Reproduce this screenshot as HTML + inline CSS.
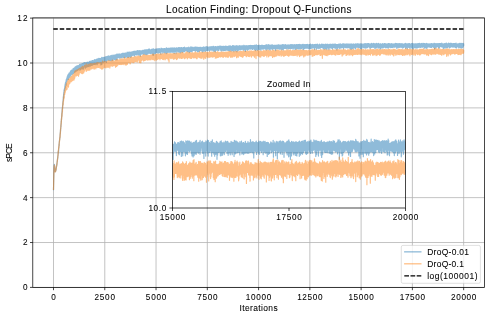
<!DOCTYPE html>
<html lang="en">
<head>
<meta charset="utf-8">
<title>Location Finding: Dropout Q-Functions</title>
<style>
html,body{margin:0;padding:0;background:#fff;}
body{width:490px;height:318px;overflow:hidden;font-family:"Liberation Sans", sans-serif;}
svg{display:block;will-change:transform;opacity:0.9999;}
svg text{stroke:#000;stroke-width:0.07px;stroke-linejoin:round;}
</style>
</head>
<body>
<svg width="490" height="318" viewBox="0 0 490 318" font-family='"Liberation Sans", sans-serif' font-size="8.45" fill="#000" stroke="none">
<rect x="0" y="0" width="490" height="318" fill="#fff"/>
<path d="M53.50 17.9V287.4M104.77 17.9V287.4M156.04 17.9V287.4M207.31 17.9V287.4M258.58 17.9V287.4M309.85 17.9V287.4M361.12 17.9V287.4M412.39 17.9V287.4M463.66 17.9V287.4M32.8 287.40H484.45M32.8 242.52H484.45M32.8 197.64H484.45M32.8 152.76H484.45M32.8 107.88H484.45M32.8 63.00H484.45M32.8 18.12H484.45" stroke="#b0b0b0" stroke-width="0.76" fill="none"/>
<clipPath id="cm"><rect x="32.8" y="17.9" width="451.65" height="269.50"/></clipPath>
<g clip-path="url(#cm)" fill="none" stroke-linejoin="round" stroke-linecap="butt">
<path d="M53.50 190.21L53.68 181.00L53.71 179.74L53.89 173.14L53.91 172.70L54.09 167.23L54.12 167.45L54.26 164.75L54.30 164.80L54.32 164.65L54.40 164.28L54.42 165.37L54.48 165.37L54.50 164.74L54.65 166.76L54.69 166.71L54.71 167.61L54.73 167.46L54.89 170.03L54.92 170.05L54.94 169.75L55.08 171.25L55.10 171.22L55.12 170.62L55.24 171.55L55.28 171.22L55.30 170.60L55.41 170.50L55.47 171.36L55.49 170.59L55.51 171.49L55.53 171.65L55.61 169.73L55.69 170.03L55.71 170.25L55.80 170.39L55.88 169.51L55.90 169.95L55.92 169.09L56.02 170.10L56.06 168.72L56.08 169.92L56.10 168.34L56.13 169.50L56.27 167.32L56.29 167.80L56.31 167.79L56.35 167.93L56.49 166.11L56.51 166.57L56.68 165.61L56.70 166.08L56.72 165.61L56.82 163.91L56.88 164.39L56.90 164.93L57.05 162.93L57.09 163.23L57.11 161.81L57.13 162.51L57.29 160.93L57.31 160.24L57.40 160.92L57.50 158.87L57.52 158.67L57.60 159.11L57.68 156.84L57.70 156.80L57.75 158.18L57.89 155.70L57.91 155.63L57.99 155.87L58.07 153.89L58.09 154.00L58.11 153.56L58.13 154.20L58.30 151.14L58.32 152.78L58.48 150.28L58.50 150.31L58.63 151.52L58.67 147.90L58.69 148.37L58.71 148.98L58.89 146.33L58.91 146.97L59.10 143.77L59.12 144.65L59.18 145.83L59.28 143.02L59.30 142.77L59.47 140.33L59.49 140.43L59.51 140.27L59.55 140.38L59.65 138.71L59.69 139.21L59.71 139.39L59.88 136.90L59.90 137.50L59.92 137.18L59.98 137.64L60.08 134.99L60.10 134.27L60.12 135.14L60.25 132.50L60.29 133.29L60.31 133.72L60.45 130.41L60.49 130.48L60.51 129.51L60.58 130.97L60.62 128.53L60.70 128.82L60.72 128.00L60.74 128.11L60.88 125.89L60.90 124.89L60.96 126.67L61.07 123.52L61.09 123.86L61.11 124.96L61.19 121.20L61.29 121.36L61.31 121.93L61.46 118.85L61.50 119.02L61.52 118.73L61.54 119.33L61.64 116.28L61.68 117.12L61.70 116.09L61.87 113.91L61.89 115.77L61.91 112.86L62.01 113.55L62.07 110.81L62.09 112.17L62.11 111.26L62.13 112.70L62.22 109.46L62.30 109.70L62.32 109.13L62.36 109.36L62.46 106.89L62.48 108.76L62.50 107.11L62.54 107.56L62.61 105.00L62.69 105.84L62.71 104.50L62.79 105.07L62.85 102.69L62.89 103.00L62.91 104.43L63.02 100.80L63.10 101.80L63.12 100.21L63.14 101.04L63.22 99.06L63.28 100.62L63.30 97.25L63.32 98.61L63.43 95.93L63.49 97.60L63.51 97.74L63.63 94.16L63.65 98.18L63.69 95.67L63.71 93.60L63.77 95.39L63.82 92.42L63.90 94.77L63.92 92.95L64.00 93.03L64.08 89.90L64.10 91.24L64.12 91.71L64.25 89.58L64.29 89.61L64.31 89.88L64.35 90.41L64.47 88.66L64.49 90.01L64.51 89.09L64.55 90.57L64.70 87.72L64.72 87.90L64.76 88.41L64.86 86.12L64.88 88.35L64.90 86.00L65.03 85.26L65.09 87.21L65.11 84.96L65.21 84.17L65.25 87.89L65.29 86.31L65.31 85.98L65.42 82.73L65.50 85.20L65.52 84.46L65.66 82.51L65.68 82.55L65.70 82.07L65.80 84.55L65.83 82.03L65.89 84.34L65.91 82.66L65.97 84.85L66.09 80.93L66.11 85.15L66.19 79.85L66.30 81.54L66.32 80.93L66.48 79.07L66.50 81.41L66.58 79.08L66.60 81.81L66.69 81.60L66.71 78.72L66.83 78.33L66.85 80.35L66.89 78.98L66.91 79.93L66.97 80.05L67.10 77.52L67.12 76.75L67.24 79.48L67.28 77.77L67.30 79.16L67.32 80.22L67.45 77.25L67.49 77.28L67.51 78.82L67.57 76.54L67.69 79.44L67.71 78.62L67.75 75.18L67.90 75.82L67.92 76.45L67.98 75.13L68.06 79.43L68.08 76.01L68.10 76.86L68.14 75.86L68.18 78.70L68.29 76.72L68.31 79.45L68.39 74.39L68.49 76.57L68.51 75.87L68.53 78.59L68.59 75.50L68.70 76.38L68.72 77.81L68.78 73.77L68.88 75.45L68.90 75.43L69.00 76.54L69.05 73.19L69.09 75.36L69.11 74.50L69.15 76.37L69.25 73.40L69.29 74.71L69.31 75.38L69.35 77.30L69.46 73.25L69.50 73.76L69.52 74.83L69.56 73.88L69.60 77.17L69.68 73.89L69.70 73.92L69.72 72.76L69.89 76.65L69.91 73.29L69.93 74.10L70.03 72.66L70.09 73.35L70.11 75.60L70.21 72.12L70.28 75.78L70.30 73.86L70.32 73.62L70.34 74.34L70.48 71.22L70.50 74.53L70.56 72.44L70.58 74.63L70.69 73.65L70.71 75.88L70.85 72.10L70.89 72.96L70.91 73.91L70.97 74.22L71.01 71.37L71.10 71.71L71.12 73.33L71.16 70.52L71.28 73.01L71.30 74.68L71.49 70.40L71.51 71.42L71.57 70.52L71.59 73.24L71.69 71.69L71.71 72.31L71.77 73.33L71.81 71.00L71.90 73.11L71.92 71.58L71.94 73.05L71.98 69.76L72.08 71.50L72.10 70.15L72.12 73.22L72.29 71.37L72.31 70.88L72.35 74.20L72.45 70.23L72.49 72.04L72.51 71.40L72.55 72.88L72.63 69.86L72.70 71.42L72.72 70.06L72.74 69.81L72.82 71.65L72.88 71.45L72.90 71.38L72.96 71.41L73.06 69.50L73.09 70.03L73.11 68.69L73.23 73.08L73.29 69.65L73.31 69.69L73.43 73.36L73.50 69.32L73.52 70.51L73.62 72.15L73.68 69.10L73.70 70.25L73.80 68.96L73.82 70.37L73.88 69.84L73.91 70.99L74.07 68.01L74.09 69.36L74.11 68.14L74.27 71.94L74.30 69.84L74.32 72.54L74.34 69.16L74.48 70.73L74.50 72.11L74.54 67.92L74.68 68.69L74.71 67.68L74.87 67.56L74.89 71.72L74.91 69.44L75.01 70.75L75.05 66.98L75.09 70.31L75.12 69.99L75.16 67.93L75.28 70.19L75.30 70.78L75.34 71.77L75.42 67.07L75.48 67.82L75.51 67.56L75.61 67.23L75.63 71.85L75.69 68.80L75.71 68.36L75.77 67.39L75.79 71.32L75.89 69.50L75.92 69.14L76.04 70.15L76.08 66.24L76.10 67.49L76.12 68.03L76.22 67.45L76.28 69.64L76.30 68.21L76.33 69.21L76.37 67.10L76.49 68.39L76.51 67.27L76.53 69.33L76.55 66.75L76.69 66.83L76.72 68.84L76.74 70.95L76.90 66.22L76.92 67.47L76.98 65.76L77.08 68.43L77.10 68.98L77.21 65.70L77.29 67.16L77.31 66.58L77.37 69.65L77.49 67.48L77.51 66.98L77.62 65.98L77.64 70.34L77.70 67.83L77.72 68.35L77.80 69.79L77.88 67.08L77.90 66.66L77.95 67.86L78.03 65.96L78.09 66.41L78.11 68.91L78.19 69.40L78.27 66.18L78.29 67.23L78.31 67.34L78.42 65.52L78.46 68.94L78.50 68.86L78.52 68.49L78.54 65.80L78.58 68.91L78.68 67.35L78.70 66.66L78.81 65.64L78.85 68.82L78.89 66.56L78.91 67.31L78.97 67.95L78.99 65.50L79.09 66.45L79.11 70.11L79.28 64.98L79.30 67.23L79.32 68.21L79.48 65.88L79.50 67.37L79.57 64.42L79.59 67.43L79.69 65.69L79.71 65.37L79.75 67.24L79.89 65.10L79.91 66.31L79.93 68.33L80.08 64.89L80.10 65.44L80.12 66.52L80.24 64.91L80.26 68.51L80.28 66.08L80.30 67.41L80.41 68.30L80.43 65.24L80.49 66.09L80.51 69.79L80.67 64.61L80.69 66.18L80.71 66.44L80.73 68.22L80.78 64.05L80.90 67.63L80.92 66.36L80.96 65.24L81.04 67.66L81.08 66.89L81.10 67.66L81.17 68.41L81.27 64.28L81.29 67.86L81.31 66.78L81.39 64.44L81.45 67.55L81.49 65.61L81.51 67.61L81.62 65.26L81.66 68.14L81.70 65.43L81.72 66.51L81.82 68.70L81.84 63.73L81.88 64.87L81.90 64.63L82.03 69.15L82.05 63.56L82.09 64.13L82.11 66.79L82.15 64.27L82.25 68.57L82.29 65.56L82.31 66.83L82.38 63.95L82.50 64.70L82.52 67.08L82.56 67.18L82.60 64.08L82.68 66.90L82.70 67.01L82.74 63.56L82.89 65.16L82.91 64.83L82.97 67.59L83.09 64.92L83.11 67.12L83.20 63.83L83.28 67.19L83.30 63.94L83.32 66.05L83.34 69.11L83.36 63.20L83.48 67.07L83.50 66.02L83.61 63.27L83.67 67.63L83.69 66.69L83.71 63.93L83.79 66.38L83.89 64.45L83.91 65.75L83.93 66.15L84.02 62.97L84.10 66.03L84.12 66.09L84.26 66.44L84.28 63.50L84.30 64.45L84.43 62.81L84.45 66.39L84.49 63.39L84.51 64.46L84.55 63.69L84.61 65.90L84.69 64.68L84.71 64.36L84.75 63.08L84.90 66.93L84.92 64.01L84.94 62.51L84.96 67.16L85.08 64.53L85.10 63.33L85.21 63.24L85.27 66.20L85.29 63.96L85.31 64.75L85.33 68.22L85.41 63.18L85.49 64.45L85.51 63.14L85.55 65.61L85.70 65.18L85.72 62.80L85.76 65.88L85.88 64.42L85.90 66.60L86.07 62.57L86.09 63.70L86.11 64.78L86.13 63.63L86.23 66.93L86.29 64.82L86.31 66.42L86.48 63.02L86.50 65.07L86.52 64.84L86.62 63.19L86.64 67.17L86.68 65.42L86.70 65.51L86.89 62.64L86.91 63.79L86.97 65.20L87.07 63.00L87.09 64.64L87.11 63.86L87.13 65.29L87.19 62.22L87.30 63.35L87.32 63.80L87.34 62.25L87.44 65.72L87.48 64.02L87.50 64.21L87.52 66.72L87.54 63.07L87.69 64.97L87.71 63.58L87.85 65.08L87.87 62.45L87.89 63.00L87.91 64.32L87.93 63.04L88.10 66.51L88.12 63.25L88.14 65.47L88.28 63.11L88.30 63.13L88.40 66.27L88.43 62.50L88.49 63.29L88.51 62.65L88.63 63.70L88.65 62.28L88.69 63.48L88.71 64.64L88.75 62.80L88.86 66.39L88.90 62.87L88.92 64.38L88.96 66.62L89.02 62.63L89.08 63.71L89.10 62.66L89.16 61.58L89.25 64.60L89.29 61.88L89.31 64.19L89.33 65.53L89.41 62.27L89.49 65.05L89.51 62.39L89.55 61.44L89.68 64.72L89.70 62.89L89.72 62.00L89.82 64.53L89.88 62.90L89.90 63.09L89.92 62.12L89.96 65.10L90.09 64.25L90.11 62.25L90.15 65.91L90.17 62.15L90.29 63.48L90.31 62.70L90.33 66.06L90.48 61.43L90.50 64.01L90.52 62.76L90.56 61.72L90.66 63.84L90.68 63.36L90.70 61.33L90.76 61.09L90.85 64.31L90.89 61.77L90.91 63.53L91.01 62.29L91.03 65.45L91.09 63.13L91.11 62.51L91.15 62.23L91.21 64.43L91.30 62.70L91.32 61.76L91.36 61.36L91.40 64.01L91.48 62.70L91.50 61.59L91.67 63.22L91.69 61.13L91.71 62.75L91.83 64.12L91.89 60.79L91.91 62.36L91.95 63.72L92.01 60.98L92.10 63.70L92.12 62.53L92.16 65.52L92.26 61.13L92.28 62.18L92.30 61.48L92.32 61.16L92.34 63.01L92.49 62.26L92.51 62.55L92.57 63.39L92.69 60.63L92.71 61.10L92.77 60.49L92.81 62.38L92.90 62.28L92.92 60.50L92.98 63.39L93.08 61.04L93.10 63.49L93.14 63.85L93.29 61.61L93.31 60.77L93.33 64.55L93.49 61.97L93.51 62.24L93.57 63.93L93.68 60.88L93.70 63.28L93.72 62.88L93.74 60.62L93.86 63.88L93.88 61.91L93.90 63.46L93.94 61.05L94.09 62.82L94.11 60.36L94.15 63.15L94.23 60.26L94.29 61.91L94.31 63.33L94.37 59.72L94.41 64.44L94.50 62.74L94.52 62.14L94.60 60.96L94.66 63.35L94.68 62.58L94.70 61.05L94.72 63.65L94.84 60.44L94.89 61.39L94.91 63.79L94.97 60.11L95.09 61.14L95.11 63.40L95.15 60.34L95.25 64.59L95.30 61.34L95.32 62.01L95.34 59.74L95.42 62.66L95.48 62.05L95.50 61.93L95.66 59.80L95.68 62.47L95.71 61.64L95.73 63.01L95.79 60.04L95.89 62.70L95.91 61.24L95.93 63.43L96.05 59.67L96.10 59.87L96.12 60.65L96.16 62.58L96.20 59.72L96.28 60.85L96.30 59.51L96.38 59.42L96.42 63.97L96.48 59.50L96.51 61.48L96.57 59.70L96.69 61.03L96.71 62.10L96.73 59.93L96.75 62.69L96.89 60.28L96.92 60.70L97.00 62.86L97.08 59.87L97.10 60.26L97.12 64.70L97.20 58.95L97.28 60.52L97.31 60.24L97.35 61.99L97.37 59.47L97.49 61.60L97.51 61.31L97.57 62.31L97.67 59.41L97.69 60.27L97.72 59.93L97.76 59.20L97.78 63.09L97.90 61.10L97.92 61.45L97.96 62.44L97.98 59.39L98.08 61.95L98.10 61.23L98.17 62.30L98.25 59.00L98.29 60.91L98.31 62.54L98.35 62.61L98.47 59.26L98.49 61.28L98.52 60.87L98.64 62.14L98.68 58.47L98.70 61.59L98.72 59.55L98.84 58.79L98.86 62.77L98.88 60.01L98.90 60.06L99.05 62.90L99.09 58.50L99.11 59.41L99.13 59.38L99.29 62.64L99.31 60.44L99.42 61.65L99.50 58.49L99.52 59.88L99.60 61.22L99.62 58.89L99.68 59.54L99.70 59.44L99.73 58.79L99.89 62.03L99.91 61.17L99.95 58.45L100.07 61.30L100.09 61.18L100.11 59.94L100.16 61.25L100.22 59.06L100.30 60.17L100.32 60.72L100.40 58.80L100.42 62.01L100.48 59.76L100.50 60.42L100.59 61.26L100.61 58.70L100.69 60.70L100.71 58.84L100.89 65.02L100.91 59.72L100.94 62.15L100.98 58.76L101.10 60.41L101.12 60.81L101.14 58.67L101.28 58.93L101.30 59.47L101.35 60.57L101.37 58.26L101.49 60.09L101.51 57.79L101.59 61.31L101.69 60.96L101.71 61.31L101.82 57.47L101.90 64.37L101.92 60.20L102.06 58.23L102.08 60.73L102.10 60.00L102.12 61.13L102.14 58.08L102.29 59.65L102.31 58.94L102.35 58.63L102.43 59.89L102.49 59.10L102.51 59.82L102.56 58.53L102.64 61.36L102.70 60.27L102.72 60.71L102.74 58.63L102.88 58.73L102.90 59.25L102.94 60.53L103.07 57.33L103.09 59.57L103.11 58.91L103.15 62.57L103.21 57.99L103.29 59.03L103.31 59.81L103.35 60.77L103.42 57.54L103.50 58.20L103.52 57.71L103.68 61.74L103.70 59.84L103.72 61.61L103.89 57.49L103.91 60.45L103.93 58.09L104.09 59.11L104.11 60.72L104.15 58.43L104.22 61.30L104.30 59.60L104.32 58.09L104.42 59.45L104.44 57.90L104.48 58.76L104.50 58.87L104.65 57.75L104.69 61.46L104.71 57.68L104.81 57.14L104.85 60.71L104.89 59.26L104.91 57.23L104.95 61.65L105.10 61.13L105.12 57.72L105.16 56.92L105.26 59.40L105.28 58.07L105.30 59.29L105.32 60.91L105.34 57.06L105.49 59.26L105.51 58.62L105.53 57.66L105.61 59.91L105.69 58.21L105.71 58.63L105.73 60.21L105.86 57.75L105.90 59.26L105.92 57.55L106.00 59.42L106.06 57.24L106.08 57.26L106.10 58.84L106.23 56.65L106.27 59.91L106.29 57.36L106.31 58.96L106.35 62.51L106.45 57.04L106.49 57.61L106.51 59.30L106.55 57.49L106.60 60.01L106.70 58.87L106.72 60.30L106.76 56.93L106.88 58.74L106.90 58.25L106.96 59.71L107.01 57.36L107.09 58.24L107.11 57.56L107.29 59.97L107.31 58.36L107.42 60.06L107.48 56.55L107.50 57.67L107.52 59.23L107.58 60.00L107.60 56.26L107.68 56.70L107.70 57.93L107.76 59.83L107.81 56.90L107.89 58.93L107.91 56.84L108.05 59.48L108.09 56.38L108.11 58.69L108.17 57.23L108.22 60.03L108.30 57.56L108.32 58.40L108.36 55.86L108.46 59.26L108.48 58.62L108.50 59.28L108.58 59.69L108.69 57.05L108.71 58.36L108.77 56.18L108.87 60.24L108.89 58.82L108.91 57.25L108.97 57.06L108.99 59.11L109.10 59.03L109.12 56.33L109.16 56.27L109.24 59.44L109.28 57.23L109.30 59.34L109.43 60.02L109.45 56.45L109.49 58.29L109.51 58.98L109.53 59.85L109.65 56.45L109.69 58.42L109.71 56.59L109.79 59.60L109.90 57.21L109.92 57.52L109.94 57.51L109.98 60.40L110.08 59.13L110.10 58.96L110.27 56.10L110.29 58.40L110.31 56.60L110.37 58.55L110.39 55.99L110.49 57.56L110.51 57.80L110.53 56.46L110.66 58.79L110.70 57.10L110.72 56.08L110.80 59.43L110.88 58.32L110.90 56.72L110.96 58.38L111.09 56.14L111.11 58.80L111.13 60.82L111.21 56.87L111.29 58.52L111.31 57.49L111.35 55.43L111.46 59.36L111.50 58.21L111.52 56.57L111.58 58.93L111.66 56.34L111.68 58.04L111.70 56.39L111.76 59.80L111.82 56.11L111.89 57.75L111.91 57.71L112.07 58.20L112.09 55.83L112.11 57.02L112.15 55.98L112.28 60.06L112.30 56.14L112.32 59.53L112.46 55.71L112.48 56.84L112.50 56.37L112.52 57.83L112.69 57.69L112.71 57.96L112.81 60.63L112.89 55.15L112.91 60.42L112.95 55.75L113.10 57.35L113.12 56.15L113.22 55.99L113.26 58.80L113.28 57.07L113.30 57.87L113.42 56.09L113.49 57.56L113.51 57.52L113.53 58.28L113.59 55.26L113.69 56.97L113.71 55.66L113.75 57.85L113.90 57.19L113.92 57.38L113.94 59.27L113.96 56.08L114.08 56.84L114.10 58.85L114.22 55.18L114.29 56.67L114.31 57.01L114.35 55.81L114.37 58.29L114.49 58.10L114.51 55.25L114.63 59.60L114.70 56.78L114.72 56.98L114.76 56.14L114.78 59.29L114.88 56.82L114.90 56.96L114.96 55.04L115.00 58.67L115.09 57.91L115.11 55.73L115.15 57.92L115.29 56.52L115.31 55.77L115.35 58.44L115.50 55.35L115.52 59.77L115.56 54.76L115.68 56.44L115.70 56.71L115.76 55.88L115.82 57.22L115.89 56.63L115.91 57.81L115.93 55.13L115.97 58.06L116.09 56.27L116.11 57.05L116.17 59.20L116.27 54.69L116.30 56.79L116.32 54.73L116.36 56.31L116.48 56.19L116.50 55.17L116.54 57.46L116.69 55.91L116.71 55.41L116.79 54.10L116.87 59.95L116.89 56.44L116.91 56.10L116.93 54.70L117.03 59.47L117.10 55.59L117.12 56.14L117.24 55.22L117.28 57.76L117.30 57.79L117.48 54.44L117.51 55.93L117.55 57.63L117.61 55.42L117.69 57.36L117.71 54.97L117.75 54.22L117.85 57.68L117.90 55.97L117.92 55.73L117.96 55.15L118.04 56.31L118.08 55.19L118.10 55.97L118.16 57.65L118.24 54.65L118.28 55.20L118.31 54.83L118.41 57.06L118.49 54.35L118.51 56.25L118.57 56.70L118.63 54.53L118.69 56.14L118.72 57.54L118.82 54.49L118.88 55.65L118.90 55.66L119.00 53.90L119.08 57.51L119.11 54.77L119.19 53.92L119.21 56.79L119.29 55.33L119.31 55.81L119.47 54.30L119.49 55.26L119.52 55.84L119.64 58.21L119.68 55.10L119.70 55.54L119.72 56.76L119.74 54.59L119.78 57.08L119.88 55.47L119.90 57.01L119.99 57.76L120.03 55.04L120.09 56.67L120.11 57.31L120.25 54.31L120.29 56.07L120.32 54.85L120.38 57.25L120.48 54.32L120.50 56.00L120.52 56.33L120.60 57.59L120.68 54.20L120.70 57.08L120.77 54.35L120.85 57.10L120.89 56.12L120.91 56.61L121.05 54.20L121.09 54.97L121.11 55.85L121.14 57.86L121.28 54.07L121.30 56.45L121.32 56.40L121.42 53.93L121.44 57.48L121.48 55.32L121.50 55.44L121.59 55.83L121.69 54.42L121.71 55.33L121.87 56.46L121.89 55.05L121.91 54.78L121.94 57.35L122.08 53.53L122.10 56.44L122.12 55.34L122.16 56.42L122.22 53.39L122.28 54.59L122.30 55.12L122.32 56.55L122.41 54.18L122.49 56.39L122.51 55.30L122.59 56.04L122.63 53.44L122.69 55.37L122.71 54.02L122.82 56.21L122.90 54.96L122.92 54.11L122.98 56.08L123.08 54.20L123.10 57.48L123.25 53.65L123.29 54.90L123.31 55.58L123.33 57.14L123.41 54.14L123.49 54.64L123.51 53.43L123.64 56.19L123.70 55.38L123.72 53.36L123.74 57.86L123.88 55.91L123.90 56.73L123.94 53.60L123.99 57.59L124.09 55.25L124.11 55.33L124.17 57.45L124.21 53.38L124.29 54.93L124.31 54.92L124.42 55.68L124.48 53.65L124.50 54.43L124.52 54.89L124.62 53.29L124.68 55.18L124.70 53.94L124.79 56.90L124.89 53.78L124.91 55.27L125.01 57.19L125.07 54.26L125.09 54.61L125.11 53.84L125.26 55.73L125.30 54.58L125.32 54.95L125.36 53.21L125.42 57.37L125.48 57.23L125.50 54.32L125.63 56.32L125.67 53.00L125.69 54.51L125.71 54.11L125.85 53.44L125.89 56.36L125.91 55.59L125.93 56.39L125.95 53.56L126.10 55.41L126.12 54.34L126.14 53.88L126.20 57.03L126.28 54.90L126.30 55.19L126.32 53.78L126.47 55.84L126.49 54.76L126.51 53.36L126.61 55.98L126.65 53.16L126.69 53.70L126.71 53.72L126.88 55.17L126.90 54.61L126.92 55.37L126.96 56.87L127.00 52.51L127.08 53.19L127.10 54.47L127.19 52.14L127.23 54.85L127.29 53.88L127.31 53.56L127.43 55.94L127.49 54.27L127.51 55.89L127.64 53.39L127.66 57.36L127.70 56.13L127.72 54.64L127.82 52.62L127.88 55.66L127.90 55.38L127.92 53.20L128.01 55.55L128.09 54.84L128.11 53.64L128.17 53.12L128.25 57.52L128.29 54.37L128.31 54.00L128.35 55.66L128.48 52.82L128.50 55.01L128.52 52.42L128.62 55.67L128.68 52.76L128.70 54.41L128.72 55.83L128.78 52.36L128.89 54.29L128.91 54.88L128.95 57.15L129.01 52.07L129.09 55.32L129.11 54.58L129.13 56.15L129.15 52.72L129.30 54.84L129.32 54.59L129.40 55.14L129.42 52.89L129.48 53.65L129.50 53.08L129.58 54.86L129.69 52.08L129.71 53.55L129.83 52.94L129.89 55.42L129.91 52.84L130.02 52.76L130.10 56.60L130.12 53.48L130.16 54.99L130.28 51.99L130.30 55.53L130.36 56.09L130.47 52.71L130.49 54.09L130.51 54.88L130.53 57.15L130.65 52.27L130.69 52.90L130.71 54.99L130.90 52.52L130.92 53.45L130.94 57.09L131.00 52.76L131.08 52.99L131.10 54.07L131.20 55.53L131.23 53.01L131.29 53.22L131.31 52.52L131.41 52.17L131.49 55.99L131.51 52.25L131.64 55.34L131.70 53.99L131.72 52.09L131.78 55.67L131.88 54.32L131.90 54.87L132.09 51.78L132.11 53.24L132.19 55.41L132.25 51.77L132.29 52.77L132.31 53.35L132.41 52.55L132.46 55.46L132.50 55.30L132.52 54.92L132.66 52.20L132.68 52.98L132.70 53.34L132.74 54.95L132.89 52.11L132.91 52.60L133.05 51.92L133.09 54.32L133.11 52.81L133.28 51.76L133.30 54.52L133.32 51.88L133.44 55.12L133.48 54.33L133.50 51.32L133.60 54.63L133.69 53.90L133.71 53.70L133.73 52.06L133.77 55.27L133.89 52.35L133.91 53.86L133.93 51.89L134.08 54.75L134.10 52.29L134.12 54.59L134.18 51.46L134.28 55.60L134.30 53.05L134.32 51.38L134.40 53.93L134.49 52.70L134.51 53.41L134.57 51.81L134.63 56.04L134.69 54.01L134.71 55.38L134.83 51.94L134.90 53.56L134.92 51.64L134.98 54.55L135.08 52.61L135.10 52.67L135.20 51.17L135.22 54.27L135.29 53.09L135.31 53.79L135.33 54.40L135.39 51.72L135.49 53.61L135.51 52.72L135.59 51.79L135.68 54.52L135.70 52.86L135.72 52.58L135.76 52.35L135.82 54.47L135.88 53.30L135.90 52.92L135.94 54.72L136.07 51.69L136.09 52.34L136.11 52.82L136.13 53.92L136.27 52.19L136.29 52.57L136.31 52.48L136.37 53.88L136.48 51.01L136.50 53.55L136.52 52.96L136.56 54.00L136.60 51.27L136.68 52.60L136.70 51.86L136.84 55.09L136.89 50.92L136.91 51.54L137.07 51.49L137.09 55.06L137.11 52.37L137.23 54.36L137.28 51.04L137.30 52.07L137.32 52.11L137.36 53.90L137.44 50.72L137.48 52.19L137.50 51.29L137.52 54.09L137.64 51.15L137.69 51.86L137.71 52.95L137.77 53.71L137.85 51.24L137.89 53.41L137.91 52.41L138.07 54.15L138.10 51.07L138.12 52.67L138.20 51.02L138.26 54.16L138.28 51.69L138.30 52.72L138.38 51.10L138.40 54.62L138.49 52.88L138.51 52.01L138.57 51.54L138.63 54.02L138.69 52.99L138.71 51.44L138.73 54.87L138.90 52.87L138.92 53.78L138.96 50.74L138.98 55.23L139.08 52.36L139.10 51.58L139.22 51.16L139.26 53.97L139.28 51.96L139.31 50.89L139.37 50.53L139.39 53.45L139.49 51.04L139.51 53.31L139.55 54.11L139.67 51.36L139.70 52.45L139.72 51.70L139.84 51.38L139.86 54.63L139.88 54.14L139.90 54.80L139.94 51.32L140.08 52.08L140.11 54.83L140.15 51.06L140.29 53.30L140.31 56.19L140.45 51.41L140.49 52.99L140.52 51.49L140.54 54.01L140.62 51.36L140.68 53.16L140.70 51.95L140.78 53.55L140.88 50.66L140.91 52.72L140.95 50.96L141.01 53.30L141.09 52.06L141.11 51.00L141.29 54.14L141.32 52.10L141.44 53.23L141.46 51.42L141.50 51.64L141.52 53.29L141.56 54.00L141.68 51.29L141.70 51.86L141.83 52.46L141.87 51.05L141.89 51.25L141.91 52.41L141.93 53.45L141.99 51.04L142.09 52.16L142.12 50.59L142.20 53.03L142.30 51.98L142.32 52.15L142.36 50.75L142.40 53.86L142.48 51.43L142.50 51.56L142.59 53.53L142.65 50.72L142.69 50.85L142.71 50.78L142.77 52.55L142.89 51.57L142.91 51.58L142.98 53.11L143.06 50.21L143.10 52.80L143.12 51.60L143.14 54.14L143.26 50.88L143.28 51.12L143.30 50.82L143.41 52.48L143.43 50.55L143.49 51.14L143.51 51.03L143.53 53.35L143.63 50.65L143.69 51.82L143.71 53.14L143.80 54.06L143.88 50.77L143.90 53.21L143.92 51.28L144.00 51.13L144.08 53.34L144.10 51.23L144.21 50.44L144.27 53.81L144.29 51.83L144.31 51.28L144.45 52.77L144.47 50.09L144.49 52.28L144.51 50.66L144.56 52.72L144.66 50.13L144.70 51.69L144.72 50.69L144.78 49.95L144.88 54.18L144.90 50.72L145.01 52.82L145.05 49.83L145.09 50.95L145.11 53.34L145.17 50.92L145.27 53.34L145.29 51.07L145.31 53.16L145.42 50.70L145.50 50.81L145.52 53.74L145.66 50.60L145.68 54.39L145.70 51.64L145.72 50.00L145.81 53.17L145.89 52.32L145.91 51.81L145.95 53.56L146.01 49.84L146.09 52.38L146.11 54.21L146.18 49.74L146.30 51.66L146.32 54.14L146.48 50.07L146.50 51.72L146.57 54.59L146.61 50.57L146.69 53.84L146.71 51.74L146.81 49.93L146.89 53.73L146.91 50.86L147.04 50.00L147.08 53.29L147.10 50.31L147.12 50.84L147.18 49.63L147.24 53.54L147.28 52.10L147.30 51.41L147.37 49.96L147.45 52.75L147.49 50.77L147.51 51.65L147.53 49.83L147.61 53.27L147.69 50.64L147.71 54.24L147.78 50.18L147.90 51.10L147.92 53.72L148.00 50.24L148.08 50.89L148.10 51.54L148.23 49.77L148.25 53.02L148.29 49.87L148.31 51.70L148.33 53.09L148.35 50.08L148.49 51.74L148.51 52.44L148.62 50.56L148.66 52.72L148.70 51.48L148.72 49.94L148.80 52.49L148.88 50.63L148.90 51.49L148.94 52.36L149.01 48.81L149.09 50.26L149.11 53.08L149.19 49.89L149.29 52.74L149.31 50.75L149.44 52.81L149.48 49.91L149.50 50.02L149.52 51.62L149.58 49.69L149.60 52.83L149.68 52.02L149.70 50.53L149.74 49.34L149.87 52.29L149.89 50.90L149.91 52.60L150.05 50.37L150.09 52.31L150.11 50.36L150.13 53.48L150.22 50.21L150.30 50.54L150.32 51.88L150.36 52.62L150.40 50.30L150.48 51.63L150.50 50.54L150.56 53.60L150.63 50.23L150.69 50.31L150.71 51.43L150.79 50.05L150.89 52.52L150.91 52.06L150.95 52.81L151.08 49.95L151.10 51.40L151.12 51.22L151.16 49.48L151.20 51.97L151.28 50.77L151.30 49.24L151.32 53.09L151.49 52.67L151.51 49.83L151.55 49.69L151.67 51.82L151.69 50.32L151.71 50.28L151.75 53.28L151.86 49.28L151.90 51.85L151.92 49.71L152.02 51.82L152.08 50.76L152.10 49.42L152.14 53.79L152.29 51.56L152.31 50.23L152.37 49.68L152.39 53.92L152.49 50.95L152.51 51.31L152.53 49.20L152.59 52.01L152.70 51.56L152.72 50.21L152.74 52.77L152.88 49.38L152.90 50.14L153.03 49.04L153.05 51.02L153.09 50.84L153.11 55.39L153.29 49.37L153.31 50.34L153.33 51.81L153.35 49.55L153.50 49.71L153.52 50.22L153.54 51.57L153.62 48.74L153.68 49.75L153.70 50.06L153.83 51.02L153.87 49.97L153.89 50.03L153.91 54.62L154.09 49.30L154.11 51.33L154.15 49.42L154.19 53.07L154.30 50.25L154.32 50.94L154.34 49.90L154.46 51.14L154.48 50.65L154.50 51.68L154.52 52.04L154.54 49.57L154.69 51.50L154.71 49.84L154.75 49.75L154.77 52.86L154.89 51.76L154.91 50.57L154.93 53.25L155.06 49.32L155.10 53.02L155.12 53.47L155.28 49.19L155.30 50.81L155.32 53.41L155.40 49.33L155.49 51.38L155.51 50.13L155.53 51.21L155.55 49.55L155.69 50.81L155.71 50.03L155.73 51.59L155.86 49.92L155.90 50.16L155.92 49.32L155.96 52.37L156.08 50.16L156.10 50.81L156.18 50.07L156.29 52.35L156.31 51.33L156.43 49.92L156.47 52.36L156.49 50.51L156.51 51.72L156.53 49.16L156.70 49.77L156.72 49.54L156.74 51.53L156.76 49.15L156.88 51.03L156.90 48.80L157.09 51.81L157.11 50.96L157.17 49.28L157.21 51.58L157.29 50.55L157.31 50.18L157.33 52.53L157.35 49.77L157.50 50.38L157.52 50.33L157.54 49.03L157.58 51.18L157.68 49.15L157.70 50.98L157.78 51.46L157.82 49.68L157.89 50.89L157.91 51.91L157.93 49.21L157.95 53.20L158.09 50.21L158.11 51.59L158.19 49.27L158.28 51.69L158.30 50.15L158.32 49.95L158.34 51.98L158.36 49.29L158.48 50.71L158.50 50.31L158.54 49.25L158.58 52.93L158.69 50.11L158.71 51.38L158.73 48.72L158.89 52.14L158.91 51.58L158.95 52.02L159.05 49.86L159.10 50.92L159.12 50.34L159.16 51.07L159.26 48.82L159.28 48.96L159.30 50.74L159.34 49.34L159.46 52.08L159.49 50.88L159.51 52.63L159.53 48.64L159.69 51.28L159.71 49.93L159.83 51.81L159.85 48.93L159.90 50.69L159.92 50.78L160.04 52.70L160.08 49.32L160.10 50.02L160.20 51.16L160.29 48.99L160.31 49.91L160.39 49.14L160.45 51.08L160.49 50.01L160.51 50.33L160.59 48.93L160.70 51.13L160.72 50.53L160.82 49.53L160.84 54.20L160.88 52.30L160.90 50.10L160.96 49.12L161.04 52.41L161.08 50.22L161.11 50.76L161.15 48.15L161.19 52.28L161.29 51.35L161.31 49.74L161.35 51.72L161.41 49.48L161.50 50.02L161.52 48.66L161.60 51.22L161.68 49.70L161.70 49.33L161.78 48.48L161.80 51.38L161.88 49.61L161.91 50.04L161.95 49.12L162.07 51.40L162.09 49.53L162.11 48.83L162.25 48.74L162.27 51.32L162.29 49.44L162.32 49.91L162.44 49.14L162.46 51.67L162.48 50.68L162.50 50.48L162.60 52.01L162.64 49.69L162.68 51.12L162.71 48.87L162.89 53.18L162.91 52.72L162.95 49.27L163.09 49.73L163.12 49.11L163.22 51.08L163.30 49.31L163.32 49.68L163.36 51.87L163.46 49.09L163.48 49.38L163.50 50.85L163.59 48.78L163.63 52.18L163.69 49.97L163.71 49.43L163.73 48.52L163.79 52.08L163.89 50.06L163.92 48.86L164.02 52.04L164.08 48.57L164.10 50.13L164.12 50.31L164.16 49.22L164.26 52.20L164.28 49.41L164.30 49.94L164.41 48.63L164.49 51.35L164.51 50.80L164.53 52.09L164.55 48.61L164.69 50.78L164.71 49.01L164.78 48.96L164.86 52.68L164.90 51.50L164.92 49.11L164.96 52.15L165.08 51.63L165.10 50.49L165.17 49.27L165.25 51.93L165.29 50.40L165.31 50.61L165.35 52.22L165.39 49.35L165.49 49.49L165.51 50.08L165.58 48.82L165.60 52.71L165.70 51.30L165.72 49.90L165.84 48.37L165.88 51.00L165.90 49.18L165.97 48.57L166.09 53.71L166.11 50.55L166.13 48.57L166.15 51.98L166.29 49.21L166.31 51.38L166.36 48.50L166.42 53.11L166.50 50.01L166.52 47.91L166.56 50.96L166.68 49.72L166.70 51.23L166.87 48.41L166.89 48.67L166.91 49.98L166.93 49.15L166.97 51.51L167.09 50.44L167.11 49.49L167.20 51.91L167.26 48.53L167.30 50.01L167.32 51.27L167.36 49.22L167.38 51.53L167.48 49.41L167.50 51.55L167.65 48.25L167.69 49.60L167.71 48.89L167.73 52.55L167.89 50.33L167.91 51.20L167.93 48.61L167.96 51.32L168.10 50.25L168.12 49.84L168.20 52.24L168.22 48.26L168.28 49.55L168.30 50.38L168.41 51.45L168.45 49.34L168.49 49.83L168.51 52.24L168.69 49.28L168.71 50.17L168.73 51.49L168.88 48.85L168.90 49.16L168.92 48.94L169.06 48.08L169.08 49.81L169.10 50.05L169.21 52.08L169.23 49.54L169.29 49.68L169.31 48.84L169.33 48.48L169.45 52.19L169.49 49.81L169.51 49.23L169.62 51.79L169.66 48.55L169.70 49.46L169.72 50.82L169.74 48.62L169.88 49.62L169.90 49.37L169.96 49.36L170.05 51.41L170.09 50.27L170.11 49.76L170.13 48.78L170.25 52.40L170.29 49.62L170.31 49.69L170.38 48.15L170.42 50.65L170.50 48.75L170.52 49.61L170.58 50.83L170.60 48.92L170.68 48.92L170.70 50.11L170.79 51.42L170.87 48.45L170.89 49.40L170.91 49.05L171.03 48.30L171.07 50.64L171.09 48.77L171.11 49.43L171.17 48.61L171.28 50.46L171.30 50.15L171.32 50.10L171.34 50.33L171.40 48.25L171.48 48.61L171.50 50.08L171.52 49.09L171.65 51.02L171.69 49.72L171.71 49.60L171.83 52.28L171.87 48.45L171.89 51.75L171.91 49.26L172.04 47.96L172.08 50.43L172.10 49.21L172.12 50.12L172.14 51.08L172.18 47.98L172.28 49.90L172.30 50.07L172.34 51.19L172.41 48.10L172.49 49.73L172.51 51.07L172.55 52.12L172.59 48.35L172.69 50.11L172.71 50.03L172.75 48.13L172.86 50.95L172.90 49.29L172.92 49.27L172.98 51.55L173.00 48.83L173.08 50.20L173.10 50.72L173.12 51.58L173.21 48.04L173.29 48.61L173.31 49.15L173.39 48.62L173.41 51.97L173.49 51.83L173.51 48.95L173.64 51.64L173.70 49.58L173.72 49.53L173.76 47.99L173.80 50.87L173.88 50.18L173.90 50.45L173.92 48.27L174.09 53.43L174.11 49.26L174.15 48.07L174.25 51.55L174.29 48.66L174.31 48.55L174.37 47.78L174.44 51.11L174.50 48.78L174.52 49.46L174.58 51.65L174.60 48.69L174.68 49.26L174.70 48.28L174.78 51.16L174.89 48.87L174.91 49.13L175.03 51.42L175.05 48.48L175.09 48.79L175.11 49.49L175.13 48.58L175.17 50.47L175.30 48.79L175.32 49.28L175.34 51.18L175.40 48.11L175.48 49.59L175.50 49.51L175.54 51.10L175.67 48.35L175.69 50.12L175.71 50.58L175.73 49.09L175.77 52.02L175.89 49.68L175.91 50.06L175.97 48.65L176.04 53.58L176.10 49.27L176.12 51.22L176.14 48.31L176.28 49.89L176.30 50.96L176.42 48.08L176.49 49.31L176.51 48.46L176.59 47.94L176.61 51.03L176.69 49.80L176.71 49.73L176.79 48.19L176.81 50.79L176.90 49.09L176.92 48.53L177.00 47.84L177.02 50.10L177.08 49.24L177.10 49.96L177.20 51.08L177.22 48.25L177.29 49.32L177.31 49.01L177.43 48.35L177.49 51.22L177.51 48.82L177.59 48.33L177.68 51.28L177.70 49.83L177.72 49.77L177.80 50.35L177.86 48.55L177.88 48.68L177.90 49.21L177.98 48.14L178.00 52.26L178.09 50.49L178.11 49.04L178.17 51.48L178.27 47.99L178.29 49.22L178.31 50.16L178.35 50.48L178.50 47.69L178.52 50.84L178.54 48.33L178.58 51.42L178.68 49.49L178.70 48.72L178.82 48.03L178.87 50.13L178.89 48.76L178.91 48.92L178.93 51.54L179.09 47.87L179.11 49.41L179.13 50.55L179.23 48.50L179.30 49.02L179.32 49.44L179.38 48.64L179.48 52.22L179.50 49.78L179.58 47.96L179.69 50.49L179.71 47.48L179.81 50.70L179.89 49.56L179.91 48.09L179.93 50.22L180.10 49.86L180.12 48.91L180.16 50.52L180.28 49.95L180.30 49.28L180.34 52.79L180.44 48.75L180.49 49.05L180.51 49.78L180.55 51.02L180.63 47.90L180.69 49.42L180.71 49.21L180.77 47.80L180.79 51.39L180.90 49.49L180.92 49.76L180.94 50.43L181.02 48.71L181.08 49.92L181.10 48.92L181.16 50.32L181.26 48.40L181.29 49.80L181.31 49.23L181.35 51.87L181.45 48.83L181.49 51.16L181.51 47.62L181.63 50.99L181.70 50.09L181.72 48.16L181.74 51.07L181.86 47.68L181.88 49.78L181.90 49.15L181.92 48.57L182.06 51.00L182.09 48.96L182.11 51.06L182.13 47.75L182.29 50.04L182.31 48.40L182.37 51.23L182.50 49.38L182.52 48.27L182.54 52.15L182.68 49.94L182.70 48.77L182.80 48.38L182.84 51.83L182.88 49.24L182.91 50.23L182.95 51.23L182.97 47.84L183.09 48.98L183.11 48.80L183.13 48.39L183.25 50.28L183.30 48.58L183.32 50.13L183.36 48.25L183.44 51.23L183.48 49.46L183.50 48.10L183.52 47.60L183.62 50.16L183.68 49.29L183.71 49.55L183.79 48.22L183.87 50.88L183.89 49.91L183.91 48.23L183.93 47.56L184.01 51.86L184.09 50.74L184.12 51.09L184.14 48.51L184.24 51.42L184.28 49.90L184.30 50.29L184.42 48.33L184.48 51.47L184.51 50.39L184.55 47.21L184.69 51.00L184.71 49.52L184.75 47.93L184.87 49.99L184.89 48.90L184.92 48.39L184.96 50.66L185.02 48.39L185.10 50.29L185.12 50.20L185.20 50.51L185.26 48.01L185.28 48.97L185.30 49.57L185.37 49.68L185.43 47.84L185.49 49.07L185.51 50.33L185.67 48.12L185.69 49.47L185.72 48.78L185.74 48.06L185.88 51.00L185.90 49.35L185.92 48.33L186.00 50.48L186.08 50.01L186.10 48.94L186.21 50.12L186.29 48.05L186.31 50.02L186.43 47.77L186.45 50.25L186.49 49.28L186.51 49.35L186.54 48.19L186.64 50.65L186.70 48.99L186.72 48.83L186.74 47.74L186.86 50.61L186.88 48.23L186.90 48.88L186.99 49.92L187.07 47.84L187.09 49.89L187.11 49.60L187.21 47.96L187.27 51.52L187.29 49.49L187.31 50.92L187.40 48.31L187.50 49.28L187.52 47.54L187.66 51.06L187.68 49.60L187.70 48.11L187.79 51.16L187.89 48.83L187.91 49.68L187.97 51.80L188.09 48.61L188.11 48.17L188.16 50.75L188.30 48.84L188.32 48.51L188.42 51.43L188.48 47.95L188.50 47.84L188.52 47.76L188.65 49.98L188.69 48.65L188.71 47.69L188.77 47.18L188.79 50.40L188.89 49.11L188.91 48.24L189.10 50.42L189.12 48.36L189.14 47.69L189.24 52.64L189.28 48.50L189.30 48.69L189.32 48.02L189.39 51.23L189.49 49.63L189.51 48.61L189.63 51.64L189.69 48.45L189.71 49.11L189.86 47.94L189.88 49.63L189.90 48.24L189.92 48.77L189.94 50.02L190.04 48.12L190.08 48.89L190.10 50.57L190.14 48.05L190.29 50.29L190.31 48.20L190.35 47.62L190.37 50.52L190.49 49.14L190.51 49.43L190.66 47.39L190.68 51.44L190.70 49.66L190.72 50.97L190.78 46.77L190.88 48.55L190.90 47.68L190.99 50.59L191.09 49.28L191.11 49.09L191.15 48.37L191.27 50.69L191.29 48.72L191.31 49.62L191.46 47.10L191.48 51.36L191.50 48.98L191.52 49.19L191.58 51.84L191.60 47.89L191.68 50.10L191.70 49.45L191.72 48.23L191.89 49.57L191.91 49.08L191.99 47.62L192.09 51.44L192.11 47.42L192.20 47.31L192.30 50.45L192.32 49.12L192.36 47.35L192.44 49.76L192.48 48.40L192.50 50.84L192.54 48.38L192.69 49.20L192.71 50.35L192.75 50.54L192.85 47.47L192.89 50.39L192.91 47.89L193.02 47.81L193.08 49.60L193.10 49.33L193.12 48.41L193.14 47.50L193.28 50.43L193.30 49.99L193.32 47.93L193.47 50.07L193.49 48.91L193.51 48.14L193.55 48.03L193.69 50.28L193.71 50.33L193.82 47.69L193.90 48.27L193.92 47.81L193.94 50.37L194.08 48.32L194.10 48.17L194.14 50.45L194.16 47.22L194.29 49.87L194.31 47.63L194.37 49.94L194.49 48.60L194.51 48.68L194.53 47.70L194.57 49.91L194.70 48.51L194.72 48.64L194.74 49.69L194.80 47.96L194.88 49.22L194.90 48.08L194.96 50.90L195.09 49.21L195.11 49.11L195.15 47.73L195.21 50.22L195.29 49.43L195.31 48.72L195.42 47.08L195.50 49.55L195.52 48.99L195.62 48.39L195.66 51.19L195.68 48.76L195.70 47.81L195.76 50.37L195.87 47.15L195.89 49.43L195.91 50.14L195.97 47.55L196.01 50.53L196.09 47.93L196.11 50.41L196.30 46.98L196.32 48.99L196.34 47.56L196.36 50.07L196.48 48.86L196.50 49.25L196.58 47.65L196.69 48.31L196.71 49.60L196.75 47.58L196.81 50.50L196.89 48.97L196.91 49.09L196.93 47.61L197.10 50.81L197.12 50.46L197.14 48.43L197.28 50.57L197.30 48.40L197.34 49.72L197.47 47.23L197.49 48.72L197.51 47.62L197.53 51.76L197.69 48.80L197.71 49.51L197.88 47.13L197.90 47.20L197.92 49.94L197.96 50.13L198.08 48.08L198.10 49.10L198.22 49.78L198.29 47.90L198.31 48.06L198.35 47.68L198.37 49.95L198.49 48.77L198.51 49.45L198.53 48.26L198.68 51.62L198.70 49.34L198.72 48.96L198.78 47.57L198.88 49.28L198.90 48.17L198.92 47.92L198.98 50.41L199.09 48.11L199.11 48.83L199.25 47.60L199.27 50.84L199.29 48.79L199.31 48.11L199.35 47.42L199.46 50.11L199.50 47.93L199.52 48.29L199.54 51.16L199.66 47.96L199.68 48.46L199.70 48.46L199.85 50.55L199.87 47.72L199.89 48.87L199.91 47.77L199.97 47.52L200.07 50.44L200.09 48.86L200.11 48.94L200.17 50.35L200.23 47.27L200.30 48.44L200.32 50.49L200.44 47.28L200.48 50.04L200.50 47.87L200.52 50.09L200.60 47.62L200.69 48.98L200.71 47.53L200.79 50.40L200.89 49.39L200.91 49.61L200.97 47.67L201.08 50.67L201.10 49.10L201.12 48.99L201.18 48.37L201.20 50.47L201.28 50.13L201.30 47.78L201.40 49.68L201.42 47.73L201.49 47.84L201.51 49.39L201.61 50.28L201.69 47.57L201.71 48.18L201.88 50.61L201.90 48.75L201.92 48.23L202.04 47.42L202.06 50.96L202.08 48.45L202.10 48.40L202.18 50.16L202.22 48.21L202.29 49.14L202.31 48.69L202.41 51.90L202.45 47.54L202.49 49.34L202.51 48.41L202.57 47.63L202.65 49.10L202.70 48.13L202.72 47.85L202.76 47.81L202.82 51.72L202.88 49.11L202.90 48.51L202.92 50.42L202.94 47.44L203.09 50.23L203.11 48.91L203.13 47.62L203.25 50.36L203.29 48.08L203.31 48.87L203.35 47.18L203.50 51.00L203.52 47.55L203.66 49.89L203.68 47.66L203.70 49.63L203.74 46.85L203.89 49.50L203.91 49.57L203.95 50.30L203.99 48.08L204.09 48.98L204.11 48.50L204.15 47.22L204.19 50.78L204.30 47.69L204.32 48.65L204.36 50.31L204.42 47.53L204.48 48.50L204.50 49.54L204.52 48.25L204.54 49.72L204.68 49.18L204.71 48.47L204.75 51.13L204.79 47.50L204.89 49.99L204.91 47.92L204.93 47.73L205.10 49.54L205.12 49.21L205.18 51.32L205.24 47.16L205.28 48.02L205.30 49.24L205.42 48.00L205.48 50.96L205.51 48.58L205.53 49.22L205.65 47.31L205.69 48.33L205.71 47.86L205.77 49.30L205.87 47.42L205.89 47.59L205.92 49.81L205.98 47.48L206.08 48.26L206.10 48.21L206.20 49.76L206.26 47.94L206.28 49.06L206.31 46.58L206.45 49.44L206.49 48.86L206.51 47.76L206.65 50.47L206.69 48.88L206.72 49.39L206.82 47.84L206.90 49.41L206.92 49.05L207.08 47.09L207.10 50.65L207.19 46.86L207.29 48.80L207.31 48.42L207.39 47.24L207.45 50.46L207.49 47.60L207.52 48.62L207.60 47.79L207.68 49.89L207.70 48.43L207.72 47.99L207.76 47.69L207.88 50.16L207.90 49.07L207.95 47.21L207.99 49.77L208.09 47.77L208.11 48.94L208.17 49.35L208.29 47.70L208.31 48.12L208.42 47.50L208.44 49.25L208.50 49.22L208.52 46.98L208.56 50.18L208.68 48.27L208.70 48.07L208.81 49.47L208.89 47.79L208.91 49.64L208.97 47.93L209.05 49.97L209.09 49.07L209.11 48.60L209.20 47.09L209.26 48.82L209.30 47.18L209.32 48.08L209.44 51.08L209.48 47.54L209.50 48.18L209.52 50.67L209.59 46.95L209.69 47.89L209.71 48.33L209.85 50.19L209.87 47.16L209.89 47.26L209.91 49.56L210.08 50.21L210.10 46.88L210.12 47.64L210.14 49.38L210.28 49.08L210.30 47.66L210.35 46.79L210.49 49.17L210.51 48.61L210.55 49.51L210.65 47.05L210.69 48.17L210.71 46.99L210.84 49.80L210.90 48.23L210.92 47.25L210.94 48.83L211.08 47.29L211.10 49.01L211.14 49.71L211.27 46.97L211.29 47.21L211.31 47.72L211.45 49.96L211.47 47.18L211.49 49.40L211.51 48.92L211.68 50.19L211.70 47.23L211.72 48.24L211.80 47.15L211.86 50.08L211.88 47.73L211.90 48.14L211.92 46.72L212.03 49.92L212.09 48.74L212.11 49.13L212.15 46.93L212.27 49.46L212.29 48.40L212.31 48.34L212.38 49.87L212.50 47.72L212.52 47.79L212.62 49.05L212.68 47.38L212.70 49.08L212.83 49.56L212.85 46.83L212.89 49.13L212.91 48.54L213.05 46.42L213.09 51.09L213.11 48.66L213.28 51.13L213.30 47.45L213.32 48.21L213.38 49.24L213.44 47.37L213.48 48.48L213.50 49.02L213.52 47.20L213.59 50.58L213.69 48.94L213.71 48.48L213.73 46.47L213.83 50.04L213.89 47.02L213.91 48.17L214.02 50.22L214.04 46.82L214.10 48.00L214.12 47.06L214.18 47.01L214.28 49.69L214.30 47.75L214.32 47.10L214.45 51.03L214.49 47.45L214.51 47.76L214.53 50.05L214.57 47.36L214.69 48.48L214.71 49.05L214.84 46.80L214.86 49.33L214.90 47.29L214.92 47.15L215.00 47.04L215.02 50.69L215.08 48.61L215.10 47.10L215.19 49.71L215.29 48.34L215.31 47.40L215.35 51.85L215.47 46.72L215.49 48.26L215.51 48.88L215.55 46.70L215.66 49.09L215.70 47.44L215.72 47.72L215.74 47.31L215.88 49.27L215.90 48.26L216.03 50.46L216.05 47.23L216.09 48.38L216.11 48.97L216.21 46.87L216.27 49.38L216.29 47.10L216.31 47.17L216.44 47.10L216.46 49.18L216.50 47.90L216.52 47.38L216.56 47.21L216.62 49.56L216.68 49.26L216.70 47.51L216.72 49.54L216.76 46.82L216.89 47.58L216.91 47.98L216.95 48.09L217.03 47.01L217.09 47.89L217.11 47.64L217.26 49.19L217.30 47.04L217.32 48.54L217.34 49.98L217.40 46.68L217.48 47.85L217.50 48.61L217.67 49.48L217.69 46.81L217.71 50.35L217.79 46.47L217.81 50.38L217.89 48.57L217.91 48.08L217.93 49.00L218.06 46.61L218.10 47.78L218.12 48.58L218.22 50.18L218.28 47.08L218.30 48.54L218.43 46.66L218.49 49.73L218.51 47.66L218.55 46.64L218.65 49.36L218.69 48.02L218.71 48.12L218.79 50.60L218.90 46.42L218.92 47.69L218.96 46.74L218.98 48.79L219.08 47.52L219.10 48.72L219.27 49.03L219.29 47.65L219.31 48.19L219.33 48.91L219.47 46.91L219.49 47.27L219.51 47.91L219.61 46.24L219.68 48.37L219.70 47.50L219.72 46.43L219.88 48.59L219.90 46.25L220.02 48.74L220.09 47.53L220.11 48.10L220.21 47.23L220.27 49.16L220.29 47.55L220.31 49.26L220.44 46.52L220.50 47.21L220.52 47.62L220.56 49.19L220.60 45.98L220.68 47.18L220.70 49.15L220.85 50.64L220.87 47.18L220.89 49.45L220.91 48.34L220.93 46.73L221.05 48.43L221.09 48.20L221.11 49.30L221.23 46.47L221.30 49.67L221.32 48.34L221.42 48.52L221.48 47.48L221.50 47.42L221.54 47.02L221.56 49.81L221.69 48.04L221.71 47.84L221.83 46.86L221.89 48.44L221.91 48.84L221.95 50.87L222.06 47.07L222.10 47.15L222.12 46.41L222.28 49.56L222.30 48.16L222.34 48.72L222.44 46.82L222.49 48.59L222.51 47.70L222.55 46.84L222.57 50.18L222.69 47.20L222.71 47.58L222.77 46.98L222.83 49.09L222.90 48.60L222.92 48.31L223.04 46.78L223.06 48.75L223.08 47.50L223.10 46.77L223.12 46.33L223.29 50.31L223.31 47.91L223.45 49.56L223.49 47.10L223.51 47.35L223.53 46.44L223.57 49.72L223.70 47.30L223.72 48.97L223.82 47.76L223.88 50.74L223.90 46.60L224.00 49.39L224.09 48.94L224.11 48.48L224.15 46.41L224.17 49.35L224.29 47.65L224.31 47.63L224.37 49.56L224.45 47.27L224.50 47.47L224.52 47.00L224.54 50.44L224.66 46.97L224.68 47.05L224.70 47.94L224.76 46.54L224.89 48.32L224.91 47.23L225.03 50.04L225.05 47.21L225.09 47.97L225.11 47.47L225.17 46.43L225.30 48.63L225.32 47.02L225.36 48.92L225.48 46.08L225.50 46.58L225.66 49.32L225.69 48.61L225.71 46.77L225.83 49.55L225.89 47.71L225.91 50.59L225.99 46.69L226.10 47.61L226.12 47.34L226.22 47.10L226.24 49.53L226.28 49.28L226.30 46.82L226.40 46.30L226.48 49.71L226.51 48.66L226.57 49.19L226.63 46.97L226.69 48.06L226.71 47.56L226.77 49.58L226.90 46.36L226.92 47.63L227.00 46.96L227.08 49.30L227.10 48.47L227.22 49.84L227.26 47.17L227.28 49.19L227.31 47.67L227.35 48.06L227.41 46.94L227.49 47.15L227.51 47.58L227.55 48.55L227.69 47.64L227.72 46.61L227.88 49.16L227.90 50.50L227.94 46.86L228.08 47.89L228.11 50.39L228.17 50.52L228.19 47.24L228.29 48.84L228.31 48.20L228.35 46.22L228.49 48.76L228.52 46.37L228.58 49.63L228.70 47.58L228.72 47.27L228.86 49.08L228.88 46.99L228.90 47.37L228.99 50.10L229.03 46.52L229.09 49.23L229.11 47.83L229.13 50.43L229.25 46.84L229.29 47.14L229.32 48.73L229.36 45.77L229.50 48.11L229.52 47.83L229.54 46.20L229.56 50.02L229.68 47.60L229.70 48.50L229.79 49.18L229.85 47.16L229.89 48.03L229.91 46.79L229.99 51.14L230.09 48.03L230.11 46.27L230.22 48.54L230.30 47.97L230.32 48.97L230.38 49.34L230.42 46.38L230.48 47.60L230.50 47.28L230.63 45.94L230.67 49.99L230.69 47.03L230.71 47.79L230.75 46.72L230.81 49.87L230.89 49.03L230.91 48.05L230.94 49.26L231.08 46.25L231.10 47.38L231.12 47.18L231.16 46.56L231.24 48.56L231.28 47.80L231.30 47.61L231.41 49.43L231.43 46.99L231.49 47.26L231.51 47.34L231.55 49.70L231.61 46.44L231.69 48.16L231.71 47.38L231.76 51.04L231.86 46.87L231.90 47.84L231.92 46.77L232.06 49.06L232.08 47.19L232.10 49.54L232.27 46.62L232.29 47.75L232.31 47.57L232.43 46.73L232.49 48.39L232.51 48.06L232.53 49.01L232.64 45.63L232.70 46.80L232.72 50.57L232.76 46.50L232.88 49.70L232.90 47.48L232.94 48.40L232.99 45.54L233.09 47.42L233.11 46.46L233.19 45.90L233.21 49.42L233.29 48.79L233.31 48.82L233.38 48.90L233.44 46.79L233.50 48.36L233.52 45.91L233.64 49.15L233.68 48.03L233.70 47.97L233.85 49.49L233.89 47.07L233.91 47.20L233.95 51.70L234.09 45.79L234.11 47.02L234.22 48.02L234.26 46.77L234.30 47.35L234.32 46.55L234.38 49.53L234.48 48.18L234.50 48.43L234.61 46.51L234.67 49.94L234.69 46.55L234.71 47.05L234.77 48.91L234.87 46.46L234.89 47.58L234.91 46.64L234.98 46.61L235.02 49.17L235.10 49.14L235.12 47.39L235.20 49.61L235.24 46.42L235.28 47.60L235.30 47.37L235.34 46.69L235.45 50.84L235.49 47.81L235.51 46.97L235.61 46.39L235.63 48.41L235.69 47.90L235.71 46.89L235.75 48.68L235.90 46.92L235.92 47.21L236.04 48.15L236.06 45.68L236.08 47.78L236.10 47.08L236.12 46.48L236.14 49.00L236.29 46.94L236.31 47.53L236.35 49.35L236.37 46.96L236.49 48.56L236.51 48.22L236.66 46.05L236.68 49.59L236.70 46.58L236.72 47.23L236.86 49.32L236.88 46.83L236.90 46.63L236.92 51.80L237.09 46.18L237.11 47.51L237.15 49.27L237.23 45.88L237.29 47.63L237.31 47.50L237.40 50.61L237.48 46.40L237.50 47.77L237.52 48.96L237.66 46.26L237.68 47.96L237.70 46.37L237.83 48.18L237.89 47.24L237.91 47.43L237.99 46.18L238.03 48.08L238.09 47.69L238.11 47.64L238.26 50.55L238.30 46.59L238.32 46.46L238.42 49.13L238.48 46.73L238.50 46.22L238.61 49.35L238.69 47.62L238.71 47.66L238.79 46.74L238.81 49.28L238.89 49.18L238.91 46.93L239.04 46.66L239.08 48.42L239.10 47.33L239.12 47.00L239.24 48.98L239.26 46.56L239.28 48.10L239.30 47.28L239.38 45.55L239.49 49.80L239.51 47.24L239.67 48.91L239.69 45.87L239.71 47.90L239.73 48.20L239.79 46.40L239.90 47.65L239.92 47.56L239.94 46.18L240.08 48.84L240.10 47.22L240.18 49.60L240.29 46.25L240.31 47.82L240.39 48.36L240.43 46.41L240.49 46.62L240.51 47.56L240.61 46.41L240.64 49.41L240.70 47.46L240.72 47.62L240.76 49.86L240.86 46.62L240.88 48.13L240.90 47.20L240.92 48.60L240.98 45.72L241.09 46.55L241.11 47.95L241.19 46.37L241.29 49.47L241.31 46.64L241.37 48.80L241.41 46.32L241.50 47.40L241.52 47.20L241.58 46.68L241.60 48.61L241.68 47.43L241.70 48.01L241.78 48.65L241.82 46.60L241.89 48.20L241.91 47.57L242.01 49.08L242.09 45.93L242.11 47.05L242.15 48.49L242.28 46.24L242.30 48.00L242.32 46.83L242.34 46.50L242.38 48.51L242.48 48.09L242.50 47.07L242.62 45.94L242.65 48.73L242.69 46.62L242.71 47.87L242.85 46.64L242.89 48.50L242.91 46.23L243.03 45.95L243.06 50.09L243.10 46.74L243.12 47.55L243.26 46.01L243.28 49.45L243.30 47.10L243.34 49.13L243.42 46.11L243.49 46.81L243.51 47.01L243.55 48.46L243.67 46.15L243.69 47.87L243.71 48.08L243.86 45.44L243.90 46.63L243.92 46.48L243.94 45.43L243.98 47.97L244.08 47.07L244.10 47.33L244.24 49.88L244.27 46.04L244.29 49.07L244.31 48.11L244.39 49.69L244.45 46.71L244.49 47.08L244.51 46.90L244.57 45.87L244.59 48.09L244.70 46.83L244.72 46.98L244.84 46.64L244.88 48.67L244.90 47.60L244.96 46.23L245.09 48.71L245.11 46.94L245.25 48.53L245.27 46.18L245.29 47.92L245.31 49.52L245.37 51.47L245.45 45.98L245.50 46.74L245.52 48.23L245.56 46.09L245.62 49.35L245.68 46.60L245.70 47.94L245.78 48.40L245.82 45.50L245.89 46.72L245.91 46.44L245.99 49.53L246.01 45.86L246.09 46.81L246.11 48.41L246.13 46.01L246.17 49.07L246.30 46.46L246.32 45.87L246.46 48.91L246.48 47.91L246.50 47.14L246.54 47.42L246.62 46.72L246.69 46.98L246.71 47.63L246.77 45.98L246.83 47.94L246.89 47.19L246.91 47.79L247.01 46.22L247.05 49.35L247.10 49.16L247.12 48.50L247.14 46.37L247.24 49.05L247.28 47.52L247.30 45.84L247.32 48.24L247.49 47.32L247.51 46.78L247.55 45.99L247.59 50.18L247.69 48.54L247.71 48.37L247.83 45.88L247.90 48.16L247.92 46.95L247.96 46.11L248.04 48.60L248.08 46.11L248.10 49.81L248.14 46.08L248.28 46.48L248.31 47.11L248.35 45.82L248.41 47.94L248.49 47.73L248.51 46.60L248.61 48.35L248.63 45.95L248.70 46.63L248.72 46.28L248.80 48.86L248.88 45.50L248.90 49.12L249.08 45.86L249.11 46.93L249.15 46.75L249.29 48.57L249.31 48.66L249.43 45.66L249.45 48.74L249.49 47.91L249.52 46.75L249.64 47.99L249.66 45.64L249.68 46.02L249.70 46.98L249.80 48.05L249.88 45.78L249.91 47.18L249.99 48.01L250.07 45.98L250.09 46.88L250.11 48.97L250.17 45.72L250.29 46.98L250.32 47.39L250.36 45.46L250.38 48.20L250.50 46.21L250.52 48.40L250.56 49.04L250.60 46.05L250.68 46.20L250.70 46.26L250.81 45.69L250.89 48.67L250.91 47.05L250.99 45.59L251.09 48.36L251.12 48.32L251.22 45.70L251.30 45.77L251.32 47.37L251.38 47.93L251.42 45.70L251.48 46.87L251.50 46.88L251.63 47.99L251.69 46.42L251.71 46.32L251.73 46.07L251.83 47.93L251.89 47.09L251.91 46.66L251.96 45.99L252.10 49.07L252.12 47.32L252.18 45.93L252.20 49.49L252.28 46.77L252.30 46.75L252.37 45.80L252.41 48.29L252.49 47.27L252.51 47.53L252.59 48.12L252.65 45.54L252.69 45.89L252.71 46.60L252.74 49.38L252.84 45.71L252.90 46.10L252.92 46.46L252.94 48.83L253.08 45.90L253.10 48.99L253.29 46.19L253.31 46.97L253.41 46.15L253.47 48.41L253.49 46.29L253.51 45.52L253.56 48.51L253.70 46.80L253.72 47.67L253.82 47.88L253.88 46.02L253.90 47.75L253.92 46.04L253.95 48.52L254.09 48.29L254.11 46.51L254.17 45.40L254.23 48.42L254.29 47.09L254.31 45.95L254.42 45.71L254.50 49.43L254.52 48.48L254.58 46.22L254.64 49.44L254.68 47.48L254.70 46.05L254.75 45.43L254.85 48.25L254.89 48.20L254.91 47.19L255.03 47.99L255.05 45.90L255.09 46.16L255.11 45.47L255.13 49.76L255.30 48.23L255.32 46.28L255.34 50.55L255.44 45.43L255.48 46.07L255.50 47.38L255.57 48.75L255.65 45.94L255.69 47.56L255.71 46.80L255.83 46.04L255.89 48.88L255.91 46.29L256.04 50.00L256.10 45.60L256.12 46.58L256.20 47.72L256.26 45.27L256.28 46.90L256.30 49.15L256.39 44.92L256.49 48.25L256.51 48.05L256.53 49.38L256.55 46.03L256.69 47.44L256.71 46.91L256.78 48.32L256.86 45.81L256.90 46.17L256.92 46.85L257.04 45.54L257.06 48.21L257.08 46.95L257.10 47.54L257.14 45.59L257.19 50.28L257.29 47.02L257.31 49.63L257.49 45.79L257.51 46.61L257.55 45.66L257.68 49.84L257.70 48.01L257.72 45.86L257.88 48.07L257.90 46.27L257.92 49.37L257.94 45.79L258.09 46.47L258.11 46.53L258.17 49.64L258.29 47.17L258.31 47.99L258.35 49.09L258.48 45.69L258.50 47.55L258.52 46.78L258.56 48.88L258.64 45.39L258.68 46.76L258.70 47.94L258.81 48.54L258.87 46.10L258.89 46.43L258.91 46.23L258.97 45.95L259.01 47.75L259.09 46.84L259.11 47.45L259.15 45.62L259.24 48.25L259.30 46.12L259.32 46.84L259.36 45.29L259.40 47.79L259.48 47.54L259.50 46.44L259.54 49.43L259.61 45.96L259.69 47.54L259.71 46.83L259.79 48.10L259.87 45.43L259.89 46.18L259.91 48.04L260.00 49.09L260.02 46.23L260.10 46.73L260.12 46.36L260.24 48.31L260.28 45.57L260.30 47.93L260.36 45.90L260.43 48.16L260.49 46.33L260.51 48.34L260.53 45.69L260.69 47.41L260.71 48.81L260.86 45.86L260.90 47.95L260.92 46.60L260.94 50.19L261.02 45.89L261.08 47.31L261.10 46.00L261.21 45.40L261.25 49.02L261.29 45.88L261.31 47.07L261.35 45.55L261.41 48.24L261.49 48.21L261.51 47.68L261.55 48.67L261.66 46.36L261.70 47.58L261.72 46.92L261.86 48.07L261.88 46.03L261.90 48.61L261.96 45.71L262.09 46.53L262.11 45.14L262.13 48.36L262.29 46.91L262.31 46.76L262.35 48.48L262.48 45.33L262.50 45.80L262.52 48.14L262.60 45.86L262.68 49.10L262.70 49.12L262.76 45.86L262.89 48.02L262.91 45.99L263.03 49.14L263.09 46.38L263.11 45.73L263.15 45.52L263.21 48.22L263.30 46.36L263.32 48.98L263.48 46.39L263.50 47.54L263.54 48.40L263.56 45.77L263.69 46.28L263.71 46.86L263.79 45.58L263.87 48.45L263.89 46.44L263.91 47.06L263.93 45.56L264.01 48.99L264.10 45.57L264.12 46.87L264.14 48.58L264.20 46.24L264.28 47.80L264.30 45.50L264.38 48.16L264.49 45.84L264.51 46.47L264.53 48.27L264.57 46.21L264.69 46.98L264.71 47.72L264.75 47.79L264.77 45.52L264.90 46.89L264.92 47.57L264.94 47.78L265.08 45.37L265.10 47.78L265.20 48.18L265.29 45.59L265.31 46.11L265.43 45.75L265.45 48.95L265.49 46.95L265.51 46.00L265.70 48.46L265.72 45.18L265.80 49.27L265.88 45.77L265.90 47.34L265.94 45.83L266.04 48.04L266.09 45.99L266.11 48.25L266.17 50.04L266.25 45.42L266.29 47.90L266.31 45.21L266.46 47.13L266.50 46.54L266.52 45.76L266.56 45.43L266.68 47.70L266.70 47.52L266.78 48.36L266.84 46.10L266.89 47.16L266.91 48.62L266.95 44.70L267.05 48.86L267.09 47.06L267.11 45.63L267.19 48.98L267.28 45.63L267.30 46.80L267.32 46.54L267.38 45.86L267.48 48.57L267.50 46.74L267.60 45.75L267.62 47.80L267.69 46.73L267.71 46.70L267.85 45.83L267.89 48.84L267.91 46.95L267.97 45.65L268.05 49.35L268.10 47.02L268.12 48.40L268.20 45.57L268.28 46.25L268.30 47.85L268.40 44.61L268.49 45.95L268.51 46.58L268.65 48.44L268.67 45.33L268.69 47.96L268.71 45.90L268.77 47.41L268.79 45.04L268.90 46.61L268.92 46.98L269.00 48.20L269.04 46.22L269.08 46.43L269.10 46.88L269.22 45.82L269.26 49.03L269.29 46.15L269.31 47.18L269.35 44.99L269.49 47.44L269.51 47.18L269.53 45.50L269.57 47.32L269.70 46.83L269.72 46.99L269.82 45.42L269.88 49.31L269.90 50.06L269.94 45.63L270.08 45.63L270.11 45.44L270.21 48.62L270.23 45.34L270.29 46.52L270.31 45.22L270.41 48.83L270.50 46.49L270.52 46.61L270.56 47.36L270.68 45.72L270.70 47.40L270.72 48.22L270.76 45.73L270.88 46.41L270.91 48.56L271.07 45.41L271.09 46.64L271.11 49.00L271.29 45.56L271.32 46.65L271.40 45.80L271.44 47.74L271.48 46.62L271.50 46.70L271.52 45.16L271.58 48.62L271.68 45.97L271.71 46.01L271.75 44.97L271.83 48.73L271.89 47.05L271.91 46.14L271.95 45.24L272.01 48.95L272.09 46.30L272.12 47.09L272.24 48.04L272.28 44.95L272.30 46.81L272.32 47.73L272.46 46.19L272.48 48.55L272.50 48.26L272.69 45.66L272.71 45.13L272.81 49.64L272.89 47.40L272.92 45.95L273.06 45.48L273.10 47.59L273.12 47.44L273.14 45.83L273.26 47.71L273.28 47.25L273.30 46.53L273.39 45.56L273.49 48.26L273.51 47.16L273.55 45.92L273.69 48.43L273.71 47.03L273.74 47.61L273.82 45.34L273.90 46.88L273.92 45.63L274.06 48.39L274.08 46.31L274.10 45.95L274.23 45.28L274.25 47.48L274.29 46.04L274.31 46.55L274.35 47.66L274.41 45.49L274.49 45.80L274.51 46.40L274.56 45.88L274.64 48.78L274.70 46.18L274.72 45.81L274.88 47.39L274.90 47.12L274.97 45.49L275.03 47.83L275.09 46.19L275.11 46.76L275.13 45.15L275.27 48.34L275.29 46.29L275.31 47.05L275.36 45.86L275.48 47.67L275.50 47.26L275.52 47.91L275.64 50.57L275.66 45.65L275.68 45.67L275.70 48.14L275.87 46.42L275.89 46.82L275.91 47.34L275.97 45.49L275.99 48.45L276.09 45.61L276.11 47.73L276.22 45.59L276.30 46.80L276.32 46.46L276.44 47.42L276.46 45.36L276.48 47.02L276.50 46.04L276.57 48.71L276.69 45.21L276.71 45.34L276.89 48.10L276.91 45.86L276.96 47.91L277.10 45.25L277.12 47.67L277.26 45.10L277.28 46.73L277.30 46.75L277.32 45.70L277.41 47.61L277.49 46.75L277.51 46.59L277.53 48.39L277.59 45.87L277.69 46.46L277.71 45.63L277.84 48.99L277.90 46.18L277.92 46.65L278.06 45.44L278.08 48.03L278.10 47.70L278.19 48.89L278.25 44.88L278.29 46.47L278.31 47.65L278.35 47.73L278.49 45.41L278.51 46.08L278.68 47.68L278.70 45.12L278.72 45.65L278.76 45.53L278.78 48.09L278.88 46.86L278.90 45.41L278.96 45.20L278.99 47.90L279.09 47.37L279.11 46.38L279.27 45.59L279.29 48.78L279.31 46.45L279.35 48.00L279.46 45.29L279.50 47.39L279.52 49.09L279.64 45.14L279.68 46.72L279.70 45.89L279.76 48.39L279.87 45.77L279.89 47.60L279.91 45.83L280.03 48.37L280.09 45.87L280.11 46.30L280.17 49.31L280.24 45.40L280.30 46.05L280.32 46.13L280.34 48.36L280.38 45.61L280.48 47.06L280.50 47.45L280.52 48.59L280.61 45.27L280.69 48.08L280.71 45.70L280.83 47.51L280.85 45.04L280.89 45.40L280.91 47.18L281.04 45.36L281.08 48.72L281.10 46.75L281.12 47.43L281.24 48.51L281.28 45.81L281.30 47.92L281.49 45.47L281.51 47.18L281.55 48.85L281.61 45.25L281.69 46.43L281.71 46.05L281.75 49.64L281.82 45.49L281.90 45.78L281.92 47.32L282.04 44.68L282.08 46.22L282.10 47.24L282.21 46.27L282.25 49.52L282.29 46.81L282.31 46.58L282.35 47.78L282.45 45.71L282.49 45.78L282.51 47.18L282.55 47.69L282.68 45.88L282.70 46.40L282.72 45.64L282.86 48.01L282.88 45.08L282.90 46.17L282.98 44.65L283.09 47.80L283.11 47.19L283.23 45.37L283.29 49.96L283.31 45.80L283.37 45.49L283.44 47.54L283.50 46.98L283.52 45.63L283.56 48.05L283.68 46.73L283.70 46.38L283.78 47.18L283.85 44.85L283.89 46.66L283.91 47.57L284.05 44.93L284.09 46.11L284.11 46.52L284.26 45.52L284.30 47.81L284.32 45.19L284.42 48.29L284.48 46.30L284.50 46.58L284.52 45.57L284.63 47.92L284.69 47.04L284.71 46.29L284.83 47.95L284.87 45.14L284.89 47.27L284.91 45.53L284.99 48.12L285.04 44.96L285.10 46.78L285.12 46.59L285.18 44.91L285.28 48.16L285.30 45.91L285.32 48.46L285.34 45.37L285.49 47.18L285.51 46.82L285.59 48.28L285.69 44.85L285.71 45.17L285.81 44.85L285.84 47.52L285.90 45.33L285.92 47.02L285.94 45.80L285.98 47.69L286.08 47.22L286.10 45.66L286.25 47.81L286.29 46.26L286.31 46.36L286.35 48.23L286.49 45.54L286.51 47.87L286.68 48.44L286.70 45.46L286.72 45.75L286.74 45.36L286.78 49.01L286.88 46.51L286.90 46.30L286.92 48.05L286.94 45.10L287.09 46.69L287.11 45.58L287.29 47.63L287.31 46.41L287.41 47.00L287.46 45.32L287.50 45.40L287.52 46.69L287.54 45.46L287.60 47.48L287.68 47.13L287.70 46.83L287.72 47.95L287.80 45.34L287.89 46.90L287.91 46.67L288.01 45.28L288.07 47.43L288.09 46.97L288.11 46.32L288.21 48.96L288.28 45.27L288.30 46.39L288.32 47.14L288.40 47.32L288.48 45.08L288.50 46.94L288.56 48.47L288.58 44.91L288.69 46.04L288.71 46.33L288.79 47.54L288.83 46.07L288.89 46.80L288.91 46.38L288.93 45.64L288.99 47.88L289.10 47.35L289.12 45.35L289.16 47.10L289.28 46.51L289.30 46.81L289.42 45.88L289.47 47.79L289.49 47.16L289.51 47.51L289.53 48.44L289.67 45.58L289.69 46.47L289.71 46.80L289.83 47.58L289.90 45.25L289.92 45.29L289.98 46.18L290.00 44.58L290.08 46.03L290.10 45.53L290.26 48.27L290.29 45.95L290.31 45.45L290.43 45.07L290.49 48.31L290.51 46.06L290.53 44.94L290.70 48.68L290.72 48.36L290.82 44.93L290.88 46.52L290.90 47.71L291.04 45.92L291.09 46.04L291.11 46.62L291.23 48.27L291.25 44.61L291.29 46.29L291.31 46.83L291.41 47.80L291.47 45.04L291.50 47.74L291.52 47.45L291.56 45.27L291.68 48.30L291.70 47.33L291.72 45.75L291.88 47.28L291.91 46.95L292.05 47.11L292.09 44.67L292.11 47.18L292.13 47.99L292.27 45.23L292.30 45.74L292.32 46.83L292.40 47.56L292.42 45.39L292.48 46.66L292.50 46.34L292.64 48.29L292.66 45.04L292.68 45.28L292.71 45.77L292.75 44.91L292.83 49.01L292.89 46.38L292.91 46.03L293.03 49.08L293.07 45.71L293.09 46.14L293.12 47.92L293.28 44.79L293.30 46.67L293.40 48.88L293.48 45.30L293.51 46.59L293.57 48.08L293.65 45.64L293.69 48.06L293.71 46.74L293.73 47.43L293.85 45.07L293.89 45.75L293.92 46.58L293.94 47.42L294.08 45.03L294.10 45.61L294.12 46.13L294.22 46.66L294.28 44.68L294.30 46.69L294.47 47.09L294.49 45.39L294.51 45.82L294.55 47.75L294.63 45.34L294.69 45.44L294.72 45.52L294.74 44.98L294.88 48.83L294.90 47.24L294.92 46.59L294.94 44.96L295.00 48.50L295.08 47.85L295.10 47.09L295.19 49.52L295.21 45.41L295.29 47.38L295.31 45.47L295.39 48.32L295.43 44.89L295.49 46.53L295.51 46.94L295.54 49.29L295.56 45.35L295.70 46.71L295.72 47.62L295.84 45.23L295.88 46.47L295.90 45.05L295.95 47.96L296.01 44.99L296.09 45.29L296.11 47.07L296.19 48.99L296.27 44.69L296.29 46.25L296.31 47.34L296.42 45.28L296.48 47.59L296.50 47.10L296.52 46.13L296.54 46.95L296.66 45.46L296.68 46.12L296.70 46.83L296.81 45.04L296.83 48.30L296.89 46.52L296.91 44.55L297.01 47.80L297.09 46.00L297.11 47.90L297.16 44.71L297.30 47.31L297.32 45.40L297.36 48.72L297.48 44.84L297.50 45.62L297.55 45.33L297.65 48.02L297.69 45.56L297.71 46.77L297.83 45.43L297.89 48.46L297.91 48.32L297.93 45.69L298.10 45.86L298.12 47.50L298.16 48.79L298.18 44.56L298.28 45.64L298.30 46.38L298.32 48.19L298.37 45.34L298.49 45.37L298.51 45.79L298.55 48.49L298.57 44.68L298.69 45.05L298.71 45.09L298.76 44.80L298.82 46.71L298.90 44.95L298.92 48.58L298.94 44.70L299.04 48.88L299.08 46.42L299.10 44.88L299.19 44.75L299.25 47.88L299.29 46.51L299.31 46.27L299.33 47.51L299.47 44.90L299.49 46.06L299.51 46.35L299.60 47.66L299.68 44.36L299.70 46.24L299.72 46.44L299.74 45.18L299.82 47.54L299.88 46.89L299.90 48.42L300.01 48.80L300.03 45.00L300.09 45.13L300.11 45.31L300.23 46.66L300.29 45.63L300.31 46.04L300.33 45.14L300.44 47.19L300.50 45.20L300.52 46.31L300.58 45.19L300.66 47.61L300.68 46.11L300.70 46.26L300.81 47.61L300.87 44.61L300.89 46.62L300.91 47.18L300.95 44.74L301.05 48.66L301.09 45.55L301.11 47.68L301.30 44.92L301.32 45.67L301.34 47.90L301.38 45.08L301.48 47.15L301.50 45.54L301.54 45.17L301.59 48.59L301.69 46.23L301.71 47.10L301.79 44.74L301.89 47.45L301.91 46.76L301.93 45.32L302.06 47.04L302.10 46.15L302.12 45.04L302.14 47.95L302.18 44.95L302.28 45.93L302.30 46.02L302.43 47.60L302.49 44.46L302.51 45.72L302.55 45.07L302.69 47.48L302.71 46.33L302.82 47.92L302.84 45.38L302.90 47.64L302.92 46.80L302.94 45.27L303.08 48.46L303.10 47.06L303.12 49.30L303.23 45.24L303.29 45.54L303.31 45.42L303.37 47.31L303.47 45.28L303.49 46.27L303.51 44.82L303.60 49.61L303.70 44.45L303.72 46.41L303.76 45.25L303.84 47.20L303.88 46.05L303.90 45.25L303.92 47.42L303.98 44.72L304.09 46.89L304.11 45.68L304.17 47.36L304.21 45.02L304.29 46.06L304.31 45.96L304.35 45.18L304.42 47.62L304.50 45.31L304.52 47.28L304.58 45.22L304.68 48.56L304.70 48.28L304.87 44.58L304.89 46.93L304.91 46.03L305.07 47.05L305.09 44.73L305.11 47.36L305.15 44.60L305.26 48.17L305.30 46.07L305.32 46.68L305.34 45.13L305.44 47.25L305.48 47.07L305.50 46.85L305.58 45.12L305.63 48.18L305.69 45.30L305.71 45.29L305.79 47.67L305.81 45.11L305.89 46.09L305.91 46.80L305.95 47.53L306.02 44.66L306.10 46.10L306.12 46.24L306.22 47.36L306.28 45.50L306.30 46.31L306.34 45.33L306.43 48.17L306.49 47.24L306.51 45.06L306.53 45.00L306.59 47.62L306.69 46.99L306.71 44.68L306.86 47.88L306.90 47.05L306.92 47.91L306.98 44.66L307.08 45.63L307.10 46.84L307.20 45.11L307.27 47.92L307.29 45.53L307.31 45.38L307.41 48.22L307.49 44.80L307.51 46.03L307.59 44.47L307.66 46.48L307.70 44.55L307.72 45.92L307.78 47.43L307.80 45.06L307.88 46.77L307.90 46.70L307.92 47.74L307.94 45.14L308.09 45.42L308.11 45.79L308.25 44.84L308.29 48.33L308.31 47.21L308.33 47.50L308.48 45.02L308.50 45.82L308.52 45.49L308.58 47.29L308.68 46.27L308.70 47.15L308.78 45.00L308.82 47.50L308.89 46.73L308.91 45.56L309.01 47.85L309.07 44.99L309.09 47.40L309.11 46.93L309.17 48.99L309.21 44.60L309.30 45.38L309.32 45.61L309.36 46.87L309.48 44.96L309.50 46.56L309.60 46.73L309.67 44.71L309.69 44.97L309.71 46.24L309.77 44.74L309.79 47.37L309.89 45.33L309.91 46.34L310.01 48.57L310.10 45.88L310.12 46.88L310.14 47.66L310.20 45.34L310.28 45.84L310.30 45.99L310.34 47.00L310.44 44.18L310.49 45.47L310.51 45.97L310.61 44.42L310.65 47.87L310.69 46.00L310.71 48.51L310.85 45.42L310.90 46.37L310.92 46.06L311.00 44.62L311.06 46.61L311.08 46.21L311.10 47.10L311.18 44.91L311.29 46.57L311.31 45.74L311.39 46.69L311.43 45.08L311.49 46.64L311.51 45.90L311.53 44.76L311.65 47.45L311.70 46.12L311.72 47.66L311.74 45.14L311.76 48.24L311.88 45.29L311.90 45.53L311.92 48.25L312.09 44.75L312.11 45.53L312.21 44.62L312.23 47.09L312.29 46.24L312.31 45.76L312.35 45.32L312.45 47.96L312.50 46.25L312.52 44.35L312.68 46.88L312.70 47.02L312.74 44.93L312.89 45.48L312.91 45.28L312.93 47.74L312.97 44.96L313.09 46.22L313.11 45.59L313.17 44.66L313.21 47.06L313.30 45.49L313.32 45.71L313.34 44.74L313.40 46.75L313.48 45.49L313.50 45.79L313.54 44.74L313.58 47.62L313.68 47.40L313.71 45.32L313.75 45.06L313.85 46.48L313.89 45.82L313.91 47.26L314.10 45.31L314.12 46.73L314.14 47.19L314.28 44.56L314.30 46.04L314.34 48.63L314.48 44.62L314.51 49.41L314.57 49.50L314.63 44.89L314.69 46.03L314.71 45.66L314.79 47.35L314.87 45.08L314.89 45.88L314.92 45.48L314.94 45.32L315.00 46.89L315.08 46.13L315.10 45.26L315.14 47.34L315.28 46.37L315.31 46.01L315.45 44.26L315.49 46.01L315.51 44.93L315.61 47.34L315.69 45.77L315.72 46.09L315.86 44.94L315.90 45.79L315.92 44.50L316.02 47.30L316.08 46.56L316.10 47.68L316.13 44.98L316.29 48.74L316.31 45.29L316.37 44.72L316.41 49.16L316.49 46.26L316.52 45.38L316.54 47.08L316.58 44.43L316.70 46.18L316.72 46.84L316.74 47.22L316.76 44.52L316.88 46.45L316.90 45.71L317.05 47.16L317.09 45.14L317.11 45.32L317.15 44.53L317.27 47.60L317.29 46.66L317.31 44.59L317.40 47.50L317.50 45.44L317.52 45.08L317.56 44.16L317.64 46.66L317.68 45.53L317.70 46.72L317.75 44.93L317.79 48.34L317.89 45.62L317.91 45.00L317.99 48.60L318.09 46.44L318.11 47.51L318.20 47.98L318.30 45.29L318.32 44.98L318.36 46.86L318.48 45.57L318.50 46.37L318.52 45.06L318.69 47.98L318.71 47.30L318.79 44.88L318.89 46.61L318.91 45.44L319.02 48.24L319.10 45.82L319.12 45.77L319.14 44.50L319.20 46.40L319.28 46.05L319.30 45.42L319.37 48.29L319.47 44.15L319.49 46.38L319.51 47.17L319.55 45.52L319.69 46.99L319.71 45.88L319.82 47.86L319.88 44.80L319.90 46.05L319.92 45.50L319.94 47.78L320.02 45.03L320.08 45.68L320.10 46.08L320.15 46.58L320.19 45.00L320.29 45.38L320.31 46.16L320.33 47.69L320.43 44.75L320.49 45.39L320.51 46.95L320.58 48.03L320.62 44.88L320.70 46.96L320.72 46.05L320.78 47.69L320.88 45.33L320.90 46.02L320.97 45.79L321.03 47.34L321.09 45.88L321.11 45.03L321.27 46.74L321.29 45.98L321.31 46.00L321.48 44.10L321.50 46.99L321.52 46.00L321.66 45.16L321.68 47.02L321.70 47.49L321.72 45.03L321.89 45.97L321.91 45.13L321.95 46.43L322.07 44.85L322.09 45.67L322.11 46.23L322.13 44.95L322.28 47.34L322.30 46.27L322.32 45.71L322.38 44.34L322.42 46.04L322.48 45.55L322.50 46.18L322.61 47.01L322.69 44.35L322.71 45.34L322.83 47.29L322.89 46.27L322.91 46.23L322.98 45.17L323.02 48.19L323.10 45.68L323.12 45.82L323.16 48.61L323.28 44.88L323.30 47.05L323.45 47.25L323.49 45.20L323.51 45.13L323.53 44.43L323.65 46.99L323.69 45.38L323.71 46.71L323.73 45.41L323.88 48.15L323.90 46.26L323.92 46.41L324.06 44.38L324.08 48.90L324.10 45.84L324.12 48.49L324.19 44.72L324.29 45.87L324.31 49.16L324.49 44.52L324.51 45.69L324.55 47.32L324.70 45.88L324.72 47.41L324.78 45.20L324.88 45.25L324.90 44.93L324.92 47.32L325.07 44.74L325.09 46.97L325.11 45.83L325.27 44.74L325.29 46.57L325.31 47.23L325.35 44.81L325.48 47.77L325.50 46.37L325.52 46.09L325.62 48.61L325.64 43.98L325.68 45.16L325.70 46.46L325.74 44.43L325.89 47.09L325.91 46.01L325.97 45.03L326.01 47.04L326.09 46.38L326.11 45.20L326.26 46.58L326.30 46.21L326.32 45.53L326.36 46.62L326.46 44.47L326.48 45.82L326.50 45.25L326.54 46.78L326.69 46.10L326.71 45.45L326.75 49.57L326.81 44.88L326.89 45.91L326.91 45.40L327.04 47.30L327.10 46.34L327.12 46.72L327.16 48.18L327.28 44.79L327.30 44.58L327.40 46.76L327.47 44.26L327.49 45.98L327.51 44.67L327.53 44.48L327.55 47.03L327.69 46.40L327.71 44.17L327.75 47.64L327.90 46.78L327.92 46.77L327.94 47.27L328.04 44.30L328.08 46.76L328.10 45.39L328.12 47.01L328.23 44.58L328.29 45.61L328.31 46.10L328.35 44.64L328.45 47.16L328.49 46.20L328.51 44.84L328.70 48.69L328.72 45.66L328.74 44.78L328.80 46.18L328.88 45.89L328.90 49.67L328.92 45.07L329.09 45.76L329.11 46.41L329.17 44.69L329.19 47.75L329.29 45.83L329.31 47.11L329.39 44.39L329.50 44.46L329.52 45.96L329.54 47.98L329.64 45.00L329.68 46.44L329.70 45.01L329.76 44.73L329.85 47.50L329.89 45.45L329.91 47.53L329.95 44.38L330.09 47.29L330.11 46.62L330.23 47.01L330.28 44.03L330.30 45.45L330.32 45.94L330.34 44.85L330.40 47.17L330.48 46.36L330.50 47.27L330.58 44.80L330.69 45.14L330.71 47.88L330.73 45.16L330.89 45.63L330.91 45.01L331.03 47.67L331.08 44.98L331.10 46.10L331.12 46.60L331.28 44.50L331.30 45.70L331.38 47.13L331.44 44.36L331.49 45.84L331.51 44.80L331.53 44.78L331.67 47.94L331.69 45.26L331.71 48.06L331.90 45.10L331.92 45.13L331.96 44.81L332.08 48.55L332.10 45.22L332.14 44.36L332.16 47.75L332.29 45.76L332.31 45.05L332.37 44.77L332.49 46.01L332.51 46.33L332.53 49.02L332.61 44.45L332.70 45.35L332.72 46.86L332.86 44.23L332.88 45.81L332.90 45.77L332.98 46.23L333.02 44.40L333.09 45.49L333.11 45.91L333.13 44.92L333.21 46.27L333.29 45.76L333.31 45.65L333.35 46.30L333.50 44.37L333.52 44.99L333.62 47.36L333.68 46.23L333.70 44.60L333.80 47.59L333.89 45.10L333.91 45.74L334.01 44.40L334.05 46.33L334.09 46.08L334.11 47.08L334.13 44.37L334.21 47.31L334.30 44.75L334.32 45.68L334.36 44.98L334.38 45.96L334.48 45.06L334.50 46.63L334.52 44.37L334.69 45.34L334.71 47.23L334.79 47.58L334.89 44.16L334.91 45.15L335.03 44.91L335.10 48.65L335.12 45.30L335.24 44.76L335.26 46.06L335.28 45.26L335.30 45.09L335.40 44.07L335.48 47.78L335.51 45.46L335.61 46.83L335.69 44.50L335.71 45.37L335.81 44.41L335.85 47.25L335.90 44.76L335.92 47.31L335.98 44.59L336.08 45.55L336.10 46.27L336.22 47.87L336.28 44.73L336.31 45.89L336.37 44.79L336.49 47.23L336.51 46.21L336.55 44.58L336.65 46.81L336.69 45.10L336.72 44.51L336.86 46.60L336.88 45.95L336.90 45.95L336.92 49.90L336.94 44.98L337.08 45.55L337.11 45.56L337.15 47.14L337.23 44.66L337.29 46.15L337.31 46.18L337.39 48.37L337.47 44.72L337.49 46.99L337.52 46.96L337.68 44.54L337.70 46.61L337.72 45.90L337.74 44.91L337.78 46.61L337.88 45.33L337.90 46.25L337.97 44.86L338.01 47.13L338.09 46.45L338.11 44.93L338.15 46.77L338.17 44.68L338.29 45.86L338.32 45.40L338.42 46.43L338.50 44.77L338.52 44.43L338.56 47.09L338.68 44.44L338.70 45.40L338.79 44.72L338.87 47.89L338.89 47.08L338.91 44.82L338.99 46.84L339.03 43.83L339.09 45.83L339.11 45.84L339.18 45.01L339.20 46.37L339.30 46.35L339.32 45.50L339.38 44.72L339.40 47.48L339.48 44.77L339.50 44.90L339.67 47.68L339.69 45.28L339.71 46.31L339.81 44.50L339.83 48.77L339.89 45.98L339.91 46.47L340.00 46.89L340.04 44.72L340.10 45.33L340.12 47.69L340.18 44.09L340.28 46.96L340.30 44.97L340.35 45.97L340.49 44.17L340.51 47.78L340.63 44.21L340.69 45.81L340.71 44.83L340.88 46.59L340.90 44.73L340.92 45.34L340.98 47.63L341.08 44.65L341.10 44.45L341.23 46.35L341.29 44.90L341.31 46.26L341.45 44.53L341.47 47.00L341.49 45.07L341.51 45.81L341.68 47.41L341.70 44.25L341.72 46.55L341.74 47.17L341.76 44.71L341.88 46.97L341.90 46.78L342.03 47.84L342.09 44.92L342.11 44.13L342.27 46.68L342.29 45.11L342.31 45.19L342.36 47.44L342.48 43.92L342.50 45.47L342.52 46.24L342.58 46.38L342.66 45.17L342.68 45.55L342.70 46.76L342.89 44.74L342.91 45.86L342.95 46.65L343.01 44.88L343.09 45.38L343.11 46.63L343.30 44.41L343.32 45.41L343.34 44.93L343.48 47.74L343.50 46.38L343.61 43.89L343.67 48.63L343.69 46.44L343.71 45.13L343.83 47.41L343.85 43.91L343.89 46.17L343.91 44.44L344.04 46.67L344.10 45.82L344.12 46.22L344.20 44.67L344.26 47.01L344.28 45.49L344.30 45.84L344.34 44.01L344.41 46.95L344.49 45.46L344.51 45.93L344.55 44.59L344.61 46.87L344.69 45.42L344.71 44.63L344.78 46.87L344.90 44.81L344.92 45.80L345.06 47.50L345.08 45.52L345.10 45.00L345.12 46.58L345.21 44.17L345.29 45.21L345.31 45.72L345.43 44.32L345.49 47.02L345.51 46.23L345.64 45.20L345.66 47.63L345.70 46.50L345.72 46.56L345.88 44.21L345.90 45.22L345.99 46.03L346.01 44.24L346.09 45.49L346.11 45.96L346.27 47.02L346.29 43.87L346.31 46.16L346.35 44.34L346.40 46.96L346.50 44.66L346.52 44.43L346.64 47.40L346.68 45.57L346.70 44.75L346.72 47.16L346.89 44.54L346.91 45.83L346.95 44.97L347.07 47.94L347.09 47.13L347.11 46.76L347.15 44.58L347.30 46.87L347.32 45.26L347.40 46.81L347.44 44.05L347.48 44.35L347.50 46.89L347.54 44.12L347.69 45.52L347.71 46.07L347.77 44.65L347.89 44.91L347.91 45.41L348.02 47.51L348.10 44.14L348.12 46.69L348.20 44.62L348.28 46.74L348.30 45.35L348.43 44.25L348.45 46.25L348.49 45.28L348.51 46.25L348.53 46.52L348.67 44.31L348.69 45.75L348.71 46.27L348.82 44.25L348.90 46.50L348.92 45.19L348.96 46.06L349.00 44.34L349.08 44.52L349.10 45.20L349.20 47.98L349.29 45.13L349.31 45.13L349.35 47.02L349.43 44.11L349.49 45.89L349.51 47.47L349.57 44.61L349.70 45.10L349.72 45.44L349.74 46.62L349.84 44.24L349.88 46.11L349.90 46.22L349.96 47.72L350.00 44.19L350.09 45.09L350.11 45.56L350.25 44.85L350.29 47.11L350.31 46.51L350.35 49.06L350.50 44.43L350.52 44.31L350.64 47.25L350.68 45.49L350.70 44.27L350.89 47.65L350.91 45.21L350.95 46.70L351.01 43.83L351.09 44.68L351.11 46.52L351.15 47.60L351.21 44.87L351.30 45.26L351.32 45.31L351.40 44.64L351.44 46.70L351.48 44.66L351.50 45.79L351.52 44.10L351.54 49.11L351.69 44.80L351.71 44.31L351.73 48.37L351.89 46.66L351.91 45.24L352.01 44.86L352.08 46.90L352.10 45.09L352.12 45.23L352.18 48.70L352.26 45.05L352.28 46.09L352.30 45.24L352.42 44.80L352.45 47.98L352.49 46.05L352.51 46.59L352.53 44.46L352.67 47.60L352.69 45.61L352.71 44.58L352.77 44.19L352.88 47.22L352.90 46.28L352.92 47.21L353.04 48.70L353.06 43.92L353.08 45.55L353.10 45.42L353.12 46.92L353.27 44.75L353.29 45.00L353.31 45.15L353.45 47.15L353.49 44.83L353.51 44.71L353.61 46.22L353.70 44.59L353.72 45.21L353.78 44.07L353.88 46.75L353.90 45.09L353.92 44.84L353.98 47.00L354.09 46.13L354.11 44.78L354.13 44.27L354.15 47.79L354.29 44.54L354.31 45.74L354.45 44.68L354.50 47.45L354.52 45.64L354.60 44.72L354.68 47.54L354.70 45.66L354.72 44.31L354.80 45.93L354.89 44.35L354.91 46.56L354.95 46.86L355.05 44.48L355.09 44.77L355.11 45.12L355.15 46.66L355.21 44.81L355.30 45.06L355.32 44.88L355.40 48.89L355.46 44.02L355.48 46.32L355.50 44.61L355.54 46.58L355.62 43.82L355.69 46.45L355.71 46.40L355.77 45.06L355.79 47.78L355.89 45.65L355.91 45.87L355.99 44.42L356.10 45.00L356.12 45.96L356.14 47.00L356.28 44.84L356.30 44.37L356.49 47.22L356.51 46.29L356.65 44.94L356.69 45.31L356.71 45.48L356.83 44.16L356.87 46.77L356.90 45.21L356.92 44.60L356.98 46.90L357.02 44.22L357.08 45.38L357.10 45.19L357.14 46.62L357.18 44.01L357.29 44.86L357.31 45.63L357.33 44.00L357.45 46.37L357.49 44.25L357.51 47.25L357.67 43.81L357.70 46.55L357.72 46.58L357.76 45.25L357.82 46.75L357.88 45.88L357.90 46.50L357.96 44.09L358.08 45.58L358.11 47.53L358.29 44.14L358.31 44.42L358.35 46.00L358.49 45.66L358.52 45.64L358.54 46.95L358.56 44.15L358.68 44.76L358.70 47.35L358.80 44.17L358.88 45.49L358.91 46.11L359.05 44.61L359.09 44.66L359.11 45.30L359.17 47.14L359.19 44.52L359.29 45.54L359.32 45.15L359.38 44.24L359.46 47.34L359.50 45.36L359.52 45.55L359.58 47.83L359.60 44.06L359.68 45.17L359.70 45.03L359.75 44.24L359.83 45.81L359.89 44.96L359.91 44.02L359.97 44.00L360.07 46.48L360.09 45.30L360.12 45.70L360.22 47.26L360.26 44.13L360.30 44.56L360.32 45.43L360.42 46.85L360.48 44.17L360.50 46.07L360.59 48.43L360.69 43.76L360.71 44.95L360.73 46.64L360.79 44.21L360.89 45.33L360.91 47.54L360.96 47.78L361.08 43.90L361.10 44.94L361.12 44.58L361.18 46.42L361.28 45.51L361.30 45.91L361.39 44.86L361.41 48.96L361.49 45.60L361.51 45.84L361.55 47.34L361.59 44.64L361.69 46.25L361.71 44.83L361.80 46.55L361.90 44.49L361.92 45.91L361.98 46.15L362.02 43.87L362.08 44.78L362.10 45.71L362.15 46.55L362.17 44.30L362.29 45.38L362.31 45.25L362.35 46.62L362.43 44.19L362.49 44.98L362.51 45.41L362.54 44.52L362.66 45.97L362.70 44.61L362.72 45.96L362.80 44.69L362.84 47.87L362.88 46.44L362.90 44.72L362.95 46.57L363.09 44.53L363.11 44.64L363.17 46.08L363.23 44.58L363.29 45.16L363.31 44.42L363.44 46.30L363.46 44.10L363.50 44.64L363.52 45.56L363.56 46.13L363.66 44.67L363.68 44.80L363.70 45.24L363.75 44.12L363.85 47.40L363.89 44.68L363.91 45.20L364.01 47.02L364.09 44.56L364.11 44.36L364.18 47.62L364.30 44.33L364.32 45.44L364.36 46.18L364.48 43.79L364.50 46.71L364.59 43.97L364.69 45.41L364.71 45.16L364.75 44.23L364.83 46.44L364.89 45.54L364.91 44.72L364.95 43.70L365.02 48.10L365.10 46.32L365.12 46.82L365.14 47.32L365.16 43.69L365.28 44.79L365.30 46.20L365.47 47.23L365.49 43.94L365.51 45.42L365.63 47.92L365.67 44.11L365.69 46.39L365.71 44.26L365.80 46.78L365.86 43.77L365.90 46.60L365.92 44.49L366.02 44.10L366.04 46.05L366.08 45.92L366.10 45.44L366.14 46.67L366.29 44.15L366.31 44.52L366.33 44.18L366.45 46.72L366.49 45.52L366.51 45.06L366.62 46.55L366.70 46.18L366.72 47.25L366.82 47.93L366.84 44.64L366.88 44.77L366.90 45.93L366.96 47.27L366.99 43.59L367.09 44.31L367.11 47.35L367.29 44.76L367.31 45.30L367.42 47.19L367.50 43.76L367.52 46.61L367.64 43.94L367.66 47.52L367.68 46.38L367.70 44.24L367.81 43.63L367.85 46.38L367.89 45.96L367.91 44.23L367.99 43.91L368.05 46.37L368.09 45.03L368.11 45.83L368.13 43.69L368.17 46.10L368.30 44.29L368.32 45.28L368.34 44.50L368.38 46.82L368.48 44.93L368.50 46.61L368.58 43.66L368.69 44.64L368.71 44.24L368.81 46.62L368.89 45.06L368.91 44.03L368.93 46.33L369.10 45.77L369.12 46.05L369.24 44.45L369.28 46.10L369.30 43.91L369.49 47.31L369.51 44.69L369.67 46.92L369.69 45.71L369.71 47.97L369.88 44.62L369.90 45.17L369.92 45.71L369.94 44.22L369.96 45.72L370.08 45.36L370.10 45.46L370.21 48.27L370.27 44.40L370.29 44.97L370.31 44.45L370.33 44.07L370.37 46.17L370.49 44.48L370.51 46.72L370.64 47.89L370.66 44.15L370.70 45.47L370.72 44.10L370.74 47.24L370.88 45.04L370.90 44.89L370.98 44.53L371.05 46.43L371.09 44.90L371.11 45.38L371.15 47.38L371.17 43.67L371.29 45.54L371.31 45.39L371.44 47.05L371.46 44.29L371.50 46.36L371.52 44.34L371.56 47.51L371.68 43.47L371.70 45.38L371.78 46.85L371.80 44.48L371.89 46.12L371.91 44.09L372.09 46.57L372.11 45.64L372.17 44.48L372.30 46.26L372.32 46.93L372.40 44.21L372.48 45.78L372.50 46.08L372.52 47.15L372.65 44.42L372.69 44.99L372.71 44.89L372.83 45.49L372.85 43.93L372.89 45.31L372.91 45.43L373.04 44.84L373.08 46.96L373.10 45.80L373.12 46.20L373.22 47.48L373.26 43.45L373.28 45.88L373.30 45.09L373.36 44.22L373.47 46.60L373.49 45.16L373.51 45.90L373.65 46.50L373.69 44.97L373.71 45.44L373.77 45.61L373.90 43.93L373.92 45.38L373.94 45.67L373.98 44.09L374.08 45.25L374.10 44.77L374.18 45.66L374.25 43.83L374.29 45.48L374.31 46.97L374.35 43.67L374.45 47.24L374.49 45.02L374.51 46.87L374.57 44.41L374.63 46.98L374.70 45.43L374.72 45.87L374.78 46.20L374.88 44.14L374.90 45.64L374.94 48.71L375.07 44.27L375.09 45.80L375.11 46.32L375.19 46.72L375.27 44.27L375.29 45.89L375.31 45.64L375.39 44.02L375.50 46.64L375.52 44.76L375.60 45.62L375.68 44.52L375.70 45.21L375.74 48.00L375.82 43.63L375.89 44.11L375.91 45.84L376.03 44.43L376.05 46.20L376.09 45.91L376.11 44.73L376.17 44.19L376.21 46.49L376.30 45.45L376.32 43.82L376.34 46.34L376.48 44.43L376.50 46.46L376.56 43.38L376.58 47.16L376.69 45.13L376.71 46.78L376.83 48.00L376.87 44.32L376.89 44.88L376.91 45.64L376.97 43.55L377.03 46.02L377.10 45.90L377.12 46.10L377.26 44.35L377.28 45.24L377.30 45.61L377.36 46.94L377.40 44.09L377.49 46.85L377.51 45.99L377.53 44.27L377.55 46.30L377.69 45.60L377.71 45.10L377.83 46.46L377.90 44.55L377.92 44.49L378.02 46.21L378.04 43.72L378.08 44.82L378.10 46.55L378.16 46.94L378.26 43.80L378.29 46.37L378.31 44.48L378.35 44.26L378.37 48.04L378.49 44.41L378.51 44.82L378.65 43.33L378.67 46.95L378.70 45.52L378.72 44.86L378.80 46.84L378.88 44.35L378.90 46.43L378.94 44.38L379.02 46.75L379.09 45.80L379.11 46.29L379.21 47.08L379.23 44.11L379.29 46.77L379.31 45.44L379.37 44.09L379.39 47.50L379.50 44.85L379.52 46.02L379.64 45.64L379.68 48.03L379.70 45.97L379.72 44.39L379.88 47.13L379.91 45.08L379.99 47.09L380.05 44.45L380.09 45.65L380.11 45.66L380.15 47.49L380.29 44.11L380.32 46.02L380.34 47.44L380.44 43.78L380.48 47.31L380.50 44.55L380.52 46.03L380.68 43.89L380.71 48.94L380.81 44.69L380.89 45.45L380.91 45.78L380.95 44.14L380.97 47.72L381.09 44.43L381.12 46.19L381.16 46.30L381.28 44.53L381.30 45.88L381.32 46.09L381.40 44.73L381.46 46.96L381.48 46.75L381.50 45.65L381.53 46.39L381.61 44.25L381.69 45.90L381.71 44.93L381.75 44.33L381.81 46.80L381.89 46.09L381.92 45.92L381.98 46.69L382.08 43.84L382.10 46.22L382.12 45.08L382.18 47.94L382.26 44.12L382.28 45.65L382.30 45.98L382.35 44.52L382.49 47.59L382.51 46.25L382.55 43.59L382.59 47.86L382.69 45.61L382.71 46.35L382.80 47.29L382.86 44.29L382.90 45.56L382.92 45.09L382.98 44.13L383.04 46.28L383.08 44.59L383.10 46.61L383.15 47.76L383.21 44.65L383.29 45.22L383.31 47.03L383.35 44.32L383.49 44.80L383.51 45.31L383.58 44.65L383.66 47.12L383.70 44.81L383.72 43.95L383.84 46.23L383.88 44.82L383.90 47.57L383.92 44.30L384.09 45.62L384.11 46.51L384.21 44.20L384.29 45.72L384.31 45.65L384.40 43.68L384.44 46.65L384.50 45.17L384.52 44.66L384.54 43.72L384.66 46.04L384.68 44.57L384.70 44.80L384.72 46.19L384.85 43.95L384.89 45.96L384.91 45.94L385.03 44.54L385.09 46.77L385.11 47.22L385.22 43.86L385.30 46.21L385.32 44.26L385.38 46.44L385.42 43.74L385.48 45.43L385.50 44.84L385.61 47.80L385.67 44.67L385.69 45.90L385.71 46.46L385.81 44.46L385.85 47.19L385.89 44.66L385.91 45.27L385.93 44.18L386.08 46.62L386.10 45.10L386.12 44.93L386.24 44.39L386.26 47.04L386.28 45.05L386.30 44.74L386.32 44.34L386.39 46.75L386.49 45.07L386.51 45.27L386.53 44.36L386.55 47.64L386.69 45.10L386.71 46.77L386.88 43.76L386.90 45.82L386.92 46.31L387.00 44.17L387.08 45.29L387.10 45.80L387.14 43.95L387.23 47.04L387.29 45.30L387.31 46.26L387.37 44.01L387.39 47.59L387.49 45.25L387.51 45.49L387.53 45.88L387.55 44.05L387.70 44.14L387.72 44.29L387.78 44.09L387.82 46.18L387.88 45.15L387.90 45.23L387.96 44.21L388.01 46.75L388.09 45.89L388.11 44.99L388.17 44.00L388.21 48.13L388.29 45.21L388.31 44.81L388.33 43.48L388.42 47.15L388.50 46.02L388.52 44.79L388.66 43.64L388.68 47.39L388.70 44.02L388.83 46.78L388.85 43.78L388.89 44.64L388.91 44.89L388.93 47.20L388.99 44.29L389.09 45.92L389.11 44.88L389.15 47.13L389.20 43.69L389.30 43.91L389.32 45.00L389.44 43.89L389.48 45.69L389.50 45.50L389.52 46.07L389.65 43.87L389.69 44.00L389.71 45.82L389.75 47.04L389.81 44.15L389.89 45.70L389.91 44.99L389.95 46.41L390.10 44.26L390.12 45.36L390.14 44.22L390.20 46.23L390.28 44.64L390.30 46.06L390.32 46.94L390.43 44.49L390.49 45.98L390.51 44.78L390.53 44.25L390.67 46.72L390.69 45.16L390.71 46.42L390.75 47.66L390.80 43.83L390.90 44.62L390.92 45.80L390.94 44.24L391.04 45.82L391.08 45.77L391.10 44.26L391.21 46.57L391.23 44.20L391.29 46.08L391.31 45.79L391.37 45.97L391.45 43.68L391.49 44.88L391.51 45.07L391.57 44.14L391.66 47.44L391.70 45.33L391.72 44.90L391.74 46.68L391.88 44.28L391.90 45.17L391.92 47.30L391.98 44.83L392.09 46.36L392.11 45.99L392.13 46.07L392.27 44.08L392.29 44.43L392.31 46.41L392.37 44.14L392.44 47.57L392.50 44.38L392.52 46.47L392.64 44.66L392.68 44.78L392.70 46.44L392.80 44.30L392.83 47.12L392.89 44.32L392.91 46.09L392.97 46.71L393.07 44.24L393.09 46.25L393.11 44.09L393.15 47.13L393.17 43.74L393.30 45.11L393.32 44.75L393.38 46.16L393.46 44.37L393.48 44.65L393.50 44.95L393.52 44.36L393.58 47.11L393.69 45.87L393.71 45.35L393.81 46.89L393.83 44.36L393.89 46.35L393.91 44.55L393.95 44.31L394.06 46.44L394.10 45.33L394.12 47.17L394.26 44.44L394.28 45.75L394.30 44.70L394.32 43.86L394.40 46.77L394.49 45.43L394.51 44.32L394.69 47.21L394.71 44.59L394.86 46.02L394.90 44.30L394.92 44.38L394.98 45.59L395.08 44.15L395.10 44.10L395.18 46.90L395.25 44.02L395.29 45.41L395.31 45.27L395.39 46.91L395.43 43.27L395.49 44.70L395.51 46.18L395.57 46.88L395.70 44.44L395.72 44.95L395.76 44.42L395.78 45.79L395.88 45.41L395.90 44.00L395.94 46.81L396.09 45.41L396.11 45.90L396.21 43.93L396.23 46.97L396.29 46.61L396.31 43.86L396.50 47.10L396.52 45.00L396.56 46.26L396.66 43.91L396.68 44.81L396.70 44.40L396.78 43.96L396.89 48.54L396.91 45.59L396.95 44.30L396.97 47.20L397.09 46.69L397.11 44.20L397.19 46.06L397.28 44.10L397.30 44.36L397.32 44.95L397.34 44.67L397.44 46.28L397.48 45.96L397.50 45.73L397.52 44.25L397.64 46.64L397.69 45.55L397.71 45.97L397.79 43.89L397.87 46.67L397.89 45.16L397.91 44.25L397.95 46.03L397.97 43.71L398.10 44.50L398.12 47.53L398.22 44.30L398.28 46.84L398.30 44.25L398.42 46.63L398.49 45.03L398.51 45.71L398.55 44.14L398.61 46.70L398.69 45.05L398.71 45.41L398.73 44.39L398.88 45.94L398.90 44.66L398.92 45.13L399.06 47.21L399.08 44.01L399.10 44.85L399.12 43.65L399.14 45.69L399.29 45.05L399.31 47.50L399.47 44.01L399.49 45.36L399.51 46.55L399.68 43.99L399.70 44.94L399.72 43.76L399.74 46.51L399.88 46.10L399.90 45.75L399.98 46.03L400.04 43.83L400.09 44.59L400.11 43.95L400.27 46.94L400.29 45.28L400.31 44.42L400.37 45.87L400.45 44.01L400.50 44.72L400.52 45.08L400.58 46.31L400.68 43.91L400.70 45.84L400.82 44.64L400.86 46.75L400.89 45.43L400.91 44.98L401.01 44.00L401.03 47.60L401.09 44.79L401.11 45.00L401.13 46.13L401.25 43.74L401.30 43.77L401.32 45.87L401.38 46.43L401.46 44.18L401.48 44.73L401.50 44.38L401.56 44.13L401.62 46.90L401.68 44.89L401.71 44.11L401.85 43.73L401.87 46.42L401.89 45.69L401.91 46.52L401.93 44.26L402.09 44.49L402.12 44.21L402.18 47.18L402.28 45.16L402.30 46.00L402.42 44.14L402.48 46.95L402.51 45.42L402.53 45.75L402.59 44.13L402.69 45.55L402.71 45.23L402.81 48.13L402.89 44.25L402.92 45.79L402.94 46.44L403.00 44.03L403.10 44.66L403.12 45.20L403.14 44.65L403.22 45.67L403.28 45.02L403.30 44.14L403.37 47.50L403.49 45.14L403.51 45.81L403.63 45.01L403.67 47.33L403.69 46.13L403.72 44.83L403.76 44.52L403.90 47.22L403.92 44.67L403.94 46.91L404.08 45.99L404.10 44.47L404.17 46.08L404.29 44.16L404.31 44.87L404.33 46.22L404.39 43.91L404.49 44.69L404.51 44.42L404.68 47.02L404.70 44.96L404.72 44.96L404.76 46.65L404.82 44.18L404.88 45.34L404.90 44.81L404.97 46.10L404.99 44.41L405.09 45.31L405.11 46.67L405.17 44.23L405.29 45.01L405.31 45.78L405.42 43.45L405.50 46.15L405.52 44.61L405.54 48.34L405.68 44.30L405.70 45.74L405.87 46.36L405.89 44.27L405.91 45.74L405.93 46.06L406.03 44.29L406.09 45.49L406.11 46.34L406.16 43.87L406.30 46.23L406.32 44.27L406.40 47.07L406.48 45.51L406.50 47.54L406.55 47.91L406.65 44.51L406.69 45.79L406.71 44.66L406.81 45.67L406.89 43.88L406.91 46.20L407.00 46.29L407.02 43.77L407.10 45.25L407.12 46.38L407.18 44.05L407.26 48.81L407.28 44.22L407.30 45.08L407.35 44.04L407.47 47.00L407.49 44.05L407.51 45.22L407.57 43.92L407.63 46.16L407.69 45.43L407.71 45.98L407.82 44.77L407.90 46.85L407.92 45.49L408.00 44.50L408.08 45.96L408.10 46.11L408.17 43.75L408.21 46.16L408.29 44.22L408.31 43.89L408.41 46.58L408.49 45.73L408.51 45.25L408.58 43.59L408.60 47.37L408.70 45.64L408.72 45.16L408.84 44.58L408.88 45.62L408.90 45.58L408.99 46.69L409.01 43.87L409.09 44.42L409.11 45.00L409.23 46.14L409.27 44.04L409.29 44.17L409.31 46.17L409.40 47.55L409.46 43.71L409.50 45.28L409.52 44.68L409.62 45.93L409.66 44.33L409.68 44.36L409.70 44.29L409.85 43.83L409.89 46.60L409.91 43.72L410.03 46.08L410.09 44.91L410.11 46.24L410.20 48.36L410.24 44.03L410.30 44.94L410.32 46.12L410.48 44.59L410.50 46.21L410.52 44.50L410.56 46.32L410.69 44.54L410.71 44.78L410.75 46.69L410.87 44.53L410.89 46.48L410.91 45.16L410.97 46.11L411.06 44.15L411.10 44.71L411.12 45.70L411.20 44.25L411.26 46.17L411.28 45.56L411.30 46.13L411.39 43.91L411.41 47.10L411.49 46.13L411.51 43.76L411.61 47.67L411.69 46.04L411.71 46.64L411.88 43.98L411.90 45.17L411.92 45.92L411.98 43.63L412.08 46.10L412.10 46.90L412.12 44.17L412.23 48.22L412.29 44.62L412.31 45.22L412.33 43.28L412.39 48.07L412.49 45.09L412.51 44.37L412.60 46.61L412.62 43.90L412.70 45.48L412.72 43.97L412.80 46.03L412.88 45.50L412.90 46.72L412.92 44.26L413.01 49.01L413.09 45.71L413.11 44.97L413.17 46.43L413.25 44.12L413.29 45.21L413.31 46.76L413.35 44.39L413.50 47.95L413.52 43.77L413.60 46.50L413.68 45.50L413.70 45.05L413.81 45.74L413.83 43.91L413.89 45.48L413.91 46.38L413.95 46.74L414.09 44.38L414.11 46.71L414.24 44.04L414.28 47.40L414.30 45.07L414.32 46.01L414.36 46.81L414.38 43.90L414.48 44.82L414.50 45.54L414.56 47.67L414.58 44.37L414.69 46.39L414.71 47.08L414.81 44.16L414.87 47.17L414.89 45.02L414.91 44.07L415.10 46.13L415.12 44.59L415.22 43.93L415.24 45.96L415.28 44.37L415.30 45.49L415.32 43.96L415.34 47.81L415.49 44.27L415.51 45.28L415.53 46.19L415.55 44.70L415.69 45.35L415.71 45.13L415.75 43.90L415.84 47.97L415.90 44.75L415.92 46.37L416.00 44.02L416.04 46.57L416.08 45.00L416.10 45.39L416.16 47.16L416.27 44.20L416.29 44.97L416.31 45.36L416.43 44.04L416.47 46.83L416.49 44.30L416.51 46.28L416.57 46.52L416.64 43.92L416.70 45.05L416.72 45.05L416.78 44.07L416.84 46.93L416.88 45.04L416.90 44.12L416.92 48.09L417.02 43.68L417.09 44.13L417.11 44.79L417.19 46.20L417.29 44.05L417.31 46.96L417.46 44.09L417.50 47.72L417.52 44.34L417.58 46.32L417.60 44.22L417.68 44.79L417.70 44.48L417.72 43.89L417.85 46.83L417.89 45.87L417.91 45.87L417.97 47.22L417.99 43.76L418.09 47.00L418.11 45.58L418.17 44.78L418.19 46.40L418.30 45.81L418.32 45.50L418.34 47.45L418.36 43.66L418.48 45.81L418.50 46.89L418.62 44.16L418.67 46.97L418.69 44.67L418.71 44.41L418.73 46.88L418.87 44.25L418.89 45.17L418.91 45.17L418.93 43.52L419.06 46.50L419.10 46.35L419.12 43.44L419.22 45.88L419.28 45.08L419.30 44.51L419.36 46.49L419.42 44.44L419.49 44.78L419.51 44.14L419.63 43.48L419.69 47.17L419.71 44.74L419.77 45.98L419.83 43.96L419.90 45.32L419.92 46.81L420.00 47.55L420.04 44.93L420.08 46.77L420.10 44.36L420.20 46.92L420.22 44.00L420.29 45.89L420.31 44.84L420.35 46.56L420.49 44.40L420.51 45.79L420.57 43.87L420.59 47.29L420.70 44.85L420.72 46.08L420.84 44.33L420.88 45.51L420.90 45.15L420.96 44.26L421.00 45.82L421.09 44.77L421.11 45.96L421.17 43.66L421.23 46.48L421.29 45.29L421.31 44.88L421.33 46.78L421.45 44.50L421.50 44.66L421.52 43.92L421.68 46.66L421.70 44.36L421.82 47.25L421.89 43.60L421.91 44.48L422.03 43.42L422.05 46.51L422.09 45.39L422.11 46.10L422.30 44.21L422.32 45.46L422.34 45.95L422.46 44.41L422.48 45.95L422.50 46.37L422.52 43.95L422.58 47.16L422.69 46.20L422.71 44.35L422.77 46.43L422.85 44.31L422.89 44.57L422.91 44.76L422.95 44.11L423.03 46.23L423.10 44.63L423.12 44.80L423.14 44.19L423.18 46.27L423.28 45.16L423.30 44.32L423.32 43.33L423.42 45.64L423.48 44.76L423.51 44.77L423.55 43.88L423.69 46.19L423.71 45.55L423.75 43.58L423.81 46.74L423.89 46.33L423.92 44.39L424.02 46.39L424.06 43.63L424.08 45.06L424.10 44.70L424.18 48.12L424.28 43.49L424.31 44.62L424.37 44.00L424.47 47.15L424.49 44.77L424.51 46.78L424.57 47.61L424.67 43.71L424.69 44.72L424.72 46.22L424.74 46.61L424.80 44.25L424.90 45.11L424.92 45.95L424.98 46.31L425.00 43.91L425.08 46.18L425.10 44.30L425.15 43.78L425.23 46.39L425.29 44.87L425.31 45.75L425.35 47.99L425.45 43.85L425.49 44.78L425.52 45.38L425.58 44.58L425.64 46.57L425.70 45.86L425.72 44.60L425.84 46.25L425.88 45.46L425.90 45.36L425.97 46.19L426.01 43.80L426.09 45.75L426.11 45.95L426.21 46.26L426.29 44.39L426.31 44.51L426.34 44.03L426.50 47.75L426.52 44.69L426.54 47.28L426.62 43.47L426.68 43.74L426.70 45.55L426.75 44.16L426.77 48.40L426.89 44.32L426.91 45.19L427.03 44.32L427.07 47.43L427.09 46.05L427.11 44.08L427.16 44.04L427.18 47.58L427.30 44.68L427.32 45.64L427.38 46.20L427.46 44.12L427.48 45.21L427.50 44.25L427.59 45.76L427.65 44.05L427.69 44.83L427.71 43.88L427.89 46.63L427.91 45.31L427.98 43.91L428.04 46.62L428.10 45.84L428.12 44.38L428.20 46.95L428.24 44.15L428.28 45.02L428.30 46.23L428.37 44.14L428.47 46.97L428.49 46.10L428.51 45.10L428.53 44.18L428.57 45.88L428.69 45.65L428.71 46.29L428.73 46.77L428.86 44.14L428.90 44.41L428.92 45.66L429.02 46.94L429.06 44.14L429.08 45.10L429.10 44.92L429.21 43.89L429.27 46.74L429.29 44.67L429.31 46.30L429.33 46.43L429.39 44.07L429.49 45.63L429.51 44.91L429.58 47.06L429.64 44.00L429.70 45.17L429.72 44.56L429.74 45.89L429.88 44.00L429.90 44.38L430.05 46.02L430.07 44.13L430.09 45.25L430.11 43.77L430.25 47.16L430.29 45.00L430.31 46.23L430.33 46.65L430.48 44.56L430.50 45.21L430.52 45.36L430.56 47.21L430.58 44.14L430.68 44.64L430.70 46.96L430.77 43.81L430.89 44.78L430.91 47.40L431.09 43.85L431.11 47.47L431.28 43.90L431.30 44.88L431.32 45.51L431.36 45.88L431.46 44.05L431.48 45.01L431.50 44.68L431.56 47.39L431.63 44.13L431.69 45.02L431.71 44.20L431.79 46.32L431.85 43.54L431.89 45.31L431.91 44.85L431.95 45.51L432.04 43.93L432.10 44.63L432.12 45.78L432.14 46.17L432.24 44.42L432.28 45.23L432.30 46.46L432.43 43.77L432.49 45.48L432.51 46.03L432.53 46.35L432.65 44.55L432.69 45.57L432.71 44.36L432.82 46.79L432.90 44.40L432.92 45.93L433.00 46.80L433.08 44.44L433.10 46.67L433.19 44.20L433.29 44.72L433.31 45.40L433.43 44.18L433.45 45.81L433.49 44.62L433.51 45.38L433.60 46.67L433.68 43.90L433.70 45.91L433.72 45.12L433.76 47.37L433.82 44.05L433.88 45.74L433.90 45.26L433.96 43.31L434.01 46.20L434.09 45.39L434.11 45.71L434.15 46.25L434.23 43.89L434.29 45.12L434.31 43.99L434.33 46.83L434.48 43.32L434.50 45.72L434.52 45.33L434.58 48.92L434.68 44.48L434.70 44.52L434.72 46.83L434.74 43.96L434.89 44.35L434.91 45.62L435.03 43.71L435.09 45.48L435.11 44.57L435.15 44.31L435.24 46.00L435.30 45.83L435.32 44.52L435.34 47.25L435.48 45.30L435.50 44.48L435.54 46.74L435.65 44.14L435.69 45.27L435.71 45.88L435.79 47.96L435.81 44.14L435.89 44.96L435.91 44.61L435.93 44.38L436.04 47.70L436.10 44.97L436.12 45.07L436.24 45.41L436.28 43.76L436.30 45.41L436.32 44.25L436.43 46.92L436.49 44.91L436.51 44.82L436.59 46.61L436.67 43.89L436.69 44.83L436.71 45.38L436.75 46.68L436.82 43.83L436.90 46.21L436.92 45.12L436.96 44.28L437.04 45.53L437.08 45.24L437.10 46.28L437.12 46.56L437.25 43.89L437.29 44.64L437.31 43.81L437.49 46.02L437.51 43.93L437.61 45.92L437.70 45.87L437.72 46.02L437.78 46.34L437.84 44.33L437.88 44.39L437.90 46.03L438.07 46.82L438.09 43.97L438.11 45.23L438.17 46.79L438.25 43.85L438.29 45.14L438.31 44.98L438.33 46.18L438.48 44.09L438.50 45.61L438.52 45.53L438.62 47.73L438.64 43.64L438.68 44.80L438.70 45.89L438.72 44.88L438.82 47.02L438.89 45.62L438.91 45.35L439.01 43.94L439.03 46.46L439.09 45.75L439.11 44.04L439.17 45.32L439.30 44.58L439.32 45.25L439.46 48.09L439.48 43.65L439.50 45.37L439.52 46.69L439.60 43.55L439.69 45.70L439.71 44.81L439.73 44.09L439.83 46.70L439.89 44.11L439.91 45.17L439.93 43.67L439.95 46.28L440.10 45.10L440.12 46.73L440.18 44.63L440.28 46.23L440.30 44.94L440.34 46.57L440.42 43.60L440.49 45.64L440.51 45.74L440.53 43.73L440.69 44.08L440.71 45.24L440.81 43.65L440.83 45.28L440.90 44.92L440.92 45.01L440.94 44.39L441.06 46.02L441.08 45.37L441.10 45.24L441.16 45.96L441.22 43.82L441.29 44.01L441.31 46.04L441.41 46.30L441.49 44.61L441.51 45.83L441.53 46.79L441.55 45.03L441.70 45.83L441.72 45.80L441.76 43.14L441.80 46.67L441.88 45.37L441.90 45.02L441.98 44.20L442.07 46.41L442.09 44.52L442.11 45.25L442.13 43.70L442.21 46.78L442.29 45.90L442.31 44.30L442.39 43.85L442.45 46.58L442.50 44.83L442.52 43.86L442.58 45.94L442.68 45.04L442.70 45.94L442.76 46.52L442.86 43.88L442.89 45.75L442.91 44.88L442.93 44.65L443.03 46.65L443.09 46.39L443.11 44.70L443.15 47.97L443.30 44.35L443.32 45.12L443.34 46.56L443.44 44.62L443.48 46.01L443.50 45.18L443.54 44.16L443.66 48.60L443.69 44.32L443.71 45.70L443.75 46.60L443.87 44.78L443.89 45.87L443.91 44.58L444.05 45.46L444.07 43.80L444.10 43.85L444.12 46.63L444.14 47.49L444.26 44.31L444.28 44.49L444.30 45.48L444.40 45.86L444.42 43.97L444.49 45.41L444.51 45.09L444.67 43.79L444.69 45.38L444.71 43.83L444.77 47.44L444.90 46.62L444.92 45.00L445.02 44.57L445.04 46.46L445.08 44.60L445.10 48.17L445.14 43.81L445.28 46.80L445.31 43.46L445.43 47.16L445.49 46.89L445.51 44.75L445.63 46.07L445.65 44.15L445.69 45.05L445.72 46.13L445.78 43.78L445.88 45.15L445.90 44.98L445.92 43.95L446.06 47.13L446.08 45.28L446.11 44.25L446.15 46.69L446.21 43.71L446.29 44.79L446.31 45.91L446.43 43.67L446.49 47.70L446.52 44.02L446.62 43.18L446.64 45.71L446.70 44.82L446.72 47.34L446.88 43.54L446.90 43.76L447.01 46.37L447.09 44.21L447.11 45.06L447.13 44.22L447.21 47.05L447.29 44.91L447.32 44.89L447.40 44.13L447.46 47.73L447.50 44.17L447.52 45.87L447.66 47.23L447.68 44.02L447.70 46.95L447.75 44.40L447.89 44.81L447.91 46.00L448.05 44.37L448.09 44.77L448.11 45.94L448.14 46.84L448.18 44.27L448.30 45.34L448.32 46.22L448.46 43.82L448.48 46.02L448.50 45.88L448.55 43.13L448.65 46.71L448.69 44.00L448.71 46.79L448.79 44.10L448.89 45.26L448.91 45.20L449.02 44.16L449.10 45.48L449.12 46.36L449.18 43.81L449.26 47.02L449.28 45.65L449.30 45.26L449.35 46.17L449.47 44.14L449.49 45.62L449.51 47.04L449.65 47.87L449.67 44.22L449.69 44.24L449.71 45.20L449.86 46.47L449.90 44.12L449.92 45.32L449.94 43.23L450.06 45.87L450.08 45.09L450.10 46.21L450.12 47.41L450.27 43.76L450.29 44.88L450.31 44.65L450.33 46.23L450.49 43.39L450.51 45.65L450.60 46.96L450.66 43.75L450.70 46.30L450.72 44.49L450.74 46.04L450.88 43.41L450.90 44.39L451.03 43.96L451.07 46.10L451.09 44.56L451.11 45.02L451.15 45.66L451.17 43.53L451.29 43.78L451.31 45.19L451.36 46.09L451.48 43.80L451.50 46.01L451.52 44.21L451.54 43.43L451.56 45.61L451.68 43.81L451.70 44.28L451.74 46.80L451.89 45.37L451.91 44.83L452.03 46.24L452.09 43.57L452.11 43.85L452.26 46.73L452.30 44.04L452.32 46.59L452.34 47.00L452.44 44.40L452.48 44.89L452.50 44.46L452.59 46.51L452.61 43.93L452.69 44.65L452.71 44.58L452.73 46.51L452.83 44.00L452.89 44.14L452.91 44.71L453.02 45.84L453.06 43.81L453.10 44.88L453.12 45.22L453.16 47.21L453.18 43.81L453.28 44.68L453.30 44.44L453.43 45.58L453.47 43.56L453.49 45.28L453.51 44.61L453.61 43.60L453.65 45.57L453.69 44.93L453.71 43.84L453.73 46.64L453.90 44.72L453.92 46.38L453.96 43.72L454.08 44.64L454.10 44.08L454.14 46.73L454.29 43.53L454.31 44.06L454.33 44.04L454.35 46.63L454.49 45.18L454.51 45.50L454.53 44.45L454.66 47.04L454.70 44.86L454.72 43.71L454.80 46.23L454.88 44.75L454.90 44.17L454.94 46.11L455.05 43.76L455.09 45.07L455.11 45.23L455.21 43.52L455.27 45.47L455.29 45.06L455.31 44.84L455.33 46.72L455.35 43.73L455.50 45.79L455.52 45.58L455.62 47.71L455.68 43.69L455.70 44.41L455.76 43.64L455.89 47.51L455.91 46.26L456.03 43.13L456.09 44.19L456.11 44.97L456.20 46.26L456.28 43.52L456.30 44.48L456.32 45.30L456.40 46.26L456.44 44.89L456.48 44.96L456.50 45.23L456.56 44.73L456.61 47.88L456.69 44.83L456.71 45.62L456.81 46.42L456.85 44.41L456.89 44.86L456.91 46.07L456.97 44.73L457.08 46.10L457.10 46.04L457.12 45.74L457.14 46.48L457.20 44.27L457.28 45.40L457.30 45.26L457.34 46.60L457.36 44.01L457.49 44.69L457.51 44.68L457.55 46.38L457.69 45.04L457.71 44.62L457.82 43.89L457.90 46.78L457.92 44.25L458.00 44.10L458.04 45.46L458.08 44.40L458.10 46.30L458.20 44.02L458.29 45.37L458.31 45.63L458.35 44.27L458.45 47.10L458.49 45.30L458.51 43.81L458.68 46.36L458.70 44.70L458.72 44.07L458.74 47.86L458.88 44.89L458.90 44.90L458.92 43.83L459.09 46.29L459.11 43.52L459.19 47.08L459.29 43.56L459.31 44.53L459.39 43.29L459.44 46.64L459.50 44.07L459.52 45.44L459.56 46.43L459.68 43.76L459.70 43.89L459.76 43.76L459.83 45.77L459.89 44.97L459.91 45.35L459.95 44.23L460.01 46.66L460.09 46.47L460.11 45.54L460.15 47.81L460.17 44.51L460.30 44.95L460.32 44.97L460.34 44.46L460.36 46.31L460.48 45.63L460.50 44.97L460.52 46.65L460.60 43.36L460.69 43.82L460.71 44.69L460.79 47.28L460.83 43.94L460.89 45.20L460.91 45.14L460.99 45.91L461.01 43.98L461.10 45.86L461.12 45.11L461.14 46.83L461.24 44.06L461.28 45.18L461.30 45.43L461.40 45.87L461.42 43.35L461.49 44.29L461.51 45.54L461.57 46.14L461.63 43.70L461.69 44.14L461.71 46.46L461.79 48.22L461.88 44.02L461.90 48.00L461.92 45.12L461.94 43.98L461.98 46.27L462.08 44.04L462.10 44.42L462.22 44.10L462.27 46.24L462.29 44.62L462.31 44.67L462.35 46.55L462.49 43.61L462.51 44.71L462.53 46.61L462.59 44.01L462.70 45.09L462.72 43.97L462.78 47.46L462.88 44.06L462.90 44.38L462.92 46.74L463.04 43.33L463.09 45.66L463.11 45.43L463.15 43.60L463.27 46.16L463.29 44.37L463.31 44.57L463.35 45.78L463.50 44.00L463.52 45.95L463.56 46.02L463.62 43.94L463.64 45.43" stroke="#1f77b4" stroke-opacity="0.5" stroke-width="1.2"/>
<path d="M53.50 189.89L53.68 181.39L53.71 181.03L53.87 173.64L53.89 173.68L53.91 173.06L54.09 168.40L54.12 168.04L54.28 165.74L54.30 166.41L54.32 165.85L54.40 165.02L54.48 165.87L54.50 165.45L54.67 167.85L54.69 167.46L54.71 168.29L54.73 167.57L54.87 170.00L54.89 169.41L54.92 170.13L55.08 171.94L55.10 171.10L55.12 171.93L55.26 170.37L55.28 171.66L55.30 171.44L55.39 170.64L55.41 171.76L55.49 171.64L55.51 171.12L55.53 171.34L55.69 170.21L55.71 170.46L55.84 170.91L55.90 169.43L55.92 169.94L56.04 168.57L56.08 168.98L56.10 168.20L56.19 169.32L56.27 167.32L56.29 168.22L56.31 167.78L56.41 166.35L56.49 166.81L56.51 166.87L56.70 165.31L56.72 165.40L56.86 163.66L56.88 164.38L56.90 164.46L56.95 164.49L57.09 162.30L57.11 162.26L57.13 162.61L57.29 160.45L57.31 162.07L57.46 158.92L57.50 159.74L57.52 159.64L57.64 157.96L57.68 158.33L57.70 157.69L57.83 157.74L57.89 155.33L57.91 155.78L57.93 156.47L58.09 153.69L58.11 155.32L58.24 150.94L58.30 153.30L58.32 151.34L58.40 152.38L58.48 149.85L58.50 149.26L58.52 149.90L58.67 147.26L58.69 147.63L58.71 148.08L58.79 148.11L58.85 146.12L58.89 146.17L58.91 146.32L58.96 147.74L59.06 143.89L59.10 145.62L59.12 144.50L59.14 145.00L59.26 141.79L59.28 142.74L59.30 142.49L59.45 140.95L59.49 141.43L59.51 141.00L59.57 141.11L59.69 137.96L59.71 138.71L59.73 139.55L59.90 136.76L59.92 137.50L60.00 137.75L60.06 134.70L60.08 136.35L60.10 134.42L60.19 136.48L60.25 133.10L60.29 134.24L60.31 132.54L60.45 133.23L60.49 130.48L60.51 130.01L60.53 130.59L60.55 129.01L60.70 129.04L60.72 128.24L60.76 128.86L60.82 126.91L60.88 127.43L60.90 125.58L60.92 126.61L61.05 123.35L61.09 124.53L61.11 124.05L61.27 121.28L61.29 122.66L61.31 120.80L61.33 123.27L61.40 118.68L61.50 119.12L61.52 119.85L61.56 120.02L61.68 116.64L61.70 116.78L61.74 118.02L61.85 113.47L61.89 115.48L61.91 114.23L62.01 116.55L62.07 112.33L62.09 114.10L62.11 113.31L62.13 114.47L62.30 109.17L62.32 109.43L62.34 111.55L62.40 108.50L62.48 111.42L62.50 110.10L62.65 106.40L62.69 107.97L62.71 107.39L62.85 102.92L62.89 104.96L62.91 105.31L63.02 101.87L63.10 104.62L63.12 102.35L63.14 104.45L63.28 100.84L63.30 101.13L63.32 101.92L63.49 99.21L63.51 101.33L63.53 97.18L63.69 100.02L63.71 98.81L63.88 95.87L63.90 97.15L63.92 95.79L64.02 97.14L64.08 94.08L64.10 95.92L64.12 98.02L64.29 94.04L64.31 93.81L64.33 94.89L64.47 91.80L64.49 92.01L64.51 93.96L64.66 94.40L64.70 91.55L64.72 92.97L64.78 94.25L64.80 90.01L64.88 91.41L64.90 90.28L65.03 89.83L65.09 92.66L65.11 91.42L65.17 91.55L65.23 88.14L65.29 89.70L65.31 89.74L65.37 92.07L65.44 88.58L65.50 89.09L65.52 90.28L65.58 86.72L65.68 87.95L65.70 88.74L65.76 86.74L65.78 89.85L65.89 86.91L65.91 89.47L65.93 86.70L66.01 90.03L66.09 87.58L66.11 89.32L66.13 89.59L66.24 83.98L66.30 86.29L66.32 86.55L66.40 84.59L66.44 87.84L66.48 87.32L66.50 86.10L66.69 83.24L66.71 85.80L66.79 89.58L66.85 83.55L66.89 86.09L66.91 85.33L67.04 83.08L67.08 89.05L67.10 86.03L67.12 84.88L67.14 82.18L67.18 86.70L67.28 84.92L67.30 84.52L67.40 82.18L67.42 86.07L67.49 84.40L67.51 83.70L67.57 85.28L67.65 81.46L67.69 84.74L67.71 82.55L67.90 86.07L67.92 83.14L67.94 80.91L68.06 85.16L68.08 84.14L68.10 83.58L68.18 81.18L68.25 85.19L68.29 82.50L68.31 81.34L68.35 79.38L68.43 83.77L68.49 81.43L68.51 87.05L68.55 80.40L68.70 81.15L68.72 81.33L68.76 79.78L68.88 84.10L68.90 83.54L69.00 84.33L69.09 79.32L69.11 81.52L69.17 79.12L69.25 82.97L69.29 81.96L69.31 80.34L69.39 79.15L69.41 83.43L69.50 80.60L69.52 80.91L69.58 83.22L69.60 79.58L69.68 79.68L69.70 78.42L69.76 82.89L69.89 80.33L69.91 80.28L70.05 82.88L70.07 80.09L70.09 80.20L70.11 79.60L70.17 79.05L70.28 81.96L70.30 80.72L70.32 80.50L70.34 81.54L70.42 77.95L70.48 81.07L70.50 79.89L70.54 81.54L70.69 77.85L70.71 80.35L70.73 77.15L70.85 81.48L70.89 77.94L70.91 79.13L70.93 80.62L71.01 77.42L71.10 79.79L71.12 79.15L71.22 77.30L71.24 80.10L71.28 78.38L71.30 78.31L71.32 81.64L71.44 77.03L71.49 79.48L71.51 76.66L71.59 76.44L71.67 80.27L71.69 78.42L71.71 77.42L71.79 79.76L71.88 76.36L71.90 78.26L71.92 78.06L72.06 79.89L72.08 76.17L72.10 78.40L72.18 78.45L72.22 76.38L72.29 76.55L72.31 76.22L72.47 80.70L72.49 79.82L72.51 76.83L72.67 75.33L72.70 78.99L72.72 77.85L72.76 79.71L72.86 75.34L72.88 78.21L72.90 74.64L73.06 79.61L73.09 76.65L73.11 75.45L73.17 78.72L73.27 74.99L73.29 77.48L73.31 76.61L73.43 75.17L73.50 79.50L73.52 75.18L73.62 74.57L73.68 77.30L73.70 76.22L73.82 80.22L73.84 74.24L73.88 76.63L73.91 75.32L73.97 73.94L74.07 76.73L74.09 75.65L74.11 76.50L74.25 73.33L74.27 77.93L74.30 73.55L74.32 78.87L74.48 74.25L74.50 73.62L74.58 75.44L74.60 71.84L74.68 73.47L74.71 77.46L74.77 78.00L74.89 72.65L74.91 74.11L74.95 76.65L74.97 73.35L75.09 76.33L75.12 73.89L75.14 75.47L75.22 70.86L75.28 73.03L75.30 73.73L75.34 75.39L75.46 71.68L75.48 73.65L75.51 75.30L75.63 70.50L75.69 75.28L75.71 72.47L75.73 74.23L75.75 71.44L75.89 73.90L75.92 74.14L76.06 70.82L76.10 71.77L76.12 71.04L76.26 75.16L76.28 74.35L76.30 72.33L76.33 75.91L76.41 71.85L76.49 72.37L76.51 72.14L76.59 74.70L76.63 71.82L76.69 71.85L76.72 70.04L76.84 75.09L76.90 72.16L76.92 74.73L76.94 75.37L76.98 70.57L77.08 73.72L77.10 73.24L77.27 70.27L77.29 71.95L77.31 71.55L77.41 73.21L77.45 69.81L77.49 72.22L77.51 73.02L77.54 74.07L77.66 70.28L77.70 71.38L77.72 69.92L77.74 75.06L77.88 72.64L77.90 69.76L78.09 73.82L78.11 71.83L78.21 70.38L78.29 70.42L78.31 72.05L78.48 69.42L78.50 73.12L78.52 73.30L78.54 76.27L78.58 69.49L78.68 70.44L78.70 69.64L78.81 72.37L78.83 69.02L78.89 71.21L78.91 70.81L78.95 70.44L79.03 74.59L79.09 73.30L79.11 68.47L79.24 73.47L79.30 69.39L79.32 69.86L79.36 72.89L79.40 69.66L79.48 71.81L79.50 70.47L79.63 72.32L79.65 69.45L79.69 71.35L79.71 71.34L79.85 72.03L79.87 69.04L79.89 70.93L79.91 69.13L80.00 68.62L80.10 71.71L80.12 70.31L80.14 72.13L80.26 68.09L80.28 70.53L80.30 71.37L80.41 72.14L80.43 69.41L80.49 70.76L80.51 68.53L80.69 72.75L80.71 69.75L80.82 69.04L80.84 71.27L80.90 69.73L80.92 71.31L80.94 72.79L81.00 68.05L81.08 70.11L81.10 70.84L81.14 72.45L81.27 67.68L81.29 69.94L81.31 68.23L81.39 72.29L81.47 67.77L81.49 69.20L81.51 67.85L81.53 73.09L81.70 67.60L81.72 73.40L81.76 67.77L81.88 69.67L81.90 71.31L81.92 71.57L82.01 66.90L82.09 68.55L82.11 70.47L82.23 67.69L82.27 73.64L82.29 71.66L82.31 70.59L82.44 68.38L82.48 72.72L82.50 70.61L82.52 69.91L82.54 70.97L82.68 66.57L82.70 71.10L82.72 66.34L82.89 67.73L82.91 67.32L83.07 73.12L83.09 69.70L83.11 68.50L83.13 71.35L83.18 67.05L83.30 68.34L83.32 66.97L83.46 70.19L83.48 68.04L83.50 71.46L83.65 68.02L83.69 69.02L83.71 69.86L83.75 72.79L83.89 67.05L83.91 69.00L83.93 69.65L84.02 67.98L84.10 68.07L84.12 68.55L84.24 67.12L84.28 67.45L84.30 68.71L84.43 66.67L84.47 70.82L84.49 68.61L84.51 69.26L84.57 65.37L84.65 70.30L84.69 66.76L84.71 68.35L84.75 66.93L84.77 70.58L84.90 68.32L84.92 67.29L84.98 71.10L85.02 67.19L85.08 68.11L85.10 67.74L85.12 66.67L85.27 68.72L85.29 68.44L85.31 69.03L85.41 69.53L85.47 66.98L85.49 67.55L85.51 66.44L85.55 69.23L85.70 67.57L85.72 65.11L85.82 68.16L85.88 66.87L85.90 67.22L85.92 68.87L86.05 66.95L86.09 68.34L86.11 67.71L86.21 63.86L86.29 69.58L86.31 68.21L86.33 65.33L86.50 69.42L86.52 67.78L86.54 71.25L86.62 65.37L86.68 67.83L86.70 66.17L86.78 67.94L86.85 66.08L86.89 67.05L86.91 68.78L86.99 70.17L87.01 65.73L87.09 68.85L87.11 67.20L87.22 67.78L87.24 65.77L87.30 66.65L87.32 66.84L87.38 69.22L87.48 65.96L87.50 67.28L87.60 65.88L87.63 68.76L87.69 67.37L87.71 67.60L87.85 67.89L87.89 64.66L87.91 70.15L87.99 65.92L88.10 68.03L88.12 66.20L88.24 68.12L88.26 65.25L88.28 67.16L88.30 65.50L88.32 64.50L88.47 69.17L88.49 66.39L88.51 66.71L88.55 64.75L88.69 69.15L88.71 64.24L88.79 67.82L88.90 65.88L88.92 65.52L89.02 70.32L89.08 67.44L89.10 67.67L89.12 65.57L89.27 68.95L89.29 67.66L89.31 65.86L89.37 68.01L89.47 64.50L89.49 64.83L89.51 67.57L89.59 65.06L89.70 68.54L89.72 66.78L89.76 67.70L89.80 65.23L89.88 65.62L89.90 66.83L89.94 64.03L89.96 69.90L90.09 66.73L90.11 66.19L90.17 63.66L90.25 69.15L90.29 66.42L90.31 68.94L90.39 65.07L90.50 66.13L90.52 68.40L90.64 64.55L90.68 66.38L90.70 64.17L90.87 67.26L90.89 66.35L90.91 65.73L90.93 63.92L90.95 68.72L91.09 66.70L91.11 66.44L91.23 67.94L91.26 64.89L91.30 67.26L91.32 65.22L91.44 69.00L91.46 64.46L91.48 64.95L91.50 67.99L91.64 63.89L91.69 66.81L91.71 67.70L91.75 68.29L91.83 64.51L91.89 65.00L91.91 66.53L91.95 63.80L92.03 68.59L92.10 68.09L92.12 66.00L92.24 64.56L92.26 66.14L92.28 65.94L92.30 64.31L92.40 66.74L92.49 63.79L92.51 67.84L92.53 64.92L92.69 66.78L92.71 65.87L92.75 64.10L92.77 68.12L92.90 65.38L92.92 65.89L92.94 64.12L93.02 67.29L93.08 66.07L93.10 68.15L93.14 64.46L93.29 65.19L93.31 65.18L93.33 67.84L93.45 63.76L93.49 64.72L93.51 67.78L93.59 64.26L93.70 67.11L93.72 66.39L93.76 64.35L93.82 67.98L93.88 64.48L93.90 63.63L94.06 67.23L94.09 65.79L94.11 66.06L94.13 69.15L94.17 63.39L94.29 65.38L94.31 66.35L94.39 64.88L94.41 66.73L94.50 66.09L94.52 66.69L94.56 68.25L94.62 63.59L94.68 67.37L94.70 65.46L94.78 63.49L94.84 66.93L94.89 64.07L94.91 63.25L94.95 67.68L95.09 65.32L95.11 64.75L95.21 63.50L95.27 66.67L95.30 65.98L95.32 65.49L95.36 67.20L95.46 65.07L95.48 66.69L95.50 64.93L95.62 63.96L95.66 67.12L95.68 67.12L95.71 65.72L95.81 64.21L95.87 68.83L95.89 66.41L95.91 65.58L95.99 63.65L96.10 66.28L96.12 64.92L96.16 66.59L96.22 63.34L96.28 65.58L96.30 67.29L96.38 63.27L96.48 63.52L96.51 65.55L96.61 63.23L96.67 66.40L96.69 65.56L96.71 64.72L96.81 64.26L96.89 67.35L96.92 65.25L96.94 63.58L97.08 67.14L97.10 66.82L97.28 63.15L97.31 62.49L97.47 66.75L97.49 66.24L97.51 64.37L97.53 66.99L97.55 63.40L97.69 64.57L97.72 64.36L97.86 63.61L97.90 67.53L97.92 66.01L97.96 63.67L98.08 66.41L98.10 67.45L98.19 62.69L98.29 64.64L98.31 63.95L98.39 63.78L98.49 67.41L98.52 65.73L98.56 66.86L98.64 63.87L98.70 65.36L98.72 63.80L98.82 63.25L98.84 66.99L98.88 66.39L98.90 63.90L98.93 63.49L99.05 67.14L99.09 63.86L99.11 66.88L99.23 63.43L99.29 65.70L99.31 64.66L99.36 63.11L99.50 66.59L99.52 65.28L99.64 65.82L99.68 63.22L99.70 64.80L99.73 63.34L99.89 67.97L99.91 65.64L99.95 66.36L100.05 64.33L100.09 65.82L100.11 63.17L100.22 62.72L100.30 65.90L100.32 65.83L100.36 63.31L100.48 66.75L100.50 63.21L100.57 62.71L100.63 65.24L100.69 64.79L100.71 63.09L100.81 62.73L100.83 66.80L100.89 64.52L100.91 65.18L100.98 68.44L101.00 62.41L101.10 62.95L101.12 64.21L101.22 63.43L101.28 68.15L101.30 63.39L101.45 67.31L101.49 65.92L101.51 66.12L101.53 63.41L101.63 66.45L101.69 65.34L101.71 64.27L101.78 63.47L101.90 69.33L101.92 65.31L101.94 63.03L102.06 66.92L102.08 64.21L102.10 63.37L102.21 63.31L102.25 67.08L102.29 63.56L102.31 65.63L102.37 68.51L102.49 61.10L102.51 65.01L102.62 65.82L102.70 63.54L102.72 64.80L102.74 62.93L102.86 68.67L102.88 66.98L102.90 67.59L103.09 62.11L103.11 65.15L103.23 62.93L103.29 64.61L103.31 64.12L103.35 63.27L103.48 65.94L103.50 65.49L103.52 63.34L103.56 66.37L103.66 62.04L103.68 65.31L103.70 63.86L103.74 61.91L103.87 67.56L103.89 64.92L103.91 65.67L103.95 62.77L104.01 65.78L104.09 65.73L104.11 64.00L104.22 66.18L104.30 63.19L104.32 65.96L104.34 62.46L104.48 64.25L104.50 63.83L104.59 65.94L104.61 62.00L104.69 64.26L104.71 63.16L104.73 61.38L104.85 65.80L104.89 64.56L104.91 63.00L104.93 62.85L105.04 67.33L105.10 63.60L105.12 64.05L105.14 65.57L105.26 62.72L105.28 64.48L105.30 62.94L105.47 67.08L105.49 63.30L105.51 64.08L105.55 61.87L105.61 65.82L105.69 63.17L105.71 63.50L105.73 62.94L105.84 67.95L105.90 64.67L105.92 64.59L105.94 66.38L106.02 63.52L106.08 63.63L106.10 65.22L106.14 61.79L106.27 65.81L106.29 63.64L106.31 64.96L106.47 62.04L106.49 66.08L106.51 63.29L106.57 65.35L106.70 64.54L106.72 63.45L106.82 64.68L106.86 62.67L106.88 64.36L106.90 66.41L106.94 62.78L107.03 67.21L107.09 62.98L107.11 62.23L107.17 61.44L107.19 67.02L107.29 63.54L107.31 63.71L107.40 62.73L107.48 67.04L107.50 65.29L107.52 63.70L107.54 63.24L107.60 66.55L107.68 64.64L107.70 61.47L107.85 66.66L107.89 63.05L107.91 63.09L108.07 66.94L108.09 62.50L108.11 65.17L108.17 61.91L108.24 67.36L108.30 66.93L108.32 63.74L108.36 65.97L108.42 63.21L108.48 65.05L108.50 63.63L108.56 62.17L108.67 66.26L108.69 63.50L108.71 62.93L108.83 60.36L108.87 65.49L108.89 63.34L108.91 63.15L108.93 66.14L108.99 61.80L109.10 63.40L109.12 62.65L109.14 65.03L109.24 61.58L109.28 61.95L109.30 65.89L109.34 61.00L109.49 63.02L109.51 63.82L109.65 65.51L109.67 62.25L109.69 65.11L109.71 62.75L109.77 62.32L109.81 67.92L109.90 63.18L109.92 61.30L110.06 66.15L110.08 62.35L110.10 61.49L110.25 64.29L110.29 62.45L110.31 62.35L110.41 65.50L110.47 61.47L110.49 63.39L110.51 65.02L110.55 61.87L110.57 65.86L110.70 63.30L110.72 64.90L110.76 61.70L110.88 64.55L110.90 62.91L111.00 61.75L111.02 65.35L111.09 62.25L111.11 63.60L111.15 62.74L111.25 63.88L111.29 63.59L111.31 64.20L111.37 65.18L111.39 61.36L111.50 62.58L111.52 61.33L111.60 60.98L111.68 65.78L111.70 62.64L111.76 62.07L111.82 66.10L111.89 63.80L111.91 62.74L111.93 65.33L112.07 61.86L112.09 63.91L112.11 62.84L112.19 65.55L112.28 61.63L112.30 63.72L112.32 62.55L112.36 64.12L112.46 60.18L112.48 63.13L112.50 62.30L112.54 60.13L112.56 66.13L112.69 61.28L112.71 62.27L112.81 65.33L112.89 62.63L112.91 64.39L112.93 61.48L113.10 63.99L113.12 62.38L113.20 63.39L113.22 61.03L113.28 61.53L113.30 60.87L113.47 65.10L113.49 63.57L113.51 62.49L113.53 65.63L113.63 61.58L113.69 63.12L113.71 62.14L113.77 61.86L113.83 65.58L113.90 61.97L113.92 63.60L113.96 65.29L114.00 62.73L114.08 64.01L114.10 62.52L114.12 64.90L114.16 61.48L114.29 64.49L114.31 63.11L114.35 64.29L114.39 61.67L114.49 63.13L114.51 62.04L114.57 64.80L114.59 61.04L114.70 62.83L114.72 64.16L114.86 61.65L114.88 64.81L114.90 61.43L115.07 61.08L115.09 65.80L115.11 64.96L115.13 61.62L115.29 62.42L115.31 64.11L115.35 64.88L115.39 60.54L115.50 62.66L115.52 61.45L115.58 67.23L115.68 62.48L115.70 61.74L115.74 65.71L115.78 60.74L115.89 61.35L115.91 62.97L115.95 64.30L116.09 60.02L116.11 60.39L116.17 63.75L116.30 63.72L116.32 61.13L116.36 64.03L116.48 59.95L116.50 62.54L116.54 66.00L116.56 60.32L116.69 63.15L116.71 63.10L116.73 66.43L116.81 60.95L116.89 62.15L116.91 62.70L117.01 60.26L117.10 65.04L117.12 61.56L117.24 59.26L117.28 65.52L117.30 61.29L117.34 63.58L117.40 60.31L117.48 63.04L117.51 63.58L117.61 60.57L117.65 64.33L117.69 63.38L117.71 62.46L117.83 65.15L117.87 60.73L117.90 61.92L117.92 62.67L117.98 63.84L118.02 61.23L118.08 62.75L118.10 61.45L118.12 60.49L118.22 63.60L118.28 61.64L118.31 60.00L118.39 62.82L118.49 62.61L118.51 63.48L118.67 60.17L118.69 63.20L118.72 60.53L118.88 63.16L118.90 60.95L119.00 64.32L119.08 62.62L119.11 61.63L119.13 59.99L119.15 62.58L119.29 62.36L119.31 63.88L119.39 59.90L119.49 62.26L119.52 61.43L119.56 62.23L119.66 59.76L119.70 61.67L119.72 63.18L119.74 60.48L119.88 63.48L119.90 59.56L119.95 64.52L120.09 61.92L120.11 61.24L120.17 60.14L120.29 64.26L120.32 60.36L120.34 63.14L120.48 59.41L120.50 62.36L120.52 62.43L120.56 63.15L120.62 60.78L120.68 61.72L120.70 62.57L120.73 58.79L120.87 64.43L120.89 62.20L120.91 62.29L121.01 64.54L121.07 60.20L121.09 62.97L121.11 61.74L121.24 63.87L121.26 60.48L121.30 61.03L121.32 61.76L121.44 59.08L121.46 64.50L121.48 60.44L121.50 62.01L121.63 59.82L121.67 63.28L121.69 61.64L121.71 61.43L121.77 59.32L121.83 63.49L121.89 60.17L121.91 59.55L121.96 62.27L122.10 61.36L122.12 64.14L122.16 60.45L122.28 61.87L122.30 60.83L122.41 60.54L122.43 62.95L122.49 61.25L122.51 58.80L122.65 62.45L122.69 59.61L122.71 58.97L122.76 58.73L122.90 62.29L122.92 59.89L122.94 61.88L123.08 60.12L123.10 61.73L123.15 64.55L123.29 60.08L123.31 62.23L123.37 60.20L123.47 63.53L123.49 61.01L123.51 61.42L123.60 63.98L123.64 59.59L123.70 60.69L123.72 59.52L123.76 62.95L123.88 62.33L123.90 60.04L123.92 59.84L124.07 63.24L124.09 62.84L124.11 61.96L124.23 62.86L124.27 59.84L124.29 61.17L124.31 58.95L124.40 63.72L124.46 57.43L124.50 60.57L124.52 62.28L124.54 63.27L124.64 59.83L124.68 61.24L124.70 62.74L124.79 63.52L124.85 59.70L124.89 62.48L124.91 62.02L125.03 58.69L125.05 64.70L125.09 60.03L125.11 60.60L125.22 59.31L125.28 63.28L125.30 60.45L125.32 58.88L125.40 61.77L125.44 58.73L125.48 60.18L125.50 60.96L125.61 62.75L125.69 59.11L125.71 59.64L125.73 59.28L125.87 61.72L125.89 59.61L125.91 59.07L126.08 65.27L126.10 61.38L126.12 62.11L126.24 58.98L126.28 62.96L126.30 59.06L126.47 61.42L126.49 59.97L126.51 61.64L126.63 59.46L126.69 63.21L126.71 59.92L126.75 63.23L126.90 60.52L126.92 60.81L127.00 62.62L127.08 58.25L127.10 61.23L127.19 64.50L127.25 59.08L127.29 61.15L127.31 57.82L127.45 64.06L127.49 59.76L127.51 59.42L127.62 58.14L127.64 61.99L127.70 61.73L127.72 59.65L127.78 62.37L127.88 62.36L127.90 59.73L127.96 58.90L128.01 62.35L128.09 60.87L128.11 58.73L128.21 57.38L128.29 60.66L128.31 58.90L128.40 62.71L128.50 60.27L128.52 61.04L128.56 58.69L128.68 60.77L128.70 60.48L128.78 58.78L128.85 61.28L128.89 60.13L128.91 60.46L128.93 61.00L129.03 57.95L129.09 60.22L129.11 61.11L129.17 62.08L129.20 58.30L129.30 58.79L129.32 59.28L129.34 58.25L129.44 61.90L129.48 58.87L129.50 60.30L129.54 58.93L129.56 62.83L129.69 59.74L129.71 58.00L129.87 61.92L129.89 60.96L129.91 59.57L129.97 62.46L130.10 58.64L130.12 59.03L130.16 57.58L130.24 63.91L130.28 63.66L130.30 60.18L130.32 58.56L130.34 62.11L130.49 59.90L130.51 58.82L130.53 57.74L130.65 60.66L130.69 60.36L130.71 59.15L130.73 61.14L130.86 58.60L130.90 58.72L130.92 60.74L130.98 61.34L131.06 57.80L131.08 58.95L131.10 59.23L131.14 61.45L131.20 57.81L131.29 59.52L131.31 61.95L131.39 56.95L131.49 57.28L131.51 57.80L131.59 61.80L131.70 60.08L131.72 60.55L131.78 58.18L131.88 60.39L131.90 58.44L132.00 57.05L132.05 62.60L132.09 61.07L132.11 60.32L132.13 62.10L132.25 57.65L132.29 58.72L132.31 58.95L132.39 58.73L132.41 61.25L132.50 59.13L132.52 57.70L132.68 61.73L132.70 58.77L132.82 58.43L132.89 62.11L132.91 60.46L132.99 57.90L133.09 59.28L133.11 58.92L133.13 58.13L133.21 61.94L133.30 60.70L133.32 59.24L133.34 60.78L133.48 58.56L133.50 57.68L133.60 57.08L133.62 60.17L133.69 57.57L133.71 62.71L133.77 57.77L133.89 59.84L133.91 62.07L134.10 57.63L134.12 60.97L134.22 57.67L134.28 60.02L134.30 57.96L134.47 57.12L134.49 60.68L134.51 59.05L134.61 58.89L134.67 61.90L134.69 61.67L134.71 57.80L134.77 57.55L134.88 61.69L134.90 59.67L134.92 59.25L134.96 61.04L135.00 58.12L135.08 58.85L135.10 59.60L135.14 60.32L135.22 56.68L135.29 58.88L135.31 58.11L135.33 57.53L135.47 61.31L135.49 59.78L135.51 61.12L135.59 57.28L135.70 58.18L135.72 60.06L135.74 61.25L135.82 57.90L135.88 59.58L135.90 56.90L135.98 60.44L136.09 59.88L136.11 61.33L136.27 57.93L136.29 58.65L136.31 58.04L136.37 57.59L136.39 60.27L136.50 59.57L136.52 60.22L136.64 60.94L136.68 57.79L136.70 60.35L136.78 57.63L136.82 60.74L136.89 58.50L136.91 59.93L136.95 56.63L137.01 60.28L137.09 58.83L137.11 59.63L137.17 62.22L137.25 56.77L137.30 60.70L137.32 60.05L137.44 61.30L137.46 58.27L137.48 59.67L137.50 57.33L137.52 56.92L137.62 58.96L137.69 58.95L137.71 59.35L137.75 57.65L137.89 59.94L137.91 59.71L137.99 56.36L138.10 57.87L138.12 57.42L138.18 55.73L138.20 59.76L138.28 59.65L138.30 59.22L138.38 56.87L138.49 59.94L138.51 59.35L138.53 59.97L138.61 57.19L138.69 58.35L138.71 56.75L138.81 60.24L138.85 56.68L138.90 57.32L138.92 58.67L138.94 57.33L138.98 59.88L139.08 59.36L139.10 57.90L139.14 57.24L139.28 62.44L139.31 58.29L139.35 57.45L139.37 60.35L139.49 57.50L139.51 57.53L139.53 57.06L139.67 61.13L139.70 57.55L139.72 58.28L139.74 56.30L139.76 59.04L139.88 57.80L139.90 58.97L140.06 60.67L140.08 57.89L140.11 57.93L140.13 62.63L140.23 57.23L140.29 58.47L140.31 57.36L140.39 60.47L140.45 57.15L140.49 60.28L140.52 60.91L140.62 56.13L140.68 58.70L140.70 57.04L140.78 56.84L140.86 62.73L140.88 57.06L140.91 57.92L141.05 59.44L141.09 56.24L141.11 57.87L141.27 60.78L141.29 58.20L141.32 56.84L141.42 60.46L141.50 56.65L141.52 58.05L141.58 56.43L141.62 60.48L141.68 58.88L141.70 56.89L141.75 59.21L141.89 56.52L141.91 58.94L141.97 57.13L142.05 60.00L142.09 58.23L142.12 58.88L142.14 57.19L142.16 58.90L142.30 57.68L142.32 59.30L142.36 55.90L142.48 58.16L142.50 58.75L142.55 59.70L142.57 56.63L142.69 57.29L142.71 59.55L142.77 55.97L142.89 59.23L142.91 56.43L143.00 55.42L143.08 59.52L143.10 57.59L143.12 58.16L143.16 59.14L143.24 57.26L143.28 57.90L143.30 57.23L143.43 56.49L143.47 60.87L143.49 58.97L143.51 57.55L143.63 59.74L143.69 56.41L143.71 56.98L143.76 59.74L143.78 54.66L143.90 59.42L143.92 59.28L144.04 57.58L144.06 59.64L144.08 58.70L144.10 57.46L144.19 56.18L144.27 59.42L144.29 58.88L144.31 58.90L144.41 56.54L144.45 60.35L144.49 57.97L144.51 58.23L144.54 55.50L144.68 58.82L144.70 57.51L144.72 60.32L144.76 54.89L144.80 60.54L144.88 58.08L144.90 56.43L145.01 55.55L145.03 59.63L145.09 57.77L145.11 60.40L145.29 57.68L145.31 57.33L145.33 59.97L145.48 56.32L145.50 57.38L145.52 58.30L145.54 59.73L145.64 55.62L145.68 57.52L145.70 57.82L145.79 58.58L145.87 55.69L145.89 56.87L145.91 57.40L145.97 58.18L146.09 55.63L146.11 59.33L146.16 55.34L146.22 59.67L146.30 59.62L146.32 57.65L146.46 55.69L146.48 58.99L146.50 56.99L146.63 56.12L146.67 59.56L146.69 57.59L146.71 57.74L146.75 55.32L146.85 59.09L146.89 56.95L146.91 57.24L147.04 55.37L147.06 59.47L147.10 56.88L147.12 58.22L147.18 59.12L147.28 55.85L147.30 57.13L147.37 59.58L147.49 55.48L147.51 56.55L147.53 55.73L147.55 58.80L147.69 57.05L147.71 58.16L147.84 56.25L147.88 60.23L147.90 57.50L147.92 55.68L147.94 60.15L148.08 56.83L148.10 56.94L148.12 59.53L148.21 56.07L148.29 58.38L148.31 56.85L148.43 55.59L148.47 58.89L148.49 57.89L148.51 56.73L148.64 56.11L148.66 58.40L148.70 58.15L148.72 56.72L148.78 56.17L148.80 58.35L148.88 57.50L148.90 57.17L148.99 55.35L149.09 58.26L149.11 56.88L149.17 59.72L149.29 55.78L149.31 57.88L149.35 55.90L149.37 59.79L149.50 58.10L149.52 58.14L149.58 55.60L149.68 56.61L149.70 56.14L149.79 55.44L149.81 58.58L149.89 57.75L149.91 56.36L150.01 58.00L150.03 55.69L150.09 56.22L150.11 58.22L150.20 56.03L150.26 58.60L150.30 57.58L150.32 55.84L150.38 59.36L150.44 55.33L150.48 56.85L150.50 57.75L150.52 55.32L150.65 57.77L150.69 57.37L150.71 59.87L150.79 55.38L150.89 57.69L150.91 54.97L150.97 59.28L151.10 56.44L151.12 58.45L151.24 58.69L151.28 55.60L151.30 59.00L151.38 56.12L151.49 56.33L151.51 55.50L151.63 55.23L151.67 59.24L151.69 58.22L151.71 57.89L151.88 55.47L151.90 56.80L151.92 55.33L151.96 59.07L152.08 57.33L152.10 58.28L152.12 58.42L152.18 55.11L152.29 57.65L152.31 58.08L152.37 54.30L152.39 58.59L152.49 56.06L152.51 57.09L152.55 58.62L152.64 55.63L152.70 57.93L152.72 59.37L152.78 56.19L152.88 57.74L152.90 57.24L153.05 59.75L153.09 55.68L153.11 58.11L153.17 56.51L153.25 59.00L153.29 57.11L153.31 56.34L153.39 54.17L153.50 58.01L153.52 55.38L153.62 57.65L153.68 55.57L153.70 59.55L153.72 54.57L153.89 59.15L153.91 56.37L154.03 59.26L154.09 55.13L154.11 57.08L154.19 58.33L154.30 55.93L154.32 56.73L154.42 58.66L154.46 55.81L154.48 56.05L154.50 57.75L154.52 55.56L154.69 56.79L154.71 57.42L154.81 60.70L154.89 54.73L154.91 56.72L154.99 55.43L155.10 59.93L155.12 57.30L155.18 58.08L155.26 54.64L155.28 55.85L155.30 57.50L155.34 58.75L155.45 55.99L155.49 57.69L155.51 57.43L155.59 58.58L155.61 55.26L155.69 56.68L155.71 57.39L155.77 55.32L155.79 58.73L155.90 58.10L155.92 54.69L155.98 57.62L156.08 54.53L156.10 55.06L156.27 57.94L156.29 56.60L156.31 57.74L156.47 55.24L156.49 59.24L156.51 56.33L156.55 60.04L156.70 54.32L156.72 57.87L156.78 55.46L156.80 59.34L156.88 56.37L156.90 57.20L156.92 59.18L157.07 54.32L157.09 56.07L157.11 58.55L157.15 54.46L157.29 57.35L157.31 57.20L157.35 57.43L157.50 54.89L157.52 56.41L157.56 58.04L157.58 54.75L157.68 55.16L157.70 56.25L157.76 54.41L157.80 59.43L157.89 57.91L157.91 55.34L157.99 58.81L158.09 55.70L158.11 57.14L158.21 58.64L158.25 54.00L158.30 54.72L158.32 56.00L158.36 56.98L158.46 55.02L158.48 56.74L158.50 55.13L158.69 58.49L158.71 57.02L158.79 55.18L158.89 58.32L158.91 56.93L158.99 54.56L159.05 58.27L159.10 57.41L159.12 57.98L159.14 55.94L159.24 58.03L159.28 56.27L159.30 56.62L159.34 54.82L159.42 57.58L159.49 56.16L159.51 58.35L159.59 54.85L159.69 56.87L159.71 56.36L159.79 57.53L159.85 53.99L159.90 56.51L159.92 57.08L159.98 59.73L160.04 54.84L160.08 55.46L160.10 56.83L160.20 53.89L160.22 57.37L160.29 57.11L160.31 56.53L160.37 58.52L160.45 55.32L160.49 56.56L160.51 56.18L160.65 55.62L160.70 57.83L160.72 55.56L160.80 57.14L160.82 54.80L160.88 56.95L160.90 56.25L160.94 57.62L161.04 54.29L161.08 54.98L161.11 56.83L161.17 54.14L161.21 58.29L161.29 56.34L161.31 56.49L161.39 58.36L161.50 54.85L161.52 56.91L161.64 57.29L161.68 54.60L161.70 56.64L161.78 54.08L161.82 57.04L161.88 56.77L161.91 56.59L161.97 57.89L161.99 55.09L162.09 56.24L162.11 54.44L162.15 56.73L162.23 54.08L162.29 55.55L162.32 55.64L162.38 54.01L162.42 59.20L162.48 56.04L162.50 57.63L162.54 55.04L162.68 57.75L162.71 55.20L162.73 57.50L162.87 53.99L162.89 57.37L162.91 54.93L162.99 58.55L163.09 56.84L163.12 56.77L163.18 59.53L163.22 54.06L163.30 55.89L163.32 55.88L163.34 57.26L163.38 55.38L163.48 56.26L163.50 56.11L163.59 55.07L163.61 58.93L163.69 55.69L163.71 57.87L163.87 54.79L163.89 59.03L163.92 56.87L164.06 54.19L164.10 58.64L164.12 55.03L164.14 56.73L164.20 54.84L164.28 56.17L164.30 55.02L164.37 53.23L164.39 58.65L164.49 56.41L164.51 53.85L164.55 57.45L164.69 57.42L164.71 55.47L164.78 58.08L164.90 53.39L164.92 54.78L165.06 59.81L165.08 57.76L165.10 55.45L165.25 58.28L165.27 55.10L165.29 57.44L165.31 55.16L165.37 55.01L165.39 57.34L165.49 56.71L165.51 56.07L165.58 54.93L165.68 57.87L165.70 55.78L165.72 56.55L165.82 59.00L165.88 55.30L165.90 54.77L165.95 54.69L166.07 58.27L166.09 57.36L166.11 54.83L166.15 58.23L166.29 56.69L166.31 55.77L166.36 53.49L166.48 58.15L166.50 56.15L166.52 56.84L166.54 56.02L166.56 57.98L166.68 56.71L166.70 56.73L166.81 54.10L166.87 57.74L166.89 54.82L166.91 56.07L166.97 58.45L167.03 54.56L167.09 56.09L167.11 56.09L167.18 56.89L167.30 54.71L167.32 55.41L167.44 54.76L167.46 57.08L167.48 55.65L167.50 56.00L167.57 57.28L167.63 53.37L167.69 56.55L167.71 55.60L167.77 54.49L167.81 58.17L167.89 55.81L167.91 55.44L168.04 53.76L168.06 59.79L168.10 54.54L168.12 55.61L168.16 54.46L168.20 57.97L168.28 57.40L168.30 55.37L168.41 54.34L168.43 57.80L168.49 56.56L168.51 55.68L168.53 54.35L168.57 57.10L168.69 55.68L168.71 55.22L168.73 58.29L168.86 53.89L168.90 57.95L168.92 55.44L169.04 61.93L169.08 55.08L169.10 57.00L169.12 58.62L169.21 53.62L169.29 54.40L169.31 57.54L169.41 57.73L169.45 54.10L169.49 55.90L169.51 56.31L169.55 56.79L169.58 54.69L169.70 54.81L169.72 56.00L169.76 54.20L169.84 57.43L169.88 54.82L169.90 56.22L169.92 56.40L170.05 54.06L170.09 54.11L170.11 55.71L170.13 54.04L170.29 57.00L170.31 54.29L170.46 57.91L170.50 56.73L170.52 56.78L170.58 57.84L170.62 53.97L170.68 55.90L170.70 54.66L170.83 53.95L170.85 58.61L170.89 57.48L170.91 57.34L170.97 54.02L171.09 56.38L171.11 55.07L171.28 57.32L171.30 54.09L171.32 54.05L171.44 57.98L171.48 57.96L171.50 55.71L171.65 54.06L171.67 56.89L171.69 56.55L171.71 56.39L171.81 54.16L171.83 58.14L171.89 57.49L171.91 57.57L171.95 54.60L172.10 54.69L172.12 55.24L172.18 54.73L172.20 58.10L172.28 57.37L172.30 57.10L172.43 54.69L172.49 56.35L172.51 55.55L172.63 54.13L172.65 58.20L172.69 56.03L172.71 57.36L172.77 53.71L172.88 57.88L172.90 56.19L172.92 54.61L173.04 57.34L173.08 55.89L173.10 56.76L173.14 54.53L173.16 57.83L173.29 54.65L173.31 55.94L173.35 54.66L173.41 59.20L173.49 55.64L173.51 56.73L173.57 57.07L173.59 54.95L173.70 56.74L173.72 55.92L173.74 56.91L173.86 53.66L173.88 56.79L173.90 54.07L174.07 58.49L174.09 57.51L174.11 57.31L174.23 57.46L174.29 53.72L174.31 55.81L174.44 54.11L174.50 56.40L174.52 56.44L174.56 57.19L174.62 55.41L174.68 56.16L174.70 58.88L174.85 53.60L174.89 54.42L174.91 56.10L174.95 56.83L175.07 54.45L175.09 56.78L175.11 56.38L175.17 57.22L175.21 54.61L175.30 56.10L175.32 54.96L175.36 57.76L175.44 53.83L175.48 57.00L175.50 56.93L175.54 57.51L175.58 55.18L175.69 55.32L175.71 55.01L175.87 58.22L175.89 54.61L175.91 55.20L175.95 55.06L176.04 58.41L176.10 56.07L176.12 56.35L176.14 56.63L176.28 54.07L176.30 56.25L176.32 56.67L176.38 54.92L176.49 55.94L176.51 55.46L176.53 59.59L176.61 54.21L176.69 54.84L176.71 55.53L176.75 58.57L176.84 54.31L176.90 55.29L176.92 52.93L177.00 57.04L177.08 54.56L177.10 55.03L177.27 58.98L177.29 54.96L177.31 56.45L177.47 57.81L177.49 54.33L177.51 54.56L177.61 53.93L177.70 58.32L177.72 56.09L177.76 58.55L177.84 53.91L177.88 57.25L177.90 54.77L177.96 56.99L177.98 53.71L178.09 56.96L178.11 54.65L178.13 57.71L178.23 53.22L178.29 55.19L178.31 55.45L178.41 57.24L178.43 54.39L178.50 54.87L178.52 54.85L178.56 57.43L178.62 53.31L178.68 54.94L178.70 56.61L178.80 57.03L178.89 53.96L178.91 55.24L178.99 54.36L179.09 56.76L179.11 56.93L179.26 53.73L179.30 54.04L179.32 56.51L179.40 57.31L179.42 54.17L179.48 55.76L179.50 55.62L179.58 57.65L179.60 54.01L179.69 56.37L179.71 53.36L179.81 58.32L179.89 54.27L179.91 54.83L179.99 54.32L180.01 58.11L180.10 55.07L180.12 58.11L180.24 53.78L180.28 56.83L180.30 54.65L180.38 54.40L180.44 57.37L180.49 57.01L180.51 57.03L180.61 53.82L180.69 55.25L180.71 53.12L180.75 56.17L180.90 55.52L180.92 54.64L181.02 53.76L181.08 57.21L181.10 56.99L181.14 57.60L181.16 52.73L181.29 56.48L181.31 54.53L181.45 52.95L181.49 58.52L181.51 56.26L181.59 57.00L181.70 53.89L181.72 55.23L181.74 52.85L181.80 58.13L181.88 56.35L181.90 56.07L182.00 56.71L182.09 53.59L182.11 55.18L182.21 56.94L182.25 53.11L182.29 55.39L182.31 54.85L182.33 53.62L182.41 58.14L182.50 55.51L182.52 56.89L182.68 52.63L182.70 54.79L182.72 52.72L182.76 56.82L182.88 56.26L182.91 55.35L183.05 53.99L183.09 57.09L183.11 55.16L183.17 52.97L183.23 56.07L183.30 53.88L183.32 54.92L183.34 54.19L183.42 56.26L183.48 55.70L183.50 56.11L183.54 57.31L183.68 53.86L183.71 55.73L183.75 58.02L183.85 54.24L183.89 55.95L183.91 55.06L183.99 57.82L184.07 54.49L184.09 55.89L184.12 56.57L184.14 54.63L184.28 55.54L184.30 56.55L184.40 54.01L184.42 57.51L184.48 54.49L184.51 56.13L184.55 54.08L184.65 58.70L184.69 56.11L184.71 55.26L184.77 54.34L184.81 57.12L184.89 55.39L184.92 53.55L185.00 53.41L185.10 58.08L185.12 57.04L185.16 58.12L185.22 53.59L185.28 55.51L185.30 55.09L185.37 57.78L185.43 53.32L185.49 55.97L185.51 55.97L185.69 53.51L185.72 54.42L185.88 57.76L185.90 52.43L185.92 54.34L185.98 53.96L186.00 57.01L186.08 54.42L186.10 55.15L186.15 56.03L186.25 53.97L186.29 54.59L186.31 56.68L186.33 57.32L186.43 53.83L186.49 54.76L186.51 54.64L186.56 57.52L186.62 53.11L186.70 55.02L186.72 52.73L186.88 56.41L186.90 54.76L187.01 51.94L187.07 57.59L187.09 54.46L187.11 55.05L187.17 53.57L187.23 58.73L187.29 54.25L187.31 58.81L187.38 53.53L187.50 57.40L187.52 53.82L187.62 58.15L187.68 56.10L187.70 54.70L187.77 56.64L187.85 52.81L187.89 56.14L187.91 56.16L188.01 53.96L188.09 56.83L188.11 55.49L188.24 53.24L188.26 56.63L188.30 55.20L188.32 54.90L188.38 54.51L188.46 57.54L188.48 55.14L188.50 55.90L188.52 53.20L188.55 57.44L188.69 54.39L188.71 54.78L188.75 53.92L188.89 56.42L188.91 55.40L189.00 55.77L189.06 52.59L189.10 55.25L189.12 56.57L189.16 53.15L189.20 57.15L189.28 56.23L189.30 55.46L189.37 53.23L189.45 57.37L189.49 57.13L189.51 54.40L189.57 53.65L189.59 57.37L189.69 56.58L189.71 54.51L189.73 53.89L189.76 57.76L189.90 53.89L189.92 56.36L190.06 52.66L190.08 57.17L190.10 58.35L190.27 52.55L190.29 55.03L190.31 54.89L190.33 54.59L190.45 56.85L190.49 56.74L190.51 57.30L190.58 54.16L190.70 54.66L190.72 55.41L190.74 54.03L190.86 56.52L190.88 54.21L190.90 55.79L190.94 56.42L191.03 54.41L191.09 54.96L191.11 54.57L191.21 53.20L191.29 58.52L191.31 55.79L191.33 56.49L191.50 54.35L191.52 55.13L191.54 53.97L191.66 58.20L191.68 56.11L191.70 55.97L191.83 53.62L191.89 55.68L191.91 54.62L191.97 55.80L192.07 53.77L192.09 55.58L192.11 53.67L192.13 57.26L192.30 52.86L192.32 54.13L192.34 53.95L192.42 56.50L192.48 55.55L192.50 54.63L192.52 56.14L192.54 52.72L192.69 55.58L192.71 53.53L192.85 57.23L192.89 53.81L192.91 55.29L192.93 53.09L192.97 56.28L193.10 54.89L193.12 54.74L193.22 53.70L193.26 56.36L193.28 54.79L193.30 55.49L193.36 57.66L193.39 53.95L193.49 55.71L193.51 54.46L193.55 56.72L193.65 53.88L193.69 54.40L193.71 55.13L193.77 58.02L193.82 53.48L193.90 55.88L193.92 56.47L194.02 57.78L194.04 52.80L194.08 55.01L194.10 54.14L194.16 58.00L194.27 54.08L194.29 56.59L194.31 53.85L194.37 56.74L194.49 55.37L194.51 55.10L194.57 52.97L194.64 55.22L194.70 54.90L194.72 55.20L194.76 53.90L194.82 57.28L194.88 56.97L194.90 56.88L194.94 57.50L194.98 52.89L195.09 55.25L195.11 54.59L195.15 53.49L195.21 56.28L195.29 53.58L195.31 56.77L195.33 52.93L195.50 55.92L195.52 55.20L195.62 56.51L195.66 52.06L195.68 55.12L195.70 55.55L195.74 54.17L195.78 57.49L195.89 55.24L195.91 56.31L195.95 52.73L196.03 56.45L196.09 54.30L196.11 54.63L196.15 58.14L196.19 53.12L196.30 57.23L196.32 55.37L196.38 56.12L196.46 52.94L196.48 54.23L196.50 54.21L196.54 53.26L196.56 57.07L196.69 55.48L196.71 53.49L196.73 58.76L196.89 57.66L196.91 55.45L197.01 54.31L197.06 57.40L197.10 55.99L197.12 58.55L197.14 54.26L197.28 55.18L197.30 55.74L197.34 56.86L197.49 52.87L197.51 54.39L197.61 55.30L197.63 53.64L197.69 54.08L197.71 55.78L197.73 56.83L197.84 53.60L197.90 55.06L197.92 54.18L197.98 53.43L198.04 55.76L198.08 53.46L198.10 54.10L198.16 55.98L198.27 53.52L198.29 55.35L198.31 55.43L198.33 53.36L198.47 56.87L198.49 55.70L198.51 52.98L198.59 56.51L198.70 55.10L198.72 54.46L198.82 57.20L198.86 52.96L198.88 53.94L198.90 54.57L198.96 52.83L199.00 55.63L199.09 54.98L199.11 54.13L199.19 53.17L199.29 57.40L199.31 55.07L199.33 57.24L199.50 51.84L199.52 55.34L199.64 56.56L199.68 52.30L199.70 56.12L199.78 57.69L199.85 53.59L199.89 54.68L199.91 53.61L199.97 53.21L199.99 55.11L200.09 53.60L200.11 56.23L200.17 52.77L200.23 56.74L200.30 55.16L200.32 54.58L200.34 55.31L200.46 53.29L200.48 54.97L200.50 55.28L200.56 53.88L200.67 57.53L200.69 55.45L200.71 55.06L200.73 58.07L200.83 53.19L200.89 53.78L200.91 54.70L200.95 55.81L201.06 53.74L201.10 55.07L201.12 55.25L201.14 52.07L201.20 56.61L201.28 53.94L201.30 52.96L201.49 55.31L201.51 54.22L201.57 56.47L201.65 52.59L201.69 55.35L201.71 55.19L201.83 58.32L201.85 53.56L201.90 54.07L201.92 54.94L201.96 55.80L202.02 53.38L202.08 55.34L202.10 54.68L202.14 57.93L202.24 52.94L202.29 54.65L202.31 55.33L202.41 56.55L202.49 52.94L202.51 55.28L202.65 56.00L202.68 53.14L202.70 54.68L202.72 54.65L202.76 53.41L202.86 56.50L202.88 55.66L202.90 54.07L203.06 52.99L203.09 56.84L203.11 56.41L203.15 52.34L203.21 56.65L203.29 54.59L203.31 54.05L203.43 53.66L203.45 55.82L203.50 53.74L203.52 54.93L203.60 52.39L203.66 55.52L203.68 55.03L203.70 53.75L203.72 59.27L203.76 53.40L203.89 55.01L203.91 54.16L203.95 52.68L204.03 55.65L204.09 54.67L204.11 57.41L204.15 52.68L204.30 53.98L204.32 54.06L204.44 52.51L204.46 55.27L204.48 54.24L204.50 54.80L204.60 53.88L204.68 56.33L204.71 54.27L204.77 56.31L204.85 53.66L204.89 54.33L204.91 56.73L204.95 53.53L205.05 56.93L205.10 54.39L205.12 55.89L205.16 58.16L205.22 53.08L205.28 54.73L205.30 54.55L205.36 53.03L205.40 56.65L205.48 54.70L205.51 56.23L205.55 51.87L205.61 56.61L205.69 54.99L205.71 54.73L205.75 58.36L205.77 53.43L205.89 55.26L205.92 53.13L205.94 56.11L206.04 52.65L206.08 55.65L206.10 54.36L206.16 56.40L206.18 53.77L206.28 55.68L206.31 54.58L206.33 53.99L206.41 56.10L206.49 54.79L206.51 53.90L206.65 56.09L206.69 52.65L206.72 55.00L206.84 53.72L206.90 56.72L206.92 52.97L206.94 56.17L207.02 52.86L207.08 53.83L207.10 53.29L207.19 55.85L207.23 53.28L207.29 53.78L207.31 52.87L207.37 52.55L207.49 56.60L207.52 55.22L207.54 56.31L207.58 52.69L207.70 55.55L207.72 55.54L207.78 57.71L207.80 53.36L207.88 53.81L207.90 55.65L207.99 57.74L208.03 53.12L208.09 56.10L208.11 57.60L208.23 52.89L208.29 53.64L208.31 54.96L208.34 56.96L208.38 53.61L208.50 54.63L208.52 55.36L208.60 56.35L208.64 52.60L208.68 53.36L208.70 53.85L208.85 52.62L208.87 56.59L208.89 54.11L208.91 52.63L208.95 52.40L209.03 55.44L209.09 55.36L209.11 54.05L209.16 55.98L209.26 53.24L209.30 54.28L209.32 55.30L209.44 53.27L209.48 55.27L209.50 53.93L209.59 51.90L209.65 57.30L209.69 53.81L209.71 53.60L209.77 53.31L209.89 55.49L209.91 56.05L210.02 56.16L210.08 52.30L210.10 54.60L210.12 53.37L210.24 56.20L210.28 54.73L210.30 56.46L210.41 53.19L210.49 54.10L210.51 55.56L210.61 56.21L210.63 52.40L210.69 53.32L210.71 54.61L210.82 56.95L210.88 52.79L210.90 55.13L210.92 53.45L211.06 56.70L211.08 52.74L211.10 54.97L211.12 51.85L211.17 56.75L211.29 55.45L211.31 55.41L211.37 55.61L211.41 53.22L211.49 53.88L211.51 54.63L211.64 52.91L211.70 54.84L211.72 53.50L211.76 55.90L211.82 53.18L211.88 55.71L211.90 53.40L211.92 53.14L211.94 55.55L212.09 53.16L212.11 56.62L212.13 53.77L212.29 55.79L212.31 54.64L212.38 52.46L212.44 56.78L212.50 55.92L212.52 56.46L212.58 52.76L212.64 57.16L212.68 52.84L212.70 55.83L212.77 52.96L212.83 56.47L212.89 55.66L212.91 53.23L212.95 55.49L213.05 53.04L213.09 54.10L213.11 52.58L213.22 56.83L213.30 56.15L213.32 54.59L213.40 52.78L213.44 56.16L213.48 53.98L213.50 54.96L213.65 52.36L213.67 55.91L213.69 55.67L213.71 53.31L213.81 56.45L213.87 52.48L213.89 53.87L213.91 53.57L214.06 52.36L214.08 55.93L214.10 55.11L214.12 55.19L214.14 52.98L214.26 55.79L214.28 55.79L214.30 56.17L214.43 56.45L214.47 52.37L214.49 54.85L214.51 53.83L214.55 51.80L214.59 56.35L214.69 53.66L214.71 54.06L214.75 54.88L214.86 51.64L214.90 53.66L214.92 56.18L214.96 56.37L214.98 53.10L215.08 54.85L215.10 56.53L215.21 52.74L215.29 58.20L215.31 56.12L215.41 53.25L215.49 53.81L215.51 54.46L215.64 57.03L215.66 53.29L215.70 54.47L215.72 53.11L215.82 52.48L215.86 55.11L215.88 53.21L215.90 53.38L215.94 56.12L216.09 54.36L216.11 54.67L216.13 52.56L216.29 55.75L216.31 53.38L216.42 56.08L216.50 53.54L216.52 53.82L216.60 52.99L216.66 57.99L216.68 54.72L216.70 52.35L216.78 56.55L216.89 55.37L216.91 54.95L217.01 55.79L217.07 53.38L217.09 54.29L217.11 52.76L217.22 57.20L217.30 55.31L217.32 52.99L217.42 51.85L217.48 56.06L217.50 55.02L217.58 57.35L217.61 53.04L217.69 53.64L217.71 55.13L217.73 51.50L217.77 55.76L217.89 53.77L217.91 53.93L217.99 56.21L218.02 53.32L218.10 53.46L218.12 54.60L218.22 52.96L218.24 56.35L218.28 53.89L218.30 54.40L218.36 57.30L218.38 52.88L218.49 53.58L218.51 53.76L218.55 55.04L218.57 52.63L218.69 53.14L218.71 53.08L218.77 55.65L218.90 55.09L218.92 56.34L218.98 53.91L219.04 56.54L219.08 54.95L219.10 53.62L219.14 52.87L219.27 56.55L219.29 54.93L219.31 53.78L219.37 55.31L219.45 52.97L219.49 53.76L219.51 52.73L219.59 56.75L219.70 55.66L219.72 53.64L219.74 55.31L219.88 52.97L219.90 52.51L219.96 56.16L220.07 52.28L220.09 53.66L220.11 53.03L220.27 52.54L220.29 55.17L220.31 55.65L220.48 57.01L220.50 53.32L220.52 53.21L220.62 52.94L220.64 55.58L220.68 54.72L220.70 53.43L220.74 56.34L220.82 53.27L220.89 55.36L220.91 54.75L220.95 52.91L221.09 54.00L221.11 53.74L221.13 52.48L221.30 56.52L221.32 54.50L221.34 51.96L221.44 55.71L221.48 53.29L221.50 53.85L221.56 53.36L221.60 56.54L221.69 54.99L221.71 53.94L221.81 53.34L221.89 54.94L221.91 54.85L221.93 55.39L222.06 52.60L222.10 54.50L222.12 53.40L222.14 56.09L222.28 55.83L222.30 55.69L222.40 52.45L222.44 56.32L222.49 52.60L222.51 53.97L222.57 55.76L222.67 52.41L222.69 54.35L222.71 55.64L222.77 57.13L222.81 53.73L222.90 54.67L222.92 54.61L223.00 53.61L223.04 55.11L223.08 54.92L223.10 52.05L223.29 55.21L223.31 55.25L223.45 52.28L223.49 57.13L223.51 56.58L223.53 53.46L223.70 54.23L223.72 55.20L223.74 53.09L223.88 54.35L223.90 53.37L224.02 52.80L224.04 56.45L224.09 54.04L224.11 54.12L224.15 52.26L224.17 54.42L224.29 52.80L224.31 54.82L224.37 52.87L224.43 55.84L224.50 54.39L224.52 54.65L224.64 54.07L224.68 55.83L224.70 53.42L224.78 56.04L224.84 52.90L224.89 54.00L224.91 54.70L224.97 53.10L225.05 56.10L225.09 53.87L225.11 52.63L225.15 52.40L225.30 56.10L225.32 52.79L225.42 56.13L225.44 52.41L225.48 53.30L225.50 54.87L225.52 56.97L225.60 53.59L225.69 54.86L225.71 53.38L225.79 53.12L225.87 56.01L225.89 54.38L225.91 52.58L226.05 56.62L226.07 52.23L226.10 54.02L226.12 54.18L226.22 56.65L226.28 53.06L226.30 53.15L226.38 52.19L226.46 55.28L226.48 52.99L226.51 54.07L226.61 52.81L226.63 56.31L226.69 53.63L226.71 53.61L226.77 52.81L226.81 56.96L226.90 54.12L226.92 55.05L226.96 56.71L227.08 53.16L227.10 53.49L227.14 55.61L227.20 53.27L227.28 54.81L227.31 53.59L227.33 55.81L227.35 52.80L227.49 54.89L227.51 54.52L227.57 55.10L227.61 52.20L227.69 54.48L227.72 55.44L227.82 52.00L227.88 53.28L227.90 56.29L228.00 57.46L228.08 52.10L228.11 54.85L228.13 52.63L228.23 55.93L228.29 53.74L228.31 51.50L228.33 55.65L228.49 54.41L228.52 54.70L228.58 52.36L228.60 56.71L228.70 55.00L228.72 54.99L228.74 52.44L228.88 54.30L228.90 54.97L229.01 52.77L229.09 53.93L229.11 52.85L229.15 52.57L229.21 55.45L229.29 54.30L229.32 54.73L229.36 55.56L229.40 52.13L229.50 53.16L229.52 53.71L229.58 51.72L229.62 55.06L229.68 54.17L229.70 54.56L229.79 55.24L229.85 52.55L229.89 53.06L229.91 52.61L229.99 55.95L230.09 55.41L230.11 54.16L230.14 55.52L230.22 52.46L230.30 53.59L230.32 54.39L230.34 55.61L230.38 52.05L230.48 52.87L230.50 57.20L230.65 51.22L230.69 53.44L230.71 55.05L230.83 56.10L230.89 53.40L230.91 53.25L230.94 52.16L231.10 55.27L231.12 54.15L231.14 51.92L231.24 55.24L231.28 54.20L231.30 56.27L231.41 56.82L231.49 53.36L231.51 54.20L231.55 56.07L231.69 51.95L231.71 54.39L231.80 52.52L231.82 56.96L231.90 54.86L231.92 54.53L232.02 52.24L232.04 57.15L232.08 54.82L232.10 52.27L232.12 55.17L232.29 53.84L232.31 53.32L232.33 55.31L232.37 52.67L232.49 53.55L232.51 54.84L232.56 52.86L232.70 56.63L232.72 56.92L232.82 51.87L232.88 53.01L232.90 54.00L232.97 56.08L233.09 52.87L233.11 53.71L233.27 55.37L233.29 52.22L233.31 54.80L233.46 52.17L233.50 56.24L233.52 53.25L233.66 52.81L233.68 55.27L233.70 53.56L233.81 52.58L233.89 54.65L233.91 54.05L233.95 55.06L234.01 51.90L234.09 53.22L234.11 54.05L234.13 52.73L234.26 56.23L234.30 53.90L234.32 53.77L234.36 55.07L234.42 52.23L234.48 52.71L234.50 54.18L234.67 52.21L234.69 55.84L234.71 53.98L234.77 52.40L234.79 56.53L234.89 53.49L234.91 54.26L234.93 51.97L234.95 55.77L235.10 54.19L235.12 54.46L235.14 54.98L235.28 52.54L235.30 55.25L235.47 52.07L235.49 55.20L235.51 53.25L235.59 54.78L235.69 51.97L235.71 52.76L235.73 51.72L235.86 55.54L235.90 52.98L235.92 54.16L235.98 52.95L236.02 54.70L236.08 53.99L236.10 53.15L236.12 52.73L236.27 55.31L236.29 53.62L236.31 54.27L236.33 52.98L236.41 55.69L236.49 55.60L236.51 53.76L236.60 57.65L236.64 51.61L236.70 53.96L236.72 52.90L236.74 51.46L236.78 57.69L236.88 56.50L236.90 53.51L237.01 56.03L237.09 52.27L237.11 53.30L237.15 56.67L237.29 52.36L237.31 55.39L237.42 55.53L237.46 51.73L237.50 54.36L237.52 52.92L237.56 52.42L237.68 55.02L237.70 54.72L237.72 54.73L237.85 52.05L237.89 52.24L237.91 53.30L237.93 56.57L238.03 52.22L238.09 54.95L238.11 52.70L238.13 54.83L238.24 51.88L238.30 54.46L238.32 57.14L238.38 53.22L238.48 54.82L238.50 55.41L238.69 52.07L238.71 54.11L238.77 55.51L238.89 52.61L238.91 54.39L238.97 52.74L239.06 55.26L239.10 54.27L239.12 54.88L239.24 51.86L239.26 54.89L239.28 54.38L239.30 55.10L239.32 52.60L239.49 55.84L239.51 53.55L239.55 52.40L239.61 54.53L239.69 52.80L239.71 53.91L239.73 55.36L239.84 51.71L239.90 54.84L239.92 53.00L239.96 51.57L240.08 54.26L240.10 54.41L240.20 55.54L240.23 52.56L240.29 52.70L240.31 55.36L240.49 52.58L240.51 52.39L240.68 51.37L240.70 55.01L240.72 53.05L240.78 56.46L240.88 52.79L240.90 53.64L240.96 55.42L241.09 52.55L241.11 51.71L241.23 56.35L241.29 55.88L241.31 53.93L241.39 51.49L241.44 53.97L241.50 51.84L241.52 53.25L241.56 52.08L241.58 55.77L241.68 53.44L241.70 52.66L241.80 54.72L241.85 51.75L241.89 53.03L241.91 54.14L242.01 52.50L242.09 55.99L242.11 52.48L242.15 55.00L242.30 53.31L242.32 57.15L242.38 52.06L242.48 53.19L242.50 53.04L242.54 55.79L242.56 52.27L242.69 53.03L242.71 54.19L242.73 57.27L242.79 51.61L242.89 54.18L242.91 51.50L242.95 55.97L243.10 53.49L243.12 55.48L243.26 52.10L243.28 53.59L243.30 54.46L243.36 56.24L243.47 52.02L243.49 53.14L243.51 54.37L243.59 50.97L243.61 54.70L243.69 53.39L243.71 55.54L243.73 55.56L243.86 52.34L243.90 54.50L243.92 52.38L244.06 55.16L244.08 52.88L244.10 52.32L244.14 55.33L244.29 53.98L244.31 53.68L244.37 55.02L244.49 52.38L244.51 52.26L244.55 51.61L244.63 54.11L244.70 53.28L244.72 54.03L244.86 51.88L244.88 53.52L244.90 54.44L244.96 55.36L244.98 51.89L245.09 54.67L245.11 54.76L245.13 55.04L245.21 51.63L245.29 51.89L245.31 54.41L245.35 52.51L245.50 52.76L245.52 55.44L245.64 53.72L245.66 55.62L245.68 53.92L245.70 54.34L245.72 52.52L245.76 55.58L245.89 53.87L245.91 53.79L245.95 55.31L246.01 52.24L246.09 53.56L246.11 53.65L246.15 54.49L246.23 51.39L246.30 52.11L246.32 53.36L246.34 56.71L246.48 51.43L246.50 52.38L246.56 55.09L246.58 51.70L246.69 51.83L246.71 53.97L246.77 54.42L246.87 52.66L246.89 53.87L246.91 53.24L246.97 50.90L247.10 53.57L247.12 53.75L247.18 55.33L247.24 52.08L247.28 52.46L247.30 53.79L247.36 55.87L247.49 52.71L247.51 52.96L247.53 52.41L247.65 54.63L247.69 53.56L247.71 55.65L247.79 51.80L247.90 55.09L247.92 52.54L247.96 52.45L248.04 54.79L248.08 53.71L248.10 52.67L248.12 51.64L248.26 54.81L248.28 54.46L248.31 53.24L248.43 51.77L248.49 54.90L248.51 52.19L248.55 52.10L248.65 56.50L248.70 54.98L248.72 52.06L248.76 55.87L248.88 52.55L248.90 55.87L249.00 51.26L249.08 54.33L249.11 53.28L249.13 51.41L249.21 56.57L249.29 54.79L249.31 52.70L249.47 55.50L249.49 53.60L249.52 52.89L249.62 51.01L249.68 56.16L249.70 55.77L249.86 52.28L249.88 53.24L249.91 55.15L249.97 51.88L250.09 54.53L250.11 52.86L250.19 51.91L250.25 55.15L250.29 53.70L250.32 54.42L250.40 55.12L250.44 51.87L250.50 52.26L250.52 52.67L250.60 53.89L250.64 51.08L250.68 53.45L250.70 51.12L250.85 55.13L250.89 51.85L250.91 53.63L250.95 51.42L251.05 55.91L251.09 53.96L251.12 54.27L251.20 56.18L251.30 52.51L251.32 53.05L251.34 51.19L251.42 57.06L251.48 53.54L251.50 53.40L251.65 50.82L251.67 55.00L251.69 54.44L251.71 54.21L251.81 51.48L251.83 55.83L251.89 52.94L251.91 54.61L251.94 51.73L252.02 54.96L252.10 53.95L252.12 52.90L252.22 52.10L252.26 54.46L252.28 52.46L252.30 54.90L252.35 55.24L252.43 51.70L252.49 54.18L252.51 53.44L252.55 52.23L252.57 55.74L252.69 52.75L252.71 54.82L252.74 52.23L252.84 55.47L252.90 53.80L252.92 54.21L253.00 55.09L253.08 51.94L253.10 54.07L253.12 51.12L253.27 54.21L253.29 53.77L253.31 55.26L253.49 52.35L253.51 52.32L253.60 51.40L253.62 56.02L253.70 53.17L253.72 52.75L253.80 54.51L253.86 51.69L253.88 52.46L253.90 52.73L253.92 55.89L254.01 52.37L254.09 53.54L254.11 53.43L254.17 51.83L254.23 55.86L254.29 52.71L254.31 52.15L254.48 56.50L254.50 53.87L254.52 57.20L254.56 50.78L254.68 52.80L254.70 54.18L254.75 52.63L254.87 54.22L254.89 52.95L254.91 53.51L255.01 55.11L255.03 51.78L255.09 52.44L255.11 51.91L255.28 54.61L255.30 52.53L255.32 52.93L255.34 54.56L255.36 50.57L255.48 53.28L255.50 53.33L255.57 50.92L255.61 55.50L255.69 55.05L255.71 52.12L255.75 55.31L255.79 52.07L255.89 53.00L255.91 57.31L256.02 58.55L256.08 51.23L256.10 53.98L256.12 52.33L256.28 54.20L256.30 53.80L256.45 55.35L256.49 51.35L256.51 52.90L256.59 51.82L256.63 55.01L256.69 52.35L256.71 51.59L256.84 55.31L256.90 52.89L256.92 52.78L256.98 51.92L257.08 54.43L257.10 52.89L257.16 50.93L257.25 54.19L257.29 53.81L257.31 53.36L257.33 50.99L257.35 55.65L257.49 54.58L257.51 52.53L257.58 50.53L257.66 55.11L257.70 52.20L257.72 52.23L257.82 51.99L257.86 54.51L257.88 53.91L257.90 51.49L257.92 55.18L258.09 54.11L258.11 53.02L258.21 53.33L258.27 51.49L258.29 53.08L258.31 53.74L258.37 55.31L258.44 51.16L258.50 51.90L258.52 52.80L258.54 53.78L258.56 51.79L258.68 53.51L258.70 53.86L258.89 51.68L258.91 52.95L258.93 56.48L259.05 51.58L259.09 52.33L259.11 52.15L259.15 50.96L259.17 54.16L259.30 53.56L259.32 51.51L259.40 51.29L259.46 55.02L259.48 53.50L259.50 52.77L259.61 55.71L259.69 51.62L259.71 52.95L259.83 55.14L259.87 51.07L259.89 51.87L259.91 53.37L259.93 57.12L260.02 52.27L260.10 53.34L260.12 52.73L260.18 54.64L260.28 52.44L260.30 55.80L260.32 56.31L260.38 51.65L260.49 52.82L260.51 52.81L260.53 51.04L260.61 55.32L260.69 54.68L260.71 51.76L260.86 54.72L260.90 51.46L260.92 56.80L261.00 51.05L261.08 54.69L261.10 52.41L261.21 51.59L261.25 54.49L261.29 53.03L261.31 53.70L261.35 52.06L261.49 55.39L261.51 53.26L261.59 55.36L261.68 51.91L261.70 52.66L261.72 53.40L261.80 51.59L261.82 54.08L261.88 53.01L261.90 52.60L261.92 54.79L262.09 54.78L262.11 54.82L262.15 51.79L262.19 55.09L262.29 52.70L262.31 53.03L262.41 55.48L262.44 51.83L262.50 54.18L262.52 54.35L262.54 55.03L262.68 52.42L262.70 55.32L262.89 52.80L262.91 54.90L262.95 54.98L263.09 51.62L263.11 55.45L263.19 50.64L263.24 56.29L263.30 53.29L263.32 52.49L263.40 55.48L263.48 53.23L263.50 53.38L263.60 52.34L263.65 55.86L263.69 52.50L263.71 52.83L263.77 54.61L263.89 51.36L263.91 52.21L263.97 55.24L264.08 51.87L264.10 53.65L264.12 55.15L264.18 50.68L264.28 53.68L264.30 53.47L264.38 56.21L264.40 52.12L264.49 52.64L264.51 51.91L264.67 51.28L264.69 54.06L264.71 52.43L264.73 53.95L264.90 51.35L264.92 51.62L264.94 51.48L265.00 54.64L265.08 53.16L265.10 54.46L265.14 54.64L265.29 50.93L265.31 52.60L265.33 51.56L265.41 55.14L265.49 53.26L265.51 51.98L265.63 54.47L265.70 53.22L265.72 54.04L265.82 51.53L265.86 55.16L265.88 52.97L265.90 52.60L265.96 55.44L265.98 50.90L266.09 52.11L266.11 54.13L266.21 50.72L266.29 51.73L266.31 53.98L266.39 51.42L266.50 54.84L266.52 54.66L266.56 52.63L266.68 54.21L266.70 52.31L266.89 56.94L266.91 54.73L266.93 50.66L266.95 55.34L267.09 54.01L267.11 54.57L267.23 50.08L267.30 54.88L267.32 52.85L267.40 51.73L267.44 53.56L267.48 53.01L267.50 52.44L267.52 54.57L267.67 51.83L267.69 53.27L267.71 52.38L267.77 54.21L267.87 51.48L267.89 53.76L267.91 53.10L267.93 51.57L267.97 54.10L268.10 52.30L268.12 54.37L268.24 52.72L268.26 55.59L268.28 54.08L268.30 53.06L268.46 50.53L268.49 55.13L268.51 52.13L268.59 56.85L268.69 52.60L268.71 53.83L268.88 54.90L268.90 51.10L268.92 53.59L268.96 50.45L269.04 56.09L269.08 54.11L269.10 51.58L269.16 54.66L269.29 53.01L269.31 54.01L269.39 54.30L269.41 51.43L269.49 53.16L269.51 55.34L269.55 52.67L269.70 53.19L269.72 52.69L269.74 53.87L269.88 51.66L269.90 53.91L269.96 51.35L270.00 54.52L270.08 53.38L270.11 54.49L270.13 52.19L270.29 55.36L270.31 52.56L270.35 55.74L270.50 51.13L270.52 51.75L270.56 54.44L270.68 51.16L270.70 51.82L270.74 50.59L270.80 55.25L270.88 52.43L270.91 52.56L270.93 51.91L270.97 53.98L271.09 52.60L271.11 53.51L271.13 50.87L271.21 54.55L271.29 51.90L271.32 54.52L271.34 51.30L271.48 52.29L271.50 53.54L271.64 51.44L271.66 55.74L271.68 52.86L271.71 52.84L271.73 55.10L271.87 51.87L271.89 54.65L271.91 52.99L272.01 54.89L272.07 51.32L272.09 51.57L272.12 54.35L272.16 55.08L272.22 51.07L272.30 53.51L272.32 52.28L272.38 51.03L272.40 56.75L272.48 53.95L272.50 52.84L272.55 51.84L272.61 57.37L272.69 54.68L272.71 53.02L272.79 51.12L272.81 54.47L272.89 51.45L272.92 53.00L272.98 50.11L273.00 53.82L273.10 51.66L273.12 53.83L273.18 56.60L273.20 50.84L273.28 53.31L273.30 52.61L273.33 51.70L273.45 55.42L273.49 52.99L273.51 51.32L273.59 56.23L273.61 50.73L273.69 55.15L273.71 52.35L273.74 54.19L273.86 51.79L273.90 53.67L273.92 52.51L274.02 51.94L274.04 55.32L274.08 53.61L274.10 52.23L274.25 50.57L274.27 55.43L274.29 53.27L274.31 51.07L274.39 56.62L274.49 54.24L274.51 55.45L274.62 51.17L274.70 53.51L274.72 53.90L274.76 52.27L274.84 54.06L274.88 52.78L274.90 52.73L274.92 53.94L274.97 52.00L275.09 53.34L275.11 55.19L275.13 51.29L275.29 52.26L275.31 53.40L275.36 56.04L275.44 52.21L275.50 54.25L275.52 53.24L275.54 54.87L275.68 51.91L275.70 52.28L275.77 51.18L275.87 54.61L275.89 52.30L275.91 51.98L276.09 54.24L276.11 54.82L276.16 56.10L276.26 50.06L276.30 53.41L276.32 53.16L276.34 54.71L276.36 51.93L276.48 52.21L276.50 52.16L276.63 54.96L276.69 51.78L276.71 53.10L276.77 51.33L276.87 55.66L276.89 54.18L276.91 54.18L277.02 51.22L277.10 52.27L277.12 52.46L277.20 53.77L277.22 51.95L277.28 52.19L277.30 53.54L277.34 50.43L277.47 54.04L277.49 52.23L277.51 54.92L277.63 50.92L277.69 51.53L277.71 54.66L277.82 51.94L277.90 54.78L277.92 54.01L277.98 50.20L278.06 54.49L278.08 53.60L278.10 52.28L278.12 53.76L278.21 51.41L278.29 52.12L278.31 53.39L278.37 51.71L278.43 54.25L278.49 52.61L278.51 52.00L278.66 55.22L278.70 51.36L278.72 52.12L278.78 55.48L278.88 50.85L278.90 50.53L279.09 53.85L279.11 52.47L279.21 51.46L279.23 55.76L279.29 52.31L279.31 50.98L279.40 55.05L279.50 52.93L279.52 53.65L279.54 55.24L279.66 52.72L279.68 52.88L279.70 52.70L279.74 53.76L279.81 51.88L279.89 52.94L279.91 52.02L279.93 50.75L280.03 54.90L280.09 53.48L280.11 53.91L280.26 51.60L280.30 52.88L280.32 53.12L280.38 54.44L280.46 51.21L280.48 52.15L280.50 52.92L280.61 51.49L280.65 53.62L280.69 52.06L280.71 52.97L280.81 51.06L280.85 55.05L280.89 52.78L280.91 54.35L281.04 51.80L281.10 53.57L281.12 54.44L281.14 51.61L281.20 56.18L281.28 54.43L281.30 52.32L281.32 51.72L281.47 55.27L281.49 53.37L281.51 53.21L281.53 54.22L281.59 50.03L281.69 51.72L281.71 51.31L281.88 53.59L281.90 52.85L281.92 52.43L281.94 55.07L282.00 51.78L282.08 52.37L282.10 53.19L282.12 51.82L282.29 55.11L282.31 54.29L282.41 54.95L282.47 51.30L282.49 53.30L282.51 53.42L282.68 51.07L282.70 52.87L282.72 51.74L282.78 54.80L282.86 51.49L282.88 52.05L282.90 50.97L283.09 54.46L283.11 53.87L283.23 55.73L283.27 52.61L283.29 54.75L283.31 52.90L283.42 51.36L283.50 54.29L283.52 52.21L283.54 56.20L283.68 50.76L283.70 51.54L283.80 53.75L283.89 51.03L283.91 53.23L284.01 51.63L284.03 53.44L284.09 53.25L284.11 51.29L284.13 54.94L284.28 50.85L284.30 51.80L284.32 54.50L284.34 51.07L284.48 53.40L284.50 55.97L284.63 51.44L284.69 51.97L284.71 53.25L284.81 55.36L284.87 52.10L284.89 52.14L284.91 53.49L284.95 54.34L284.99 50.96L285.10 52.84L285.12 52.25L285.16 52.07L285.20 53.73L285.28 52.12L285.30 52.90L285.36 54.74L285.45 51.63L285.49 53.11L285.51 53.38L285.61 51.21L285.65 55.33L285.69 53.36L285.71 52.71L285.77 50.75L285.84 53.67L285.90 52.13L285.92 51.59L285.94 54.65L286.08 52.89L286.10 53.62L286.16 54.31L286.20 51.35L286.29 53.05L286.31 53.25L286.41 54.58L286.49 51.58L286.51 52.61L286.59 51.08L286.61 54.91L286.70 54.19L286.72 50.21L286.84 54.13L286.88 53.61L286.90 51.69L286.92 55.01L287.09 54.08L287.11 53.30L287.17 51.33L287.19 55.30L287.29 53.87L287.31 53.27L287.33 55.33L287.43 51.61L287.50 53.53L287.52 51.00L287.56 54.03L287.66 50.64L287.68 53.99L287.70 53.64L287.80 54.18L287.87 49.90L287.89 51.93L287.91 53.37L288.01 54.57L288.03 51.22L288.09 52.93L288.11 55.12L288.13 52.17L288.30 53.53L288.32 53.58L288.34 56.03L288.40 51.27L288.48 54.75L288.50 52.35L288.62 50.81L288.64 56.19L288.69 52.53L288.71 52.50L288.81 51.55L288.83 53.81L288.89 53.42L288.91 51.45L288.95 54.82L289.10 52.09L289.12 53.96L289.20 51.87L289.22 55.66L289.28 51.99L289.30 53.66L289.34 54.26L289.38 50.47L289.49 52.67L289.51 52.58L289.53 51.64L289.65 54.88L289.69 52.22L289.71 52.95L289.75 50.49L289.77 54.33L289.90 53.74L289.92 53.66L289.96 50.25L290.02 54.82L290.08 52.29L290.10 52.99L290.14 49.88L290.18 53.99L290.29 51.56L290.31 52.29L290.43 55.08L290.49 50.85L290.51 52.32L290.55 50.41L290.63 54.90L290.70 52.44L290.72 52.95L290.78 51.13L290.84 54.31L290.88 54.19L290.90 51.97L290.92 54.73L291.02 51.10L291.09 53.27L291.11 52.73L291.17 50.93L291.25 54.08L291.29 52.11L291.31 52.00L291.35 54.39L291.41 51.47L291.50 53.35L291.52 52.02L291.58 51.68L291.66 53.43L291.68 51.85L291.70 54.53L291.84 55.29L291.86 51.48L291.88 51.56L291.91 53.73L291.93 51.34L292.03 54.59L292.09 53.15L292.11 52.05L292.27 54.15L292.30 50.95L292.32 53.76L292.44 51.08L292.46 53.81L292.48 53.74L292.50 53.28L292.60 51.73L292.62 54.10L292.68 51.94L292.71 51.95L292.73 54.39L292.87 50.50L292.89 50.80L292.91 51.66L292.95 50.62L293.05 55.59L293.09 53.15L293.12 53.21L293.20 54.06L293.24 51.03L293.28 52.95L293.30 52.17L293.32 52.03L293.40 54.87L293.48 53.33L293.51 53.81L293.55 52.17L293.69 55.10L293.71 50.85L293.87 53.68L293.89 52.02L293.92 52.61L293.94 50.71L294.06 55.11L294.10 52.51L294.12 52.53L294.14 51.56L294.22 55.41L294.28 51.96L294.30 51.33L294.33 51.24L294.39 54.29L294.49 54.29L294.51 53.22L294.57 53.68L294.61 51.52L294.69 52.81L294.72 52.05L294.80 50.37L294.82 55.24L294.90 52.22L294.92 53.33L294.96 52.43L295.02 54.03L295.08 53.48L295.10 53.94L295.19 55.28L295.29 50.37L295.31 53.54L295.33 54.64L295.43 50.58L295.49 52.17L295.51 52.45L295.64 54.13L295.70 52.85L295.72 54.36L295.80 51.16L295.88 54.09L295.90 53.48L295.99 50.87L296.01 55.04L296.09 52.29L296.11 52.66L296.25 52.45L296.29 54.06L296.31 50.53L296.46 52.68L296.50 51.70L296.52 54.47L296.62 51.42L296.68 53.21L296.70 52.41L296.72 49.50L296.79 54.58L296.89 51.26L296.91 53.47L297.01 51.45L297.07 54.13L297.09 51.91L297.11 51.46L297.14 56.10L297.30 52.69L297.32 51.46L297.40 54.75L297.48 53.75L297.50 53.09L297.63 50.40L297.67 54.60L297.69 53.32L297.71 52.34L297.77 53.23L297.87 50.84L297.89 51.25L297.91 53.56L298.06 51.25L298.10 54.17L298.12 53.30L298.24 54.02L298.28 50.85L298.30 52.68L298.39 53.98L298.43 51.92L298.49 53.43L298.51 53.77L298.61 50.84L298.69 55.06L298.71 51.65L298.86 54.36L298.88 50.38L298.90 52.68L298.92 53.38L298.98 54.47L299.04 51.68L299.08 52.12L299.10 53.02L299.12 50.35L299.25 53.44L299.29 51.07L299.31 51.39L299.41 54.67L299.49 51.95L299.51 56.61L299.53 51.34L299.70 53.82L299.72 52.65L299.82 53.18L299.84 50.41L299.88 51.91L299.90 52.85L299.92 50.96L300.07 55.17L300.09 51.72L300.11 52.45L300.25 54.83L300.29 50.47L300.31 53.54L300.35 50.48L300.42 55.74L300.50 52.07L300.52 53.15L300.56 54.24L300.62 49.89L300.68 52.30L300.70 52.26L300.79 50.59L300.83 53.66L300.89 52.74L300.91 51.23L301.03 53.91L301.09 53.09L301.11 55.57L301.20 51.46L301.30 53.80L301.32 51.98L301.36 54.32L301.42 50.39L301.48 52.34L301.50 52.48L301.54 53.56L301.63 50.82L301.69 52.49L301.71 51.05L301.77 53.08L301.89 52.65L301.91 55.02L302.10 50.88L302.12 50.86L302.20 50.52L302.22 52.49L302.28 52.24L302.30 53.43L302.34 50.57L302.49 51.64L302.51 52.83L302.57 54.35L302.65 49.97L302.69 52.93L302.71 52.11L302.82 51.63L302.86 54.21L302.90 53.95L302.92 51.47L302.94 50.88L303.08 54.19L303.10 51.64L303.12 50.26L303.21 55.67L303.29 50.83L303.31 52.38L303.47 53.81L303.49 50.80L303.51 53.54L303.64 51.23L303.70 53.68L303.72 53.28L303.74 56.92L303.88 51.09L303.90 50.66L304.01 54.30L304.09 53.26L304.11 52.01L304.13 50.49L304.21 55.44L304.29 51.60L304.31 51.36L304.46 51.10L304.50 53.68L304.52 52.59L304.58 54.41L304.60 51.45L304.68 52.50L304.70 52.66L304.81 50.63L304.85 56.01L304.89 51.87L304.91 52.13L304.97 50.66L304.99 53.06L305.09 50.90L305.11 54.30L305.28 51.17L305.30 54.00L305.32 55.84L305.48 50.97L305.50 53.45L305.52 50.69L305.65 53.97L305.69 51.75L305.71 51.72L305.79 53.93L305.89 50.79L305.91 52.00L306.02 54.16L306.10 52.86L306.12 53.46L306.18 50.57L306.28 54.20L306.30 53.24L306.34 53.74L306.47 50.71L306.49 52.81L306.51 52.18L306.67 51.55L306.69 54.00L306.71 50.94L306.84 54.93L306.90 51.88L306.92 53.57L306.96 51.49L307.02 54.54L307.08 52.42L307.10 52.02L307.14 55.49L307.22 51.02L307.29 52.38L307.31 52.12L307.35 51.31L307.37 54.40L307.49 53.76L307.51 53.88L307.64 50.74L307.70 53.43L307.72 53.20L307.82 50.76L307.84 54.65L307.88 52.24L307.90 51.92L307.92 53.83L307.98 51.76L308.09 52.35L308.11 52.56L308.21 50.37L308.29 53.65L308.31 51.63L308.37 54.30L308.50 53.38L308.52 53.74L308.62 51.07L308.64 55.04L308.68 51.12L308.70 52.61L308.76 51.75L308.78 53.30L308.89 53.25L308.91 52.58L309.03 50.42L309.09 54.06L309.11 50.46L309.21 54.85L309.30 52.09L309.32 53.18L309.34 53.60L309.46 50.83L309.48 52.74L309.50 53.19L309.58 54.45L309.62 51.85L309.69 51.96L309.71 51.69L309.75 51.30L309.87 53.94L309.89 53.36L309.91 51.14L309.97 54.17L310.03 50.82L310.10 51.58L310.12 54.15L310.16 51.06L310.28 51.91L310.30 50.89L310.32 53.52L310.49 51.07L310.51 51.23L310.65 54.69L310.69 51.25L310.71 50.95L310.77 54.10L310.90 52.92L310.92 50.98L311.04 50.65L311.08 53.54L311.10 50.69L311.12 53.92L311.29 52.37L311.31 52.15L311.37 53.87L311.47 50.64L311.49 50.95L311.51 51.47L311.65 51.32L311.68 53.98L311.70 53.62L311.72 50.85L311.78 53.61L311.88 51.76L311.90 52.27L311.94 54.37L311.98 49.52L312.09 53.87L312.11 51.73L312.19 56.28L312.21 51.52L312.29 53.94L312.31 53.73L312.43 50.36L312.48 55.70L312.50 51.69L312.52 49.82L312.66 54.82L312.68 52.48L312.70 54.41L312.86 50.82L312.89 53.38L312.91 51.64L313.05 51.13L313.07 53.99L313.09 51.88L313.11 53.97L313.13 55.89L313.17 51.48L313.30 52.52L313.32 52.18L313.44 53.35L313.48 51.21L313.50 53.99L313.62 50.71L313.68 52.54L313.71 52.36L313.77 49.78L313.83 54.92L313.89 52.00L313.91 52.67L313.93 51.47L313.97 53.21L314.10 52.42L314.12 51.69L314.26 53.62L314.28 51.00L314.30 52.65L314.34 50.83L314.36 53.96L314.48 51.30L314.51 52.04L314.55 55.46L314.61 50.86L314.69 51.87L314.71 50.99L314.79 50.60L314.83 53.78L314.89 52.34L314.92 52.50L314.94 50.80L315.06 54.42L315.08 52.73L315.10 49.72L315.12 54.26L315.28 51.16L315.31 51.68L315.41 53.63L315.47 50.65L315.49 51.33L315.51 52.18L315.57 51.00L315.65 54.56L315.69 53.28L315.72 54.50L315.90 51.30L315.92 52.25L316.02 53.59L316.08 50.96L316.10 52.70L316.15 50.70L316.25 54.35L316.29 54.12L316.31 51.38L316.41 53.44L316.49 50.96L316.52 54.06L316.60 54.60L316.64 50.13L316.70 52.73L316.72 54.39L316.74 50.94L316.78 54.59L316.88 53.46L316.90 52.42L316.99 53.58L317.03 50.83L317.09 51.49L317.11 53.82L317.15 51.11L317.29 53.66L317.31 50.73L317.48 54.66L317.50 51.47L317.52 51.88L317.54 51.12L317.64 54.72L317.68 52.76L317.70 52.47L317.75 50.63L317.79 54.58L317.89 51.83L317.91 53.19L317.97 51.25L318.03 53.40L318.09 51.82L318.11 52.90L318.20 54.47L318.28 50.85L318.30 54.25L318.32 51.69L318.38 51.02L318.40 53.80L318.48 53.18L318.50 51.40L318.57 51.00L318.61 53.77L318.69 51.92L318.71 51.95L318.73 53.26L318.89 50.32L318.91 52.05L318.96 50.96L319.00 53.20L319.10 52.56L319.12 51.17L319.14 53.73L319.18 51.11L319.28 52.02L319.30 52.56L319.32 52.96L319.41 50.59L319.49 52.64L319.51 51.38L319.55 51.17L319.67 53.47L319.69 52.05L319.71 50.90L319.90 54.76L319.92 52.82L320.00 50.96L320.02 54.02L320.08 52.15L320.10 53.97L320.15 55.43L320.29 49.79L320.31 51.47L320.35 54.35L320.49 51.77L320.51 54.13L320.56 51.30L320.70 52.75L320.72 52.65L320.80 55.50L320.84 50.56L320.88 51.59L320.90 51.87L320.92 49.62L321.07 53.01L321.09 52.12L321.11 53.31L321.23 49.84L321.29 51.30L321.31 50.90L321.35 52.81L321.42 50.67L321.50 51.61L321.52 52.65L321.56 54.41L321.62 50.51L321.68 51.93L321.70 52.40L321.72 50.61L321.81 52.95L321.89 50.90L321.91 52.61L321.93 51.52L322.03 52.96L322.09 52.01L322.11 50.99L322.28 56.02L322.30 52.43L322.32 51.08L322.36 58.34L322.38 50.80L322.48 53.03L322.50 53.03L322.54 51.35L322.69 54.53L322.71 52.78L322.75 54.77L322.77 50.82L322.89 51.87L322.91 52.44L322.98 49.60L323.06 53.63L323.10 51.36L323.12 52.45L323.26 53.64L323.28 52.01L323.30 52.31L323.34 53.83L323.39 51.13L323.49 51.89L323.51 51.71L323.55 54.23L323.65 51.09L323.69 51.70L323.71 53.21L323.77 50.36L323.90 53.46L323.92 53.43L323.94 54.02L324.00 50.80L324.08 53.64L324.10 54.73L324.14 50.62L324.29 53.29L324.31 50.01L324.43 53.60L324.49 52.42L324.51 52.46L324.55 53.40L324.57 51.14L324.70 52.63L324.72 51.28L324.82 55.02L324.88 52.79L324.90 50.90L324.92 53.39L324.96 49.68L325.09 51.48L325.11 49.83L325.13 53.01L325.29 52.14L325.31 52.60L325.42 54.04L325.46 49.55L325.50 53.42L325.52 50.84L325.66 53.53L325.68 51.77L325.70 51.66L325.74 51.41L325.76 53.67L325.89 51.42L325.91 51.53L325.97 55.49L325.99 51.32L326.09 51.85L326.11 52.03L326.22 51.00L326.28 54.88L326.30 52.71L326.32 52.67L326.38 54.17L326.44 51.14L326.48 52.51L326.50 51.12L326.61 53.54L326.69 50.32L326.71 53.87L326.81 54.52L326.87 51.09L326.89 52.23L326.91 51.81L326.93 50.27L326.95 54.19L327.10 52.44L327.12 53.90L327.16 55.72L327.26 51.20L327.28 51.38L327.30 51.34L327.40 51.06L327.49 54.43L327.51 50.90L327.63 54.57L327.69 50.37L327.71 53.27L327.82 49.92L327.90 51.41L327.92 51.23L327.94 53.73L328.02 50.51L328.08 52.04L328.10 52.07L328.27 54.14L328.29 50.96L328.31 50.71L328.45 54.16L328.49 52.65L328.51 52.39L328.61 54.82L328.66 50.69L328.70 51.40L328.72 51.24L328.74 50.30L328.84 54.16L328.88 52.79L328.90 52.70L328.92 51.39L329.05 54.46L329.09 53.10L329.11 52.19L329.15 50.54L329.25 53.77L329.29 51.61L329.31 52.56L329.44 50.46L329.50 54.14L329.52 52.45L329.56 50.02L329.64 52.55L329.68 52.08L329.70 50.86L329.74 53.19L329.89 52.96L329.91 52.01L330.01 54.28L330.05 51.22L330.09 51.50L330.11 49.85L330.15 53.25L330.30 52.38L330.32 50.34L330.46 53.46L330.48 50.90L330.50 53.51L330.54 53.93L330.62 51.03L330.69 52.74L330.71 50.79L330.89 53.16L330.91 52.27L330.93 52.49L330.99 50.85L331.10 51.73L331.12 52.77L331.18 51.01L331.24 53.76L331.28 52.83L331.30 54.58L331.38 51.03L331.49 52.27L331.51 51.67L331.65 51.22L331.67 54.08L331.69 52.20L331.71 52.65L331.79 50.37L331.81 54.76L331.90 53.26L331.92 53.73L331.96 50.52L331.98 54.29L332.08 52.43L332.10 52.56L332.22 51.43L332.24 53.77L332.29 53.58L332.31 54.47L332.37 50.88L332.49 52.75L332.51 53.25L332.61 49.84L332.70 53.56L332.72 52.52L332.82 53.92L332.84 49.93L332.88 53.58L332.90 50.58L332.98 53.49L333.09 52.80L333.11 51.73L333.15 50.16L333.29 54.10L333.31 52.22L333.48 53.71L333.50 51.61L333.52 51.39L333.56 53.08L333.58 50.12L333.68 51.90L333.70 50.55L333.72 49.98L333.86 52.88L333.89 50.50L333.91 52.53L333.97 53.52L334.05 50.64L334.09 51.98L334.11 52.88L334.19 50.46L334.30 54.47L334.32 50.51L334.40 50.39L334.42 53.55L334.48 52.40L334.50 50.66L334.60 53.56L334.69 52.09L334.71 52.65L334.83 50.37L334.85 53.53L334.89 52.44L334.91 51.21L334.93 51.18L335.01 53.87L335.10 51.42L335.12 50.95L335.18 50.18L335.28 55.16L335.30 51.59L335.42 51.04L335.48 53.25L335.51 52.16L335.55 50.17L335.69 53.31L335.71 50.38L335.90 53.70L335.92 52.64L336.04 50.55L336.06 53.91L336.08 52.20L336.10 51.07L336.16 54.71L336.26 50.51L336.28 53.01L336.31 50.43L336.33 50.37L336.35 53.79L336.49 51.28L336.51 52.92L336.57 52.99L336.59 49.80L336.69 52.76L336.72 52.67L336.78 53.46L336.82 49.75L336.88 52.34L336.90 53.25L337.00 49.93L337.08 51.68L337.11 53.22L337.13 50.41L337.17 53.56L337.29 51.68L337.31 52.73L337.39 53.51L337.49 50.55L337.52 53.90L337.62 54.44L337.66 50.98L337.70 51.84L337.72 52.25L337.82 53.27L337.86 51.03L337.88 51.64L337.90 52.84L337.99 54.59L338.07 49.65L338.09 52.00L338.11 51.25L338.13 53.60L338.29 53.57L338.32 51.89L338.38 50.85L338.50 52.01L338.52 51.31L338.58 53.45L338.60 50.69L338.68 51.50L338.70 54.36L338.83 50.18L338.89 53.48L338.91 52.77L338.95 49.97L338.97 53.61L339.09 52.48L339.11 52.29L339.24 51.37L339.30 54.42L339.32 52.14L339.42 54.44L339.46 51.13L339.48 52.30L339.50 53.07L339.55 54.49L339.57 50.60L339.69 52.38L339.71 52.69L339.85 50.31L339.87 53.80L339.89 51.39L339.91 50.58L339.98 52.99L340.02 49.85L340.10 52.27L340.12 51.10L340.16 50.36L340.24 53.77L340.28 50.59L340.30 50.22L340.43 53.99L340.49 52.77L340.51 51.53L340.65 51.33L340.69 53.36L340.71 51.98L340.80 53.59L340.86 50.84L340.90 52.00L340.92 51.64L340.98 50.11L341.00 52.57L341.08 52.54L341.10 51.23L341.25 53.64L341.29 51.92L341.31 51.85L341.45 51.45L341.49 53.41L341.51 53.34L341.56 50.19L341.70 51.82L341.72 51.99L341.80 54.04L341.86 49.87L341.88 53.25L341.90 50.82L341.95 50.72L342.09 54.14L342.11 56.07L342.23 51.32L342.29 53.39L342.31 54.28L342.44 50.41L342.50 51.27L342.52 53.76L342.64 50.66L342.66 53.88L342.68 51.02L342.70 51.15L342.72 53.21L342.89 52.68L342.91 52.01L342.93 54.94L343.01 50.63L343.09 54.46L343.11 52.58L343.13 50.89L343.18 54.24L343.30 51.84L343.32 51.72L343.36 54.15L343.38 49.37L343.48 51.36L343.50 51.47L343.61 50.25L343.65 54.16L343.69 50.28L343.71 53.25L343.79 50.84L343.87 54.22L343.89 51.64L343.91 51.60L344.06 50.19L344.08 52.90L344.10 52.41L344.12 52.58L344.22 53.66L344.26 50.10L344.28 51.26L344.30 51.37L344.36 53.81L344.45 50.23L344.49 52.43L344.51 52.97L344.53 53.37L344.65 50.62L344.69 53.01L344.71 52.74L344.75 50.76L344.84 53.36L344.90 53.16L344.92 51.33L344.98 53.28L345.04 49.92L345.08 51.06L345.10 51.39L345.19 49.83L345.23 53.22L345.29 52.74L345.31 51.26L345.43 52.35L345.47 50.83L345.49 51.95L345.51 52.73L345.60 53.48L345.70 50.38L345.72 50.36L345.88 53.91L345.90 50.72L346.05 55.43L346.09 51.91L346.11 51.18L346.13 54.87L346.21 50.92L346.29 54.45L346.31 52.05L346.40 50.68L346.50 52.64L346.52 53.34L346.54 54.23L346.66 50.99L346.68 52.21L346.70 52.07L346.74 50.81L346.78 55.20L346.89 51.44L346.91 52.57L346.95 53.24L347.03 51.03L347.09 51.73L347.11 51.44L347.13 51.32L347.28 53.45L347.30 52.22L347.32 50.91L347.36 54.17L347.46 50.40L347.48 51.47L347.50 53.00L347.58 54.35L347.69 50.90L347.71 51.55L347.73 50.15L347.87 53.09L347.89 50.92L347.91 52.68L348.02 53.78L348.06 49.41L348.10 50.79L348.12 51.32L348.14 50.34L348.22 53.53L348.28 52.68L348.30 52.73L348.32 50.62L348.49 52.94L348.51 52.12L348.53 53.50L348.57 50.26L348.69 52.77L348.71 52.87L348.84 53.97L348.88 50.93L348.90 51.92L348.92 51.09L349.04 55.19L349.08 50.88L349.10 52.33L349.16 53.49L349.23 50.56L349.29 52.10L349.31 52.09L349.41 54.13L349.49 50.39L349.51 52.10L349.55 49.95L349.70 50.58L349.72 50.88L349.82 53.55L349.86 50.66L349.88 52.18L349.90 51.09L349.98 54.73L350.05 49.84L350.09 51.73L350.11 53.12L350.19 49.66L350.23 54.86L350.29 52.49L350.31 52.85L350.35 53.93L350.46 50.31L350.50 52.50L350.52 50.28L350.68 53.55L350.70 51.80L350.78 52.79L350.89 50.54L350.91 52.19L351.03 50.34L351.09 51.07L351.11 51.84L351.17 49.97L351.19 52.77L351.30 50.41L351.32 53.21L351.48 50.67L351.50 51.57L351.54 54.56L351.62 50.28L351.69 50.53L351.71 53.15L351.73 49.73L351.79 54.06L351.89 52.61L351.91 52.43L352.06 50.51L352.10 53.81L352.12 51.88L352.20 52.87L352.22 49.85L352.28 51.46L352.30 50.72L352.45 55.65L352.49 53.36L352.51 53.19L352.61 54.28L352.65 50.45L352.69 52.39L352.71 51.38L352.77 54.31L352.86 50.83L352.90 52.50L352.92 51.82L353.04 50.50L353.06 52.99L353.08 51.94L353.10 53.57L353.27 50.49L353.29 52.21L353.31 51.92L353.37 49.96L353.41 54.66L353.49 51.28L353.51 51.10L353.63 49.45L353.68 53.72L353.70 50.39L353.72 51.74L353.76 50.16L353.88 54.59L353.90 53.37L353.92 50.32L353.96 54.11L354.09 53.36L354.11 50.57L354.29 54.35L354.31 51.90L354.35 50.30L354.39 53.54L354.50 52.27L354.52 51.16L354.60 53.98L354.68 50.75L354.70 51.50L354.76 53.66L354.84 50.72L354.89 51.27L354.91 52.09L354.95 53.91L355.07 50.45L355.09 52.18L355.11 50.74L355.17 50.66L355.28 53.60L355.30 52.53L355.32 54.45L355.34 50.95L355.48 51.44L355.50 52.36L355.56 53.27L355.64 50.70L355.69 51.63L355.71 51.99L355.75 53.14L355.81 50.66L355.89 52.70L355.91 50.23L355.93 53.56L356.10 51.97L356.12 51.44L356.14 51.15L356.24 52.84L356.28 52.73L356.30 50.03L356.46 53.16L356.49 52.86L356.51 50.55L356.65 54.20L356.69 49.92L356.71 51.65L356.79 54.28L356.90 51.79L356.92 51.41L356.98 52.95L357.04 48.82L357.08 51.57L357.10 51.18L357.14 54.35L357.29 50.08L357.31 50.92L357.39 53.01L357.43 50.76L357.49 52.91L357.51 52.47L357.63 50.22L357.70 54.18L357.72 51.31L357.74 49.54L357.86 53.24L357.88 52.39L357.90 50.45L358.06 54.50L358.08 53.25L358.11 53.20L358.17 54.11L358.27 48.52L358.29 51.92L358.31 52.33L358.45 53.26L358.47 50.08L358.49 52.64L358.52 53.53L358.56 50.22L358.68 50.96L358.70 51.72L358.72 52.45L358.82 49.66L358.88 51.08L358.91 51.26L359.01 51.10L359.03 53.39L359.09 52.78L359.11 51.11L359.27 50.48L359.29 53.33L359.32 52.04L359.36 50.16L359.46 54.03L359.50 51.03L359.52 52.53L359.54 53.00L359.62 51.08L359.68 52.69L359.70 51.07L359.77 53.35L359.87 49.83L359.89 52.54L359.91 52.30L359.93 53.47L359.97 49.72L360.09 53.27L360.12 52.57L360.14 50.38L360.26 53.12L360.30 50.90L360.32 52.30L360.42 54.31L360.44 49.78L360.48 49.82L360.50 51.31L360.53 53.15L360.59 49.85L360.69 53.12L360.71 52.30L360.75 53.04L360.79 50.53L360.89 51.01L360.91 51.21L361.02 53.19L361.10 51.35L361.12 50.82L361.14 53.44L361.26 50.64L361.28 52.58L361.30 51.94L361.37 50.20L361.41 54.11L361.49 50.33L361.51 50.96L361.53 50.19L361.69 53.73L361.71 50.82L361.76 54.74L361.82 49.38L361.90 51.75L361.92 53.27L361.96 54.03L362.04 50.33L362.08 51.71L362.10 50.85L362.21 50.59L362.25 52.94L362.29 51.81L362.31 52.17L362.33 50.33L362.47 53.03L362.49 51.56L362.51 52.95L362.64 51.07L362.70 51.92L362.72 50.99L362.76 52.85L362.78 49.91L362.88 50.94L362.90 52.46L362.97 53.06L363.07 50.92L363.09 51.57L363.11 52.33L363.23 54.21L363.25 49.95L363.29 50.40L363.31 52.08L363.38 53.85L363.42 51.30L363.50 53.42L363.52 53.18L363.56 53.93L363.64 50.50L363.68 52.58L363.70 53.00L363.79 53.06L363.81 49.66L363.89 52.08L363.91 50.87L363.95 50.35L364.07 54.23L364.09 51.85L364.11 50.30L364.18 54.02L364.30 52.09L364.32 52.07L364.44 51.32L364.46 53.31L364.48 51.45L364.50 50.89L364.54 53.49L364.69 50.41L364.71 50.35L364.77 54.32L364.89 53.01L364.91 50.79L364.98 50.20L365.04 52.96L365.10 52.10L365.12 52.70L365.22 50.30L365.24 53.46L365.28 53.37L365.30 52.95L365.39 50.33L365.49 51.87L365.51 51.42L365.55 55.00L365.57 49.68L365.69 51.83L365.71 50.91L365.80 52.67L365.82 50.79L365.90 50.87L365.92 53.18L365.94 50.02L366.06 53.62L366.08 50.83L366.10 52.01L366.16 51.31L366.25 55.03L366.29 54.60L366.31 53.53L366.37 50.38L366.49 52.85L366.51 50.72L366.62 53.96L366.70 52.24L366.72 50.22L366.78 54.80L366.80 50.20L366.88 51.12L366.90 53.83L367.03 50.27L367.09 50.92L367.11 54.88L367.21 49.62L367.29 52.29L367.31 50.84L367.40 50.64L367.46 53.66L367.50 52.29L367.52 51.56L367.62 53.95L367.68 51.15L367.70 51.83L367.72 50.70L367.79 52.62L367.89 52.00L367.91 52.66L368.07 50.56L368.09 51.18L368.11 53.29L368.13 53.77L368.15 50.23L368.30 50.92L368.32 52.62L368.34 53.16L368.46 50.18L368.48 51.54L368.50 50.74L368.56 54.82L368.69 51.36L368.71 53.52L368.75 49.74L368.89 51.65L368.91 54.43L369.02 50.55L369.10 51.08L369.12 52.30L369.20 50.04L369.22 53.93L369.28 51.53L369.30 51.76L369.47 50.59L369.49 53.40L369.51 52.13L369.59 50.33L369.67 52.65L369.69 51.86L369.71 52.14L369.73 50.02L369.84 54.40L369.90 52.05L369.92 51.32L369.96 53.75L370.06 50.86L370.08 52.42L370.10 52.99L370.18 49.29L370.29 53.54L370.31 51.87L370.45 54.00L370.47 51.07L370.49 52.18L370.51 55.11L370.57 49.05L370.70 52.05L370.72 53.12L370.78 50.30L370.88 52.38L370.90 50.71L370.98 53.51L371.03 50.44L371.09 50.86L371.11 51.19L371.19 53.18L371.25 50.14L371.29 52.91L371.31 52.38L371.44 53.39L371.50 49.84L371.52 49.85L371.64 53.13L371.68 53.01L371.70 50.62L371.76 53.37L371.89 53.37L371.91 52.50L371.99 53.54L372.05 51.20L372.09 53.11L372.11 51.96L372.15 50.41L372.26 54.10L372.30 53.06L372.32 52.55L372.36 50.42L372.48 53.71L372.50 53.87L372.62 49.51L372.65 55.27L372.69 50.61L372.71 51.47L372.79 49.79L372.81 54.21L372.89 52.47L372.91 53.52L372.97 54.09L373.06 50.44L373.10 51.26L373.12 51.54L373.16 49.62L373.28 54.47L373.30 51.79L373.40 49.63L373.47 53.88L373.49 52.44L373.51 54.70L373.57 54.97L373.67 50.26L373.69 53.47L373.71 51.33L373.86 50.13L373.88 53.54L373.90 51.84L373.92 51.93L373.98 50.03L374.04 53.42L374.08 52.32L374.10 51.67L374.18 54.82L374.20 50.57L374.29 50.84L374.31 52.20L374.37 50.14L374.41 53.23L374.49 52.37L374.51 51.66L374.57 50.54L374.61 54.20L374.70 51.02L374.72 51.18L374.74 54.17L374.88 52.54L374.90 53.53L375.09 49.82L375.11 53.82L375.23 50.86L375.29 51.13L375.31 53.11L375.39 53.68L375.43 50.08L375.50 51.70L375.52 51.91L375.60 52.58L375.66 50.10L375.68 50.61L375.70 54.10L375.78 50.52L375.89 51.51L375.91 53.12L375.99 51.16L376.07 55.56L376.09 52.09L376.11 51.21L376.19 51.02L376.28 53.82L376.30 52.76L376.32 49.70L376.48 52.76L376.50 51.37L376.60 52.78L376.64 50.00L376.69 52.53L376.71 52.28L376.85 49.67L376.89 53.29L376.91 50.76L377.01 50.03L377.05 55.20L377.10 52.34L377.12 53.39L377.14 49.38L377.18 54.01L377.28 52.24L377.30 52.09L377.32 53.19L377.42 50.05L377.49 52.00L377.51 51.01L377.55 50.69L377.63 52.86L377.69 52.72L377.71 49.37L377.90 54.52L377.92 51.67L377.94 50.10L377.96 53.99L378.08 53.97L378.10 52.29L378.16 50.15L378.24 52.97L378.29 51.94L378.31 52.26L378.41 52.74L378.45 50.40L378.49 50.77L378.51 50.11L378.55 52.02L378.70 51.11L378.72 51.48L378.74 52.54L378.84 50.60L378.88 51.96L378.90 52.08L379.02 50.44L379.06 54.27L379.09 50.97L379.11 50.99L379.13 52.60L379.29 49.62L379.31 51.62L379.39 54.79L379.43 50.51L379.50 50.60L379.52 51.92L379.56 52.65L379.64 49.75L379.68 50.53L379.70 51.71L379.72 53.22L379.78 50.57L379.88 51.07L379.91 52.72L379.93 55.39L380.07 49.42L380.09 53.15L380.11 52.85L380.19 50.86L380.29 51.85L380.32 51.32L380.34 50.46L380.44 54.39L380.48 51.44L380.50 50.41L380.52 54.28L380.68 53.07L380.71 51.40L380.77 53.85L380.87 50.69L380.89 51.34L380.91 50.93L380.95 52.25L381.07 50.38L381.09 51.71L381.12 51.82L381.20 50.51L381.22 53.67L381.30 52.59L381.32 52.80L381.48 50.82L381.50 51.72L381.59 52.38L381.65 50.19L381.69 51.57L381.71 52.92L381.75 51.06L381.77 53.32L381.89 52.25L381.92 51.82L381.98 49.53L382.04 51.89L382.10 51.36L382.12 50.87L382.28 53.16L382.30 49.78L382.45 53.04L382.49 50.36L382.51 50.21L382.61 50.16L382.69 52.30L382.71 51.44L382.84 52.20L382.88 49.65L382.90 51.80L382.92 50.77L383.00 53.63L383.04 50.32L383.08 51.73L383.10 50.63L383.13 50.36L383.17 53.05L383.29 50.96L383.31 53.74L383.39 53.89L383.47 50.01L383.49 50.44L383.51 53.20L383.56 50.22L383.70 51.19L383.72 50.59L383.76 50.51L383.88 52.21L383.90 52.60L384.01 49.61L384.03 53.94L384.09 51.52L384.11 51.67L384.21 49.71L384.29 52.83L384.31 52.01L384.44 49.59L384.46 52.47L384.50 50.81L384.52 52.90L384.54 53.95L384.68 51.53L384.70 50.70L384.77 52.98L384.83 50.01L384.89 51.10L384.91 52.89L385.01 50.80L385.09 53.95L385.11 50.96L385.16 49.90L385.22 54.17L385.30 49.92L385.32 51.55L385.34 52.50L385.40 50.56L385.48 52.05L385.50 51.57L385.52 50.74L385.61 53.34L385.69 52.16L385.71 52.58L385.87 49.99L385.89 51.29L385.91 50.69L386.06 53.63L386.10 53.55L386.12 52.36L386.14 50.39L386.20 55.02L386.28 53.25L386.30 52.85L386.34 54.08L386.37 50.97L386.49 52.71L386.51 51.87L386.55 53.64L386.67 50.16L386.69 50.40L386.71 50.24L386.80 52.89L386.82 49.59L386.90 52.44L386.92 49.85L386.94 54.09L387.06 49.60L387.08 54.00L387.10 53.10L387.17 50.95L387.29 53.50L387.31 51.94L387.41 49.75L387.45 54.20L387.49 51.45L387.51 51.23L387.62 50.18L387.70 53.32L387.72 51.80L387.76 51.43L387.84 53.20L387.88 52.60L387.90 50.37L387.94 53.99L388.09 51.29L388.11 52.38L388.13 55.26L388.15 50.71L388.29 53.19L388.31 52.00L388.38 49.91L388.48 54.16L388.50 52.98L388.52 54.03L388.64 49.27L388.68 50.96L388.70 49.91L388.74 53.13L388.89 51.00L388.91 50.91L388.97 49.93L388.99 54.16L389.09 50.96L389.11 51.10L389.13 50.94L389.30 53.72L389.32 51.35L389.44 49.61L389.46 52.35L389.48 51.16L389.50 51.87L389.56 52.54L389.59 49.47L389.69 52.17L389.71 50.27L389.87 53.81L389.89 52.37L389.91 52.28L389.95 49.91L390.08 53.41L390.10 51.39L390.12 51.29L390.20 55.15L390.28 53.17L390.30 54.46L390.34 54.61L390.41 50.93L390.49 52.28L390.51 51.66L390.61 53.48L390.63 50.19L390.69 51.36L390.71 52.22L390.75 49.77L390.88 52.39L390.90 51.98L390.92 51.01L391.08 52.31L391.10 53.08L391.23 53.50L391.27 50.70L391.29 52.55L391.31 52.26L391.37 53.99L391.39 50.94L391.49 52.61L391.51 50.37L391.59 53.79L391.70 52.19L391.72 50.33L391.86 54.22L391.88 51.99L391.90 51.39L391.92 49.69L391.98 52.96L392.09 50.82L392.11 51.91L392.25 52.83L392.27 49.82L392.29 52.23L392.31 51.86L392.44 50.14L392.50 53.22L392.52 52.18L392.60 50.23L392.66 54.62L392.68 53.08L392.70 52.27L392.74 53.82L392.80 50.32L392.89 52.63L392.91 52.33L392.99 50.12L393.03 52.47L393.09 50.34L393.11 52.43L393.22 49.76L393.24 53.01L393.30 52.00L393.32 51.87L393.34 49.45L393.38 53.95L393.48 49.83L393.50 52.58L393.65 50.88L393.67 55.91L393.69 51.31L393.71 54.77L393.73 49.40L393.89 52.02L393.91 51.18L394.08 50.56L394.10 52.72L394.12 50.87L394.16 50.23L394.20 52.70L394.28 51.18L394.30 51.75L394.40 49.47L394.47 52.81L394.49 50.67L394.51 52.37L394.55 49.48L394.63 53.47L394.69 51.86L394.71 52.12L394.88 50.54L394.90 53.44L394.92 51.12L394.94 50.96L395.02 53.52L395.08 51.24L395.10 52.90L395.25 55.26L395.29 49.96L395.31 51.26L395.33 53.34L395.43 50.78L395.49 51.14L395.51 51.40L395.57 52.00L395.70 49.87L395.72 51.54L395.78 53.53L395.80 50.11L395.88 52.91L395.90 51.49L395.94 53.36L396.09 52.80L396.11 51.22L396.15 50.48L396.29 53.26L396.31 51.31L396.33 53.54L396.50 50.36L396.52 50.95L396.62 50.79L396.68 53.37L396.70 54.01L396.74 54.92L396.87 50.62L396.89 51.42L396.91 51.97L396.99 50.84L397.05 53.86L397.09 52.10L397.11 50.87L397.17 50.53L397.23 54.15L397.30 51.15L397.32 53.15L397.42 54.24L397.46 49.89L397.48 51.64L397.50 50.67L397.64 53.06L397.67 50.20L397.69 52.05L397.71 51.33L397.85 50.08L397.89 52.97L397.91 51.80L397.93 50.37L398.08 54.01L398.10 52.01L398.12 50.56L398.22 50.05L398.28 54.35L398.30 50.64L398.32 50.50L398.36 53.72L398.49 52.92L398.51 51.31L398.53 50.39L398.57 53.06L398.69 51.73L398.71 51.68L398.73 53.13L398.83 49.04L398.90 52.59L398.92 52.70L398.94 53.46L399.02 51.48L399.08 52.54L399.10 52.80L399.18 54.72L399.29 50.26L399.31 52.55L399.49 50.13L399.51 51.33L399.65 53.27L399.70 49.56L399.72 51.29L399.78 49.73L399.88 54.30L399.90 52.57L399.94 51.18L400.02 53.13L400.09 51.37L400.11 49.98L400.19 54.56L400.29 49.93L400.31 51.64L400.45 49.89L400.50 53.89L400.52 50.08L400.62 53.58L400.68 51.30L400.70 52.96L400.78 50.55L400.86 53.24L400.89 50.61L400.91 50.20L401.01 52.97L401.09 51.42L401.11 52.80L401.19 50.14L401.30 54.06L401.32 49.80L401.42 52.83L401.48 50.10L401.50 54.41L401.56 50.28L401.68 51.27L401.71 52.11L401.81 52.99L401.83 49.66L401.89 52.12L401.91 51.99L402.01 49.79L402.03 53.01L402.09 52.40L402.12 50.66L402.14 53.38L402.24 50.05L402.28 51.62L402.30 51.78L402.36 49.93L402.42 55.48L402.48 53.06L402.51 51.42L402.57 50.15L402.63 53.46L402.69 51.82L402.71 49.91L402.83 53.36L402.89 52.88L402.92 50.03L403.06 52.29L403.10 50.31L403.12 52.89L403.26 53.68L403.28 50.19L403.30 53.34L403.39 50.76L403.49 51.15L403.51 50.39L403.55 49.80L403.61 55.04L403.69 51.93L403.72 50.80L403.74 50.51L403.82 54.17L403.90 53.38L403.92 54.07L404.08 50.73L404.10 51.15L404.23 53.33L404.29 49.81L404.31 52.78L404.37 50.94L404.47 53.74L404.49 52.97L404.51 51.12L404.62 50.10L404.64 55.18L404.70 51.69L404.72 50.52L404.74 49.79L404.88 53.23L404.90 50.46L404.99 54.16L405.03 49.79L405.09 51.41L405.11 50.37L405.15 54.37L405.27 50.18L405.29 52.35L405.31 49.17L405.44 52.76L405.50 48.81L405.52 51.13L405.62 53.27L405.68 52.05L405.70 50.06L405.83 53.69L405.89 50.55L405.91 54.86L406.09 50.03L406.11 52.90L406.14 49.92L406.22 53.03L406.30 52.67L406.32 52.69L406.40 49.38L406.46 53.32L406.48 51.97L406.50 50.63L406.57 49.37L406.59 52.73L406.69 50.39L406.71 52.32L406.75 53.20L406.79 50.46L406.89 52.30L406.91 49.99L406.93 49.25L407.08 54.26L407.10 52.14L407.12 52.29L407.16 53.07L407.22 51.06L407.28 53.02L407.30 53.53L407.49 50.57L407.51 50.53L407.53 49.16L407.59 53.71L407.69 52.65L407.71 51.59L407.73 54.69L407.82 49.83L407.90 52.78L407.92 50.62L408.00 52.04L408.08 52.01L408.10 51.10L408.14 53.31L408.17 49.69L408.29 50.82L408.31 50.09L408.43 53.27L408.49 51.67L408.51 52.28L408.68 51.11L408.70 53.44L408.72 51.63L408.74 53.52L408.76 49.99L408.88 51.96L408.90 53.43L408.97 50.93L409.09 54.09L409.11 53.05L409.17 49.36L409.29 52.71L409.31 52.41L409.35 49.23L409.42 53.67L409.50 51.29L409.52 53.61L409.58 51.16L409.68 54.53L409.70 50.71L409.72 52.83L409.83 49.34L409.89 51.11L409.91 55.69L409.97 50.29L410.09 51.83L410.11 52.31L410.26 53.69L410.28 50.55L410.30 50.74L410.32 51.53L410.36 50.30L410.38 52.66L410.48 52.03L410.50 49.70L410.67 53.83L410.69 53.79L410.71 51.97L410.79 53.92L410.83 50.23L410.89 50.98L410.91 50.33L411.00 53.13L411.10 51.46L411.12 50.91L411.18 49.65L411.28 52.39L411.30 51.43L411.39 50.26L411.43 54.45L411.49 51.45L411.51 51.04L411.57 49.92L411.59 53.09L411.69 51.58L411.71 51.11L411.75 50.31L411.90 53.17L411.92 51.28L412.04 50.61L412.08 53.28L412.10 50.58L412.12 49.73L412.18 52.49L412.29 50.53L412.31 49.75L412.45 52.77L412.49 52.22L412.51 52.33L412.55 50.65L412.60 54.27L412.70 51.55L412.72 50.65L412.78 54.02L412.88 52.48L412.90 52.62L412.92 52.81L413.01 50.45L413.09 51.41L413.11 50.48L413.21 52.45L413.29 51.74L413.31 51.13L413.35 49.81L413.44 53.42L413.50 51.16L413.52 52.14L413.58 52.91L413.66 49.01L413.68 52.08L413.70 50.72L413.78 50.03L413.85 55.08L413.89 51.46L413.91 50.44L414.07 53.63L414.09 50.17L414.11 51.28L414.28 52.12L414.30 50.29L414.32 50.86L414.44 53.66L414.48 50.50L414.50 51.07L414.54 50.77L414.63 52.82L414.69 51.16L414.71 50.68L414.81 53.23L414.83 50.61L414.89 52.07L414.91 52.86L414.93 53.98L414.99 50.05L415.10 52.15L415.12 52.50L415.20 49.84L415.28 52.09L415.30 50.30L415.38 55.13L415.49 51.94L415.51 52.04L415.61 49.51L415.63 52.29L415.69 52.21L415.71 51.20L415.75 50.20L415.81 53.30L415.90 51.46L415.92 51.64L416.00 51.05L416.04 53.07L416.08 52.34L416.10 51.36L416.14 53.58L416.29 50.37L416.31 52.68L416.33 49.94L416.49 51.26L416.51 51.97L416.59 50.79L416.70 53.18L416.72 51.27L416.76 53.03L416.80 50.09L416.88 51.93L416.90 52.26L417.00 49.77L417.07 53.14L417.09 52.25L417.11 52.25L417.15 49.81L417.27 54.54L417.29 52.39L417.31 51.81L417.39 52.82L417.46 50.75L417.50 52.64L417.52 51.67L417.54 50.41L417.68 51.51L417.70 53.47L417.76 50.41L417.89 52.16L417.91 51.62L417.95 54.36L417.97 50.49L418.09 52.03L418.11 52.86L418.17 49.85L418.23 53.11L418.30 51.03L418.32 50.10L418.36 53.59L418.48 52.85L418.50 53.61L418.54 50.34L418.69 51.98L418.71 51.11L418.73 50.87L418.79 53.45L418.89 52.38L418.91 51.96L418.97 53.17L419.10 50.11L419.12 53.25L419.24 50.33L419.28 54.53L419.30 51.86L419.34 50.33L419.42 54.80L419.49 52.93L419.51 52.29L419.63 49.26L419.65 53.20L419.69 52.43L419.71 50.07L419.85 53.48L419.90 50.52L419.92 54.97L420.06 50.26L420.08 52.88L420.10 50.04L420.20 49.84L420.27 54.06L420.29 51.39L420.31 49.44L420.37 54.53L420.49 50.99L420.51 52.32L420.55 50.45L420.70 52.50L420.72 51.82L420.78 50.33L420.82 53.87L420.88 53.07L420.90 52.99L420.92 53.99L421.00 49.77L421.09 51.46L421.11 51.13L421.13 53.62L421.29 50.05L421.31 50.83L421.33 49.33L421.39 53.24L421.50 53.15L421.52 49.98L421.66 53.46L421.68 52.52L421.70 51.96L421.82 50.49L421.86 53.47L421.89 51.71L421.91 53.00L421.93 49.26L422.09 53.27L422.11 51.03L422.23 53.54L422.25 49.80L422.30 51.44L422.32 50.50L422.36 52.48L422.46 49.37L422.48 50.73L422.50 52.20L422.58 52.29L422.66 50.45L422.69 50.79L422.71 51.10L422.73 50.03L422.85 53.34L422.89 52.64L422.91 51.77L422.95 50.81L422.99 53.20L423.10 52.92L423.12 49.79L423.22 53.40L423.28 52.55L423.30 51.34L423.32 52.85L423.46 49.66L423.48 50.16L423.51 52.08L423.61 48.78L423.67 52.69L423.69 51.04L423.71 50.59L423.73 53.63L423.85 50.53L423.89 52.73L423.92 50.00L423.98 49.74L424.08 53.35L424.10 50.52L424.20 54.03L424.26 50.17L424.28 51.62L424.31 52.48L424.35 53.34L424.37 50.12L424.49 52.96L424.51 50.01L424.57 51.69L424.69 51.45L424.72 51.59L424.76 50.09L424.80 53.68L424.90 50.82L424.92 51.18L424.96 50.71L425.06 52.80L425.08 52.03L425.10 52.80L425.15 53.68L425.19 50.27L425.29 52.03L425.31 51.31L425.39 50.66L425.47 52.84L425.49 51.58L425.52 50.93L425.58 50.33L425.66 52.65L425.70 51.29L425.72 51.69L425.76 53.87L425.86 49.64L425.88 50.73L425.90 51.77L425.97 50.76L426.05 54.00L426.09 52.19L426.11 50.33L426.21 53.65L426.29 49.97L426.31 50.35L426.46 52.89L426.50 50.00L426.52 52.69L426.60 55.01L426.62 50.96L426.68 53.38L426.70 52.48L426.73 50.58L426.75 54.10L426.89 51.58L426.91 51.56L426.93 49.89L427.03 55.22L427.09 51.68L427.11 50.31L427.14 53.55L427.16 49.30L427.30 52.63L427.32 51.16L427.38 52.58L427.44 50.41L427.48 51.28L427.50 49.83L427.55 52.43L427.63 49.71L427.69 51.51L427.71 50.38L427.75 54.46L427.89 50.65L427.91 51.55L427.96 49.70L428.00 53.85L428.10 52.74L428.12 50.99L428.14 50.08L428.24 52.70L428.28 52.49L428.30 49.89L428.37 53.98L428.49 51.49L428.51 52.59L428.57 55.57L428.65 50.19L428.69 50.98L428.71 51.00L428.76 50.16L428.82 53.21L428.90 51.27L428.92 51.93L428.96 49.78L429.04 52.80L429.08 50.97L429.10 50.08L429.23 53.85L429.29 50.89L429.31 51.34L429.39 53.07L429.41 49.53L429.49 52.62L429.51 52.79L429.70 50.70L429.72 50.28L429.88 52.26L429.90 50.91L429.94 53.28L430.05 50.53L430.09 51.76L430.11 53.11L430.21 50.05L430.29 51.54L430.31 52.19L430.42 53.92L430.48 50.77L430.50 51.27L430.52 52.79L430.58 54.22L430.60 49.55L430.68 51.42L430.70 50.73L430.72 49.93L430.81 53.16L430.89 51.02L430.91 51.80L431.05 49.90L431.07 53.18L431.09 51.58L431.11 51.45L431.20 53.67L431.30 49.23L431.32 52.05L431.42 50.34L431.46 54.68L431.48 50.65L431.50 51.68L431.56 54.16L431.69 50.88L431.71 50.69L431.79 49.67L431.85 51.83L431.89 51.76L431.91 51.24L432.00 49.43L432.10 53.63L432.12 50.09L432.20 53.82L432.22 49.58L432.28 52.77L432.30 51.27L432.36 49.40L432.45 51.68L432.49 51.45L432.51 51.93L432.61 52.95L432.67 51.37L432.69 51.40L432.71 51.24L432.73 53.04L432.86 49.29L432.90 51.29L432.92 50.22L433.02 54.03L433.08 53.37L433.10 51.65L433.19 52.67L433.23 49.58L433.29 50.25L433.31 53.64L433.41 49.31L433.49 52.11L433.51 52.02L433.53 49.81L433.64 53.04L433.70 51.56L433.72 49.89L433.80 49.56L433.86 52.81L433.88 52.38L433.90 51.91L433.98 53.88L434.03 50.42L434.09 51.91L434.11 51.86L434.21 49.98L434.29 52.80L434.31 51.97L434.33 53.12L434.50 48.33L434.52 51.16L434.54 50.29L434.56 52.53L434.68 52.00L434.70 52.30L434.76 53.33L434.78 49.81L434.89 52.66L434.91 52.44L435.01 50.00L435.03 53.02L435.09 51.27L435.11 49.50L435.19 54.18L435.24 49.14L435.30 50.64L435.32 50.86L435.34 54.06L435.38 49.77L435.48 50.59L435.50 52.21L435.63 52.25L435.69 49.92L435.71 51.17L435.77 50.43L435.89 53.54L435.91 53.68L436.02 54.04L436.04 48.53L436.10 53.37L436.12 50.34L436.24 49.30L436.26 52.08L436.28 51.46L436.30 50.79L436.43 53.31L436.49 49.60L436.51 52.23L436.57 53.03L436.67 49.71L436.69 51.99L436.71 50.75L436.79 50.11L436.88 51.99L436.90 50.46L436.92 51.13L437.04 53.13L437.08 49.89L437.10 51.02L437.12 52.62L437.23 49.17L437.29 51.04L437.31 51.81L437.45 49.51L437.49 53.14L437.51 51.35L437.61 52.64L437.64 49.89L437.70 50.48L437.72 51.57L437.74 53.61L437.76 49.67L437.88 51.23L437.90 51.13L437.94 53.52L438.05 49.89L438.09 52.80L438.11 51.34L438.19 52.17L438.29 49.96L438.31 50.87L438.35 54.11L438.46 48.34L438.50 51.97L438.52 49.88L438.64 52.49L438.68 50.40L438.70 52.33L438.76 52.67L438.89 50.74L438.91 52.28L438.97 52.89L439.05 50.64L439.09 51.43L439.11 51.36L439.15 50.25L439.19 53.66L439.30 52.68L439.32 52.73L439.36 53.37L439.40 49.86L439.48 51.76L439.50 51.59L439.52 50.15L439.65 54.25L439.69 52.40L439.71 51.62L439.75 54.10L439.79 49.79L439.89 51.03L439.91 52.46L440.03 49.88L440.06 53.67L440.10 52.02L440.12 51.07L440.14 49.03L440.22 52.53L440.28 49.99L440.30 49.78L440.44 52.07L440.49 50.66L440.51 52.94L440.61 54.08L440.69 50.12L440.71 50.26L440.77 54.49L440.90 52.08L440.92 52.08L440.96 52.09L440.98 49.95L441.08 50.42L441.10 50.56L441.14 52.83L441.29 51.59L441.31 52.43L441.39 52.99L441.41 49.64L441.49 50.92L441.51 51.85L441.53 50.38L441.59 53.91L441.70 50.56L441.72 49.99L441.76 55.36L441.88 49.87L441.90 51.55L441.94 52.70L442.07 49.84L442.09 50.88L442.11 51.47L442.15 49.65L442.21 52.66L442.29 52.59L442.31 50.38L442.39 49.91L442.48 53.94L442.50 51.46L442.52 51.17L442.54 53.38L442.68 49.42L442.70 51.59L442.78 53.12L442.80 49.60L442.89 52.48L442.91 51.86L442.97 53.37L443.09 50.58L443.11 51.32L443.13 50.31L443.28 54.27L443.30 53.82L443.32 51.49L443.36 49.49L443.46 53.73L443.48 50.93L443.50 52.45L443.52 52.83L443.64 50.85L443.69 52.15L443.71 51.40L443.77 50.04L443.79 54.67L443.89 51.33L443.91 50.02L443.93 49.93L444.03 53.97L444.10 51.87L444.12 51.88L444.24 49.86L444.28 52.05L444.30 52.62L444.36 49.70L444.46 52.90L444.49 51.00L444.51 50.81L444.53 53.72L444.65 50.79L444.69 50.83L444.71 51.75L444.75 52.93L444.87 50.39L444.90 51.97L444.92 51.15L444.96 53.13L444.98 49.84L445.08 50.53L445.10 50.62L445.14 49.86L445.26 52.42L445.28 52.08L445.31 51.34L445.39 53.17L445.47 50.42L445.49 50.63L445.51 51.67L445.59 52.88L445.69 50.17L445.72 49.86L445.76 49.71L445.82 53.52L445.88 51.55L445.90 50.37L445.96 49.46L446.04 53.85L446.08 51.03L446.11 50.57L446.25 54.19L446.27 50.40L446.29 52.06L446.31 53.20L446.37 49.66L446.49 50.95L446.52 53.44L446.58 50.15L446.68 56.28L446.70 51.43L446.72 51.60L446.82 52.91L446.88 48.73L446.90 52.39L446.99 52.75L447.09 49.55L447.11 54.06L447.15 54.18L447.27 50.83L447.29 51.76L447.32 51.72L447.36 50.30L447.48 52.83L447.50 52.10L447.52 53.66L447.56 49.35L447.68 50.85L447.70 50.50L447.81 53.05L447.83 49.67L447.89 51.96L447.91 50.44L447.97 50.10L447.99 52.43L448.09 50.69L448.11 50.62L448.18 55.84L448.30 49.01L448.32 51.59L448.38 53.70L448.40 49.65L448.48 52.29L448.50 52.94L448.55 49.92L448.69 50.65L448.71 52.73L448.79 49.76L448.87 53.90L448.89 51.13L448.91 49.88L449.00 53.46L449.10 51.79L449.12 51.54L449.16 49.37L449.24 52.76L449.28 52.20L449.30 50.25L449.45 50.13L449.49 52.79L449.51 50.81L449.59 49.97L449.63 53.34L449.69 52.11L449.71 51.75L449.76 53.33L449.84 50.77L449.90 52.15L449.92 52.14L450.06 53.40L450.08 50.66L450.10 51.33L450.12 52.69L450.15 50.79L450.29 51.83L450.31 51.78L450.37 54.96L450.43 51.27L450.49 52.07L450.51 52.62L450.53 53.61L450.64 49.97L450.70 52.08L450.72 51.50L450.74 52.71L450.86 50.56L450.88 51.82L450.90 51.23L451.05 52.60L451.07 49.77L451.09 52.09L451.11 49.86L451.17 53.16L451.29 50.59L451.31 51.62L451.44 53.88L451.46 49.89L451.50 52.88L451.52 51.03L451.60 51.65L451.66 49.97L451.68 50.97L451.70 51.43L451.77 50.75L451.81 53.91L451.89 51.71L451.91 51.59L451.97 52.49L452.09 50.54L452.11 50.86L452.16 53.08L452.22 50.07L452.30 51.61L452.32 51.30L452.40 50.12L452.46 52.50L452.48 50.55L452.50 51.60L452.65 49.83L452.69 53.44L452.71 51.50L452.75 53.39L452.89 49.93L452.91 51.80L452.95 49.91L453.08 53.53L453.10 53.50L453.12 50.94L453.22 50.01L453.26 52.51L453.28 52.08L453.30 51.73L453.39 52.97L453.43 49.72L453.49 51.09L453.51 50.42L453.55 50.35L453.57 53.24L453.69 51.04L453.71 52.83L453.84 50.51L453.90 50.94L453.92 51.25L453.94 50.18L453.98 52.55L454.08 51.54L454.10 49.89L454.23 52.41L454.29 51.94L454.31 53.50L454.45 53.52L454.47 49.74L454.49 51.80L454.51 50.19L454.55 49.93L454.68 53.03L454.70 49.93L454.72 50.08L454.78 54.19L454.82 49.49L454.88 50.26L454.90 51.14L454.92 49.89L454.96 54.20L455.09 52.91L455.11 51.25L455.13 52.15L455.17 50.23L455.29 50.51L455.31 51.36L455.40 49.97L455.44 53.55L455.50 53.25L455.52 51.79L455.54 49.64L455.60 52.47L455.68 52.45L455.70 51.97L455.81 49.88L455.89 52.45L455.91 50.55L455.99 52.86L456.05 49.82L456.09 50.63L456.11 50.61L456.15 49.49L456.26 52.53L456.30 51.12L456.32 52.34L456.34 49.76L456.48 53.52L456.50 51.53L456.61 53.01L456.65 49.84L456.69 51.46L456.71 51.32L456.73 52.91L456.87 49.40L456.89 49.98L456.91 50.47L456.95 49.80L457.06 53.23L457.10 49.97L457.12 52.49L457.22 49.94L457.28 52.39L457.30 51.88L457.32 50.05L457.49 53.27L457.51 53.53L457.53 50.18L457.69 51.81L457.71 52.21L457.79 52.49L457.90 50.79L457.92 51.60L458.00 54.53L458.06 49.58L458.08 53.11L458.10 50.12L458.20 52.85L458.29 50.66L458.31 51.26L458.39 49.66L458.47 53.31L458.49 51.35L458.51 51.74L458.57 49.37L458.62 54.20L458.70 53.39L458.72 51.53L458.78 50.43L458.82 54.03L458.88 51.82L458.90 51.04L458.92 54.38L459.03 50.21L459.09 52.32L459.11 52.45L459.15 52.92L459.25 49.88L459.29 50.71L459.31 50.79L459.46 54.16L459.48 49.82L459.50 53.10L459.52 50.73L459.54 52.85L459.68 51.56L459.70 51.81L459.72 50.15L459.80 52.34L459.89 51.60L459.91 51.95L459.97 53.08L460.05 50.63L460.09 51.99L460.11 52.58L460.28 54.25L460.30 49.00L460.32 50.03L460.34 49.55L460.48 52.45L460.50 50.16L460.58 49.28L460.67 54.22L460.69 50.13L460.71 52.12L460.79 53.02L460.87 50.67L460.89 50.77L460.91 52.53L460.97 54.73L461.03 50.20L461.10 51.01L461.12 50.82L461.20 53.95L461.24 49.33L461.28 49.88L461.30 52.15L461.45 50.31L461.47 53.13L461.49 51.70L461.51 51.16L461.55 52.31L461.65 49.82L461.69 52.26L461.71 51.14L461.73 50.20L461.79 53.39L461.90 50.83L461.92 51.01L461.94 49.28L461.98 53.20L462.08 53.02L462.10 51.90L462.18 51.21L462.27 52.96L462.29 51.63L462.31 50.13L462.47 52.59L462.49 51.43L462.51 51.96L462.53 52.67L462.63 49.58L462.70 50.42L462.72 49.89L462.74 52.90L462.88 49.69L462.90 51.28L462.94 50.51L463.02 53.25L463.09 50.99L463.11 50.48L463.19 49.95L463.25 53.09L463.29 50.65L463.31 52.20L463.37 50.05L463.41 53.21L463.50 50.83L463.52 50.60L463.54 52.81L463.58 49.99L463.64 51.90" stroke="#ff7f0e" stroke-opacity="0.5" stroke-width="1.2"/>
<path d="M53.30 29.00H463.64" stroke="#000" stroke-width="1.32" stroke-dasharray="4.5 1.94"/>
</g>
<rect x="32.8" y="17.9" width="451.65" height="269.50" fill="none" stroke="#000" stroke-width="0.72"/>
<path d="M53.50 287.4v2.8M104.77 287.4v2.8M156.04 287.4v2.8M207.31 287.4v2.8M258.58 287.4v2.8M309.85 287.4v2.8M361.12 287.4v2.8M412.39 287.4v2.8M463.66 287.4v2.8M32.8 287.40h-2.8M32.8 242.52h-2.8M32.8 197.64h-2.8M32.8 152.76h-2.8M32.8 107.88h-2.8M32.8 63.00h-2.8M32.8 18.12h-2.8" stroke="#000" stroke-width="0.72" fill="none"/>
<text x="53.50" y="299.85" font-size="8.2" text-anchor="middle" textLength="5.09" lengthAdjust="spacing">0</text>
<text x="104.77" y="299.85" font-size="8.2" text-anchor="middle" textLength="20.36" lengthAdjust="spacing">2500</text>
<text x="156.04" y="299.85" font-size="8.2" text-anchor="middle" textLength="20.36" lengthAdjust="spacing">5000</text>
<text x="207.31" y="299.85" font-size="8.2" text-anchor="middle" textLength="20.36" lengthAdjust="spacing">7500</text>
<text x="258.58" y="299.85" font-size="8.2" text-anchor="middle" textLength="25.45" lengthAdjust="spacing">10000</text>
<text x="309.85" y="299.85" font-size="8.2" text-anchor="middle" textLength="25.45" lengthAdjust="spacing">12500</text>
<text x="361.12" y="299.85" font-size="8.2" text-anchor="middle" textLength="25.45" lengthAdjust="spacing">15000</text>
<text x="412.39" y="299.85" font-size="8.2" text-anchor="middle" textLength="25.45" lengthAdjust="spacing">17500</text>
<text x="463.66" y="299.85" font-size="8.2" text-anchor="middle" textLength="25.45" lengthAdjust="spacing">20000</text>
<text x="27.50" y="290.30" font-size="8.2" text-anchor="end" textLength="5.09" lengthAdjust="spacing">0</text>
<text x="27.50" y="245.42" font-size="8.2" text-anchor="end" textLength="5.09" lengthAdjust="spacing">2</text>
<text x="27.50" y="200.54" font-size="8.2" text-anchor="end" textLength="5.09" lengthAdjust="spacing">4</text>
<text x="27.50" y="155.66" font-size="8.2" text-anchor="end" textLength="5.09" lengthAdjust="spacing">6</text>
<text x="27.50" y="110.78" font-size="8.2" text-anchor="end" textLength="5.09" lengthAdjust="spacing">8</text>
<text x="27.50" y="65.90" font-size="8.2" text-anchor="end" textLength="10.18" lengthAdjust="spacing">10</text>
<text x="27.50" y="21.02" font-size="8.2" text-anchor="end" textLength="10.18" lengthAdjust="spacing">12</text>
<text x="258.6" y="311.0" text-anchor="middle" textLength="38.0" lengthAdjust="spacing">Iterations</text>
<text transform="translate(12.45 152.65) rotate(-90)" text-anchor="middle" textLength="18.7" lengthAdjust="spacing">sPCE</text>
<text x="258.75" y="12.7" font-size="10.0" text-anchor="middle" textLength="185.4" lengthAdjust="spacing">Location Finding: Dropout Q-Functions</text>
<clipPath id="ci"><rect x="172.5" y="91.45" width="233.00" height="116.55"/></clipPath>
<g clip-path="url(#ci)" fill="none" stroke-linejoin="round" stroke-linecap="butt">
<path d="M172.50 144.21L172.64 150.59L172.69 147.61L172.73 149.35L172.78 144.34L172.83 145.22L172.92 148.82L172.97 158.45L173.06 146.16L173.11 145.17L173.15 159.38L173.20 156.16L173.25 146.58L173.29 150.54L173.34 147.74L173.39 148.58L173.43 145.37L173.48 153.79L173.53 148.90L173.57 144.44L173.62 146.44L173.66 149.80L173.71 145.73L173.76 146.21L173.80 150.01L173.85 145.09L173.90 145.13L173.94 147.46L173.99 144.44L174.04 151.05L174.08 144.89L174.18 150.19L174.22 148.98L174.27 143.89L174.32 148.84L174.36 148.15L174.46 149.66L174.50 144.38L174.55 141.76L174.60 143.49L174.64 145.57L174.69 144.91L174.74 148.14L174.78 148.64L174.83 151.05L174.88 143.27L174.92 148.11L174.97 149.39L175.02 149.11L175.06 146.47L175.11 148.81L175.16 146.98L175.20 146.54L175.25 143.49L175.30 151.30L175.34 146.16L175.39 149.31L175.44 148.40L175.48 142.87L175.58 148.26L175.62 145.60L175.67 147.09L175.72 144.01L175.76 148.59L175.81 145.61L175.86 147.67L175.90 146.99L176.00 149.04L176.04 146.70L176.09 144.32L176.13 148.99L176.18 148.25L176.23 145.94L176.27 149.49L176.32 144.59L176.41 155.62L176.46 149.15L176.51 150.67L176.55 144.70L176.60 144.42L176.65 151.11L176.69 149.25L176.74 147.26L176.79 148.18L176.83 144.97L176.88 144.31L176.93 145.31L176.97 144.04L177.02 144.42L177.11 148.39L177.16 149.42L177.25 144.53L177.30 144.22L177.39 148.24L177.44 146.21L177.49 143.65L177.53 145.95L177.58 146.33L177.63 149.72L177.67 145.71L177.72 145.44L177.77 150.16L177.81 142.57L177.86 150.05L177.91 144.42L177.95 147.63L178.00 146.51L178.05 149.57L178.09 148.80L178.14 145.00L178.23 148.06L178.28 144.52L178.37 146.49L178.42 146.29L178.46 142.63L178.51 147.50L178.56 145.84L178.60 145.74L178.65 151.83L178.70 153.99L178.79 144.57L178.84 146.38L178.93 149.10L178.98 144.70L179.07 152.65L179.12 145.04L179.16 146.27L179.21 145.86L179.26 144.13L179.30 143.47L179.35 145.36L179.40 147.51L179.44 154.75L179.49 146.10L179.54 147.43L179.58 143.48L179.63 143.58L179.68 145.59L179.72 143.37L179.77 147.20L179.82 147.10L179.86 149.76L179.91 147.94L179.96 146.34L180.00 144.09L180.05 149.37L180.10 144.73L180.14 141.50L180.19 151.60L180.24 147.77L180.33 144.21L180.38 142.11L180.47 147.08L180.52 149.77L180.61 147.08L180.66 146.24L180.70 149.92L180.75 143.02L180.79 149.32L180.84 145.03L180.89 146.33L180.93 150.66L180.98 146.76L181.03 146.90L181.07 147.55L181.12 144.70L181.17 148.48L181.21 141.16L181.31 150.01L181.35 156.42L181.40 143.61L181.45 146.22L181.49 146.72L181.59 151.98L181.63 153.70L181.68 141.12L181.73 142.85L181.77 148.74L181.82 142.30L181.87 153.66L181.91 144.98L181.96 144.96L182.01 149.82L182.05 148.42L182.10 150.48L182.15 146.84L182.19 143.47L182.29 145.75L182.33 143.93L182.38 153.40L182.43 142.02L182.47 147.13L182.52 151.53L182.57 148.19L182.61 149.09L182.71 146.04L182.75 155.79L182.85 142.58L182.89 150.48L182.94 143.10L182.99 143.59L183.03 144.17L183.08 142.77L183.12 151.83L183.17 144.90L183.22 150.39L183.26 141.40L183.31 150.25L183.36 151.20L183.40 143.90L183.45 145.18L183.50 146.88L183.54 146.55L183.59 145.20L183.64 142.56L183.68 149.32L183.73 148.79L183.78 148.85L183.82 147.20L183.87 146.93L183.92 151.44L183.96 146.06L184.01 151.36L184.10 147.76L184.15 147.74L184.24 142.74L184.29 144.00L184.34 142.85L184.38 147.88L184.43 143.23L184.48 147.13L184.52 146.28L184.57 146.15L184.62 151.65L184.66 148.97L184.71 147.46L184.76 145.88L184.80 147.36L184.85 149.82L184.90 150.96L184.94 146.93L184.99 151.05L185.08 147.29L185.13 146.42L185.22 153.45L185.27 146.10L185.31 144.64L185.36 148.28L185.41 148.17L185.45 155.82L185.50 144.42L185.55 150.72L185.59 144.89L185.64 148.89L185.69 147.41L185.78 153.53L185.83 140.78L185.87 152.56L185.92 146.62L185.97 149.68L186.06 143.28L186.11 153.80L186.20 145.51L186.25 146.59L186.29 145.78L186.34 149.45L186.39 152.87L186.48 148.27L186.53 144.83L186.57 146.71L186.62 142.78L186.67 146.64L186.76 146.34L186.81 153.24L186.85 145.27L186.90 150.77L186.95 148.17L186.99 141.39L187.04 151.25L187.09 146.59L187.13 146.07L187.18 146.55L187.23 146.94L187.27 148.77L187.32 142.01L187.37 154.41L187.46 143.03L187.51 145.34L187.60 149.98L187.65 147.74L187.69 140.93L187.74 145.49L187.78 150.47L187.83 146.22L187.88 149.00L187.92 143.00L187.97 146.06L188.02 143.53L188.06 146.45L188.11 141.91L188.16 145.72L188.20 146.10L188.25 150.42L188.30 148.30L188.34 145.78L188.39 148.55L188.44 141.15L188.48 146.97L188.53 149.48L188.58 144.18L188.62 148.66L188.67 145.73L188.72 147.23L188.76 149.33L188.81 143.23L188.86 146.65L188.90 143.93L189.00 151.98L189.04 151.26L189.14 147.51L189.18 146.76L189.23 145.42L189.28 151.26L189.32 146.24L189.37 151.16L189.42 149.19L189.46 141.02L189.56 148.09L189.60 142.37L189.70 144.42L189.74 143.05L189.79 147.71L189.84 147.32L189.88 149.82L189.93 145.22L189.97 151.30L190.02 148.56L190.07 145.57L190.11 148.57L190.16 145.89L190.21 142.30L190.25 150.27L190.30 143.19L190.39 150.09L190.44 146.24L190.49 144.06L190.53 149.29L190.58 149.34L190.63 148.34L190.67 149.31L190.72 146.35L190.77 149.28L190.81 147.73L190.86 145.86L190.91 148.26L190.95 143.76L191.00 149.15L191.05 149.49L191.09 141.89L191.14 142.95L191.19 146.70L191.23 144.56L191.28 145.90L191.33 148.58L191.37 144.96L191.42 146.00L191.47 143.45L191.51 153.67L191.56 144.62L191.65 149.19L191.70 148.30L191.75 148.22L191.79 151.55L191.84 148.79L191.89 144.68L191.93 152.32L191.98 148.12L192.03 155.97L192.07 148.79L192.12 145.74L192.17 147.06L192.21 146.77L192.26 150.76L192.31 145.24L192.35 149.96L192.40 144.35L192.49 148.14L192.54 142.99L192.58 148.18L192.63 144.06L192.68 146.58L192.72 146.90L192.77 144.11L192.82 145.60L192.91 147.27L192.96 146.26L193.05 147.94L193.10 150.44L193.14 157.00L193.19 147.25L193.24 147.67L193.28 143.60L193.33 145.57L193.38 143.77L193.42 142.45L193.47 147.23L193.52 149.72L193.56 144.57L193.61 148.85L193.66 147.70L193.70 143.08L193.75 145.28L193.80 143.87L193.84 151.63L193.89 146.78L193.94 143.81L193.98 151.36L194.03 146.29L194.08 145.69L194.12 155.67L194.17 142.73L194.22 149.25L194.31 142.56L194.36 153.41L194.40 145.51L194.45 148.33L194.50 146.75L194.54 149.62L194.59 143.23L194.63 150.74L194.73 145.29L194.77 147.17L194.82 147.75L194.87 147.72L194.91 144.03L195.01 147.13L195.05 150.62L195.15 145.31L195.19 146.97L195.24 143.06L195.29 153.91L195.33 141.08L195.43 150.80L195.47 153.21L195.52 144.42L195.57 145.20L195.61 147.56L195.71 146.35L195.75 148.23L195.80 143.71L195.85 145.05L195.89 147.24L195.94 152.77L195.99 143.20L196.03 148.41L196.08 150.40L196.13 143.39L196.17 145.40L196.22 154.35L196.27 152.86L196.31 148.14L196.36 151.24L196.41 147.34L196.45 140.88L196.50 140.39L196.55 146.98L196.59 144.57L196.64 144.34L196.69 147.22L196.73 152.09L196.78 143.88L196.83 147.41L196.87 145.51L196.92 144.81L196.97 149.55L197.01 142.51L197.06 146.61L197.10 146.16L197.15 148.24L197.24 144.03L197.29 148.66L197.34 145.14L197.38 148.24L197.43 151.12L197.52 145.07L197.57 145.22L197.62 143.86L197.66 149.06L197.71 147.80L197.80 145.03L197.85 147.20L197.94 152.37L197.99 143.61L198.08 149.02L198.13 142.93L198.18 147.02L198.22 145.48L198.27 143.41L198.36 149.41L198.41 153.13L198.50 145.49L198.55 144.38L198.64 146.49L198.69 143.67L198.74 150.32L198.78 145.65L198.83 145.30L198.88 147.19L198.92 142.39L198.97 145.51L199.02 143.20L199.06 144.28L199.11 147.37L199.16 141.98L199.20 143.75L199.25 146.75L199.34 150.34L199.39 147.28L199.43 147.55L199.48 146.17L199.53 148.17L199.57 145.13L199.62 147.06L199.67 152.48L199.71 148.45L199.76 149.83L199.81 151.25L199.90 144.23L199.95 150.65L199.99 154.26L200.04 147.30L200.09 140.32L200.13 148.73L200.18 145.97L200.23 148.12L200.32 142.97L200.37 147.29L200.41 143.56L200.46 150.51L200.51 146.15L200.55 151.22L200.60 146.21L200.65 148.80L200.69 146.06L200.74 150.64L200.79 146.08L200.88 148.64L200.93 149.46L200.97 150.88L201.02 148.05L201.07 145.58L201.11 147.19L201.16 146.30L201.21 143.35L201.25 147.80L201.30 145.89L201.35 144.42L201.44 145.62L201.49 146.52L201.53 141.96L201.58 147.00L201.62 148.00L201.72 142.54L201.76 143.01L201.81 146.66L201.86 144.40L201.90 145.29L201.95 146.53L202.00 144.87L202.04 144.96L202.09 146.32L202.14 142.35L202.18 147.96L202.28 141.64L202.32 141.61L202.42 147.33L202.46 152.48L202.56 141.06L202.60 152.36L202.70 144.38L202.74 144.96L202.79 153.42L202.84 146.93L202.88 145.73L202.93 152.15L202.98 144.06L203.02 151.39L203.07 143.65L203.12 146.13L203.16 149.05L203.21 152.52L203.26 147.84L203.30 147.04L203.40 148.69L203.44 147.41L203.49 144.29L203.54 149.82L203.58 147.41L203.63 145.39L203.68 146.81L203.72 144.31L203.77 142.69L203.82 147.88L203.86 146.09L203.91 158.51L203.95 147.86L204.00 144.81L204.05 150.60L204.09 143.19L204.14 153.68L204.19 143.14L204.23 148.43L204.28 150.23L204.37 147.60L204.42 150.21L204.47 151.62L204.51 148.46L204.56 144.10L204.61 145.55L204.65 143.16L204.70 148.76L204.79 147.82L204.84 146.32L204.93 142.28L204.98 144.73L205.03 146.26L205.07 143.13L205.12 149.37L205.17 151.36L205.21 144.83L205.26 146.25L205.31 146.39L205.35 144.14L205.40 147.83L205.45 147.11L205.54 144.88L205.59 144.01L205.63 146.40L205.68 145.96L205.73 156.08L205.77 143.44L205.82 152.39L205.87 146.90L205.91 140.91L205.96 147.81L206.01 152.45L206.05 142.58L206.10 148.58L206.15 147.28L206.19 147.29L206.24 144.66L206.28 144.55L206.33 147.15L206.38 143.71L206.42 149.81L206.47 144.82L206.52 148.82L206.56 144.76L206.61 148.98L206.66 148.19L206.70 142.88L206.80 150.83L206.84 145.10L206.94 148.16L206.98 147.22L207.03 141.60L207.08 150.31L207.12 147.63L207.17 146.27L207.22 149.96L207.26 146.88L207.31 145.35L207.36 149.85L207.40 143.70L207.45 150.72L207.50 147.23L207.54 145.77L207.59 140.07L207.64 153.14L207.68 145.93L207.73 140.94L207.78 148.73L207.82 143.77L207.92 151.84L207.96 145.61L208.01 149.78L208.06 146.51L208.10 152.12L208.15 144.68L208.20 156.06L208.24 147.31L208.29 143.31L208.34 145.26L208.38 147.90L208.43 147.52L208.48 148.15L208.52 140.66L208.57 146.94L208.62 146.82L208.66 149.22L208.75 145.01L208.80 148.78L208.85 149.48L208.89 148.58L208.94 147.91L208.99 146.25L209.03 148.36L209.08 147.38L209.13 149.28L209.17 143.43L209.22 146.50L209.27 147.78L209.31 145.91L209.36 146.92L209.41 152.39L209.45 147.35L209.50 142.51L209.55 145.30L209.59 143.56L209.64 148.99L209.69 152.06L209.73 149.09L209.78 143.16L209.83 150.18L209.87 149.43L209.92 143.73L209.97 147.57L210.01 147.40L210.06 145.64L210.15 147.74L210.20 146.01L210.25 149.14L210.29 146.91L210.34 144.88L210.39 150.41L210.43 147.45L210.48 150.72L210.53 144.64L210.57 144.99L210.62 144.13L210.67 143.91L210.71 143.93L210.76 144.71L210.81 149.37L210.85 144.15L210.90 149.85L210.94 141.24L210.99 145.90L211.04 145.04L211.08 151.06L211.13 143.81L211.18 143.56L211.22 152.39L211.27 148.59L211.32 148.29L211.36 148.91L211.41 143.08L211.46 141.52L211.50 150.42L211.55 143.86L211.60 147.60L211.64 143.11L211.69 156.21L211.74 148.17L211.78 143.46L211.83 149.30L211.88 143.52L211.92 148.43L211.97 143.64L212.02 145.07L212.11 149.31L212.16 147.30L212.20 143.59L212.25 146.79L212.30 148.96L212.34 139.90L212.39 152.43L212.44 147.49L212.48 145.18L212.53 150.35L212.58 146.81L212.67 152.04L212.72 145.42L212.76 150.70L212.81 149.28L212.86 143.42L212.90 150.63L212.95 145.01L213.00 143.54L213.09 145.38L213.14 147.51L213.18 151.73L213.23 146.33L213.28 145.45L213.37 150.13L213.41 144.31L213.46 150.39L213.51 145.47L213.55 148.34L213.60 152.89L213.65 142.58L213.69 145.00L213.79 151.80L213.83 147.19L213.88 145.94L213.93 149.28L213.97 142.51L214.02 154.34L214.07 144.76L214.11 153.79L214.21 151.31L214.25 145.14L214.30 149.20L214.35 149.06L214.39 149.91L214.44 152.13L214.49 149.89L214.53 150.22L214.58 147.89L214.63 148.09L214.67 156.16L214.77 143.55L214.81 148.44L214.86 147.13L214.91 149.33L214.95 149.22L215.00 147.17L215.05 151.74L215.09 147.48L215.14 153.05L215.19 145.95L215.23 152.69L215.33 144.11L215.37 152.92L215.42 145.01L215.47 148.34L215.51 143.76L215.56 148.77L215.60 147.93L215.65 147.97L215.70 143.55L215.74 154.30L215.79 144.80L215.88 148.66L215.93 147.81L215.98 144.36L216.02 144.65L216.07 142.58L216.16 154.13L216.21 148.89L216.26 147.68L216.30 148.50L216.35 143.66L216.40 141.46L216.44 145.90L216.49 153.68L216.54 144.11L216.58 149.22L216.63 146.92L216.68 144.62L216.72 145.94L216.77 147.28L216.86 144.84L216.91 145.20L216.96 141.84L217.00 159.30L217.05 149.73L217.14 144.67L217.19 146.38L217.24 144.60L217.28 152.20L217.33 147.77L217.38 145.15L217.42 147.23L217.47 148.38L217.56 142.69L217.61 155.10L217.66 142.82L217.70 146.21L217.75 150.00L217.80 145.12L217.84 146.94L217.89 143.69L217.94 149.81L217.98 144.29L218.03 150.18L218.12 145.01L218.17 147.32L218.21 145.16L218.26 149.05L218.31 144.05L218.40 149.44L218.45 147.43L218.49 147.22L218.54 149.92L218.59 144.73L218.63 147.45L218.68 145.26L218.73 152.46L218.82 147.92L218.87 150.49L218.96 145.38L219.01 143.91L219.05 143.08L219.10 144.76L219.15 149.44L219.19 145.41L219.24 148.79L219.29 145.43L219.33 150.72L219.38 143.36L219.43 145.79L219.52 151.91L219.57 146.18L219.61 148.79L219.66 146.27L219.71 149.45L219.80 145.20L219.85 143.05L219.89 151.53L219.94 147.66L219.99 145.85L220.08 148.48L220.13 141.65L220.17 149.90L220.22 145.93L220.26 148.65L220.31 147.34L220.36 155.86L220.40 144.47L220.50 150.37L220.54 142.63L220.64 149.08L220.68 149.92L220.73 144.01L220.78 146.93L220.82 148.03L220.87 151.75L220.92 150.13L220.96 145.97L221.06 154.63L221.10 150.02L221.20 140.78L221.24 149.57L221.29 155.57L221.34 144.78L221.38 148.60L221.43 151.73L221.48 145.34L221.52 147.77L221.62 151.69L221.66 147.41L221.71 146.75L221.76 153.61L221.80 144.21L221.85 151.52L221.90 143.20L221.94 146.00L221.99 147.62L222.04 145.99L222.08 149.00L222.18 142.66L222.22 148.92L222.27 144.64L222.32 150.10L222.36 147.07L222.41 144.26L222.46 151.25L222.50 145.99L222.55 155.23L222.59 151.04L222.64 148.39L222.69 144.47L222.73 144.91L222.78 150.15L222.87 146.43L222.92 152.70L223.01 143.31L223.06 143.56L223.11 148.98L223.15 148.35L223.20 150.23L223.29 147.81L223.34 145.00L223.43 150.20L223.48 144.63L223.53 144.47L223.57 149.05L223.62 147.80L223.67 147.33L223.71 153.03L223.76 146.58L223.85 142.03L223.90 146.41L223.95 147.92L223.99 147.47L224.04 145.18L224.09 144.68L224.13 149.93L224.18 146.40L224.23 145.06L224.27 154.57L224.32 143.25L224.37 147.68L224.41 144.48L224.46 147.13L224.51 147.78L224.55 147.23L224.60 146.10L224.65 144.48L224.69 147.84L224.74 150.90L224.79 149.33L224.83 150.35L224.88 144.76L224.93 150.28L224.97 142.90L225.02 146.57L225.06 147.25L225.11 143.38L225.16 148.17L225.25 144.70L225.30 144.80L225.34 150.41L225.39 141.09L225.44 145.27L225.48 151.39L225.53 147.51L225.58 144.30L225.62 146.27L225.67 144.48L225.72 141.23L225.76 144.28L225.81 141.87L225.86 144.94L225.90 149.16L225.95 142.89L226.00 149.28L226.04 144.20L226.09 145.00L226.14 149.80L226.23 147.47L226.28 145.69L226.32 143.26L226.37 146.65L226.42 142.04L226.51 149.00L226.56 148.91L226.60 146.59L226.65 148.56L226.70 147.12L226.74 144.60L226.79 146.04L226.84 144.07L226.93 149.74L226.98 151.79L227.02 153.35L227.07 148.26L227.12 146.59L227.16 147.43L227.21 146.77L227.25 141.71L227.30 150.55L227.35 147.65L227.39 148.38L227.44 149.86L227.49 143.13L227.53 146.87L227.58 143.35L227.63 150.67L227.67 142.01L227.72 141.30L227.77 149.71L227.81 146.79L227.86 147.16L227.91 145.11L227.95 151.32L228.05 144.65L228.09 148.72L228.14 155.37L228.19 149.00L228.23 148.02L228.28 144.54L228.33 148.78L228.37 150.72L228.42 144.93L228.47 145.62L228.51 144.62L228.56 146.59L228.61 143.79L228.65 145.22L228.70 153.26L228.75 146.12L228.79 144.51L228.84 146.61L228.89 142.84L228.93 148.20L228.98 144.70L229.03 151.00L229.07 146.72L229.17 150.13L229.21 151.30L229.31 145.44L229.35 148.81L229.40 151.03L229.45 149.67L229.49 144.53L229.54 150.89L229.59 143.58L229.63 152.75L229.72 144.77L229.77 143.38L229.86 149.26L229.91 151.74L229.96 144.13L230.00 147.10L230.05 148.19L230.14 145.93L230.19 146.60L230.24 143.47L230.28 154.80L230.33 144.29L230.38 148.43L230.42 146.94L230.47 147.69L230.56 144.52L230.61 146.01L230.66 151.80L230.70 146.89L230.75 146.99L230.80 145.57L230.84 146.55L230.89 146.93L230.94 143.82L230.98 150.42L231.03 141.39L231.12 150.21L231.17 144.43L231.26 143.28L231.31 142.81L231.40 146.46L231.45 145.54L231.54 148.43L231.59 142.49L231.64 142.05L231.68 146.63L231.73 147.38L231.82 152.74L231.87 148.89L231.96 146.71L232.01 150.05L232.05 153.65L232.10 144.75L232.15 142.23L232.19 154.63L232.24 147.07L232.29 144.22L232.38 151.72L232.43 146.53L232.52 148.73L232.57 142.38L232.66 144.73L232.71 146.83L232.75 147.66L232.80 144.12L232.85 147.35L232.89 142.69L232.94 143.23L232.99 148.57L233.08 142.51L233.13 144.69L233.17 149.76L233.22 147.42L233.27 147.65L233.31 146.19L233.36 146.46L233.41 147.67L233.50 142.94L233.55 148.36L233.59 151.73L233.64 145.42L233.69 146.49L233.73 145.27L233.78 148.74L233.83 145.63L233.87 149.54L233.92 143.51L233.97 142.20L234.06 156.51L234.11 148.03L234.15 148.15L234.20 145.87L234.25 146.39L234.34 140.42L234.38 148.23L234.48 145.16L234.52 153.13L234.57 144.21L234.62 148.44L234.66 151.44L234.76 144.95L234.80 144.06L234.85 143.08L234.90 145.12L234.94 148.76L234.99 144.79L235.04 146.63L235.08 140.95L235.13 153.96L235.18 142.27L235.22 144.21L235.32 146.65L235.36 148.17L235.46 151.84L235.50 141.44L235.60 144.44L235.64 145.28L235.69 153.29L235.74 147.20L235.78 145.96L235.83 143.23L235.88 149.68L235.92 145.52L235.97 147.06L236.02 146.23L236.06 148.87L236.11 145.26L236.16 146.06L236.20 153.05L236.30 141.14L236.34 149.19L236.39 143.22L236.44 149.55L236.48 147.98L236.53 141.92L236.57 145.69L236.62 142.40L236.67 145.41L236.71 143.53L236.76 146.78L236.85 141.85L236.90 144.35L236.95 148.06L236.99 147.40L237.04 149.37L237.09 144.53L237.13 144.75L237.18 148.49L237.23 143.72L237.27 148.07L237.32 141.76L237.37 143.95L237.41 142.21L237.46 148.52L237.55 152.74L237.60 144.39L237.65 149.98L237.69 142.72L237.74 145.77L237.79 144.08L237.83 150.56L237.88 148.08L237.93 145.65L237.97 144.14L238.02 150.57L238.07 145.19L238.11 148.88L238.16 143.95L238.21 146.88L238.25 147.10L238.30 144.93L238.35 143.12L238.39 146.92L238.44 142.96L238.49 149.48L238.53 145.35L238.58 149.92L238.63 145.55L238.67 149.17L238.72 146.07L238.77 144.43L238.86 152.38L238.91 146.71L238.95 144.70L239.00 145.50L239.04 149.16L239.09 143.89L239.14 147.08L239.18 144.07L239.23 149.07L239.28 144.92L239.32 143.08L239.37 148.31L239.42 147.09L239.46 144.45L239.56 145.16L239.60 146.57L239.65 151.63L239.70 146.21L239.74 150.58L239.79 145.95L239.84 154.89L239.88 142.53L239.93 141.61L239.98 144.93L240.02 148.97L240.12 143.79L240.16 144.37L240.21 148.45L240.26 143.06L240.30 144.20L240.40 147.31L240.44 146.22L240.49 148.50L240.54 145.66L240.58 148.33L240.63 143.13L240.68 146.10L240.72 145.60L240.77 145.26L240.82 145.29L240.86 151.10L240.91 142.89L240.96 145.93L241.00 147.96L241.05 149.41L241.10 148.41L241.14 148.17L241.19 146.19L241.24 149.03L241.28 145.90L241.33 145.80L241.37 148.44L241.42 141.10L241.47 146.59L241.51 145.26L241.56 145.91L241.61 146.72L241.65 144.36L241.70 142.69L241.79 149.04L241.84 144.70L241.89 154.11L241.93 145.79L241.98 146.83L242.03 145.32L242.07 151.48L242.12 147.64L242.17 149.67L242.21 147.98L242.26 144.62L242.35 148.20L242.40 143.17L242.49 153.64L242.54 149.78L242.63 145.07L242.68 145.68L242.73 145.58L242.77 149.30L242.82 146.64L242.87 150.37L242.91 149.10L242.96 149.37L243.05 147.46L243.10 147.10L243.15 149.02L243.19 143.50L243.24 147.86L243.29 142.49L243.33 143.70L243.38 150.54L243.43 144.00L243.47 151.27L243.52 142.71L243.61 149.77L243.66 154.56L243.70 147.75L243.75 151.15L243.80 143.54L243.84 150.75L243.89 147.23L243.94 145.10L243.98 146.49L244.03 145.76L244.08 147.31L244.12 144.50L244.17 149.64L244.22 144.91L244.26 150.65L244.31 146.02L244.36 150.41L244.45 144.88L244.50 143.26L244.54 153.03L244.59 149.09L244.64 149.83L244.68 143.32L244.73 149.44L244.78 144.58L244.87 151.61L244.92 146.25L244.96 150.45L245.01 144.52L245.06 144.27L245.10 143.06L245.15 150.00L245.20 142.53L245.29 153.04L245.34 141.30L245.43 150.09L245.48 145.62L245.52 151.24L245.57 147.01L245.62 146.04L245.66 144.82L245.71 149.32L245.76 146.68L245.80 149.71L245.85 145.47L245.89 144.70L245.94 146.38L245.99 143.48L246.03 144.46L246.08 145.50L246.13 143.45L246.17 150.87L246.22 146.71L246.27 152.97L246.31 146.65L246.36 148.10L246.41 144.27L246.45 148.01L246.50 148.68L246.55 146.89L246.59 147.01L246.64 145.10L246.69 149.50L246.73 151.87L246.78 152.23L246.83 143.47L246.87 150.94L246.92 148.08L246.97 150.35L247.01 144.13L247.06 148.42L247.11 143.28L247.15 148.90L247.25 144.44L247.29 143.91L247.34 150.67L247.39 147.75L247.43 146.83L247.48 153.20L247.53 144.55L247.57 145.43L247.62 145.10L247.67 151.44L247.71 146.02L247.81 143.74L247.85 148.26L247.95 141.72L247.99 147.96L248.09 147.59L248.13 151.81L248.22 142.39L248.27 149.67L248.36 143.33L248.41 144.93L248.50 147.62L248.55 146.92L248.64 144.60L248.69 146.32L248.74 143.95L248.78 153.31L248.83 144.25L248.88 148.25L248.92 146.51L248.97 147.90L249.02 144.71L249.06 146.91L249.11 144.75L249.16 149.20L249.20 145.98L249.25 143.25L249.34 147.67L249.39 146.11L249.44 147.71L249.48 146.91L249.53 146.49L249.58 143.28L249.62 144.86L249.67 142.73L249.72 142.56L249.76 150.88L249.81 145.62L249.90 152.25L249.95 150.18L250.04 142.27L250.09 146.27L250.14 147.11L250.18 146.62L250.23 148.98L250.28 146.01L250.32 146.81L250.37 152.29L250.46 139.69L250.51 144.72L250.56 146.82L250.60 144.63L250.65 149.76L250.74 144.08L250.79 152.17L250.88 147.78L250.93 147.40L250.97 148.15L251.02 145.71L251.07 143.73L251.11 145.50L251.16 143.72L251.21 143.67L251.25 148.43L251.30 145.71L251.35 147.69L251.39 144.65L251.44 147.60L251.49 147.08L251.53 142.23L251.58 147.05L251.63 151.95L251.72 145.63L251.77 148.11L251.86 143.73L251.91 148.15L251.95 147.08L252.00 148.79L252.05 145.53L252.14 149.54L252.19 146.97L252.23 141.96L252.28 152.50L252.33 151.23L252.37 145.51L252.42 151.24L252.47 141.73L252.51 151.64L252.56 150.92L252.61 148.11L252.65 143.58L252.70 144.26L252.75 144.86L252.79 145.61L252.84 143.06L252.88 152.94L252.98 142.78L253.02 150.03L253.12 143.24L253.16 143.17L253.21 146.89L253.26 141.90L253.30 145.03L253.35 143.59L253.40 150.04L253.44 148.92L253.49 148.93L253.54 142.08L253.58 155.09L253.68 144.26L253.72 146.04L253.77 157.95L253.82 147.71L253.86 147.42L253.91 143.27L253.96 153.30L254.00 148.15L254.05 143.60L254.10 144.35L254.14 149.48L254.19 147.35L254.24 151.54L254.28 142.92L254.33 147.81L254.38 143.12L254.42 144.25L254.47 149.35L254.52 146.90L254.56 144.64L254.61 145.19L254.66 142.57L254.70 143.47L254.75 145.51L254.80 144.52L254.84 148.72L254.94 144.75L254.98 145.47L255.03 150.11L255.08 146.68L255.12 149.01L255.22 143.06L255.26 149.52L255.35 144.84L255.40 146.21L255.45 145.94L255.49 151.34L255.54 146.51L255.63 149.03L255.68 148.19L255.77 144.12L255.82 141.84L255.87 146.09L255.91 142.64L255.96 146.08L256.01 151.46L256.05 146.23L256.10 143.07L256.15 142.81L256.19 149.25L256.24 141.20L256.29 148.75L256.33 148.73L256.38 148.03L256.43 142.70L256.47 145.25L256.52 143.93L256.57 154.42L256.61 146.55L256.66 146.73L256.71 144.46L256.75 147.84L256.80 143.25L256.89 151.08L256.94 152.03L256.99 143.09L257.03 144.29L257.08 148.87L257.13 143.45L257.17 146.89L257.22 146.73L257.27 151.32L257.31 148.08L257.36 146.05L257.41 145.77L257.45 148.12L257.50 143.70L257.55 142.69L257.59 148.95L257.64 145.22L257.68 151.55L257.73 145.18L257.78 149.48L257.87 145.85L257.92 147.09L257.96 143.57L258.01 148.82L258.06 147.79L258.10 145.41L258.15 146.45L258.20 145.61L258.29 148.91L258.34 144.51L258.38 146.11L258.43 143.91L258.48 142.91L258.57 148.68L258.62 147.73L258.71 153.34L258.76 142.26L258.80 145.17L258.85 141.01L258.90 148.07L258.94 144.68L258.99 145.54L259.04 146.53L259.08 143.71L259.13 146.31L259.18 146.55L259.22 145.85L259.27 154.34L259.32 148.58L259.36 148.64L259.41 142.24L259.46 144.69L259.50 144.18L259.55 144.58L259.60 146.89L259.64 142.23L259.69 146.93L259.74 151.05L259.83 143.24L259.88 146.00L259.97 143.75L260.01 142.47L260.06 144.68L260.11 142.17L260.15 145.47L260.20 141.39L260.25 150.89L260.29 143.77L260.39 145.95L260.43 150.53L260.48 143.47L260.53 146.88L260.57 149.49L260.67 146.99L260.71 145.99L260.81 149.24L260.85 145.12L260.90 146.50L260.95 141.62L260.99 147.58L261.09 142.04L261.13 146.89L261.18 143.67L261.23 145.42L261.27 146.13L261.32 142.31L261.37 149.48L261.41 148.16L261.46 152.38L261.51 146.64L261.55 143.67L261.60 147.05L261.65 144.07L261.69 148.68L261.74 143.30L261.79 146.62L261.83 147.75L261.88 142.24L261.93 146.32L261.97 144.70L262.02 145.94L262.07 144.36L262.11 145.93L262.16 150.22L262.20 145.48L262.25 144.95L262.34 146.97L262.39 141.90L262.44 148.57L262.48 145.93L262.53 145.68L262.62 150.18L262.67 144.46L262.72 144.43L262.76 145.88L262.81 151.72L262.90 145.60L262.95 144.57L263.00 143.20L263.04 145.01L263.09 143.72L263.14 142.20L263.18 154.68L263.23 143.66L263.28 147.62L263.32 144.94L263.37 145.68L263.42 149.58L263.46 149.16L263.51 145.06L263.56 146.82L263.60 144.29L263.65 147.46L263.70 141.31L263.74 147.05L263.79 141.43L263.84 148.68L263.88 144.74L263.93 143.35L263.98 150.62L264.02 149.39L264.07 145.15L264.16 142.82L264.21 144.75L264.26 143.53L264.30 150.08L264.35 147.58L264.40 142.65L264.44 148.00L264.49 147.01L264.53 152.24L264.58 146.86L264.63 151.67L264.72 142.60L264.77 145.40L264.86 147.51L264.91 144.77L264.95 149.90L265.00 147.71L265.05 141.29L265.09 150.61L265.14 148.05L265.19 150.95L265.23 143.12L265.28 147.01L265.33 150.50L265.42 143.41L265.47 144.46L265.51 144.15L265.56 146.50L265.61 143.91L265.65 142.95L265.70 144.49L265.75 151.75L265.79 153.21L265.84 151.23L265.89 145.56L265.93 151.37L265.98 149.85L266.03 146.24L266.12 150.58L266.17 143.79L266.21 144.97L266.26 144.21L266.31 143.89L266.35 142.71L266.40 146.49L266.45 146.94L266.49 152.44L266.54 147.12L266.59 148.26L266.63 143.61L266.68 144.54L266.73 142.66L266.77 143.51L266.82 143.29L266.87 144.92L266.96 147.58L267.00 146.46L267.05 149.49L267.10 145.30L267.14 146.67L267.24 156.51L267.28 148.74L267.38 147.35L267.42 143.07L267.52 150.66L267.56 145.35L267.66 142.33L267.70 149.74L267.75 147.21L267.80 147.76L267.84 142.62L267.94 146.38L267.98 144.45L268.03 147.54L268.08 147.06L268.12 146.55L268.17 148.01L268.22 147.22L268.26 145.44L268.31 145.76L268.36 142.68L268.40 144.11L268.50 154.32L268.54 151.48L268.64 147.65L268.68 150.84L268.78 146.14L268.82 148.47L268.92 146.76L268.96 148.71L269.01 149.26L269.06 146.88L269.10 145.72L269.19 153.73L269.24 149.59L269.29 145.07L269.33 152.03L269.38 144.00L269.43 148.34L269.47 146.14L269.52 148.97L269.57 144.88L269.61 146.37L269.66 145.46L269.71 153.35L269.75 144.52L269.80 152.30L269.89 145.06L269.94 147.10L269.99 145.11L270.03 146.03L270.08 146.26L270.13 149.11L270.17 143.83L270.22 143.55L270.31 149.40L270.36 145.93L270.41 148.92L270.50 144.30L270.55 144.69L270.59 142.77L270.64 145.22L270.69 149.91L270.78 145.03L270.83 141.91L270.92 149.46L270.97 142.95L271.01 146.90L271.06 144.61L271.11 143.67L271.15 149.70L271.20 147.62L271.25 148.25L271.34 144.72L271.39 148.06L271.43 144.97L271.48 152.67L271.52 145.53L271.62 146.52L271.66 151.38L271.71 146.83L271.76 150.00L271.80 142.85L271.85 147.40L271.90 147.15L271.94 146.86L271.99 145.03L272.04 146.31L272.08 145.04L272.13 149.49L272.18 143.63L272.22 148.04L272.27 144.47L272.32 145.85L272.36 143.70L272.46 151.44L272.50 150.26L272.60 143.00L272.64 147.81L272.74 143.29L272.78 148.26L272.83 145.66L272.88 145.72L272.92 148.38L273.02 143.76L273.06 143.76L273.11 147.54L273.16 140.32L273.20 145.54L273.30 148.78L273.34 149.67L273.39 144.31L273.44 157.22L273.48 146.98L273.53 151.06L273.58 147.03L273.62 146.62L273.67 150.81L273.72 149.67L273.76 143.25L273.81 148.22L273.86 146.54L273.90 147.47L273.99 143.36L274.04 144.07L274.09 144.99L274.13 144.96L274.18 150.37L274.23 143.16L274.27 148.24L274.32 149.33L274.37 147.66L274.41 149.01L274.46 145.36L274.55 143.22L274.60 146.80L274.65 148.35L274.69 147.35L274.74 150.32L274.83 141.76L274.88 148.93L274.97 144.78L275.02 145.79L275.07 144.43L275.11 149.26L275.16 149.94L275.21 143.13L275.25 148.62L275.30 146.80L275.35 145.90L275.39 152.84L275.44 147.08L275.49 148.53L275.53 145.06L275.58 147.45L275.63 154.47L275.67 144.38L275.72 155.76L275.77 147.76L275.81 148.67L275.86 148.40L275.95 143.98L276.00 149.27L276.09 144.49L276.14 145.10L276.19 144.56L276.23 145.57L276.28 147.24L276.32 148.01L276.37 147.96L276.42 144.08L276.51 141.78L276.56 149.84L276.65 146.49L276.70 146.99L276.74 150.15L276.79 141.42L276.84 142.71L276.93 147.89L276.98 146.53L277.02 150.44L277.07 147.52L277.12 144.40L277.16 142.40L277.21 144.11L277.26 143.16L277.35 158.87L277.40 142.98L277.49 146.74L277.54 142.36L277.58 149.57L277.63 149.55L277.68 148.83L277.72 142.46L277.77 143.96L277.82 152.61L277.86 142.38L277.91 146.45L277.96 145.29L278.00 148.93L278.05 141.94L278.10 145.25L278.14 143.09L278.19 149.70L278.24 144.57L278.33 147.17L278.38 149.07L278.42 148.69L278.47 150.32L278.51 148.57L278.61 144.86L278.65 151.77L278.75 148.40L278.79 152.07L278.89 147.29L278.93 147.06L279.03 143.95L279.07 144.30L279.12 145.68L279.17 144.84L279.21 149.02L279.26 149.52L279.31 144.69L279.35 144.90L279.40 141.34L279.45 147.17L279.49 149.68L279.54 145.65L279.59 147.87L279.63 149.34L279.73 141.82L279.77 145.42L279.82 148.54L279.87 145.74L279.91 146.64L279.96 151.13L280.01 144.20L280.05 145.49L280.10 143.20L280.15 148.21L280.19 146.52L280.29 152.41L280.33 140.80L280.38 153.89L280.43 150.23L280.47 147.56L280.52 151.78L280.57 145.27L280.61 147.90L280.71 145.78L280.75 146.23L280.80 146.16L280.85 146.90L280.89 145.23L280.94 144.23L280.98 147.22L281.03 147.82L281.12 145.55L281.17 147.56L281.26 151.54L281.31 141.76L281.36 150.51L281.40 142.24L281.45 144.23L281.50 143.67L281.54 145.66L281.59 145.02L281.64 145.57L281.68 144.75L281.73 144.11L281.78 142.53L281.82 149.61L281.87 145.01L281.92 142.33L281.96 142.80L282.01 149.72L282.06 145.48L282.10 145.57L282.15 145.65L282.20 154.50L282.24 144.01L282.29 151.88L282.34 141.22L282.38 144.52L282.43 146.64L282.48 144.58L282.52 145.92L282.57 148.00L282.66 145.34L282.71 148.91L282.80 143.37L282.85 143.46L282.94 142.94L282.99 144.36L283.04 142.91L283.08 146.13L283.13 145.14L283.22 141.62L283.27 147.38L283.31 151.23L283.36 141.24L283.41 143.24L283.45 141.82L283.50 143.83L283.55 145.59L283.64 149.42L283.69 142.57L283.78 145.36L283.83 149.96L283.87 147.92L283.92 148.24L283.97 147.21L284.01 157.30L284.06 145.62L284.11 142.32L284.15 147.99L284.20 146.20L284.25 145.48L284.29 149.55L284.34 145.04L284.39 148.90L284.48 145.54L284.53 146.44L284.57 145.99L284.62 149.27L284.67 144.25L284.71 149.86L284.76 143.95L284.81 147.78L284.85 150.24L284.90 146.54L284.95 149.76L285.04 146.73L285.09 144.10L285.13 144.07L285.18 144.90L285.23 147.14L285.27 151.52L285.32 146.95L285.37 147.26L285.41 146.66L285.46 147.93L285.50 147.92L285.55 144.04L285.60 150.79L285.64 146.24L285.69 142.95L285.74 148.75L285.78 149.51L285.83 146.95L285.88 147.33L285.92 145.50L285.97 142.74L286.02 146.65L286.06 144.68L286.11 148.10L286.16 147.80L286.20 145.41L286.25 148.41L286.30 143.08L286.34 147.53L286.39 146.76L286.44 149.71L286.48 147.63L286.53 149.57L286.58 147.80L286.62 152.53L286.72 141.91L286.76 152.95L286.81 141.93L286.86 146.63L286.90 143.83L286.95 149.60L287.00 141.37L287.04 149.86L287.14 142.29L287.18 150.60L287.23 154.93L287.28 146.49L287.32 148.76L287.37 149.49L287.42 149.28L287.46 151.34L287.51 142.62L287.56 143.02L287.60 150.96L287.65 146.60L287.70 147.73L287.74 143.29L287.79 149.02L287.83 142.14L287.88 146.26L287.93 148.85L287.97 146.55L288.02 148.15L288.07 140.95L288.11 145.83L288.16 147.81L288.25 142.44L288.30 149.48L288.35 152.26L288.39 142.80L288.44 144.52L288.49 147.71L288.53 146.52L288.58 143.27L288.63 156.83L288.67 142.88L288.72 146.83L288.77 144.35L288.81 146.44L288.86 139.73L288.91 148.29L288.95 143.28L289.00 156.32L289.09 144.06L289.14 151.75L289.19 153.76L289.23 145.99L289.28 143.49L289.33 143.08L289.37 148.53L289.42 145.26L289.47 151.23L289.51 141.86L289.56 148.15L289.61 142.87L289.65 147.14L289.70 147.33L289.75 142.11L289.79 149.20L289.84 142.82L289.93 149.23L289.98 149.08L290.03 143.21L290.07 146.54L290.12 147.42L290.17 151.63L290.21 143.10L290.26 143.40L290.30 145.33L290.35 144.08L290.40 159.56L290.49 145.80L290.54 145.97L290.58 148.15L290.63 145.58L290.68 148.71L290.72 148.45L290.77 150.62L290.82 145.88L290.86 148.68L290.91 147.93L290.96 142.61L291.00 146.43L291.05 146.41L291.10 151.76L291.19 143.56L291.24 144.68L291.33 146.85L291.38 146.09L291.42 145.11L291.47 147.33L291.52 155.88L291.56 141.41L291.61 143.18L291.66 146.78L291.70 142.55L291.75 150.85L291.80 142.82L291.84 145.71L291.89 143.79L291.94 147.39L292.03 144.59L292.08 143.39L292.17 144.98L292.22 148.23L292.26 141.89L292.31 145.66L292.36 147.00L292.45 150.45L292.50 148.74L292.54 151.71L292.59 145.67L292.63 146.54L292.68 145.62L292.73 150.63L292.77 147.64L292.82 148.39L292.87 143.53L292.91 151.58L292.96 151.69L293.01 142.83L293.05 145.21L293.10 151.89L293.15 142.68L293.19 142.36L293.29 153.97L293.33 145.92L293.38 149.19L293.43 147.13L293.47 151.94L293.52 141.85L293.57 148.57L293.61 145.45L293.66 144.00L293.71 144.50L293.75 145.06L293.80 147.54L293.85 145.61L293.89 146.98L293.94 154.90L293.99 143.50L294.03 148.34L294.13 147.61L294.17 151.17L294.22 150.48L294.27 152.86L294.31 144.90L294.36 143.06L294.41 146.05L294.45 150.23L294.50 142.77L294.55 147.30L294.59 151.99L294.64 153.20L294.69 145.73L294.73 142.46L294.82 148.37L294.87 147.15L294.92 149.13L294.96 148.07L295.01 145.52L295.06 148.68L295.10 143.67L295.15 149.60L295.20 144.25L295.24 145.25L295.29 147.52L295.34 147.23L295.38 147.32L295.43 141.96L295.48 148.99L295.52 143.04L295.57 143.48L295.62 147.36L295.66 142.09L295.71 155.39L295.76 145.54L295.80 145.89L295.85 146.22L295.90 143.91L295.94 147.57L295.99 146.87L296.04 143.13L296.08 146.64L296.13 149.81L296.18 144.62L296.22 146.54L296.27 148.12L296.32 144.67L296.36 148.85L296.41 149.61L296.50 146.88L296.55 146.12L296.60 150.45L296.64 141.87L296.69 144.33L296.74 145.84L296.78 145.58L296.83 155.95L296.88 143.68L296.92 149.76L296.97 144.80L297.02 150.41L297.06 143.53L297.11 148.02L297.20 142.27L297.25 143.52L297.29 151.11L297.34 148.58L297.39 145.69L297.43 147.01L297.48 143.98L297.53 148.53L297.57 153.16L297.62 149.35L297.67 146.85L297.76 144.14L297.81 142.90L297.90 146.91L297.95 144.17L298.04 147.79L298.09 147.78L298.18 142.36L298.23 142.73L298.27 152.00L298.32 143.26L298.37 150.12L298.46 144.56L298.51 150.94L298.60 148.76L298.65 141.92L298.74 149.29L298.79 145.84L298.83 145.85L298.88 145.33L298.93 148.62L298.97 142.45L299.02 147.48L299.07 143.93L299.11 152.34L299.16 145.10L299.21 145.82L299.25 142.63L299.30 156.37L299.35 144.64L299.39 143.95L299.44 147.10L299.49 142.72L299.53 141.12L299.58 143.77L299.62 143.95L299.67 142.64L299.72 144.95L299.76 142.92L299.86 148.51L299.90 149.84L299.95 143.04L300.00 144.51L300.04 148.46L300.14 142.38L300.18 152.46L300.28 144.24L300.32 143.91L300.37 150.29L300.42 149.63L300.46 145.74L300.51 142.51L300.56 146.21L300.60 155.09L300.65 143.39L300.70 146.31L300.74 147.73L300.79 150.25L300.84 142.99L300.88 145.44L300.93 145.04L300.98 145.19L301.02 144.95L301.12 141.85L301.16 149.88L301.21 146.47L301.26 147.70L301.30 141.91L301.40 152.03L301.44 146.32L301.54 148.70L301.58 147.68L301.68 153.38L301.72 141.38L301.81 149.40L301.86 144.43L301.91 142.66L301.95 152.59L302.00 147.68L302.05 145.39L302.09 149.07L302.14 144.90L302.19 150.54L302.23 148.43L302.28 146.62L302.33 144.97L302.37 146.11L302.42 148.49L302.47 147.42L302.51 154.17L302.56 141.04L302.61 147.55L302.65 147.17L302.70 145.44L302.75 144.57L302.79 145.21L302.84 148.48L302.89 152.22L302.93 146.78L302.98 148.90L303.12 145.51L303.17 142.75L303.26 152.51L303.31 144.53L303.35 143.63L303.40 152.17L303.45 144.47L303.54 148.01L303.59 145.72L303.68 144.51L303.73 143.09L303.77 146.28L303.82 146.26L303.87 140.56L303.91 149.90L303.96 147.11L304.01 147.37L304.10 143.18L304.14 150.87L304.19 142.89L304.24 150.35L304.28 140.26L304.33 148.45L304.38 143.19L304.42 147.08L304.47 144.19L304.52 148.72L304.56 145.82L304.61 146.16L304.66 145.94L304.70 143.96L304.75 147.65L304.80 147.26L304.84 150.84L304.89 146.66L304.94 147.82L304.98 143.73L305.08 148.63L305.12 144.91L305.17 142.69L305.22 146.89L305.26 150.28L305.31 140.47L305.36 144.60L305.40 144.19L305.45 140.41L305.50 148.89L305.54 145.30L305.59 153.20L305.64 144.77L305.68 145.04L305.78 149.08L305.82 146.77L305.87 146.95L305.92 142.09L305.96 146.99L306.01 146.71L306.06 146.77L306.10 151.96L306.15 147.80L306.20 150.97L306.24 145.83L306.29 154.50L306.34 150.09L306.38 145.45L306.43 154.09L306.48 151.79L306.52 143.44L306.57 150.89L306.61 146.24L306.66 145.29L306.75 152.33L306.80 142.21L306.85 148.04L306.89 144.70L306.94 148.75L306.99 145.13L307.03 150.82L307.08 151.06L307.17 148.28L307.22 148.28L307.31 144.93L307.36 147.96L307.41 143.59L307.45 148.40L307.50 144.30L307.59 141.76L307.64 153.59L307.69 141.79L307.73 152.64L307.78 142.44L307.83 146.25L307.87 145.16L307.92 149.41L307.97 143.58L308.01 144.23L308.06 148.01L308.11 148.23L308.15 143.78L308.20 143.34L308.29 147.43L308.34 146.19L308.39 143.57L308.43 143.82L308.48 143.10L308.57 148.53L308.62 145.33L308.67 144.86L308.71 147.93L308.76 144.87L308.81 149.00L308.85 145.42L308.90 148.18L308.94 141.03L308.99 142.95L309.04 145.40L309.08 150.79L309.13 150.46L309.18 144.18L309.22 146.67L309.27 145.27L309.32 151.83L309.41 145.84L309.46 146.85L309.50 150.86L309.55 148.86L309.60 143.95L309.64 147.59L309.69 144.51L309.74 141.92L309.83 145.80L309.88 148.14L309.92 142.88L309.97 151.30L310.02 149.96L310.06 146.24L310.11 151.42L310.16 143.45L310.20 148.24L310.25 144.64L310.30 147.17L310.39 146.14L310.44 153.45L310.53 147.72L310.58 140.84L310.67 144.11L310.72 149.73L310.81 142.81L310.86 144.03L310.90 140.19L310.95 150.91L311.00 149.87L311.04 147.02L311.09 149.49L311.13 146.02L311.18 144.66L311.23 146.22L311.27 145.87L311.37 143.97L311.41 148.36L311.46 148.39L311.51 142.93L311.55 147.27L311.60 148.97L311.65 145.33L311.69 147.31L311.74 145.82L311.79 146.38L311.83 144.35L311.88 143.61L311.93 148.96L311.97 150.40L312.02 142.03L312.07 148.45L312.11 151.73L312.16 153.17L312.21 146.30L312.25 148.31L312.30 152.89L312.35 149.40L312.39 149.81L312.44 143.41L312.49 145.48L312.53 146.23L312.58 150.63L312.63 146.76L312.67 144.28L312.72 145.71L312.77 143.27L312.81 145.96L312.86 144.20L312.91 144.84L312.95 148.05L313.00 142.61L313.05 145.11L313.09 143.85L313.19 149.92L313.23 146.76L313.28 148.89L313.33 144.39L313.37 144.98L313.42 142.86L313.47 144.48L313.51 150.09L313.56 143.53L313.60 148.34L313.65 148.63L313.70 146.00L313.74 146.22L313.79 143.31L313.84 139.90L313.88 144.93L313.93 142.34L313.98 146.86L314.02 145.18L314.07 147.87L314.16 142.59L314.21 144.85L314.30 148.86L314.35 141.80L314.44 148.33L314.49 146.25L314.58 144.04L314.63 142.30L314.68 149.81L314.72 147.57L314.77 142.11L314.82 140.74L314.86 148.25L314.91 146.48L314.96 151.69L315.00 148.93L315.05 149.15L315.10 146.50L315.14 150.29L315.19 143.57L315.28 146.98L315.33 143.59L315.42 150.48L315.47 146.09L315.52 140.91L315.56 145.87L315.61 144.64L315.70 146.86L315.75 144.69L315.79 156.49L315.84 150.47L315.89 148.11L315.98 142.33L316.03 140.44L316.12 144.99L316.17 144.20L316.21 142.21L316.26 149.50L316.31 147.76L316.40 145.27L316.45 153.13L316.49 144.89L316.54 151.85L316.59 143.98L316.63 143.77L316.68 154.72L316.73 144.69L316.82 148.19L316.87 143.50L316.91 141.21L316.96 144.71L317.01 149.91L317.05 151.25L317.10 150.19L317.15 149.62L317.19 143.08L317.24 145.30L317.29 146.25L317.33 143.70L317.38 146.11L317.43 146.06L317.47 148.98L317.52 148.21L317.57 146.07L317.61 150.19L317.66 141.88L317.71 145.79L317.75 147.95L317.80 143.44L317.85 149.77L317.89 143.24L317.94 145.90L317.99 141.44L318.03 147.95L318.08 147.44L318.12 148.99L318.17 150.49L318.22 145.41L318.26 149.77L318.31 145.21L318.36 148.26L318.40 143.25L318.45 156.04L318.50 144.93L318.54 146.02L318.64 148.24L318.68 141.70L318.73 147.48L318.78 144.91L318.82 147.00L318.87 147.32L318.92 145.90L318.96 144.22L319.01 149.99L319.06 147.69L319.10 151.12L319.15 144.98L319.20 149.02L319.24 148.64L319.29 144.29L319.34 146.20L319.38 144.97L319.43 146.61L319.48 144.95L319.52 145.90L319.57 149.99L319.62 145.52L319.66 147.27L319.76 145.33L319.80 147.96L319.85 149.79L319.90 142.94L319.94 141.52L319.99 147.27L320.04 143.02L320.08 145.02L320.18 148.96L320.22 147.05L320.27 147.55L320.32 147.22L320.36 146.55L320.41 150.05L320.46 143.72L320.50 150.05L320.59 143.57L320.64 143.99L320.69 142.31L320.73 145.74L320.78 148.28L320.83 143.02L320.87 146.46L320.92 146.55L320.97 149.00L321.01 144.96L321.06 155.19L321.11 144.62L321.15 153.58L321.20 143.69L321.25 151.72L321.29 144.19L321.34 140.39L321.43 150.18L321.48 141.30L321.57 149.98L321.62 142.75L321.67 157.45L321.71 151.42L321.76 150.76L321.81 148.45L321.85 153.68L321.90 143.81L321.95 143.31L321.99 146.33L322.04 147.49L322.09 151.75L322.13 144.77L322.18 148.47L322.27 143.31L322.32 146.01L322.37 154.08L322.41 149.32L322.46 142.49L322.51 145.32L322.55 142.37L322.60 154.61L322.65 146.50L322.69 146.70L322.74 151.99L322.83 143.41L322.88 144.55L322.92 147.89L322.97 145.16L323.02 142.88L323.06 149.84L323.11 145.26L323.16 143.24L323.20 148.42L323.25 142.62L323.30 146.42L323.34 143.08L323.39 143.54L323.44 145.33L323.53 148.29L323.58 145.61L323.67 142.39L323.72 146.40L323.81 141.78L323.86 145.15L323.95 141.94L324.00 145.84L324.09 143.96L324.14 146.49L324.23 151.31L324.28 146.76L324.32 143.03L324.37 143.34L324.42 141.89L324.51 148.26L324.56 151.28L324.65 146.96L324.70 148.59L324.74 143.52L324.79 148.76L324.84 144.42L324.88 143.88L324.93 152.44L324.98 147.48L325.02 142.71L325.07 143.72L325.12 145.74L325.16 149.92L325.21 148.44L325.25 145.85L325.30 142.70L325.35 144.66L325.39 146.39L325.49 143.89L325.53 152.49L325.63 146.02L325.67 142.82L325.77 148.72L325.81 146.04L325.86 148.58L325.91 147.37L325.95 145.67L326.05 147.94L326.09 150.14L326.14 151.80L326.19 146.72L326.23 145.53L326.28 144.32L326.33 148.85L326.37 148.52L326.42 142.70L326.47 144.88L326.51 143.62L326.61 148.49L326.65 150.09L326.70 143.35L326.75 150.03L326.79 152.39L326.89 142.69L326.93 146.03L326.98 145.41L327.03 145.76L327.07 146.26L327.17 151.06L327.21 141.82L327.26 146.59L327.31 142.82L327.35 151.70L327.40 144.53L327.44 150.19L327.49 150.62L327.58 143.25L327.63 142.46L327.72 146.97L327.77 143.87L327.82 148.07L327.86 147.87L327.91 145.38L327.96 146.48L328.00 143.71L328.05 152.80L328.10 142.99L328.14 148.01L328.19 142.21L328.28 150.07L328.33 146.26L328.38 144.15L328.42 148.74L328.47 148.56L328.56 143.97L328.61 143.55L328.66 147.46L328.70 143.75L328.75 142.21L328.84 148.52L328.89 148.91L328.98 143.76L329.03 144.82L329.12 149.21L329.17 142.67L329.22 146.55L329.26 141.40L329.31 150.02L329.36 147.13L329.40 148.18L329.45 141.44L329.54 147.67L329.59 153.14L329.64 142.93L329.68 145.67L329.73 149.93L329.77 151.38L329.82 144.88L329.87 146.71L329.96 144.90L330.01 147.24L330.10 144.17L330.15 146.40L330.19 146.93L330.24 144.22L330.29 153.32L330.33 142.71L330.38 144.75L330.43 148.58L330.52 142.74L330.57 144.44L330.61 152.47L330.66 149.48L330.71 145.49L330.75 141.54L330.80 143.88L330.85 146.66L330.89 144.37L330.94 145.99L330.99 146.99L331.03 144.91L331.08 153.98L331.13 143.25L331.22 147.44L331.27 148.87L331.31 150.17L331.36 145.22L331.41 145.58L331.50 141.67L331.55 154.24L331.59 148.39L331.64 148.58L331.69 143.40L331.78 149.18L331.83 145.40L331.92 141.88L331.97 145.26L332.06 147.64L332.11 148.71L332.20 143.72L332.24 146.73L332.34 142.37L332.38 145.71L332.43 144.57L332.48 149.70L332.52 147.98L332.57 153.94L332.62 150.77L332.66 144.93L332.71 142.67L332.76 146.85L332.80 150.10L332.90 142.91L332.94 146.52L332.99 143.46L333.04 146.21L333.08 150.24L333.18 146.81L333.22 140.61L333.32 146.76L333.36 145.15L333.46 147.42L333.50 146.33L333.55 146.81L333.60 143.90L333.64 141.97L333.74 147.01L333.78 144.40L333.88 149.71L333.92 145.77L333.97 144.25L334.02 146.20L334.06 143.68L334.11 143.68L334.16 143.86L334.20 146.48L334.25 150.72L334.30 141.47L334.34 147.52L334.39 143.92L334.44 144.58L334.48 147.09L334.53 141.42L334.57 144.07L334.62 146.04L334.71 149.24L334.76 150.35L334.81 144.35L334.85 147.40L334.90 147.44L334.95 144.53L334.99 147.09L335.04 144.13L335.09 148.07L335.13 147.66L335.18 143.44L335.23 148.21L335.27 144.24L335.32 144.52L335.41 151.87L335.46 150.51L335.51 149.69L335.55 150.42L335.60 143.58L335.69 150.24L335.74 147.62L335.79 146.29L335.83 151.92L335.88 144.26L335.93 143.95L335.97 147.92L336.02 143.73L336.07 151.46L336.16 146.50L336.21 145.78L336.25 142.89L336.30 147.03L336.35 149.38L336.39 145.35L336.44 145.53L336.49 144.69L336.53 147.04L336.58 145.48L336.63 147.83L336.67 144.37L336.72 148.14L336.76 147.99L336.81 142.85L336.86 148.48L336.90 145.98L336.95 144.36L337.00 146.99L337.04 143.49L337.09 147.86L337.14 143.20L337.18 151.45L337.28 145.79L337.32 142.26L337.37 141.87L337.42 148.82L337.46 146.08L337.56 153.87L337.60 143.95L337.65 147.17L337.70 142.39L337.74 145.17L337.84 148.23L337.88 146.57L337.93 144.67L337.98 147.55L338.02 139.82L338.12 149.82L338.16 145.74L338.21 142.90L338.26 144.74L338.30 147.02L338.40 148.57L338.44 150.00L338.54 145.21L338.58 147.80L338.63 141.83L338.68 144.88L338.72 147.39L338.82 142.17L338.86 152.02L338.96 139.99L339.00 143.24L339.05 148.97L339.10 145.61L339.14 146.71L339.19 139.84L339.23 148.16L339.28 146.83L339.37 150.91L339.42 159.25L339.51 144.49L339.56 147.35L339.65 143.86L339.70 144.00L339.75 152.00L339.79 142.07L339.84 143.59L339.93 145.95L339.98 145.98L340.03 147.71L340.07 144.75L340.12 143.42L340.17 147.81L340.21 143.69L340.26 147.45L340.31 144.28L340.35 146.42L340.40 143.58L340.45 141.22L340.49 145.30L340.54 147.54L340.63 144.19L340.68 147.55L340.73 143.28L340.77 145.09L340.82 143.46L340.91 149.15L340.96 148.39L341.01 144.80L341.05 148.53L341.10 143.99L341.15 153.48L341.19 148.12L341.24 146.47L341.29 152.51L341.33 147.93L341.38 151.18L341.43 146.17L341.47 146.71L341.52 143.86L341.61 151.70L341.66 147.70L341.70 145.56L341.75 145.67L341.80 145.45L341.84 142.69L341.89 147.07L341.94 146.60L341.98 148.73L342.03 147.85L342.08 143.10L342.17 155.94L342.22 142.71L342.26 153.18L342.31 147.24L342.36 143.27L342.40 145.55L342.45 144.33L342.50 143.52L342.59 150.23L342.64 144.85L342.73 155.03L342.78 146.84L342.82 144.36L342.87 145.57L342.92 145.90L342.96 141.56L343.01 145.12L343.06 143.40L343.10 144.96L343.15 141.74L343.20 147.08L343.29 141.39L343.34 147.09L343.38 143.07L343.43 150.58L343.48 144.98L343.52 143.84L343.57 148.64L343.62 152.32L343.66 145.76L343.71 146.93L343.75 145.35L343.85 143.58L343.89 141.89L343.99 151.23L344.03 143.99L344.13 145.45L344.17 141.84L344.27 147.00L344.31 144.53L344.36 151.49L344.41 143.25L344.45 145.69L344.50 141.61L344.55 143.93L344.59 144.77L344.69 149.85L344.73 146.10L344.83 143.16L344.87 144.60L344.92 143.89L344.97 143.91L345.01 147.52L345.06 144.95L345.11 146.51L345.15 150.09L345.20 151.08L345.25 143.54L345.29 142.12L345.39 148.61L345.43 141.97L345.48 141.85L345.53 148.29L345.57 144.42L345.62 141.54L345.67 145.54L345.71 142.66L345.76 147.80L345.81 146.87L345.85 143.39L345.90 146.32L345.95 145.43L345.99 145.53L346.04 149.21L346.09 141.98L346.13 146.22L346.22 147.21L346.27 145.61L346.32 148.87L346.36 143.42L346.41 146.87L346.46 143.61L346.50 148.68L346.55 149.19L346.64 145.13L346.69 150.32L346.74 143.48L346.78 146.84L346.83 143.35L346.88 147.01L346.92 143.56L346.97 149.23L347.02 149.49L347.06 144.13L347.11 147.57L347.16 142.96L347.20 148.06L347.25 144.36L347.34 151.99L347.39 142.11L347.44 146.47L347.48 143.17L347.53 145.30L347.58 151.89L347.62 144.68L347.67 142.91L347.76 141.68L347.81 144.69L347.86 146.14L347.90 145.62L347.95 149.76L348.00 143.77L348.04 143.80L348.09 144.81L348.14 148.35L348.18 144.01L348.23 147.59L348.28 142.53L348.32 147.78L348.37 147.52L348.41 146.84L348.46 149.28L348.51 148.79L348.55 146.72L348.60 155.11L348.65 140.98L348.74 144.98L348.79 148.75L348.83 145.28L348.88 145.87L348.93 145.56L348.97 151.00L349.02 146.21L349.07 152.66L349.11 146.47L349.16 148.79L349.21 147.81L349.30 143.52L349.35 142.60L349.44 149.49L349.49 142.01L349.53 150.73L349.58 147.63L349.63 146.53L349.67 148.27L349.72 142.34L349.77 144.69L349.81 142.94L349.86 146.80L349.91 143.45L349.95 146.34L350.00 146.32L350.05 144.98L350.14 144.23L350.19 146.54L350.23 151.13L350.28 146.88L350.33 156.23L350.37 146.78L350.42 148.56L350.47 143.58L350.51 156.38L350.56 140.98L350.61 146.97L350.65 151.52L350.70 144.65L350.75 144.47L350.79 144.64L350.84 140.67L350.88 148.64L350.93 145.02L350.98 145.44L351.02 148.11L351.12 142.52L351.16 148.71L351.26 143.12L351.30 144.02L351.35 151.55L351.40 145.05L351.44 147.12L351.49 142.60L351.54 146.28L351.58 141.05L351.63 150.12L351.68 144.43L351.72 148.80L351.77 141.42L351.82 141.83L351.86 148.97L351.91 143.75L351.96 146.01L352.00 151.65L352.10 145.58L352.14 144.39L352.19 147.07L352.24 145.01L352.28 144.95L352.38 149.93L352.42 145.47L352.47 144.34L352.52 151.12L352.56 141.89L352.66 145.39L352.70 140.81L352.80 149.04L352.84 147.90L352.89 148.22L352.94 141.26L352.98 145.73L353.03 146.05L353.07 144.80L353.12 141.78L353.21 147.07L353.26 145.06L353.31 142.50L353.35 146.50L353.40 142.16L353.49 146.42L353.54 144.43L353.59 141.01L353.63 146.63L353.68 142.23L353.77 145.39L353.82 145.71L353.87 143.56L353.91 144.10L353.96 144.77L354.01 143.98L354.05 148.71L354.10 147.98L354.15 149.21L354.19 146.94L354.24 146.51L354.29 147.02L354.33 144.32L354.38 149.01L354.47 143.44L354.52 141.58L354.57 145.69L354.61 142.63L354.66 142.25L354.71 149.26L354.75 145.13L354.80 149.37L354.89 144.66L354.94 150.19L354.99 144.32L355.03 146.28L355.08 146.61L355.13 144.31L355.17 148.56L355.22 151.86L355.27 145.77L355.31 148.20L355.36 146.47L355.40 149.56L355.45 148.97L355.50 149.30L355.54 150.24L355.59 148.54L355.64 148.43L355.73 139.25L355.78 147.86L355.82 151.45L355.87 144.21L355.92 150.07L356.01 146.95L356.06 145.75L356.15 145.16L356.20 146.24L356.24 142.89L356.29 143.55L356.34 147.62L356.38 146.55L356.43 150.55L356.48 144.01L356.52 146.53L356.57 141.19L356.62 148.09L356.66 141.97L356.71 148.93L356.76 151.83L356.85 144.89L356.90 143.12L356.94 148.78L356.99 143.24L357.04 147.56L357.13 146.84L357.18 141.70L357.22 145.36L357.27 145.00L357.32 151.15L357.41 145.08L357.46 141.74L357.50 148.76L357.55 148.19L357.60 148.93L357.69 144.00L357.74 148.51L357.78 142.52L357.83 145.81L357.87 148.92L357.92 148.01L357.97 150.63L358.01 150.93L358.06 142.81L358.11 143.47L358.15 149.18L358.25 141.81L358.29 148.28L358.39 144.46L358.43 146.54L358.48 146.51L358.53 146.99L358.57 145.57L358.62 151.39L358.67 145.79L358.71 145.39L358.76 150.48L358.81 144.62L358.85 149.02L358.90 155.94L358.95 152.94L358.99 145.65L359.04 144.33L359.09 147.30L359.13 150.99L359.23 143.41L359.27 146.09L359.32 151.07L359.37 144.60L359.41 146.58L359.51 145.77L359.55 144.34L359.65 149.16L359.69 146.30L359.79 142.78L359.83 150.13L359.88 146.39L359.93 148.85L359.97 145.16L360.06 158.14L360.11 143.33L360.20 149.64L360.25 151.22L360.30 149.55L360.34 150.41L360.39 146.41L360.44 145.53L360.48 146.20L360.53 144.91L360.58 148.70L360.62 144.23L360.67 146.28L360.76 144.20L360.81 147.12L360.86 142.64L360.90 143.72L360.95 147.25L361.00 141.52L361.04 141.71L361.09 151.32L361.14 154.28L361.18 147.95L361.23 144.60L361.28 143.36L361.32 144.06L361.37 145.98L361.42 143.28L361.46 143.92L361.51 147.32L361.60 143.04L361.65 147.99L361.70 147.95L361.74 148.67L361.79 142.12L361.84 144.02L361.88 143.57L361.93 147.09L362.02 142.67L362.07 146.78L362.12 142.74L362.16 145.97L362.21 145.98L362.30 143.52L362.35 141.50L362.39 146.98L362.44 141.63L362.49 148.37L362.58 154.12L362.63 143.56L362.67 142.06L362.72 149.93L362.77 146.90L362.81 146.69L362.86 151.29L362.91 145.68L362.95 145.01L363.00 147.47L363.05 149.27L363.14 144.18L363.19 150.74L363.28 144.28L363.33 156.65L363.42 141.55L363.47 150.24L363.51 142.43L363.56 146.79L363.61 144.15L363.70 149.70L363.75 151.90L363.79 140.33L363.84 150.43L363.89 146.70L363.93 142.15L363.98 144.97L364.03 145.34L364.07 153.14L364.12 147.84L364.17 150.40L364.21 152.22L364.26 144.80L364.31 143.55L364.35 148.36L364.40 147.94L364.45 144.61L364.49 143.42L364.54 149.37L364.59 142.72L364.68 145.84L364.73 149.57L364.82 143.90L364.86 141.44L364.91 147.77L364.96 141.79L365.00 146.95L365.05 144.33L365.10 146.19L365.14 145.59L365.19 142.04L365.24 148.05L365.28 143.54L365.33 146.68L365.38 145.95L365.42 148.16L365.47 145.25L365.52 153.06L365.56 146.64L365.61 143.08L365.66 143.50L365.70 151.54L365.80 147.14L365.84 141.19L365.89 147.18L365.94 145.86L365.98 146.59L366.03 144.94L366.08 148.84L366.12 145.06L366.22 142.98L366.26 148.73L366.36 141.08L366.40 143.61L366.50 155.02L366.54 142.28L366.59 141.09L366.64 142.55L366.68 144.35L366.78 139.37L366.82 148.13L366.92 142.82L366.96 145.05L367.01 153.78L367.06 145.14L367.10 144.78L367.15 148.91L367.19 144.69L367.24 145.07L367.29 152.27L367.33 144.31L367.38 140.63L367.47 149.64L367.52 150.36L367.61 144.97L367.66 150.43L367.75 142.20L367.80 145.07L367.85 142.95L367.89 145.90L367.94 142.98L367.99 147.51L368.03 147.47L368.08 148.98L368.13 152.79L368.17 147.06L368.22 150.51L368.36 145.28L368.41 144.65L368.45 147.06L368.50 145.98L368.55 142.67L368.59 146.29L368.64 145.72L368.69 155.14L368.78 142.81L368.83 148.70L368.87 149.47L368.92 143.13L368.97 150.04L369.01 143.07L369.06 146.13L369.11 147.87L369.15 153.40L369.20 142.28L369.25 152.42L369.34 143.59L369.38 150.12L369.43 144.34L369.48 145.94L369.52 146.69L369.57 149.43L369.62 148.00L369.66 145.01L369.71 149.15L369.76 144.01L369.80 145.11L369.85 144.25L369.90 145.14L369.94 144.19L369.99 144.70L370.04 143.49L370.08 144.71L370.18 148.92L370.22 152.06L370.32 143.16L370.36 148.96L370.41 151.50L370.46 147.61L370.50 144.76L370.55 143.42L370.60 146.86L370.64 149.88L370.74 143.88L370.78 146.00L370.83 143.03L370.88 147.46L370.92 143.38L370.97 141.60L371.02 149.20L371.06 148.74L371.16 139.18L371.20 144.34L371.25 145.91L371.30 142.31L371.34 146.18L371.39 151.61L371.44 149.04L371.48 142.22L371.53 151.87L371.58 150.83L371.62 143.50L371.67 145.37L371.72 142.54L371.76 149.43L371.85 146.93L371.90 150.10L371.99 146.36L372.04 143.38L372.13 147.10L372.18 144.37L372.23 142.78L372.27 142.94L372.32 144.99L372.41 147.35L372.46 150.37L372.51 145.61L372.55 145.89L372.60 141.56L372.65 145.16L372.69 143.68L372.74 142.30L372.79 152.65L372.83 147.94L372.88 146.56L372.93 145.45L372.97 149.71L373.02 143.39L373.07 143.27L373.11 144.34L373.16 143.85L373.21 149.57L373.25 142.70L373.30 147.81L373.35 152.72L373.39 145.43L373.44 144.56L373.53 151.77L373.58 149.77L373.63 146.29L373.67 155.62L373.72 142.96L373.81 146.37L373.86 142.88L373.95 149.71L374.00 143.98L374.09 148.94L374.14 150.77L374.23 142.62L374.28 146.78L374.32 139.55L374.37 147.97L374.42 144.05L374.51 146.51L374.56 143.44L374.60 148.68L374.65 145.98L374.70 149.86L374.74 154.02L374.79 145.59L374.84 149.75L374.88 150.35L374.93 144.11L374.98 146.32L375.07 141.37L375.12 145.26L375.16 144.46L375.21 149.92L375.26 143.43L375.30 143.39L375.35 149.38L375.40 143.90L375.49 146.47L375.54 145.53L375.58 140.11L375.63 147.92L375.68 146.86L375.72 145.48L375.77 146.36L375.82 152.46L375.91 143.20L375.96 141.36L376.05 150.17L376.10 143.89L376.14 149.29L376.19 145.79L376.24 147.08L376.28 145.21L376.33 147.23L376.38 143.77L376.42 148.89L376.47 140.16L376.51 143.56L376.61 149.05L376.65 146.37L376.75 148.54L376.79 142.06L376.89 149.49L376.93 144.14L376.98 145.73L377.03 143.57L377.07 147.95L377.12 140.58L377.17 145.53L377.21 140.82L377.26 147.30L377.31 142.15L377.35 146.10L377.40 141.46L377.45 146.33L377.49 149.41L377.54 149.44L377.59 147.85L377.63 144.00L377.73 145.39L377.77 142.82L377.82 141.51L377.87 149.17L377.91 142.95L377.96 140.25L378.01 147.77L378.05 147.59L378.10 144.54L378.15 145.05L378.19 147.49L378.29 141.57L378.33 143.17L378.43 151.91L378.47 149.53L378.52 145.19L378.57 148.35L378.61 148.55L378.66 143.67L378.71 146.63L378.75 146.95L378.84 141.90L378.89 144.81L378.94 143.74L378.98 145.48L379.03 141.68L379.08 149.98L379.12 149.58L379.17 147.37L379.22 140.73L379.26 141.69L379.31 149.49L379.40 144.11L379.45 145.50L379.50 143.22L379.54 147.31L379.59 151.67L379.68 142.34L379.73 151.18L379.78 152.59L379.82 147.17L379.87 152.55L379.92 144.44L379.96 149.69L380.01 143.59L380.06 146.80L380.10 145.30L380.15 143.80L380.24 149.15L380.29 143.14L380.34 150.90L380.38 141.97L380.43 147.69L380.52 144.53L380.57 144.46L380.62 144.22L380.66 150.89L380.71 148.65L380.80 144.59L380.85 145.98L380.90 142.22L380.94 146.25L380.99 143.07L381.03 142.71L381.08 144.66L381.13 146.30L381.17 143.58L381.22 144.37L381.27 143.90L381.31 148.58L381.36 144.31L381.41 141.56L381.45 146.58L381.50 145.26L381.55 146.43L381.59 143.20L381.64 153.32L381.69 141.55L381.78 146.38L381.83 144.85L381.87 142.60L381.92 144.57L381.97 143.74L382.01 142.41L382.06 145.15L382.11 143.55L382.15 141.80L382.20 144.03L382.25 147.67L382.34 140.67L382.39 146.66L382.43 144.32L382.48 144.39L382.53 143.17L382.57 146.95L382.62 145.70L382.67 140.82L382.76 147.65L382.81 143.41L382.85 145.44L382.90 141.65L382.95 151.35L383.04 142.93L383.09 149.99L383.18 144.24L383.23 145.51L383.27 146.58L383.32 144.72L383.37 150.45L383.46 141.25L383.50 147.72L383.55 144.35L383.60 145.78L383.64 143.23L383.69 144.65L383.74 144.44L383.78 142.48L383.88 151.68L383.92 147.76L383.97 141.89L384.02 142.73L384.06 146.34L384.11 151.22L384.16 147.94L384.20 140.59L384.25 142.40L384.30 142.35L384.34 151.31L384.44 147.52L384.48 150.30L384.53 145.28L384.58 149.30L384.62 144.24L384.72 147.42L384.76 143.76L384.86 145.23L384.90 146.77L384.95 145.77L385.00 152.59L385.04 152.73L385.14 145.21L385.18 141.20L385.28 148.92L385.32 147.17L385.37 149.94L385.42 145.75L385.46 145.90L385.56 144.82L385.60 142.79L385.69 149.53L385.74 143.27L385.79 149.01L385.83 144.50L385.88 145.33L385.93 141.37L385.97 145.93L386.02 145.91L386.07 146.47L386.11 143.23L386.16 144.70L386.21 146.44L386.25 143.29L386.30 140.56L386.39 141.73L386.44 147.31L386.53 145.12L386.58 151.62L386.63 141.27L386.67 150.56L386.72 144.43L386.77 149.78L386.81 145.22L386.86 143.29L386.95 148.41L387.00 147.68L387.05 143.04L387.09 145.78L387.14 145.23L387.19 143.01L387.23 155.06L387.28 144.83L387.37 141.14L387.42 143.65L387.47 147.95L387.51 142.93L387.56 140.97L387.65 147.90L387.70 146.03L387.79 152.97L387.84 154.37L387.93 147.59L387.98 144.32L388.02 147.25L388.07 145.05L388.12 142.00L388.16 139.21L388.21 143.16L388.26 148.80L388.30 142.87L388.35 145.58L388.40 144.57L388.44 142.94L388.49 143.41L388.54 150.04L388.63 144.79L388.68 143.60L388.72 140.54L388.77 143.87L388.82 146.72L388.91 147.87L388.96 149.99L389.00 150.02L389.05 147.34L389.10 145.29L389.14 148.08L389.19 145.54L389.24 146.45L389.28 146.29L389.33 146.95L389.38 144.74L389.47 155.66L389.52 144.81L389.61 147.54L389.66 145.08L389.70 147.82L389.75 145.22L389.80 148.45L389.84 143.67L389.89 144.57L389.94 150.58L390.03 143.62L390.08 144.41L390.17 149.39L390.22 147.78L390.31 144.72L390.36 145.64L390.40 148.30L390.45 146.30L390.49 147.16L390.54 149.50L390.59 149.26L390.63 148.23L390.68 150.79L390.73 144.24L390.77 143.45L390.82 143.16L390.87 148.12L390.91 148.03L390.96 144.87L391.01 147.07L391.05 146.57L391.15 151.22L391.19 142.26L391.29 151.08L391.33 143.37L391.38 149.26L391.43 142.72L391.47 144.62L391.52 144.58L391.57 146.80L391.61 150.46L391.71 145.31L391.75 145.94L391.80 149.68L391.85 149.43L391.89 148.45L391.99 144.35L392.03 143.14L392.08 146.77L392.13 141.91L392.17 143.61L392.22 141.82L392.27 148.47L392.31 143.97L392.36 142.69L392.41 151.85L392.45 143.09L392.50 144.42L392.55 143.10L392.59 145.11L392.64 142.56L392.69 146.93L392.73 147.25L392.82 143.60L392.87 150.17L392.92 142.43L392.96 142.49L393.01 142.84L393.06 147.94L393.10 142.30L393.15 144.14L393.20 143.08L393.24 145.76L393.29 146.95L393.34 147.86L393.38 147.55L393.43 143.16L393.48 148.09L393.52 147.56L393.57 144.65L393.66 152.96L393.71 147.69L393.80 141.54L393.85 143.74L393.94 149.25L393.99 147.03L394.04 144.94L394.08 148.11L394.13 144.36L394.18 150.37L394.22 144.65L394.27 142.46L394.32 155.59L394.36 145.69L394.41 144.86L394.46 144.32L394.50 145.31L394.55 145.80L394.60 144.78L394.64 145.28L394.69 145.33L394.74 141.62L394.78 142.84L394.83 143.09L394.88 147.60L394.92 147.12L394.97 142.77L395.01 149.05L395.06 142.86L395.11 150.14L395.15 140.56L395.20 142.34L395.25 147.32L395.29 147.04L395.34 152.89L395.39 145.75L395.43 142.46L395.48 143.89L395.53 146.39L395.57 140.70L395.62 144.03L395.67 144.42L395.71 146.51L395.76 143.96L395.81 139.76L395.90 151.37L395.95 144.96L395.99 140.94L396.04 142.45L396.09 147.21L396.13 144.59L396.18 150.62L396.23 143.80L396.27 148.43L396.32 147.26L396.37 147.38L396.41 147.87L396.46 141.36L396.51 141.81L396.55 146.47L396.60 145.31L396.65 141.38L396.74 146.98L396.79 148.33L396.83 141.64L396.88 145.11L396.93 145.56L397.02 148.55L397.07 143.01L397.11 148.07L397.16 147.22L397.21 151.42L397.30 147.21L397.35 147.13L397.39 150.78L397.44 147.54L397.48 146.02L397.53 155.42L397.58 143.96L397.62 146.45L397.67 150.14L397.72 146.45L397.76 144.35L397.81 145.63L397.86 145.49L397.90 145.58L397.95 143.79L398.00 150.21L398.04 147.48L398.09 144.51L398.14 145.54L398.18 149.12L398.23 146.49L398.28 147.85L398.32 145.56L398.37 151.38L398.42 151.24L398.46 150.54L398.56 139.99L398.60 142.97L398.65 142.40L398.70 145.60L398.74 141.60L398.84 145.43L398.88 142.72L398.98 153.57L399.02 149.61L399.07 141.99L399.12 143.18L399.16 145.08L399.21 146.36L399.26 146.16L399.30 144.51L399.35 148.43L399.40 143.49L399.44 148.82L399.49 142.12L399.54 146.68L399.58 148.65L399.63 146.52L399.68 148.67L399.72 146.04L399.77 152.00L399.81 147.19L399.86 145.41L399.91 144.53L399.95 146.85L400.00 142.43L400.05 151.55L400.09 146.31L400.14 147.17L400.19 145.67L400.23 146.45L400.28 142.04L400.37 148.68L400.42 139.95L400.51 146.14L400.56 143.21L400.61 147.54L400.65 146.34L400.70 143.26L400.75 149.62L400.79 147.07L400.84 143.07L400.89 141.17L400.98 145.96L401.03 142.71L401.07 150.73L401.12 147.88L401.17 148.22L401.26 156.84L401.31 146.92L401.35 143.14L401.40 143.76L401.45 142.29L401.49 156.06L401.54 146.09L401.59 142.14L401.68 150.07L401.73 144.63L401.77 145.60L401.82 143.83L401.87 145.65L401.91 142.34L401.96 143.68L402.00 144.88L402.05 146.81L402.10 143.64L402.14 147.76L402.24 142.54L402.28 143.03L402.33 149.96L402.38 144.35L402.42 144.54L402.47 143.21L402.52 151.03L402.56 147.54L402.66 141.97L402.70 147.52L402.75 143.15L402.80 145.17L402.84 140.87L402.94 151.24L402.98 146.47L403.08 142.24L403.12 143.73L403.22 149.90L403.26 145.50L403.31 145.97L403.36 142.10L403.40 143.04L403.50 154.20L403.54 146.90L403.59 144.80L403.64 148.81L403.68 147.24L403.73 142.41L403.78 143.52L403.82 151.69L403.87 144.57L403.92 145.12L403.96 146.21L404.06 143.92L404.10 139.88L404.20 147.95L404.24 147.17L404.34 140.83L404.38 143.85L404.47 144.79L404.52 146.98L404.57 145.35L404.61 149.68L404.66 143.48L404.75 145.03L404.80 148.38L404.85 146.38L404.89 147.40L404.94 144.67L404.99 146.46L405.03 144.51L405.08 143.00L405.13 142.20L405.17 148.97L405.22 146.60L405.27 149.22L405.31 142.24L405.36 148.34L405.41 142.01L405.45 147.15" stroke="#1f77b4" stroke-opacity="0.5" stroke-width="1.2"/>
<path d="M172.50 165.82L172.55 174.91L172.64 172.99L172.69 172.22L172.78 165.67L172.83 165.22L172.87 171.93L172.92 169.69L172.97 170.36L173.01 170.42L173.06 163.68L173.11 166.09L173.15 177.23L173.20 167.95L173.25 166.94L173.29 174.20L173.34 164.14L173.39 166.31L173.43 163.63L173.48 174.80L173.53 170.68L173.57 172.51L173.62 172.33L173.66 172.22L173.71 175.03L173.76 169.21L173.80 175.90L173.85 165.82L173.90 166.80L173.94 179.38L174.04 168.49L174.08 160.85L174.13 170.90L174.18 164.43L174.22 162.13L174.32 174.31L174.36 174.56L174.41 176.92L174.46 168.78L174.50 168.78L174.55 172.43L174.60 164.13L174.64 171.86L174.74 165.95L174.78 166.20L174.88 167.31L174.92 168.21L174.97 165.05L175.02 165.61L175.06 173.16L175.11 167.55L175.16 169.26L175.20 170.49L175.25 164.13L175.30 168.76L175.34 168.17L175.39 165.18L175.44 173.28L175.48 171.55L175.53 170.49L175.58 173.49L175.62 168.40L175.67 173.19L175.72 168.30L175.76 169.18L175.81 169.18L175.86 167.46L175.90 170.62L175.95 166.68L176.00 170.72L176.04 169.28L176.09 169.62L176.13 166.42L176.18 168.51L176.23 172.85L176.27 162.68L176.32 164.89L176.37 168.89L176.41 166.81L176.46 172.71L176.51 166.26L176.55 171.51L176.60 166.71L176.69 173.58L176.74 167.63L176.83 171.06L176.88 169.68L176.93 166.17L176.97 168.44L177.02 171.06L177.07 171.07L177.11 169.97L177.16 175.82L177.25 171.17L177.30 177.57L177.35 162.81L177.39 169.75L177.44 164.38L177.49 170.20L177.53 169.38L177.58 169.62L177.63 176.32L177.67 173.86L177.72 167.50L177.77 170.88L177.81 168.13L177.86 168.40L177.91 174.82L177.95 174.01L178.00 173.24L178.05 176.60L178.09 174.24L178.14 169.47L178.23 164.71L178.28 167.12L178.37 173.36L178.42 163.81L178.51 172.62L178.56 173.59L178.60 161.80L178.65 166.91L178.70 168.42L178.79 170.19L178.84 166.00L178.88 166.81L178.93 164.19L178.98 176.58L179.02 166.79L179.07 168.45L179.12 166.11L179.21 177.64L179.26 169.40L179.30 164.02L179.35 166.63L179.40 172.98L179.44 176.90L179.49 165.01L179.54 168.94L179.58 167.54L179.63 172.65L179.68 165.49L179.72 170.22L179.77 170.16L179.82 174.24L179.91 168.08L179.96 173.25L180.05 167.57L180.10 174.45L180.19 166.06L180.24 169.36L180.28 175.06L180.33 169.69L180.38 165.29L180.47 174.73L180.52 166.39L180.56 167.99L180.61 164.40L180.66 164.19L180.75 170.28L180.79 177.95L180.89 170.00L180.93 171.95L180.98 169.48L181.03 173.45L181.07 173.40L181.12 165.72L181.17 168.42L181.21 169.19L181.26 163.70L181.31 172.26L181.35 167.75L181.40 173.24L181.45 171.12L181.49 169.08L181.59 172.32L181.63 170.68L181.68 165.99L181.73 172.77L181.77 174.70L181.82 164.02L181.87 174.98L181.91 170.67L181.96 174.65L182.01 173.21L182.05 165.76L182.15 170.69L182.19 164.13L182.24 171.37L182.29 165.53L182.33 167.98L182.38 165.63L182.43 169.45L182.47 167.92L182.57 180.30L182.61 161.89L182.71 169.16L182.75 169.83L182.80 172.05L182.85 171.86L182.89 169.32L182.94 166.15L182.99 168.37L183.03 168.68L183.08 166.54L183.12 172.22L183.17 165.73L183.22 171.01L183.26 167.19L183.31 171.85L183.36 166.01L183.40 173.99L183.45 163.06L183.50 171.19L183.54 171.14L183.59 172.43L183.64 173.65L183.68 170.48L183.73 175.53L183.78 165.86L183.82 169.95L183.87 178.27L183.96 167.54L184.01 168.69L184.06 171.70L184.10 170.12L184.15 180.40L184.20 174.99L184.24 178.91L184.29 175.22L184.38 165.18L184.43 164.31L184.48 172.03L184.52 168.00L184.57 170.85L184.62 168.14L184.66 168.87L184.71 172.86L184.76 165.46L184.80 171.41L184.85 171.95L184.90 170.62L184.94 172.13L184.99 176.71L185.08 168.04L185.13 166.82L185.18 170.74L185.22 163.73L185.27 171.89L185.31 171.72L185.36 179.61L185.41 163.69L185.45 165.38L185.50 164.68L185.55 175.88L185.59 166.86L185.64 176.23L185.69 165.18L185.78 171.05L185.83 169.26L185.87 170.38L185.92 163.91L185.97 165.33L186.01 175.46L186.06 166.19L186.11 179.90L186.15 162.99L186.20 171.45L186.25 170.51L186.34 161.67L186.39 166.77L186.43 169.57L186.48 167.25L186.53 170.90L186.57 165.90L186.62 171.78L186.67 170.97L186.76 165.20L186.81 168.79L186.90 175.67L186.95 165.97L186.99 170.93L187.04 168.39L187.09 170.48L187.13 168.27L187.18 168.55L187.23 176.31L187.27 176.67L187.32 170.40L187.37 176.46L187.41 166.98L187.46 169.32L187.51 165.42L187.60 167.12L187.65 172.04L187.74 166.16L187.78 165.79L187.88 169.93L187.92 172.20L187.97 170.75L188.02 171.38L188.06 165.46L188.11 165.22L188.16 170.16L188.20 171.77L188.30 164.92L188.34 167.07L188.44 176.03L188.48 163.79L188.58 171.24L188.62 169.57L188.67 169.80L188.72 169.22L188.76 173.28L188.81 166.17L188.86 172.05L188.90 173.93L188.95 165.26L189.00 169.11L189.04 165.12L189.09 168.26L189.14 165.99L189.18 163.61L189.23 168.33L189.28 165.55L189.32 171.61L189.37 167.78L189.42 179.67L189.46 169.86L189.56 176.46L189.60 167.01L189.65 169.32L189.70 167.71L189.74 175.18L189.84 162.09L189.88 167.01L189.93 174.54L189.97 166.84L190.02 168.74L190.11 172.65L190.16 168.69L190.21 178.32L190.25 165.62L190.30 166.71L190.35 167.41L190.39 166.66L190.44 164.89L190.49 175.15L190.53 168.67L190.58 167.23L190.63 166.74L190.67 170.95L190.72 169.63L190.77 166.75L190.81 167.09L190.86 163.12L190.91 176.59L190.95 169.13L191.00 170.32L191.05 168.27L191.09 169.07L191.14 171.85L191.19 168.36L191.23 174.56L191.28 173.56L191.37 168.57L191.42 166.53L191.47 165.02L191.51 174.74L191.56 170.36L191.61 165.29L191.65 169.28L191.70 164.47L191.75 164.12L191.79 171.29L191.84 171.10L191.89 168.98L191.93 172.17L191.98 169.43L192.03 170.38L192.07 163.05L192.12 169.27L192.17 171.66L192.21 169.29L192.26 168.43L192.31 178.24L192.35 173.79L192.40 175.09L192.49 167.57L192.54 172.88L192.58 175.97L192.63 166.87L192.68 171.15L192.77 167.44L192.82 165.96L192.91 173.35L192.96 174.19L193.05 168.87L193.10 160.51L193.19 171.69L193.24 170.03L193.33 175.24L193.38 169.46L193.42 168.03L193.47 168.77L193.52 172.45L193.56 169.44L193.61 172.08L193.66 170.67L193.70 176.82L193.75 166.68L193.80 170.53L193.84 180.66L193.89 170.27L193.94 166.94L193.98 159.71L194.03 172.87L194.08 163.85L194.12 173.17L194.17 165.71L194.22 166.65L194.31 173.78L194.36 173.42L194.45 164.02L194.50 170.25L194.54 170.10L194.59 171.89L194.63 168.94L194.68 171.22L194.73 165.45L194.77 166.10L194.87 173.16L194.91 175.15L195.01 164.50L195.05 166.51L195.10 169.81L195.15 165.96L195.19 167.11L195.24 172.78L195.29 163.96L195.33 165.28L195.38 173.98L195.43 170.48L195.47 166.21L195.52 163.48L195.57 164.56L195.61 173.06L195.71 164.77L195.75 172.00L195.80 168.16L195.85 170.49L195.89 167.07L195.94 174.73L195.99 174.51L196.03 173.12L196.08 162.42L196.13 162.48L196.17 162.95L196.27 172.97L196.31 167.73L196.41 173.81L196.45 167.27L196.50 173.41L196.55 165.13L196.59 168.28L196.69 174.66L196.73 169.43L196.83 166.91L196.87 168.89L196.97 174.64L197.01 171.65L197.10 167.61L197.15 170.33L197.20 175.26L197.24 173.76L197.29 171.19L197.34 167.15L197.38 170.53L197.43 173.75L197.48 169.79L197.52 169.96L197.57 164.41L197.66 171.53L197.71 169.47L197.76 167.53L197.80 177.17L197.85 170.91L197.90 173.57L197.94 171.81L197.99 170.86L198.04 164.44L198.08 166.65L198.13 168.26L198.18 173.58L198.22 168.23L198.27 167.28L198.36 176.37L198.41 164.73L198.50 169.07L198.55 165.63L198.60 165.92L198.64 161.29L198.69 181.25L198.78 165.08L198.83 168.06L198.92 174.71L198.97 164.54L199.02 162.27L199.06 177.55L199.11 173.72L199.20 166.23L199.25 171.54L199.30 175.19L199.34 165.34L199.39 164.50L199.43 177.16L199.48 169.17L199.53 167.51L199.57 169.59L199.62 164.49L199.67 168.12L199.71 167.34L199.76 168.32L199.81 175.08L199.85 161.67L199.90 171.52L199.95 169.29L199.99 164.60L200.04 166.66L200.09 169.94L200.13 178.46L200.18 169.18L200.23 165.17L200.32 175.21L200.37 164.81L200.41 161.72L200.46 165.55L200.51 165.28L200.55 176.42L200.60 171.42L200.65 179.27L200.69 165.53L200.74 167.08L200.79 180.18L200.88 165.45L200.93 172.57L201.02 163.88L201.07 175.01L201.16 165.51L201.21 168.19L201.25 170.59L201.30 168.39L201.35 167.36L201.44 163.42L201.49 175.26L201.53 169.37L201.58 169.66L201.62 163.53L201.67 173.95L201.72 163.08L201.76 172.49L201.81 172.36L201.86 174.82L201.90 169.88L201.95 171.01L202.00 168.77L202.04 169.86L202.09 166.64L202.14 167.58L202.18 179.69L202.23 164.98L202.28 169.15L202.32 169.38L202.37 171.23L202.42 165.88L202.46 170.59L202.51 165.19L202.56 173.89L202.60 163.46L202.70 174.19L202.74 166.27L202.84 174.13L202.88 171.19L202.93 168.72L202.98 171.83L203.02 167.33L203.07 164.87L203.12 175.09L203.16 177.54L203.26 168.53L203.30 168.90L203.35 166.50L203.40 167.07L203.44 177.42L203.49 169.32L203.54 172.71L203.58 169.99L203.63 175.08L203.68 167.41L203.72 169.81L203.82 175.20L203.86 163.60L203.95 167.02L204.00 172.14L204.05 172.99L204.09 163.96L204.14 171.25L204.23 162.36L204.28 176.20L204.37 167.67L204.42 176.05L204.47 170.60L204.51 171.33L204.56 165.98L204.61 174.70L204.65 168.60L204.70 166.89L204.75 173.77L204.79 173.36L204.84 165.65L204.93 175.72L204.98 175.41L205.03 163.25L205.07 168.62L205.12 171.61L205.26 167.43L205.31 163.66L205.40 171.91L205.45 171.16L205.54 163.34L205.59 165.11L205.63 177.17L205.68 170.80L205.73 171.09L205.82 164.79L205.87 171.16L205.91 173.17L205.96 168.57L206.01 167.22L206.10 173.79L206.15 170.17L206.19 167.04L206.24 167.82L206.28 166.99L206.33 172.58L206.38 170.82L206.42 168.74L206.47 182.25L206.52 170.22L206.56 167.19L206.66 170.94L206.70 169.81L206.75 166.53L206.80 169.62L206.84 175.32L206.89 167.44L206.94 176.22L206.98 172.55L207.03 161.94L207.08 167.96L207.12 166.04L207.17 166.97L207.22 166.21L207.26 168.67L207.31 166.17L207.36 168.71L207.40 172.54L207.45 167.74L207.50 168.58L207.54 165.74L207.64 164.02L207.68 172.61L207.78 162.98L207.82 171.15L207.87 171.75L207.92 170.87L207.96 171.36L208.01 172.23L208.06 163.41L208.10 171.10L208.15 168.62L208.20 173.19L208.24 161.84L208.34 174.39L208.38 165.60L208.43 171.63L208.48 168.59L208.52 163.42L208.57 174.05L208.62 163.10L208.66 171.08L208.71 181.01L208.75 168.60L208.80 171.08L208.85 174.72L208.89 160.85L208.94 170.89L208.99 176.88L209.03 169.33L209.08 165.34L209.17 170.05L209.22 170.74L209.27 170.22L209.31 174.04L209.36 167.51L209.41 167.83L209.45 164.15L209.50 173.12L209.55 163.17L209.59 164.85L209.64 165.73L209.69 169.90L209.73 166.48L209.78 170.28L209.83 165.38L209.87 169.15L209.92 172.15L209.97 169.86L210.01 172.88L210.06 166.35L210.15 172.39L210.20 160.81L210.25 168.90L210.29 164.44L210.34 171.42L210.39 167.28L210.43 171.14L210.48 166.51L210.53 167.67L210.57 161.19L210.62 178.62L210.71 163.33L210.76 176.81L210.81 165.78L210.85 168.79L210.90 167.51L210.94 171.46L210.99 170.87L211.04 176.73L211.13 170.13L211.18 172.15L211.22 163.52L211.27 168.62L211.32 164.67L211.41 173.26L211.46 169.68L211.55 170.82L211.60 165.69L211.69 170.27L211.74 167.20L211.78 172.47L211.83 170.90L211.88 164.35L211.97 165.65L212.02 163.37L212.11 169.97L212.16 167.88L212.25 163.92L212.30 168.85L212.34 169.10L212.39 164.74L212.44 166.83L212.53 171.78L212.58 169.48L212.67 168.07L212.72 168.81L212.76 165.08L212.81 168.42L212.86 169.77L212.90 170.19L212.95 167.58L213.00 166.96L213.04 166.83L213.09 166.93L213.14 170.92L213.18 164.50L213.23 173.31L213.28 177.76L213.32 166.35L213.37 166.40L213.41 171.98L213.51 165.56L213.55 165.49L213.65 171.49L213.69 166.94L213.79 161.66L213.83 168.58L213.88 167.40L213.93 172.39L213.97 169.78L214.02 179.57L214.07 177.03L214.11 164.75L214.21 171.75L214.25 165.05L214.35 171.06L214.39 172.17L214.49 163.51L214.53 170.83L214.58 162.14L214.63 166.62L214.67 164.83L214.77 174.13L214.81 165.41L214.86 173.31L214.91 164.97L214.95 165.69L215.05 172.28L215.09 171.82L215.14 166.68L215.19 172.39L215.23 181.66L215.33 165.31L215.37 167.42L215.42 172.64L215.47 170.58L215.51 170.34L215.56 160.99L215.60 173.89L215.65 172.84L215.74 167.54L215.79 170.96L215.84 165.96L215.88 168.88L215.93 171.45L215.98 171.48L216.02 169.74L216.07 169.40L216.16 164.58L216.21 169.89L216.30 166.00L216.35 171.10L216.40 178.18L216.44 168.71L216.49 167.99L216.54 164.41L216.58 177.82L216.63 166.71L216.68 169.75L216.72 167.55L216.77 164.74L216.82 167.66L216.86 166.70L216.91 167.74L216.96 173.60L217.00 167.84L217.05 170.46L217.10 167.61L217.14 176.32L217.19 166.27L217.28 169.50L217.33 170.38L217.38 165.37L217.42 167.64L217.47 166.21L217.56 170.79L217.61 167.73L217.66 165.83L217.70 170.70L217.75 167.13L217.80 168.36L217.84 164.32L217.89 168.89L217.98 171.69L218.03 171.16L218.12 164.74L218.17 175.70L218.26 167.80L218.31 167.00L218.40 172.68L218.45 169.70L218.49 166.92L218.54 167.10L218.59 170.75L218.63 167.43L218.68 170.15L218.73 170.09L218.77 165.83L218.82 168.95L218.87 166.42L218.96 170.48L219.01 171.23L219.05 168.16L219.10 169.10L219.15 163.65L219.24 168.41L219.29 173.09L219.38 166.65L219.43 174.47L219.52 166.81L219.57 167.19L219.61 170.99L219.66 169.07L219.71 170.77L219.80 165.45L219.85 166.04L219.89 161.35L219.94 163.71L219.99 167.33L220.03 169.52L220.08 165.15L220.13 167.57L220.17 167.68L220.22 165.99L220.26 168.64L220.31 171.06L220.36 166.76L220.40 170.01L220.45 171.28L220.50 166.56L220.54 172.52L220.59 173.91L220.64 162.23L220.68 165.96L220.73 169.77L220.78 167.72L220.82 168.65L220.92 171.42L220.96 173.50L221.06 164.22L221.10 163.73L221.15 168.04L221.20 163.60L221.24 168.02L221.34 163.54L221.38 170.15L221.43 167.87L221.48 169.23L221.52 170.95L221.62 164.47L221.66 163.65L221.71 170.48L221.76 168.53L221.80 162.16L221.85 170.60L221.90 168.90L221.94 161.78L221.99 169.21L222.04 165.66L222.08 168.74L222.13 174.57L222.18 166.37L222.22 175.54L222.32 164.08L222.36 166.05L222.41 168.98L222.46 165.15L222.50 164.23L222.59 173.54L222.64 172.68L222.69 164.74L222.73 168.77L222.78 164.31L222.83 172.19L222.87 166.30L222.92 175.94L222.97 166.15L223.01 167.21L223.06 164.59L223.11 176.46L223.15 173.62L223.20 171.36L223.29 163.03L223.34 164.49L223.39 174.08L223.43 170.55L223.48 163.76L223.57 173.91L223.62 166.39L223.71 165.55L223.76 168.39L223.85 165.03L223.90 167.30L223.95 164.77L223.99 165.49L224.04 165.96L224.09 169.82L224.13 165.98L224.18 165.16L224.27 171.98L224.32 166.84L224.37 166.12L224.41 171.48L224.46 167.11L224.51 161.63L224.55 176.62L224.60 167.04L224.69 168.25L224.74 168.78L224.79 166.94L224.83 168.99L224.88 170.37L224.97 161.97L225.02 169.06L225.11 164.36L225.16 172.79L225.20 169.95L225.25 171.52L225.30 169.38L225.34 164.88L225.39 171.30L225.44 164.00L225.48 161.57L225.53 171.54L225.58 167.80L225.62 165.78L225.67 173.02L225.72 176.66L225.76 168.48L225.81 172.09L225.86 168.44L225.90 171.64L225.95 170.56L226.00 171.05L226.09 165.40L226.14 168.18L226.18 166.97L226.23 173.30L226.28 163.12L226.32 164.68L226.37 163.04L226.42 168.73L226.46 171.46L226.51 166.79L226.56 173.00L226.60 168.85L226.65 169.49L226.70 169.45L226.74 174.95L226.79 165.74L226.84 174.19L226.88 168.40L226.93 169.46L226.98 176.68L227.02 166.29L227.07 168.78L227.12 162.65L227.21 172.05L227.25 177.42L227.35 165.57L227.39 169.53L227.44 162.70L227.49 168.34L227.53 171.64L227.63 168.12L227.67 164.94L227.72 170.95L227.77 168.62L227.81 166.33L227.86 170.09L227.91 168.43L227.95 165.56L228.00 166.94L228.05 166.03L228.09 170.95L228.14 174.57L228.19 172.35L228.23 170.42L228.28 167.03L228.33 170.48L228.37 171.91L228.47 167.70L228.51 170.54L228.56 164.95L228.61 166.72L228.65 167.71L228.70 171.33L228.75 162.94L228.79 167.44L228.84 165.36L228.89 166.84L228.93 170.37L229.03 170.15L229.07 165.85L229.17 175.55L229.21 166.71L229.26 175.29L229.31 171.16L229.35 164.32L229.45 169.88L229.49 180.36L229.54 166.47L229.59 169.97L229.63 169.30L229.68 174.23L229.72 172.86L229.77 169.26L229.82 177.12L229.86 166.35L229.91 166.41L229.96 173.22L230.00 172.68L230.05 168.62L230.14 172.36L230.19 169.45L230.28 175.60L230.33 166.19L230.42 174.36L230.47 168.94L230.56 163.56L230.61 164.36L230.66 163.83L230.70 170.29L230.75 165.06L230.84 172.99L230.89 161.57L230.94 172.68L230.98 164.21L231.03 170.97L231.08 171.44L231.12 162.47L231.17 177.14L231.26 167.18L231.31 172.07L231.36 173.30L231.40 172.91L231.45 161.59L231.50 176.84L231.54 173.71L231.59 170.50L231.64 174.69L231.68 166.26L231.73 172.83L231.82 169.53L231.87 172.53L231.91 167.81L231.96 175.11L232.01 169.71L232.10 165.52L232.15 174.59L232.19 175.61L232.24 162.11L232.29 165.83L232.33 177.55L232.38 165.68L232.43 168.02L232.52 163.63L232.57 169.68L232.61 166.75L232.66 170.93L232.71 163.59L232.75 166.71L232.80 164.45L232.85 167.31L232.89 174.48L232.94 169.22L232.99 169.35L233.03 167.93L233.08 172.50L233.13 171.44L233.22 174.06L233.27 168.16L233.31 171.98L233.36 164.28L233.41 171.36L233.45 176.80L233.50 168.73L233.55 164.88L233.59 164.87L233.64 172.29L233.69 170.84L233.78 167.45L233.83 171.21L233.87 181.22L233.92 165.43L233.97 167.04L234.01 173.95L234.06 169.95L234.11 171.20L234.15 173.30L234.20 168.53L234.25 174.02L234.34 166.79L234.38 166.10L234.43 162.69L234.48 168.72L234.52 167.17L234.57 167.04L234.62 171.61L234.66 177.38L234.71 173.30L234.76 176.93L234.80 168.90L234.85 163.77L234.90 166.57L234.94 161.35L234.99 167.82L235.04 160.45L235.08 162.50L235.13 166.31L235.18 162.67L235.22 170.81L235.27 173.82L235.32 167.14L235.36 163.41L235.41 166.35L235.46 166.13L235.50 168.65L235.55 171.20L235.60 166.46L235.64 166.12L235.69 170.70L235.74 164.19L235.78 162.75L235.83 177.40L235.88 167.33L235.92 174.42L236.02 168.57L236.06 166.30L236.11 166.80L236.16 166.24L236.20 167.88L236.25 171.82L236.30 167.51L236.34 170.28L236.39 166.59L236.44 169.26L236.48 168.54L236.53 175.88L236.57 167.65L236.62 170.93L236.67 168.05L236.71 170.42L236.76 162.49L236.81 164.22L236.85 161.64L236.90 171.13L236.95 167.02L236.99 169.47L237.04 171.76L237.09 166.83L237.13 171.80L237.18 161.14L237.23 169.38L237.27 166.25L237.32 170.44L237.37 169.48L237.41 170.51L237.46 163.92L237.55 167.04L237.60 171.01L237.69 166.53L237.74 172.28L237.79 167.27L237.83 176.19L237.88 171.19L237.93 170.89L238.02 162.67L238.07 174.73L238.11 168.15L238.16 170.83L238.21 173.17L238.25 171.55L238.30 174.80L238.35 167.79L238.39 167.46L238.44 173.82L238.49 168.10L238.58 180.81L238.63 169.74L238.72 173.03L238.77 173.95L238.81 178.42L238.86 173.56L238.91 178.95L238.95 166.82L239.00 173.26L239.04 166.21L239.09 170.60L239.14 168.40L239.18 171.67L239.28 168.74L239.32 170.66L239.37 167.17L239.42 174.16L239.46 172.32L239.51 175.05L239.56 163.65L239.60 163.68L239.65 169.03L239.70 167.70L239.74 170.67L239.84 162.18L239.88 167.82L239.98 170.58L240.02 167.49L240.07 166.78L240.12 171.25L240.16 169.85L240.21 166.49L240.26 168.52L240.30 170.90L240.35 168.08L240.40 168.71L240.44 169.74L240.49 170.89L240.54 167.56L240.58 170.98L240.63 173.64L240.68 172.25L240.72 169.46L240.82 174.12L240.86 165.50L240.91 175.11L240.96 172.33L241.00 165.39L241.05 171.81L241.10 170.81L241.14 175.26L241.19 169.14L241.24 176.80L241.28 166.24L241.33 171.06L241.37 167.00L241.42 171.12L241.47 174.55L241.51 172.03L241.56 164.26L241.65 169.87L241.70 164.74L241.75 176.10L241.79 170.53L241.84 165.65L241.89 172.80L241.93 167.63L241.98 170.56L242.03 164.13L242.07 166.85L242.12 168.20L242.21 171.46L242.26 174.65L242.31 172.94L242.35 177.60L242.40 169.88L242.49 161.92L242.54 167.67L242.59 163.54L242.63 173.24L242.68 171.68L242.73 167.61L242.77 171.87L242.82 165.94L242.87 165.82L242.91 169.61L242.96 170.83L243.01 170.04L243.05 172.36L243.10 163.29L243.15 168.90L243.19 163.57L243.24 172.79L243.29 162.36L243.33 170.70L243.38 169.42L243.47 164.98L243.52 163.73L243.61 172.92L243.66 163.48L243.75 173.60L243.80 174.15L243.84 170.54L243.89 178.44L243.94 170.10L243.98 171.07L244.03 163.78L244.08 166.06L244.17 178.98L244.22 173.65L244.31 166.66L244.36 176.23L244.40 170.38L244.45 175.10L244.50 164.10L244.59 173.05L244.64 168.61L244.68 172.09L244.73 171.06L244.78 168.86L244.87 171.51L244.92 163.39L245.01 171.55L245.06 163.55L245.10 167.17L245.15 164.18L245.20 171.39L245.29 167.20L245.34 166.41L245.38 170.50L245.43 162.14L245.48 173.41L245.52 166.80L245.57 169.87L245.62 169.92L245.71 161.10L245.76 171.61L245.80 176.65L245.85 164.94L245.89 167.73L245.99 166.30L246.03 162.38L246.08 171.90L246.13 170.19L246.17 166.08L246.22 169.96L246.27 168.11L246.31 174.08L246.41 166.02L246.45 183.45L246.50 167.51L246.55 179.50L246.59 160.92L246.64 164.65L246.69 163.33L246.73 163.20L246.78 172.44L246.83 168.70L246.87 172.55L246.92 166.89L246.97 169.98L247.01 167.06L247.06 170.88L247.11 168.38L247.15 172.33L247.20 171.09L247.25 171.98L247.29 169.92L247.39 164.92L247.43 172.42L247.48 165.99L247.53 172.33L247.57 163.77L247.67 172.33L247.71 169.50L247.76 165.98L247.81 168.84L247.85 167.06L247.90 169.03L247.95 161.35L247.99 165.15L248.04 167.82L248.09 167.30L248.13 161.16L248.22 167.99L248.27 172.72L248.32 165.29L248.36 171.20L248.41 169.51L248.46 161.18L248.50 172.21L248.55 165.12L248.64 175.00L248.69 171.51L248.78 169.43L248.83 170.31L248.88 170.62L248.92 169.82L248.97 164.99L249.06 172.09L249.11 168.77L249.16 170.67L249.20 164.87L249.25 174.91L249.34 166.30L249.39 170.37L249.44 170.79L249.48 167.63L249.53 175.17L249.58 171.76L249.62 174.81L249.67 167.29L249.72 173.04L249.76 170.33L249.81 177.80L249.90 165.28L249.95 167.46L250.00 164.23L250.04 181.20L250.09 180.99L250.14 162.85L250.18 167.36L250.23 174.55L250.28 165.83L250.32 167.11L250.37 167.39L250.46 165.69L250.51 166.55L250.56 167.79L250.60 166.95L250.65 167.82L250.74 168.69L250.79 169.93L250.88 166.24L250.93 169.29L251.02 162.89L251.07 162.53L251.16 171.69L251.21 163.71L251.25 175.20L251.30 163.38L251.35 164.27L251.39 170.73L251.44 169.35L251.49 173.05L251.53 168.16L251.58 173.29L251.63 174.61L251.67 168.19L251.72 171.38L251.77 169.34L251.86 171.96L251.91 168.18L251.95 172.67L252.00 167.21L252.05 171.16L252.09 164.64L252.14 170.85L252.19 166.52L252.23 165.74L252.28 169.37L252.33 174.07L252.37 166.30L252.42 174.28L252.47 167.51L252.51 175.24L252.56 170.67L252.61 169.54L252.65 171.39L252.70 168.21L252.75 166.95L252.79 168.56L252.84 168.29L252.88 164.22L252.98 167.61L253.02 171.16L253.07 173.63L253.12 171.51L253.16 165.72L253.21 168.62L253.26 166.42L253.30 174.66L253.35 176.86L253.40 168.58L253.44 180.01L253.49 170.32L253.54 175.87L253.58 168.80L253.63 167.50L253.68 174.38L253.72 165.13L253.82 169.80L253.86 173.17L253.96 170.38L254.00 165.89L254.10 176.18L254.14 176.34L254.19 168.24L254.24 170.26L254.28 166.00L254.33 167.20L254.38 165.94L254.42 164.84L254.52 167.82L254.56 177.37L254.66 165.80L254.70 166.97L254.75 173.91L254.80 167.25L254.84 165.17L254.94 170.34L254.98 177.66L255.08 162.60L255.12 168.66L255.17 165.30L255.22 169.65L255.26 173.57L255.31 164.19L255.35 167.00L255.40 164.54L255.49 173.59L255.54 163.69L255.59 170.09L255.63 167.60L255.68 167.64L255.73 165.65L255.77 167.06L255.82 163.95L255.87 169.30L255.91 164.99L255.96 163.27L256.05 173.28L256.10 169.24L256.15 164.26L256.19 167.66L256.24 165.17L256.33 176.71L256.38 172.39L256.47 176.86L256.52 169.96L256.57 164.94L256.61 166.75L256.66 167.32L256.71 167.04L256.75 170.17L256.80 163.17L256.89 166.55L256.94 178.04L257.03 164.72L257.08 169.12L257.13 175.86L257.17 165.46L257.22 170.63L257.27 170.04L257.31 170.29L257.36 169.88L257.41 173.11L257.45 167.52L257.50 164.33L257.59 173.57L257.64 170.35L257.68 169.68L257.73 169.86L257.78 167.72L257.82 169.37L257.87 168.98L257.92 168.80L257.96 173.84L258.01 167.41L258.06 165.44L258.15 168.37L258.20 159.66L258.24 167.47L258.29 161.66L258.34 171.95L258.43 174.96L258.48 173.19L258.57 169.27L258.62 168.13L258.66 170.32L258.71 168.89L258.76 171.79L258.85 173.13L258.90 170.61L258.94 164.37L258.99 179.33L259.04 166.49L259.08 166.40L259.13 170.63L259.18 166.82L259.22 163.88L259.27 171.82L259.32 167.93L259.36 170.89L259.41 170.03L259.46 169.16L259.55 171.50L259.60 170.95L259.69 163.45L259.74 167.58L259.78 165.70L259.83 170.20L259.88 170.71L259.97 164.76L260.01 167.99L260.06 174.32L260.11 165.44L260.15 161.47L260.25 175.76L260.29 168.01L260.34 162.07L260.39 169.85L260.43 167.34L260.48 169.91L260.53 167.15L260.57 177.88L260.67 170.33L260.71 167.06L260.81 172.23L260.85 170.15L260.90 173.81L260.95 172.47L260.99 171.09L261.09 162.93L261.13 170.14L261.18 171.02L261.23 168.66L261.27 178.78L261.37 165.36L261.41 172.60L261.51 162.76L261.55 168.67L261.65 171.62L261.69 163.07L261.79 172.01L261.83 167.49L261.88 162.60L261.93 172.97L261.97 176.47L262.02 163.26L262.07 168.74L262.11 164.70L262.20 174.00L262.25 175.38L262.30 164.39L262.34 171.20L262.39 167.50L262.44 173.25L262.48 165.97L262.53 172.05L262.58 172.99L262.62 164.90L262.67 166.32L262.72 169.41L262.76 164.93L262.81 174.20L262.90 163.69L262.95 166.36L263.04 172.39L263.09 168.37L263.14 173.27L263.18 168.09L263.23 170.01L263.32 167.89L263.37 172.68L263.46 168.44L263.51 175.31L263.56 163.48L263.60 169.76L263.65 169.54L263.70 165.31L263.74 166.02L263.79 177.04L263.84 162.28L263.88 163.11L263.93 170.74L263.98 166.79L264.02 166.84L264.07 172.80L264.16 167.65L264.21 163.32L264.26 178.26L264.30 170.19L264.35 173.00L264.40 163.95L264.44 172.82L264.49 172.94L264.58 168.37L264.63 167.81L264.67 167.38L264.72 170.31L264.77 169.25L264.81 172.14L264.86 171.76L264.91 171.52L264.95 173.33L265.00 161.81L265.05 168.86L265.09 168.81L265.14 170.32L265.19 169.87L265.28 162.58L265.33 170.65L265.42 162.27L265.47 173.41L265.56 166.14L265.61 171.30L265.65 165.28L265.70 174.69L265.75 166.15L265.79 163.43L265.84 173.45L265.89 166.84L265.93 163.15L265.98 170.53L266.03 168.59L266.12 174.46L266.17 168.93L266.21 162.75L266.26 169.20L266.31 164.02L266.35 181.98L266.40 169.43L266.45 179.07L266.54 167.89L266.59 163.77L266.63 170.55L266.68 163.52L266.73 169.13L266.82 174.97L266.87 173.83L266.96 169.30L267.00 162.67L267.10 164.85L267.14 168.41L267.24 164.17L267.28 174.63L267.38 165.78L267.42 172.97L267.47 163.09L267.52 166.98L267.56 167.45L267.66 170.48L267.70 167.06L267.80 170.93L267.84 169.17L267.89 164.06L267.94 172.98L267.98 165.90L268.03 165.01L268.08 169.39L268.12 170.36L268.17 166.77L268.22 171.28L268.26 175.73L268.31 163.63L268.36 174.55L268.40 171.24L268.45 171.81L268.50 169.49L268.54 165.63L268.59 170.72L268.64 170.07L268.68 167.71L268.73 171.32L268.78 166.98L268.82 164.32L268.87 167.03L268.92 162.31L268.96 166.41L269.06 180.45L269.10 171.01L269.15 165.26L269.19 173.88L269.24 169.68L269.33 164.76L269.38 168.13L269.43 168.83L269.47 167.32L269.52 177.44L269.57 168.01L269.61 172.30L269.66 170.01L269.75 177.06L269.80 169.79L269.85 167.12L269.89 167.42L269.94 174.76L269.99 172.13L270.03 173.13L270.08 167.48L270.13 165.50L270.17 166.96L270.22 166.91L270.27 163.05L270.31 169.22L270.36 169.33L270.41 165.32L270.45 174.52L270.50 173.82L270.55 168.64L270.59 162.32L270.64 172.60L270.69 168.51L270.73 171.75L270.78 166.23L270.83 167.26L270.92 171.22L270.97 170.29L271.01 175.94L271.06 173.25L271.11 166.87L271.15 180.27L271.20 163.55L271.25 172.76L271.34 163.34L271.39 180.93L271.48 172.31L271.52 168.85L271.62 162.25L271.66 170.49L271.71 163.85L271.76 169.62L271.80 170.17L271.85 165.29L271.90 172.32L271.94 174.17L271.99 164.57L272.04 167.67L272.08 168.64L272.13 167.84L272.18 177.39L272.22 166.58L272.27 162.27L272.32 168.78L272.36 166.50L272.41 167.87L272.46 164.28L272.50 166.34L272.55 178.11L272.60 165.71L272.64 165.07L272.69 177.00L272.74 169.61L272.78 165.36L272.83 163.61L272.88 171.14L272.92 160.10L273.02 168.20L273.06 166.81L273.16 165.41L273.20 172.55L273.25 166.21L273.30 166.71L273.34 158.85L273.44 169.27L273.48 171.09L273.53 167.82L273.58 169.44L273.62 174.31L273.72 169.55L273.76 170.08L273.81 163.21L273.86 165.13L273.90 168.31L273.95 164.98L273.99 169.65L274.04 172.96L274.09 175.77L274.13 168.32L274.18 166.73L274.23 164.91L274.27 179.80L274.32 172.23L274.37 168.64L274.41 169.50L274.46 177.57L274.51 168.94L274.55 170.26L274.60 165.27L274.65 173.27L274.69 163.10L274.74 173.04L274.79 162.71L274.83 168.80L274.88 165.28L274.97 173.49L275.02 164.04L275.07 170.18L275.11 164.78L275.16 172.23L275.21 172.30L275.25 169.16L275.30 163.94L275.35 170.59L275.39 160.84L275.44 168.39L275.49 162.99L275.53 174.47L275.58 169.79L275.67 164.02L275.72 169.90L275.77 160.81L275.81 172.43L275.86 167.36L275.91 163.13L275.95 164.91L276.00 167.12L276.05 164.35L276.09 171.02L276.14 165.07L276.19 174.07L276.23 172.25L276.28 164.59L276.37 169.17L276.42 172.66L276.46 169.21L276.51 170.93L276.56 162.96L276.60 160.38L276.65 171.82L276.70 166.95L276.79 166.26L276.84 167.00L276.88 165.16L276.93 177.75L276.98 170.40L277.02 170.91L277.07 169.93L277.12 173.63L277.21 170.14L277.26 166.65L277.35 172.87L277.40 173.44L277.44 175.23L277.49 170.80L277.54 170.91L277.63 165.84L277.68 167.91L277.72 165.43L277.77 167.43L277.82 166.96L277.91 164.84L277.96 160.07L278.05 170.47L278.10 175.83L278.19 162.47L278.24 168.27L278.33 172.18L278.38 168.49L278.42 179.22L278.47 165.71L278.51 171.70L278.61 162.39L278.65 175.69L278.70 169.99L278.75 172.39L278.79 172.60L278.84 165.14L278.89 165.21L278.93 166.36L279.03 170.05L279.07 167.69L279.17 165.38L279.21 169.95L279.26 166.80L279.31 171.02L279.35 174.45L279.40 161.92L279.45 168.30L279.49 168.54L279.54 171.39L279.59 168.06L279.63 170.50L279.73 163.31L279.77 170.53L279.82 171.77L279.87 168.72L279.91 167.96L280.01 174.30L280.05 167.30L280.15 168.75L280.19 170.89L280.24 168.43L280.29 169.31L280.33 171.92L280.38 168.14L280.43 169.32L280.47 167.17L280.52 169.37L280.57 166.83L280.61 174.89L280.66 168.62L280.71 175.16L280.75 162.94L280.80 168.80L280.85 166.69L280.89 169.66L280.94 167.60L280.98 167.70L281.03 169.77L281.08 174.86L281.12 171.91L281.17 167.53L281.22 166.20L281.26 170.15L281.31 171.47L281.36 168.92L281.40 171.04L281.45 166.87L281.50 177.15L281.54 173.56L281.59 165.36L281.64 168.00L281.68 160.76L281.73 172.73L281.78 164.07L281.82 167.63L281.87 162.62L281.96 172.37L282.01 171.33L282.10 160.31L282.15 166.15L282.24 175.70L282.29 166.74L282.38 170.24L282.43 167.46L282.48 175.48L282.52 167.94L282.57 167.08L282.62 166.99L282.66 171.09L282.71 167.75L282.80 178.34L282.85 178.67L282.90 165.46L282.94 172.80L282.99 165.94L283.04 171.95L283.08 166.63L283.13 163.59L283.18 160.71L283.22 169.41L283.27 162.55L283.36 182.69L283.41 179.12L283.50 164.00L283.55 169.48L283.59 168.79L283.64 171.36L283.69 171.59L283.73 164.31L283.78 169.32L283.83 170.97L283.87 166.39L283.92 171.06L283.97 167.37L284.01 170.25L284.06 167.17L284.11 169.41L284.15 175.75L284.20 164.90L284.25 165.54L284.34 170.48L284.39 164.03L284.43 172.21L284.48 167.16L284.53 166.55L284.57 166.20L284.62 169.31L284.67 170.03L284.71 161.96L284.76 171.84L284.81 176.06L284.90 168.50L284.95 171.84L285.04 164.61L285.09 176.26L285.18 169.80L285.23 167.96L285.27 173.87L285.32 170.69L285.37 176.55L285.46 163.79L285.50 167.86L285.60 166.38L285.64 164.14L285.74 165.96L285.78 165.23L285.83 173.84L285.88 166.48L285.92 171.24L285.97 166.57L286.02 168.11L286.06 168.03L286.11 166.15L286.16 167.43L286.20 169.46L286.25 161.77L286.30 167.79L286.34 166.43L286.44 170.48L286.48 171.26L286.53 167.95L286.58 168.21L286.62 165.92L286.67 169.92L286.72 163.88L286.76 164.85L286.81 178.41L286.86 174.34L286.90 170.19L287.00 166.57L287.04 167.05L287.09 169.62L287.14 162.72L287.18 173.69L287.23 170.28L287.28 171.23L287.32 168.02L287.37 167.21L287.42 168.45L287.46 166.83L287.51 168.58L287.56 164.06L287.60 170.72L287.70 166.55L287.74 167.23L287.79 166.97L287.83 168.51L287.88 173.96L287.93 167.41L287.97 171.43L288.02 165.91L288.11 168.25L288.16 170.25L288.21 165.09L288.25 168.71L288.30 174.35L288.39 162.07L288.44 165.12L288.53 171.61L288.58 169.67L288.67 165.39L288.72 168.03L288.81 162.11L288.86 168.14L288.91 165.98L288.95 166.40L289.00 166.00L289.05 163.81L289.09 170.68L289.14 172.57L289.19 170.13L289.23 170.66L289.28 171.04L289.37 165.24L289.42 171.96L289.47 177.76L289.51 176.60L289.56 168.89L289.65 173.11L289.70 168.35L289.75 165.24L289.79 168.52L289.84 166.53L289.89 176.89L289.93 166.71L289.98 170.85L290.03 168.20L290.07 174.91L290.12 171.58L290.21 172.71L290.26 168.14L290.30 169.51L290.35 169.06L290.40 164.53L290.49 167.20L290.54 166.21L290.58 167.86L290.63 164.67L290.68 166.65L290.72 169.94L290.77 169.50L290.82 166.17L290.86 171.48L290.91 168.48L290.96 168.61L291.00 169.40L291.05 168.99L291.10 166.89L291.19 162.34L291.24 166.84L291.33 165.14L291.38 174.84L291.47 165.74L291.52 167.00L291.56 170.40L291.61 165.85L291.66 171.14L291.70 173.07L291.75 167.21L291.80 167.11L291.89 159.56L291.94 170.20L291.98 165.46L292.03 170.67L292.08 168.91L292.17 163.09L292.22 169.34L292.31 180.57L292.36 163.98L292.40 168.05L292.45 164.53L292.50 169.69L292.54 173.11L292.59 171.66L292.63 164.50L292.68 171.77L292.73 166.52L292.77 164.54L292.82 175.56L292.87 163.58L292.91 167.41L293.01 168.30L293.05 165.02L293.10 170.07L293.15 165.20L293.19 167.71L293.24 166.57L293.29 170.34L293.33 163.99L293.43 170.88L293.47 168.19L293.52 169.44L293.57 166.87L293.61 165.52L293.66 175.67L293.71 166.67L293.75 164.71L293.85 168.73L293.89 165.66L293.94 172.03L293.99 170.52L294.03 171.02L294.08 172.74L294.13 167.28L294.17 167.42L294.27 165.35L294.31 170.01L294.36 168.32L294.41 173.17L294.45 172.36L294.50 174.16L294.55 165.09L294.59 167.28L294.64 172.54L294.69 170.14L294.73 172.90L294.78 176.75L294.82 165.05L294.87 167.22L294.92 163.16L294.96 168.87L295.01 168.90L295.10 171.32L295.15 170.42L295.20 171.65L295.24 169.89L295.29 167.61L295.34 170.65L295.38 162.44L295.43 169.78L295.52 162.54L295.57 170.23L295.62 164.01L295.66 166.47L295.71 172.48L295.76 169.86L295.80 180.76L295.85 171.24L295.90 167.28L295.94 171.08L295.99 168.74L296.08 170.07L296.13 169.04L296.18 170.10L296.22 169.82L296.27 166.23L296.32 161.30L296.36 170.91L296.41 168.47L296.50 170.64L296.55 167.13L296.60 168.00L296.64 163.68L296.69 164.51L296.78 174.40L296.83 167.38L296.88 165.38L296.92 166.15L296.97 168.06L297.02 168.68L297.06 168.65L297.11 169.38L297.20 166.64L297.25 169.77L297.29 173.60L297.34 167.19L297.39 171.10L297.43 167.68L297.48 170.08L297.53 175.40L297.62 168.68L297.67 165.75L297.76 167.32L297.81 167.35L297.85 164.27L297.90 172.25L297.95 162.79L298.04 167.55L298.09 171.24L298.13 163.44L298.18 169.46L298.23 167.59L298.27 168.36L298.32 167.35L298.37 169.82L298.41 166.52L298.46 167.52L298.51 169.50L298.55 165.73L298.60 166.54L298.65 169.90L298.74 165.98L298.79 173.99L298.83 167.38L298.88 167.70L298.93 173.49L299.02 163.29L299.07 165.79L299.11 171.88L299.16 169.20L299.21 169.68L299.30 171.09L299.35 168.71L299.39 169.78L299.44 162.95L299.49 162.18L299.58 169.01L299.62 173.87L299.72 170.76L299.76 167.55L299.81 162.34L299.86 169.84L299.90 163.23L299.95 167.48L300.00 167.03L300.04 168.41L300.09 178.71L300.14 171.28L300.18 169.25L300.23 166.42L300.28 171.81L300.32 169.73L300.37 172.75L300.42 169.35L300.46 171.25L300.51 165.58L300.56 171.65L300.60 172.14L300.70 164.39L300.74 168.32L300.79 168.65L300.84 166.11L300.88 168.21L300.98 165.61L301.02 168.21L301.07 174.99L301.12 167.22L301.16 166.04L301.21 164.41L301.26 171.09L301.30 171.67L301.35 167.45L301.40 168.46L301.44 167.90L301.49 170.46L301.54 168.58L301.58 168.60L301.63 178.08L301.68 164.70L301.72 170.22L301.77 175.57L301.81 175.07L301.86 168.74L301.91 175.14L301.95 170.03L302.00 172.89L302.05 170.12L302.09 170.52L302.14 162.47L302.19 167.22L302.23 163.95L302.28 173.75L302.33 169.55L302.37 172.79L302.42 166.55L302.47 163.34L302.51 168.24L302.56 175.43L302.65 164.92L302.70 163.39L302.75 170.03L302.79 168.79L302.84 172.84L302.89 175.50L302.93 170.27L302.98 164.15L303.03 171.57L303.12 167.71L303.17 170.40L303.26 175.30L303.31 169.84L303.40 166.00L303.45 168.06L303.54 174.93L303.59 173.72L303.68 170.33L303.73 174.35L303.82 169.77L303.87 168.19L303.96 173.97L304.01 172.20L304.05 165.29L304.10 172.45L304.14 167.73L304.24 163.35L304.28 174.24L304.33 168.89L304.38 170.42L304.42 171.69L304.47 165.59L304.52 168.09L304.56 164.13L304.66 178.66L304.70 169.42L304.80 164.12L304.84 170.11L304.94 164.34L304.98 179.59L305.03 169.25L305.08 170.82L305.12 173.12L305.22 169.54L305.26 161.61L305.31 172.59L305.36 170.29L305.40 164.99L305.45 160.42L305.50 174.07L305.54 166.51L305.59 171.40L305.64 163.22L305.68 165.94L305.73 167.31L305.78 164.58L305.82 167.88L305.87 168.82L305.92 166.94L305.96 175.03L306.06 164.79L306.10 180.19L306.20 166.29L306.24 166.41L306.29 168.46L306.34 166.34L306.38 169.37L306.43 163.89L306.48 172.97L306.52 163.13L306.61 171.66L306.66 166.00L306.71 170.16L306.75 162.42L306.80 170.25L306.89 177.06L306.94 167.80L306.99 161.06L307.03 165.73L307.08 168.68L307.13 178.66L307.17 174.14L307.22 166.94L307.27 170.67L307.31 168.68L307.36 168.66L307.41 166.40L307.45 171.03L307.50 166.24L307.55 164.55L307.59 169.08L307.64 166.42L307.73 170.71L307.78 167.78L307.87 171.63L307.92 169.28L307.97 169.61L308.01 165.27L308.06 164.14L308.15 176.38L308.20 171.66L308.25 164.63L308.29 173.60L308.34 173.35L308.39 176.81L308.43 171.97L308.48 169.79L308.57 162.20L308.62 168.42L308.71 166.47L308.76 168.04L308.81 166.91L308.85 175.52L308.90 166.40L308.94 165.64L308.99 175.04L309.04 172.52L309.13 167.03L309.18 166.38L309.22 163.17L309.27 165.88L309.32 160.65L309.41 172.25L309.46 174.22L309.55 163.72L309.60 171.59L309.64 168.53L309.69 173.91L309.74 162.91L309.78 167.69L309.83 164.99L309.88 172.07L309.97 164.10L310.02 167.46L310.06 174.96L310.11 171.71L310.16 169.76L310.20 166.43L310.25 167.20L310.30 164.97L310.39 173.63L310.44 164.67L310.53 175.01L310.58 168.92L310.62 173.38L310.67 160.43L310.72 169.30L310.81 164.83L310.86 173.64L310.90 165.89L310.95 168.90L311.00 166.82L311.04 174.30L311.09 166.56L311.13 174.55L311.23 166.92L311.27 166.31L311.32 165.11L311.37 175.24L311.41 162.30L311.46 169.04L311.51 167.98L311.55 164.73L311.60 162.10L311.65 171.57L311.69 168.27L311.79 163.48L311.83 166.94L311.88 160.82L311.93 165.51L311.97 170.60L312.02 170.74L312.07 168.89L312.11 168.39L312.16 170.92L312.21 167.35L312.25 164.91L312.30 169.55L312.35 164.56L312.39 165.74L312.44 166.80L312.49 163.09L312.53 163.19L312.58 172.95L312.63 167.27L312.67 166.19L312.77 174.57L312.81 168.77L312.86 172.13L312.91 169.10L312.95 173.34L313.00 165.81L313.05 172.94L313.09 174.08L313.19 168.08L313.23 172.62L313.28 166.99L313.33 173.11L313.37 162.27L313.42 166.80L313.47 166.56L313.51 167.95L313.60 174.77L313.65 167.16L313.70 165.85L313.74 171.80L313.79 167.62L313.84 172.84L313.88 165.09L313.93 168.10L313.98 162.79L314.02 165.17L314.07 170.36L314.16 161.81L314.21 163.52L314.30 172.30L314.35 170.66L314.40 171.75L314.44 170.27L314.49 158.77L314.54 166.59L314.58 163.01L314.63 172.31L314.72 165.03L314.77 175.55L314.82 171.13L314.86 174.99L314.91 174.13L315.00 165.62L315.05 164.83L315.14 172.42L315.19 162.98L315.28 169.30L315.33 162.10L315.42 173.60L315.47 164.59L315.56 174.58L315.61 164.78L315.66 171.97L315.70 170.71L315.75 166.06L315.79 164.10L315.84 176.94L315.89 166.99L315.98 163.57L316.03 168.59L316.07 171.58L316.12 166.65L316.17 174.54L316.21 163.39L316.26 170.17L316.31 174.21L316.40 164.25L316.45 166.15L316.49 173.25L316.54 163.02L316.59 166.66L316.68 168.86L316.73 164.44L316.82 168.19L316.87 167.57L316.91 167.53L316.96 167.99L317.01 168.49L317.10 163.30L317.15 172.57L317.19 175.71L317.24 171.52L317.29 166.87L317.33 170.03L317.38 168.33L317.43 165.84L317.47 167.06L317.52 166.62L317.57 165.46L317.66 170.14L317.71 170.05L317.75 168.87L317.80 172.68L317.85 170.02L317.89 172.68L317.94 171.10L317.99 175.71L318.08 163.91L318.12 174.59L318.22 166.46L318.26 164.88L318.31 170.03L318.36 167.52L318.40 169.12L318.50 167.24L318.54 165.29L318.64 170.60L318.68 171.38L318.73 172.82L318.78 168.46L318.82 166.21L318.87 169.94L318.92 166.62L318.96 164.13L319.01 171.28L319.06 164.47L319.10 167.56L319.15 172.16L319.20 171.81L319.24 167.46L319.29 168.83L319.34 166.05L319.38 176.37L319.48 164.37L319.52 173.00L319.62 161.76L319.66 165.51L319.76 169.72L319.80 168.35L319.85 165.61L319.90 169.57L319.94 166.69L320.04 176.84L320.08 167.97L320.13 170.57L320.18 164.13L320.22 167.33L320.27 165.94L320.32 173.65L320.36 165.58L320.41 175.63L320.46 165.00L320.50 167.62L320.59 162.90L320.64 164.21L320.73 172.68L320.78 167.32L320.83 167.42L320.87 167.11L320.92 172.29L320.97 172.98L321.01 168.22L321.06 162.98L321.11 172.32L321.15 166.99L321.20 166.73L321.29 180.33L321.34 166.31L321.39 176.96L321.43 169.00L321.48 174.68L321.57 164.98L321.62 177.19L321.71 171.36L321.76 172.12L321.81 168.39L321.85 169.18L321.90 167.94L321.95 168.44L321.99 168.38L322.04 162.62L322.09 172.54L322.13 167.55L322.18 168.95L322.23 165.75L322.27 181.06L322.32 171.85L322.37 167.02L322.41 168.80L322.46 164.04L322.51 175.29L322.55 160.58L322.60 166.81L322.69 171.68L322.74 172.47L322.83 168.33L322.88 172.08L322.92 167.01L322.97 170.40L323.02 166.26L323.06 171.94L323.11 167.99L323.16 171.74L323.20 164.42L323.25 168.64L323.30 167.43L323.34 162.41L323.39 167.65L323.44 171.40L323.48 169.10L323.53 170.27L323.58 165.94L323.62 161.98L323.67 162.22L323.72 168.86L323.81 164.32L323.86 165.68L323.90 178.41L323.95 171.80L324.00 170.19L324.04 171.11L324.09 168.12L324.14 166.50L324.18 173.21L324.23 165.24L324.28 168.35L324.37 161.94L324.42 170.26L324.46 176.33L324.51 170.22L324.56 168.56L324.60 170.17L324.65 169.23L324.70 172.46L324.79 163.28L324.84 165.54L324.88 172.13L324.93 168.14L324.98 166.71L325.02 172.33L325.07 168.69L325.12 171.62L325.16 162.59L325.21 165.12L325.25 167.56L325.30 176.78L325.35 165.85L325.39 172.98L325.49 163.91L325.53 163.97L325.63 171.95L325.67 167.13L325.72 166.92L325.77 182.26L325.81 171.20L325.86 165.80L325.91 169.74L325.95 163.66L326.00 167.97L326.05 166.38L326.09 166.45L326.19 163.55L326.23 169.43L326.33 174.11L326.37 167.77L326.42 173.31L326.47 172.63L326.51 167.37L326.56 169.66L326.61 169.03L326.65 162.22L326.75 170.41L326.79 168.36L326.84 172.68L326.89 167.81L326.93 166.36L326.98 163.26L327.03 166.72L327.07 167.80L327.12 167.04L327.17 167.39L327.21 169.82L327.26 176.31L327.31 170.27L327.35 166.67L327.40 166.07L327.44 167.63L327.49 169.03L327.54 170.47L327.58 169.61L327.63 173.61L327.68 161.35L327.72 169.55L327.77 167.80L327.82 166.66L327.86 172.07L327.91 172.64L328.00 168.37L328.05 165.67L328.10 170.98L328.14 170.52L328.19 171.81L328.24 167.51L328.28 167.70L328.33 165.42L328.38 163.95L328.42 166.52L328.47 169.26L328.52 170.38L328.56 167.33L328.61 169.02L328.70 165.25L328.75 170.83L328.80 166.14L328.84 167.93L328.89 174.35L328.94 165.13L328.98 168.60L329.03 170.91L329.12 164.82L329.17 172.34L329.22 169.09L329.26 173.75L329.31 169.52L329.36 167.57L329.40 167.73L329.45 168.47L329.50 163.14L329.54 165.35L329.59 167.16L329.68 168.31L329.73 170.58L329.77 171.71L329.82 168.94L329.87 166.13L329.96 176.57L330.01 165.94L330.05 169.29L330.10 165.65L330.15 167.40L330.19 172.65L330.24 172.50L330.29 170.20L330.33 177.60L330.38 161.42L330.43 170.34L330.47 169.84L330.52 173.72L330.57 167.91L330.66 162.75L330.71 170.17L330.75 162.91L330.80 166.93L330.85 173.92L330.89 164.00L330.94 170.42L330.99 166.06L331.08 169.21L331.13 169.67L331.17 165.55L331.22 170.89L331.27 171.92L331.31 163.91L331.36 168.74L331.41 162.64L331.45 173.99L331.50 168.45L331.55 168.02L331.59 171.84L331.64 163.32L331.69 168.40L331.73 175.69L331.78 166.14L331.83 174.18L331.92 166.50L331.97 160.32L332.01 170.09L332.06 167.90L332.11 170.32L332.15 170.68L332.20 165.66L332.24 164.16L332.34 179.21L332.38 165.23L332.48 172.95L332.52 171.61L332.57 177.40L332.62 166.32L332.66 168.83L332.71 167.69L332.76 171.38L332.80 171.97L332.90 165.38L332.94 168.50L332.99 168.76L333.04 165.80L333.08 161.85L333.18 168.44L333.22 169.33L333.27 166.29L333.32 169.07L333.36 167.29L333.41 166.08L333.46 170.62L333.50 163.82L333.55 161.00L333.60 170.85L333.64 165.03L333.69 175.09L333.74 165.24L333.78 175.54L333.83 163.31L333.88 164.63L333.92 175.20L333.97 170.32L334.02 176.21L334.06 161.54L334.16 167.28L334.20 172.58L334.25 167.37L334.30 167.40L334.34 164.00L334.39 160.92L334.44 164.23L334.48 164.19L334.57 168.81L334.62 164.65L334.71 169.67L334.76 172.52L334.81 172.78L334.85 170.77L334.90 172.67L334.95 173.21L334.99 168.88L335.04 172.62L335.09 167.73L335.13 167.83L335.18 167.28L335.23 173.52L335.27 165.75L335.32 172.97L335.41 166.97L335.46 171.60L335.51 160.54L335.55 166.82L335.60 167.45L335.65 163.74L335.69 176.64L335.74 164.00L335.79 172.02L335.83 171.51L335.88 176.94L335.93 164.54L336.02 174.67L336.07 168.70L336.11 163.95L336.16 171.67L336.21 167.35L336.25 172.24L336.30 169.02L336.35 161.53L336.44 170.74L336.49 163.85L336.53 175.60L336.58 168.04L336.63 165.24L336.67 174.86L336.72 165.89L336.76 160.58L336.86 172.10L336.90 166.01L336.95 170.29L337.00 169.97L337.04 162.34L337.14 168.19L337.18 168.10L337.28 173.52L337.32 169.33L337.37 167.23L337.42 168.39L337.46 162.61L337.56 169.97L337.60 168.89L337.65 161.46L337.70 162.35L337.74 165.42L337.79 172.71L337.84 171.21L337.88 169.58L337.93 166.58L337.98 166.99L338.02 165.85L338.07 176.41L338.12 167.70L338.16 164.45L338.26 168.09L338.30 169.58L338.35 169.43L338.40 172.32L338.44 168.47L338.49 163.86L338.54 168.24L338.58 162.93L338.68 170.12L338.72 164.01L338.77 172.67L338.82 169.82L338.86 173.79L338.91 168.22L338.96 171.96L339.00 171.28L339.10 170.57L339.14 165.59L339.23 157.21L339.28 167.00L339.33 163.99L339.37 171.74L339.42 167.26L339.47 169.09L339.51 167.58L339.56 166.86L339.65 169.91L339.70 170.94L339.79 166.53L339.84 174.51L339.89 162.33L339.93 164.49L339.98 171.48L340.03 164.33L340.07 166.26L340.12 172.19L340.21 166.73L340.26 171.20L340.31 167.45L340.35 169.87L340.40 162.99L340.45 173.43L340.49 163.06L340.54 170.76L340.63 161.24L340.68 172.47L340.73 173.18L340.77 172.71L340.82 177.46L340.91 160.01L340.96 170.85L341.05 165.20L341.10 165.97L341.15 177.06L341.19 166.37L341.24 162.19L341.33 175.17L341.38 167.12L341.43 163.75L341.47 165.02L341.52 170.63L341.61 166.64L341.66 169.96L341.70 167.55L341.75 167.57L341.80 170.77L341.84 169.40L341.89 170.66L341.94 162.72L341.98 167.05L342.03 164.59L342.08 166.73L342.12 164.47L342.17 169.98L342.22 167.14L342.26 172.90L342.31 166.96L342.36 167.14L342.45 175.72L342.50 172.49L342.54 166.28L342.59 171.30L342.64 169.95L342.68 176.99L342.73 157.88L342.78 169.45L342.87 174.64L342.92 164.17L342.96 168.78L343.01 167.28L343.06 167.10L343.10 168.88L343.15 165.93L343.20 160.57L343.24 170.20L343.29 168.06L343.34 165.73L343.38 166.73L343.43 163.35L343.48 166.94L343.52 169.75L343.57 165.23L343.62 174.44L343.71 166.92L343.75 161.61L343.80 170.70L343.85 168.87L343.89 168.27L343.94 173.49L343.99 168.82L344.03 169.49L344.08 169.95L344.13 167.30L344.17 161.99L344.22 169.88L344.27 165.57L344.31 167.38L344.36 169.46L344.41 165.62L344.45 163.38L344.55 167.10L344.59 166.15L344.64 169.89L344.69 164.60L344.73 166.91L344.83 170.18L344.87 166.92L344.92 173.24L344.97 170.00L345.01 173.84L345.11 162.61L345.15 166.53L345.20 172.08L345.25 168.62L345.29 162.04L345.34 165.36L345.39 163.91L345.43 160.12L345.53 164.10L345.57 166.59L345.62 169.24L345.67 167.83L345.71 165.11L345.76 163.93L345.81 166.58L345.85 167.67L345.95 161.30L345.99 165.70L346.04 173.87L346.09 167.65L346.13 166.84L346.18 163.87L346.22 171.79L346.27 170.18L346.32 172.14L346.36 162.62L346.41 167.06L346.50 164.65L346.55 168.41L346.60 175.48L346.64 161.85L346.69 175.29L346.78 166.06L346.83 168.78L346.88 166.75L346.92 167.25L346.97 166.91L347.02 166.28L347.06 175.18L347.11 174.66L347.16 164.03L347.20 172.89L347.25 167.08L347.30 162.60L347.34 166.82L347.39 172.70L347.44 167.64L347.48 168.24L347.53 168.47L347.58 166.08L347.62 170.50L347.67 166.73L347.72 163.43L347.76 169.35L347.81 166.04L347.86 162.86L347.90 166.01L347.95 169.77L348.00 177.21L348.04 173.43L348.09 166.40L348.14 168.64L348.18 167.77L348.23 157.25L348.32 169.80L348.37 162.56L348.46 167.59L348.51 165.98L348.60 168.40L348.65 171.62L348.69 163.53L348.74 164.36L348.79 171.07L348.83 166.52L348.88 170.48L348.93 172.22L348.97 165.88L349.02 168.05L349.07 168.06L349.16 165.84L349.21 165.56L349.25 170.89L349.30 167.54L349.35 165.37L349.39 172.99L349.44 167.06L349.49 172.79L349.58 165.19L349.63 166.89L349.67 167.95L349.72 167.71L349.77 171.80L349.81 163.87L349.86 172.31L349.91 175.66L349.95 169.61L350.00 171.34L350.05 166.33L350.14 172.28L350.19 172.42L350.28 174.65L350.33 168.41L350.37 162.50L350.42 171.73L350.47 171.67L350.56 169.09L350.61 168.48L350.65 163.52L350.70 168.63L350.75 168.28L350.79 168.25L350.84 172.72L350.88 172.28L350.93 177.69L350.98 170.88L351.02 171.28L351.12 164.55L351.16 177.20L351.26 162.24L351.30 168.44L351.40 162.37L351.44 165.53L351.54 171.51L351.58 170.32L351.68 164.59L351.72 167.62L351.82 162.57L351.86 175.70L351.91 169.17L351.96 169.99L352.00 166.69L352.05 159.62L352.10 171.32L352.14 171.04L352.19 165.31L352.24 171.76L352.28 169.42L352.38 162.94L352.42 162.23L352.52 168.97L352.56 168.18L352.61 163.46L352.66 169.64L352.70 165.30L352.75 170.16L352.80 164.37L352.84 165.26L352.89 173.16L352.94 169.67L352.98 169.85L353.03 164.95L353.07 169.11L353.12 177.11L353.21 167.22L353.26 172.97L353.31 163.39L353.35 163.87L353.40 173.67L353.45 167.73L353.49 178.53L353.54 171.60L353.59 173.31L353.63 168.78L353.68 167.46L353.73 167.31L353.77 170.20L353.82 170.19L353.87 166.31L353.91 170.23L353.96 162.81L354.05 168.67L354.10 165.69L354.15 169.36L354.19 164.42L354.24 164.92L354.33 172.78L354.38 168.48L354.43 168.98L354.47 167.00L354.52 167.20L354.57 168.88L354.61 168.40L354.66 168.51L354.71 171.39L354.75 168.95L354.80 170.67L354.85 168.08L354.89 173.35L354.94 161.73L355.03 166.83L355.08 170.10L355.13 166.16L355.17 169.39L355.22 164.31L355.31 168.23L355.36 176.54L355.45 167.10L355.50 172.93L355.59 164.92L355.64 162.94L355.73 181.54L355.78 168.02L355.82 165.92L355.87 174.62L355.92 163.64L355.96 168.52L356.01 162.53L356.06 168.36L356.10 167.45L356.15 172.32L356.20 165.45L356.29 170.81L356.34 165.83L356.38 169.89L356.43 162.42L356.48 166.03L356.57 168.80L356.62 161.77L356.66 167.71L356.71 166.30L356.76 172.18L356.80 165.28L356.85 167.68L356.90 171.04L356.94 171.96L356.99 164.29L357.04 168.03L357.13 165.37L357.18 162.67L357.27 169.80L357.32 169.02L357.36 176.63L357.41 168.03L357.46 167.04L357.50 174.67L357.55 168.12L357.60 168.03L357.64 168.48L357.69 167.58L357.74 172.82L357.83 160.97L357.87 168.48L357.92 170.23L357.97 169.25L358.01 162.89L358.06 173.80L358.11 161.61L358.15 170.39L358.25 165.38L358.29 171.56L358.39 165.28L358.43 168.64L358.48 174.67L358.53 166.43L358.57 172.92L358.62 166.31L358.67 168.34L358.71 174.46L358.76 165.01L358.81 167.57L358.85 164.06L358.95 170.90L358.99 176.32L359.04 168.42L359.09 172.88L359.13 170.24L359.18 177.78L359.23 176.23L359.27 168.16L359.37 161.24L359.41 163.60L359.46 172.52L359.51 164.99L359.55 169.19L359.60 175.89L359.65 166.20L359.69 171.49L359.74 172.78L359.79 172.40L359.83 168.56L359.93 169.82L359.97 168.36L360.02 165.91L360.06 170.90L360.11 170.43L360.20 166.97L360.25 165.92L360.30 163.12L360.34 179.14L360.39 164.23L360.44 166.86L360.48 164.30L360.53 171.97L360.62 163.05L360.67 162.74L360.76 167.11L360.81 171.86L360.86 168.59L360.90 176.74L360.95 169.67L361.00 173.47L361.04 169.48L361.09 169.50L361.18 165.77L361.23 166.65L361.28 166.61L361.32 167.12L361.37 162.49L361.46 170.09L361.51 172.05L361.60 165.25L361.65 161.95L361.70 169.17L361.74 165.03L361.79 169.02L361.84 165.04L361.88 173.02L361.93 166.46L361.98 165.78L362.02 175.85L362.07 169.03L362.12 172.14L362.16 167.69L362.21 166.67L362.26 167.77L362.30 165.71L362.35 167.08L362.39 165.84L362.44 169.05L362.49 165.52L362.53 173.12L362.58 165.49L362.63 170.65L362.72 167.32L362.77 167.03L362.81 164.35L362.86 169.82L362.91 166.95L363.00 173.81L363.05 162.43L363.09 168.71L363.14 165.45L363.19 167.84L363.23 173.63L363.28 164.84L363.33 165.12L363.42 162.49L363.47 168.80L363.51 167.59L363.56 170.68L363.61 169.61L363.70 171.36L363.75 170.19L363.79 167.62L363.84 171.27L363.89 170.50L363.98 173.96L364.03 171.31L364.12 166.72L364.17 164.43L364.26 168.79L364.31 169.76L364.40 168.48L364.45 172.95L364.49 166.10L364.54 168.16L364.59 169.03L364.63 171.89L364.68 163.57L364.73 162.52L364.77 172.48L364.82 161.98L364.86 169.30L364.91 165.42L364.96 175.18L365.00 167.74L365.05 164.42L365.10 168.36L365.14 164.25L365.19 167.29L365.24 164.22L365.28 161.11L365.33 171.68L365.38 167.53L365.42 171.90L365.47 176.33L365.52 172.14L365.56 166.55L365.61 164.97L365.66 165.77L365.70 167.19L365.80 171.29L365.84 168.14L365.94 177.50L365.98 164.38L366.08 174.08L366.12 166.11L366.17 166.79L366.22 161.82L366.26 170.32L366.31 171.78L366.36 164.33L366.40 169.70L366.45 164.08L366.50 166.26L366.54 174.90L366.59 172.89L366.64 173.33L366.68 163.52L366.78 166.06L366.82 173.54L366.87 167.03L366.92 184.73L366.96 167.96L367.01 168.51L367.06 164.15L367.10 166.30L367.15 172.41L367.19 168.53L367.24 173.08L367.29 169.89L367.33 170.97L367.38 158.60L367.43 171.25L367.47 170.39L367.52 167.93L367.57 161.49L367.61 172.51L367.66 163.65L367.75 171.80L367.80 169.86L367.85 161.43L367.89 177.04L367.94 174.37L367.99 177.47L368.03 171.98L368.08 168.25L368.13 172.84L368.17 166.89L368.22 167.48L368.27 165.86L368.31 169.09L368.36 168.95L368.41 171.03L368.45 164.02L368.50 167.78L368.55 164.26L368.59 171.82L368.64 167.93L368.69 168.53L368.73 172.78L368.78 170.27L368.83 175.67L368.92 160.73L368.97 167.98L369.01 174.14L369.06 165.60L369.11 164.05L369.15 161.30L369.20 165.93L369.25 164.73L369.34 171.68L369.38 167.25L369.48 173.55L369.52 161.83L369.62 172.16L369.66 169.76L369.71 164.51L369.76 169.04L369.80 171.12L369.85 163.33L369.90 171.39L369.94 165.20L370.04 170.50L370.08 164.23L370.13 165.37L370.18 165.14L370.22 168.01L370.32 183.22L370.36 169.45L370.46 164.61L370.50 159.80L370.55 167.92L370.60 159.57L370.64 168.48L370.74 163.67L370.78 175.80L370.83 161.79L370.88 172.76L370.92 168.64L370.97 171.83L371.02 170.91L371.06 173.16L371.16 162.72L371.20 173.09L371.25 164.17L371.30 166.35L371.34 165.21L371.39 166.24L371.44 164.83L371.48 165.24L371.58 174.48L371.62 164.27L371.67 166.11L371.72 162.14L371.76 167.82L371.85 171.93L371.90 176.49L371.99 162.56L372.04 168.73L372.13 164.96L372.18 174.98L372.23 166.96L372.27 172.79L372.32 167.35L372.37 165.84L372.41 169.19L372.46 168.34L372.55 160.81L372.60 172.20L372.65 169.64L372.69 171.16L372.74 172.55L372.79 166.18L372.83 170.60L372.88 163.86L372.93 163.76L372.97 168.56L373.02 172.52L373.07 167.81L373.11 168.25L373.16 170.82L373.21 163.44L373.25 168.73L373.30 172.64L373.35 165.79L373.39 174.44L373.44 164.03L373.49 169.01L373.53 162.87L373.58 167.77L373.63 174.54L373.67 170.83L373.72 167.00L373.77 170.28L373.81 169.03L373.86 166.16L373.91 174.52L373.95 170.22L374.00 172.83L374.09 165.67L374.14 168.82L374.18 172.52L374.23 170.41L374.28 170.39L374.37 166.29L374.42 166.99L374.46 165.72L374.51 172.17L374.56 172.99L374.60 174.74L374.65 165.26L374.70 167.61L374.74 172.31L374.79 165.74L374.84 170.07L374.93 172.28L374.98 167.70L375.02 167.07L375.07 167.51L375.12 169.32L375.21 168.79L375.26 169.80L375.30 180.17L375.35 170.35L375.40 170.34L375.44 167.37L375.49 170.04L375.54 169.44L375.63 172.06L375.68 175.48L375.77 168.11L375.82 167.61L375.91 162.89L375.96 168.30L376.00 167.62L376.05 170.18L376.10 168.17L376.14 172.36L376.19 170.26L376.24 168.08L376.28 165.92L376.33 170.96L376.38 170.38L376.42 164.92L376.47 169.28L376.51 167.25L376.56 164.91L376.61 167.91L376.65 169.78L376.70 163.63L376.75 169.71L376.79 167.08L376.84 171.98L376.89 162.20L376.93 170.23L376.98 162.51L377.03 169.69L377.07 169.33L377.12 173.92L377.17 173.01L377.21 168.03L377.26 165.02L377.31 171.01L377.35 168.53L377.40 165.04L377.45 168.60L377.49 170.82L377.54 167.83L377.59 168.77L377.63 169.72L377.68 165.46L377.73 176.41L377.77 162.62L377.87 172.95L377.91 166.54L377.96 167.93L378.01 164.21L378.05 165.07L378.10 168.69L378.15 165.99L378.19 162.93L378.24 162.87L378.29 166.36L378.33 167.92L378.38 171.06L378.43 166.55L378.47 165.60L378.57 176.52L378.61 169.61L378.66 170.44L378.71 167.73L378.75 168.92L378.80 168.49L378.84 168.96L378.89 165.28L378.94 171.60L378.98 167.41L379.03 171.32L379.08 165.69L379.12 166.86L379.17 167.43L379.22 164.87L379.26 165.96L379.31 163.85L379.36 173.64L379.40 167.93L379.45 170.88L379.50 163.24L379.54 166.25L379.59 169.15L379.64 164.76L379.68 168.57L379.73 167.50L379.78 169.09L379.82 164.09L379.87 167.81L379.92 163.40L379.96 171.11L380.01 167.60L380.06 171.64L380.10 164.88L380.15 168.53L380.20 172.08L380.24 165.16L380.29 164.81L380.38 170.61L380.43 166.89L380.48 162.41L380.52 171.63L380.57 174.90L380.62 168.16L380.66 173.45L380.71 174.74L380.80 166.42L380.85 165.03L380.90 166.63L380.94 165.66L380.99 167.64L381.03 162.74L381.08 169.23L381.13 170.53L381.17 162.66L381.22 165.54L381.27 168.24L381.31 167.41L381.36 170.06L381.41 171.16L381.45 175.23L381.50 175.09L381.55 166.23L381.64 170.85L381.69 170.07L381.78 163.02L381.83 168.13L381.87 171.69L381.92 170.18L381.97 168.97L382.01 165.57L382.06 167.55L382.11 165.28L382.15 173.25L382.20 166.76L382.25 162.03L382.34 169.11L382.39 166.75L382.43 164.46L382.48 166.77L382.53 164.20L382.57 174.21L382.62 166.85L382.67 166.99L382.71 166.47L382.76 168.03L382.81 168.38L382.85 166.60L382.90 172.79L382.95 170.07L383.04 166.66L383.09 168.12L383.13 170.69L383.18 164.76L383.23 166.92L383.27 167.53L383.32 166.25L383.37 167.32L383.41 163.60L383.46 168.48L383.50 171.83L383.60 166.03L383.64 165.00L383.74 168.31L383.78 162.59L383.88 170.47L383.92 165.44L383.97 170.55L384.02 163.74L384.06 171.33L384.11 167.18L384.16 167.24L384.20 169.70L384.25 175.11L384.30 166.89L384.34 166.91L384.44 169.76L384.48 172.99L384.53 170.45L384.58 175.18L384.62 162.08L384.67 169.20L384.72 163.64L384.76 168.40L384.81 162.73L384.86 170.15L384.90 170.63L384.95 170.94L385.00 167.55L385.04 171.34L385.09 173.49L385.14 162.76L385.18 163.28L385.23 170.42L385.28 164.68L385.32 177.48L385.42 161.22L385.46 161.23L385.51 165.11L385.56 163.88L385.60 166.92L385.65 162.62L385.69 169.24L385.74 177.54L385.79 163.95L385.83 167.32L385.88 167.68L385.97 165.37L386.02 173.07L386.07 167.31L386.11 170.42L386.16 168.85L386.21 163.79L386.25 168.06L386.30 170.09L386.35 167.36L386.39 168.29L386.44 167.54L386.49 164.75L386.53 167.70L386.58 169.32L386.63 168.55L386.67 171.77L386.72 162.88L386.81 175.26L386.86 168.21L386.91 163.45L386.95 174.25L387.00 169.20L387.05 161.74L387.09 166.33L387.14 164.98L387.19 171.54L387.23 162.41L387.28 165.75L387.33 163.00L387.37 171.48L387.42 169.82L387.47 171.34L387.51 166.40L387.56 171.44L387.65 162.58L387.70 164.78L387.75 170.13L387.79 165.90L387.84 171.46L387.89 164.90L387.93 172.30L387.98 165.15L388.02 164.23L388.07 172.88L388.12 164.34L388.21 162.35L388.26 162.72L388.30 165.18L388.35 165.10L388.40 169.95L388.44 161.20L388.49 167.12L388.54 163.99L388.63 167.37L388.68 171.75L388.72 165.14L388.77 166.88L388.82 171.09L388.86 162.14L388.91 166.07L388.96 169.07L389.00 169.37L389.05 162.85L389.10 168.88L389.14 168.78L389.19 175.16L389.24 168.28L389.28 169.70L389.33 164.12L389.38 162.78L389.47 173.41L389.52 166.22L389.56 162.43L389.61 168.24L389.66 168.03L389.70 167.56L389.75 173.05L389.80 168.82L389.89 166.56L389.94 167.02L390.03 168.82L390.08 160.90L390.17 164.62L390.22 166.43L390.26 162.29L390.31 170.34L390.36 164.46L390.45 167.71L390.49 174.18L390.59 162.88L390.63 171.60L390.68 164.77L390.73 167.94L390.77 168.86L390.87 162.78L390.91 164.56L390.96 162.87L391.01 171.26L391.05 169.50L391.10 163.15L391.15 167.29L391.19 168.44L391.24 173.14L391.29 168.99L391.33 169.28L391.38 165.43L391.43 167.73L391.47 174.32L391.52 175.21L391.57 163.60L391.61 172.82L391.66 173.37L391.71 172.56L391.75 169.68L391.80 166.27L391.85 167.64L391.89 170.00L391.94 169.25L391.99 170.65L392.03 168.53L392.08 170.18L392.13 167.18L392.17 171.62L392.27 166.67L392.31 171.18L392.41 165.74L392.45 168.52L392.50 168.81L392.55 168.42L392.59 167.25L392.64 178.69L392.69 166.64L392.73 168.50L392.78 161.54L392.82 173.77L392.87 163.41L392.96 169.05L393.01 167.34L393.10 172.86L393.15 166.48L393.20 165.85L393.24 172.02L393.29 165.26L393.34 167.34L393.38 165.64L393.43 165.94L393.48 167.45L393.52 161.80L393.57 167.87L393.62 173.69L393.66 164.98L393.71 174.44L393.76 167.66L393.80 169.00L393.85 177.10L393.94 160.79L393.99 170.95L394.04 177.53L394.08 172.05L394.13 169.79L394.18 164.98L394.22 174.74L394.27 168.29L394.36 169.21L394.41 164.46L394.50 176.95L394.55 168.70L394.60 171.15L394.64 169.29L394.69 166.60L394.74 178.14L394.78 168.36L394.83 167.56L394.92 176.41L394.97 163.71L395.06 174.58L395.11 171.04L395.15 171.46L395.20 169.29L395.25 173.09L395.29 165.96L395.34 167.65L395.39 164.88L395.43 168.35L395.48 162.57L395.53 172.32L395.57 165.44L395.62 165.71L395.67 168.33L395.71 166.51L395.76 169.24L395.81 173.55L395.90 164.86L395.95 177.39L395.99 162.38L396.04 173.71L396.09 165.51L396.13 172.84L396.18 165.59L396.23 171.07L396.27 167.20L396.32 167.63L396.37 167.79L396.41 166.43L396.46 168.38L396.51 169.24L396.55 163.52L396.60 169.57L396.65 168.23L396.69 165.90L396.74 171.10L396.79 169.47L396.83 167.63L396.88 167.81L396.93 168.52L396.97 169.74L397.02 167.03L397.07 165.75L397.11 173.64L397.16 171.12L397.21 168.34L397.30 165.18L397.35 166.33L397.44 171.92L397.48 166.71L397.58 171.97L397.62 165.06L397.67 170.59L397.72 169.62L397.76 167.30L397.81 177.70L397.86 159.54L397.90 163.08L397.95 161.44L398.00 168.42L398.04 167.58L398.09 164.57L398.14 167.61L398.18 166.84L398.28 171.45L398.32 163.53L398.42 167.47L398.46 170.23L398.51 160.48L398.56 169.41L398.60 176.22L398.65 166.22L398.70 177.60L398.74 163.44L398.79 170.32L398.84 168.02L398.88 167.89L398.98 173.46L399.02 166.14L399.12 171.23L399.16 165.32L399.26 171.76L399.30 167.95L399.40 179.36L399.44 164.89L399.49 168.01L399.54 163.66L399.58 167.23L399.68 166.49L399.72 165.82L399.77 165.61L399.81 172.33L399.86 166.33L399.91 176.66L399.95 166.87L400.00 160.65L400.09 162.59L400.14 170.44L400.19 165.54L400.23 171.37L400.28 164.32L400.37 170.23L400.42 166.48L400.47 164.06L400.51 173.84L400.56 168.87L400.65 166.88L400.70 170.98L400.75 168.12L400.79 170.56L400.84 164.57L400.93 162.36L400.98 170.50L401.03 170.80L401.12 163.67L401.17 166.86L401.26 174.73L401.31 169.24L401.40 163.85L401.45 173.50L401.49 165.86L401.54 166.49L401.59 160.51L401.68 174.07L401.73 169.95L401.77 168.62L401.82 170.45L401.87 169.78L401.91 173.44L401.96 169.56L402.00 171.24L402.05 168.90L402.10 169.81L402.14 167.18L402.24 167.82L402.28 168.63L402.33 173.25L402.38 168.65L402.42 163.42L402.47 167.97L402.52 167.69L402.56 166.10L402.66 170.21L402.70 168.99L402.80 171.95L402.84 167.93L402.94 172.23L402.98 167.23L403.03 165.70L403.08 168.47L403.12 170.06L403.17 161.54L403.22 167.36L403.26 169.88L403.36 162.59L403.40 173.01L403.50 168.97L403.54 165.53L403.59 172.52L403.64 163.35L403.68 166.96L403.73 161.92L403.78 167.42L403.82 166.02L403.87 164.75L403.92 169.45L403.96 172.45L404.01 169.00L404.06 174.24L404.10 173.11L404.20 166.42L404.24 164.65L404.29 163.05L404.34 170.59L404.38 173.54L404.43 162.82L404.47 167.36L404.52 167.45L404.57 173.68L404.61 172.23L404.66 165.25L404.71 170.60L404.75 163.48L404.80 171.88L404.85 163.15L404.89 173.07L404.94 174.11L404.99 168.97L405.03 170.51L405.08 170.86L405.17 165.07L405.22 172.73L405.31 162.96L405.36 163.38L405.45 169.56" stroke="#ff7f0e" stroke-opacity="0.5" stroke-width="1.2"/>
</g>
<rect x="172.5" y="91.45" width="233.00" height="116.55" fill="none" stroke="#000" stroke-width="0.72"/>
<path d="M172.50 208.0v3.0M289.00 208.0v3.0M405.50 208.0v3.0M172.5 208.00h-3.0999999999999996M172.5 91.45h-3.0999999999999996" stroke="#000" stroke-width="0.72" fill="none"/>
<text x="172.50" y="219.60" font-size="8.2" text-anchor="middle" textLength="25.45" lengthAdjust="spacing">15000</text>
<text x="289.00" y="219.60" font-size="8.2" text-anchor="middle" textLength="25.45" lengthAdjust="spacing">17500</text>
<text x="405.50" y="219.60" font-size="8.2" text-anchor="middle" textLength="25.45" lengthAdjust="spacing">20000</text>
<text x="166.20" y="210.90" font-size="8.2" text-anchor="end" textLength="17.81" lengthAdjust="spacing">10.0</text>
<text x="166.20" y="94.35" font-size="8.2" text-anchor="end" textLength="17.81" lengthAdjust="spacing">11.5</text>
<text x="288.7" y="86.7" text-anchor="middle" textLength="43.3" lengthAdjust="spacing">Zoomed In</text>
<rect x="401.3" y="245.4" width="79.10" height="37.90" rx="1.6" ry="1.6" fill="#fff" fill-opacity="0.8" stroke="#ccc" stroke-opacity="0.8" stroke-width="0.75"/>
<path d="M404.1 251.85H421.5" stroke="#1f77b4" stroke-opacity="0.5" stroke-width="1.3"/>
<path d="M404.1 263.8H421.5" stroke="#ff7f0e" stroke-opacity="0.5" stroke-width="1.3"/>
<path d="M404.3 275.9H421.3" stroke="#000" stroke-width="1.32" stroke-dasharray="4.7 1.5"/>
<text x="427.2" y="254.75" textLength="41.8" lengthAdjust="spacing">DroQ-0.01</text>
<text x="427.2" y="266.70" textLength="36.7" lengthAdjust="spacing">DroQ-0.1</text>
<text x="427.2" y="278.80" textLength="50.3" lengthAdjust="spacing">log(100001)</text>
</svg>
</body>
</html>
